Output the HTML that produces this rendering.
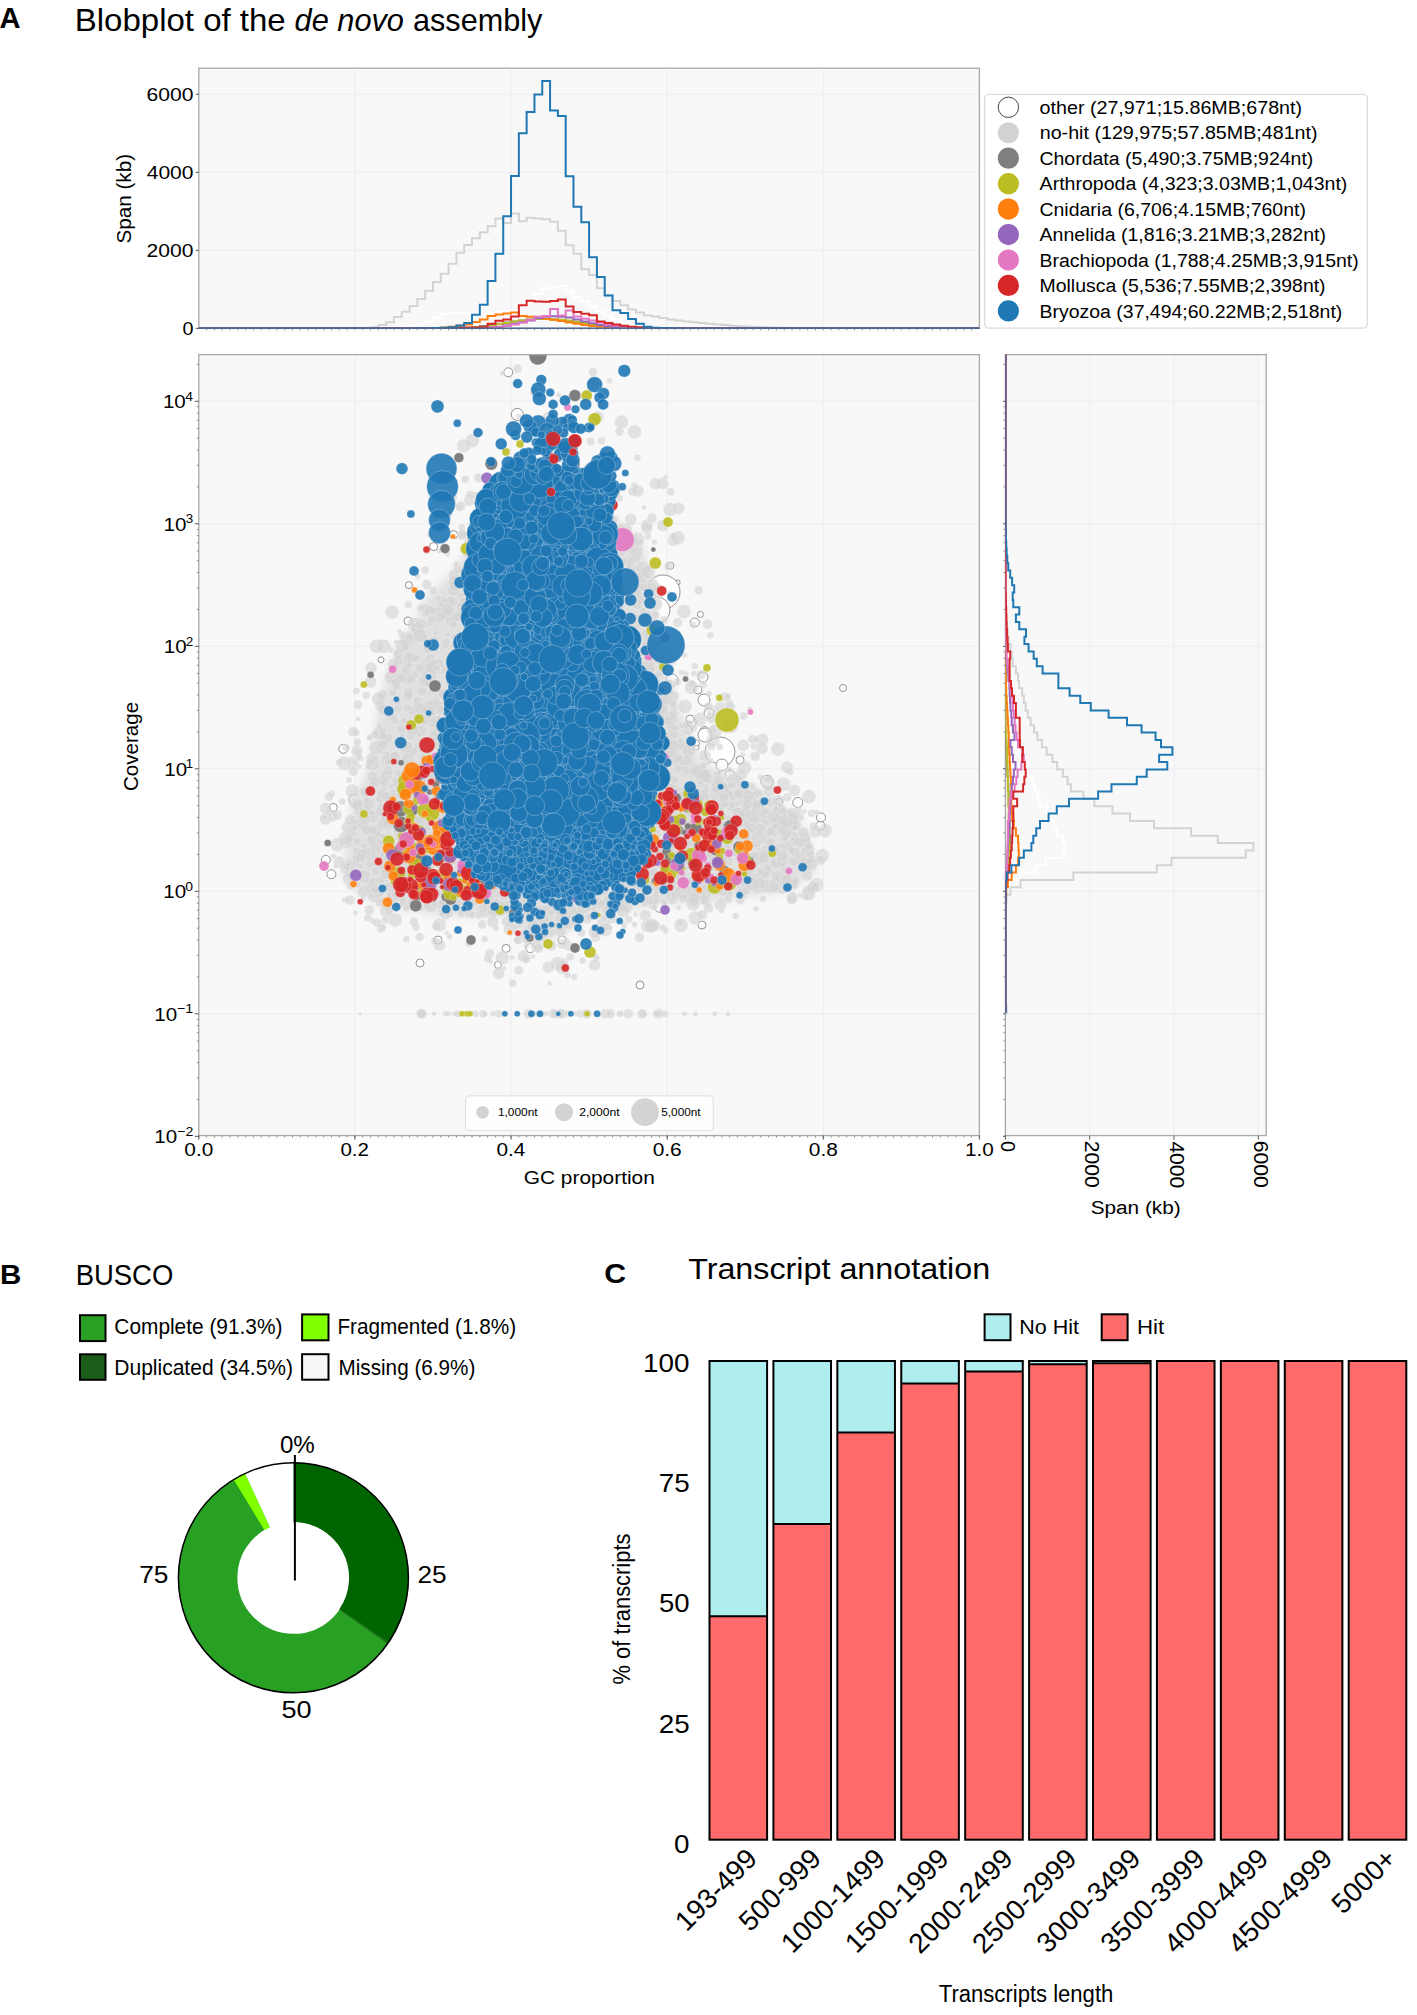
<!DOCTYPE html><html><head><meta charset="utf-8"><style>html,body{margin:0;padding:0;background:#fff;}svg{display:block;}text{font-family:"Liberation Sans",sans-serif;}</style></head><body>
<svg width="1417" height="2015" viewBox="0 0 1417 2015">
<rect width="1417" height="2015" fill="#fff"/>
<text x="-0.43" y="28.30" font-size="29.00" font-weight="bold" textLength="21.02" lengthAdjust="spacingAndGlyphs" fill="#000">A</text>
<text x="74.78" y="31.20" font-size="30.50" textLength="210.97" lengthAdjust="spacingAndGlyphs" fill="#000">Blobplot of the</text>
<text x="294.60" y="31.20" font-size="30.50" font-style="italic" textLength="109.36" lengthAdjust="spacingAndGlyphs" fill="#000">de novo</text>
<text x="413.00" y="31.20" font-size="30.50" textLength="129.31" lengthAdjust="spacingAndGlyphs" fill="#000">assembly</text>
<rect x="198.8" y="68.2" width="780.60" height="260.20" fill="#f8f8f8"/>
<line x1="198.8" x2="979.4" y1="250.37" y2="250.37" stroke="#eeeef3" stroke-width="1.2"/>
<line x1="198.8" x2="979.4" y1="172.34" y2="172.34" stroke="#eeeef3" stroke-width="1.2"/>
<line x1="198.8" x2="979.4" y1="94.31" y2="94.31" stroke="#eeeef3" stroke-width="1.2"/>
<line x1="354.92" x2="354.92" y1="68.2" y2="328.4" stroke="#eeeef3" stroke-width="1.2"/>
<line x1="511.04" x2="511.04" y1="68.2" y2="328.4" stroke="#eeeef3" stroke-width="1.2"/>
<line x1="667.16" x2="667.16" y1="68.2" y2="328.4" stroke="#eeeef3" stroke-width="1.2"/>
<line x1="823.28" x2="823.28" y1="68.2" y2="328.4" stroke="#eeeef3" stroke-width="1.2"/>
<rect x="198.8" y="68.2" width="780.60" height="260.20" fill="none" stroke="#a8a8a8" stroke-width="1.3"/>
<clipPath id="clipT"><rect x="198.8" y="68.2" width="780.60" height="260.20"/></clipPath>
<g clip-path="url(#clipT)">
<path d="M198.80,328.40 L198.80,328.40 L206.61,328.40 L206.61,328.40 L214.41,328.40 L214.41,328.40 L222.22,328.40 L222.22,328.40 L230.02,328.40 L230.02,328.40 L237.83,328.40 L237.83,328.40 L245.64,328.40 L245.64,328.40 L253.44,328.40 L253.44,328.40 L261.25,328.40 L261.25,328.40 L269.05,328.40 L269.05,328.40 L276.86,328.40 L276.86,328.40 L284.67,328.40 L284.67,328.40 L292.47,328.40 L292.47,328.40 L300.28,328.40 L300.28,328.40 L308.08,328.40 L308.08,328.40 L315.89,328.40 L315.89,328.40 L323.70,328.40 L323.70,328.40 L331.50,328.40 L331.50,328.40 L339.31,328.40 L339.31,328.40 L347.11,328.40 L347.11,328.40 L354.92,328.40 L354.92,328.40 L362.73,328.40 L362.73,328.40 L370.53,328.40 L370.53,328.40 L378.34,328.40 L378.34,328.40 L386.14,328.40 L386.14,327.62 L393.95,327.62 L393.95,326.84 L401.76,326.84 L401.76,326.06 L409.56,326.06 L409.56,324.89 L417.37,324.89 L417.37,323.33 L425.17,323.33 L425.17,321.38 L432.98,321.38 L432.98,317.48 L440.79,317.48 L440.79,314.35 L448.59,314.35 L448.59,313.18 L456.40,313.18 L456.40,313.11 L464.20,313.11 L464.20,313.57 L472.01,313.57 L472.01,313.96 L479.82,313.96 L479.82,313.57 L487.62,313.57 L487.62,312.79 L495.43,312.79 L495.43,312.01 L503.23,312.01 L503.23,311.23 L511.04,311.23 L511.04,310.84 L518.85,310.84 L518.85,306.94 L526.65,306.94 L526.65,301.09 L534.46,301.09 L534.46,294.07 L542.26,294.07 L542.26,288.72 L550.07,288.72 L550.07,287.32 L557.88,287.32 L557.88,285.91 L565.68,285.91 L565.68,291.49 L573.49,291.49 L573.49,297.11 L581.29,297.11 L581.29,301.40 L589.10,301.40 L589.10,307.02 L596.91,307.02 L596.91,312.01 L604.71,312.01 L604.71,316.19 L612.52,316.19 L612.52,319.70 L620.32,319.70 L620.32,322.59 L628.13,322.59 L628.13,324.69 L635.94,324.69 L635.94,326.06 L643.74,326.06 L643.74,326.84 L651.55,326.84 L651.55,327.42 L659.35,327.42 L659.35,327.81 L667.16,327.81 L667.16,328.09 L674.97,328.09 L674.97,328.40 L682.77,328.40 L682.77,328.40 L690.58,328.40 L690.58,328.40 L698.38,328.40 L698.38,328.40 L706.19,328.40 L706.19,328.40 L714.00,328.40 L714.00,328.40 L721.80,328.40 L721.80,328.40 L729.61,328.40 L729.61,328.40 L737.41,328.40 L737.41,328.40 L745.22,328.40 L745.22,328.40 L753.03,328.40 L753.03,328.40 L760.83,328.40 L760.83,328.40 L768.64,328.40 L768.64,328.40 L776.44,328.40 L776.44,328.40 L784.25,328.40 L784.25,328.40 L792.06,328.40 L792.06,328.40 L799.86,328.40 L799.86,328.40 L807.67,328.40 L807.67,328.40 L815.47,328.40 L815.47,328.40 L823.28,328.40 L823.28,328.40 L831.09,328.40 L831.09,328.40 L838.89,328.40 L838.89,328.40 L846.70,328.40 L846.70,328.40 L854.50,328.40 L854.50,328.40 L862.31,328.40 L862.31,328.40 L870.12,328.40 L870.12,328.40 L877.92,328.40 L877.92,328.40 L885.73,328.40 L885.73,328.40 L893.53,328.40 L893.53,328.40 L901.34,328.40 L901.34,328.40 L909.15,328.40 L909.15,328.40 L916.95,328.40 L916.95,328.40 L924.76,328.40 L924.76,328.40 L932.56,328.40 L932.56,328.40 L940.37,328.40 L940.37,328.40 L948.18,328.40 L948.18,328.40 L955.98,328.40 L955.98,328.40 L963.79,328.40 L963.79,328.40 L971.59,328.40 L971.59,328.40 L979.40,328.40 L979.40,328.40" fill="none" stroke="#ffffff" stroke-width="2" stroke-linejoin="miter"/>
<path d="M198.80,328.40 L198.80,328.40 L206.61,328.40 L206.61,328.40 L214.41,328.40 L214.41,328.40 L222.22,328.40 L222.22,328.40 L230.02,328.40 L230.02,328.40 L237.83,328.40 L237.83,328.40 L245.64,328.40 L245.64,328.40 L253.44,328.40 L253.44,328.40 L261.25,328.40 L261.25,328.40 L269.05,328.40 L269.05,328.40 L276.86,328.40 L276.86,328.40 L284.67,328.40 L284.67,328.40 L292.47,328.40 L292.47,328.40 L300.28,328.40 L300.28,328.40 L308.08,328.40 L308.08,328.40 L315.89,328.40 L315.89,328.28 L323.70,328.28 L323.70,328.24 L331.50,328.24 L331.50,328.20 L339.31,328.20 L339.31,328.17 L347.11,328.17 L347.11,328.09 L354.92,328.09 L354.92,328.01 L362.73,328.01 L362.73,327.89 L370.53,327.89 L370.53,327.23 L378.34,327.23 L378.34,325.08 L386.14,325.08 L386.14,322.20 L393.95,322.20 L393.95,317.01 L401.76,317.01 L401.76,311.70 L409.56,311.70 L409.56,306.01 L417.37,306.01 L417.37,298.98 L425.17,298.98 L425.17,290.79 L432.98,290.79 L432.98,281.97 L440.79,281.97 L440.79,273.78 L448.59,273.78 L448.59,263.67 L456.40,263.67 L456.40,252.79 L464.20,252.79 L464.20,244.99 L472.01,244.99 L472.01,238.28 L479.82,238.28 L479.82,232.27 L487.62,232.27 L487.62,226.26 L495.43,226.26 L495.43,218.46 L503.23,218.46 L503.23,222.94 L511.04,222.94 L511.04,213.58 L518.85,213.58 L518.85,221.26 L526.65,221.26 L526.65,217.75 L534.46,217.75 L534.46,218.46 L542.26,218.46 L542.26,219.16 L550.07,219.16 L550.07,221.77 L557.88,221.77 L557.88,230.78 L565.68,230.78 L565.68,245.30 L573.49,245.30 L573.49,253.76 L581.29,253.76 L581.29,269.29 L589.10,269.29 L589.10,274.99 L596.91,274.99 L596.91,288.37 L604.71,288.37 L604.71,295.24 L612.52,295.24 L612.52,301.09 L620.32,301.09 L620.32,305.30 L628.13,305.30 L628.13,309.48 L635.94,309.48 L635.94,312.40 L643.74,312.40 L643.74,315.21 L651.55,315.21 L651.55,316.38 L659.35,316.38 L659.35,317.98 L667.16,317.98 L667.16,319.39 L674.97,319.39 L674.97,320.60 L682.77,320.60 L682.77,321.38 L690.58,321.38 L690.58,322.16 L698.38,322.16 L698.38,322.94 L706.19,322.94 L706.19,323.72 L714.00,323.72 L714.00,324.50 L721.80,324.50 L721.80,325.08 L729.61,325.08 L729.61,325.67 L737.41,325.67 L737.41,326.25 L745.22,326.25 L745.22,326.64 L753.03,326.64 L753.03,327.03 L760.83,327.03 L760.83,327.31 L768.64,327.31 L768.64,327.62 L776.44,327.62 L776.44,327.81 L784.25,327.81 L784.25,328.01 L792.06,328.01 L792.06,328.09 L799.86,328.09 L799.86,328.20 L807.67,328.20 L807.67,328.24 L815.47,328.24 L815.47,328.28 L823.28,328.28 L823.28,328.40 L831.09,328.40 L831.09,328.40 L838.89,328.40 L838.89,328.40 L846.70,328.40 L846.70,328.40 L854.50,328.40 L854.50,328.40 L862.31,328.40 L862.31,328.40 L870.12,328.40 L870.12,328.40 L877.92,328.40 L877.92,328.40 L885.73,328.40 L885.73,328.40 L893.53,328.40 L893.53,328.40 L901.34,328.40 L901.34,328.40 L909.15,328.40 L909.15,328.40 L916.95,328.40 L916.95,328.40 L924.76,328.40 L924.76,328.40 L932.56,328.40 L932.56,328.40 L940.37,328.40 L940.37,328.40 L948.18,328.40 L948.18,328.40 L955.98,328.40 L955.98,328.40 L963.79,328.40 L963.79,328.40 L971.59,328.40 L971.59,328.40 L979.40,328.40 L979.40,328.40" fill="none" stroke="#d3d3d3" stroke-width="2" stroke-linejoin="miter"/>
<path d="M198.80,328.40 L198.80,328.40 L206.61,328.40 L206.61,328.40 L214.41,328.40 L214.41,328.40 L222.22,328.40 L222.22,328.40 L230.02,328.40 L230.02,328.40 L237.83,328.40 L237.83,328.40 L245.64,328.40 L245.64,328.40 L253.44,328.40 L253.44,328.40 L261.25,328.40 L261.25,328.40 L269.05,328.40 L269.05,328.40 L276.86,328.40 L276.86,328.40 L284.67,328.40 L284.67,328.40 L292.47,328.40 L292.47,328.40 L300.28,328.40 L300.28,328.40 L308.08,328.40 L308.08,328.40 L315.89,328.40 L315.89,328.40 L323.70,328.40 L323.70,328.40 L331.50,328.40 L331.50,328.40 L339.31,328.40 L339.31,328.40 L347.11,328.40 L347.11,328.40 L354.92,328.40 L354.92,328.40 L362.73,328.40 L362.73,328.40 L370.53,328.40 L370.53,328.40 L378.34,328.40 L378.34,328.40 L386.14,328.40 L386.14,328.40 L393.95,328.40 L393.95,328.40 L401.76,328.40 L401.76,328.40 L409.56,328.40 L409.56,328.40 L417.37,328.40 L417.37,328.40 L425.17,328.40 L425.17,328.40 L432.98,328.40 L432.98,328.40 L440.79,328.40 L440.79,328.40 L448.59,328.40 L448.59,328.40 L456.40,328.40 L456.40,328.40 L464.20,328.40 L464.20,328.01 L472.01,328.01 L472.01,327.23 L479.82,327.23 L479.82,326.06 L487.62,326.06 L487.62,324.89 L495.43,324.89 L495.43,323.72 L503.23,323.72 L503.23,322.55 L511.04,322.55 L511.04,321.38 L518.85,321.38 L518.85,320.60 L526.65,320.60 L526.65,319.43 L534.46,319.43 L534.46,318.65 L542.26,318.65 L542.26,319.04 L550.07,319.04 L550.07,319.43 L557.88,319.43 L557.88,320.21 L565.68,320.21 L565.68,321.38 L573.49,321.38 L573.49,322.55 L581.29,322.55 L581.29,323.72 L589.10,323.72 L589.10,324.89 L596.91,324.89 L596.91,326.06 L604.71,326.06 L604.71,326.84 L612.52,326.84 L612.52,327.62 L620.32,327.62 L620.32,328.01 L628.13,328.01 L628.13,328.40 L635.94,328.40 L635.94,328.40 L643.74,328.40 L643.74,328.40 L651.55,328.40 L651.55,328.40 L659.35,328.40 L659.35,328.40 L667.16,328.40 L667.16,328.40 L674.97,328.40 L674.97,328.40 L682.77,328.40 L682.77,328.40 L690.58,328.40 L690.58,328.40 L698.38,328.40 L698.38,328.40 L706.19,328.40 L706.19,328.40 L714.00,328.40 L714.00,328.40 L721.80,328.40 L721.80,328.40 L729.61,328.40 L729.61,328.40 L737.41,328.40 L737.41,328.40 L745.22,328.40 L745.22,328.40 L753.03,328.40 L753.03,328.40 L760.83,328.40 L760.83,328.40 L768.64,328.40 L768.64,328.40 L776.44,328.40 L776.44,328.40 L784.25,328.40 L784.25,328.40 L792.06,328.40 L792.06,328.40 L799.86,328.40 L799.86,328.40 L807.67,328.40 L807.67,328.40 L815.47,328.40 L815.47,328.40 L823.28,328.40 L823.28,328.40 L831.09,328.40 L831.09,328.40 L838.89,328.40 L838.89,328.40 L846.70,328.40 L846.70,328.40 L854.50,328.40 L854.50,328.40 L862.31,328.40 L862.31,328.40 L870.12,328.40 L870.12,328.40 L877.92,328.40 L877.92,328.40 L885.73,328.40 L885.73,328.40 L893.53,328.40 L893.53,328.40 L901.34,328.40 L901.34,328.40 L909.15,328.40 L909.15,328.40 L916.95,328.40 L916.95,328.40 L924.76,328.40 L924.76,328.40 L932.56,328.40 L932.56,328.40 L940.37,328.40 L940.37,328.40 L948.18,328.40 L948.18,328.40 L955.98,328.40 L955.98,328.40 L963.79,328.40 L963.79,328.40 L971.59,328.40 L971.59,328.40 L979.40,328.40 L979.40,328.40" fill="none" stroke="#7f7f7f" stroke-width="2" stroke-linejoin="miter"/>
<path d="M198.80,328.40 L198.80,328.40 L206.61,328.40 L206.61,328.40 L214.41,328.40 L214.41,328.40 L222.22,328.40 L222.22,328.40 L230.02,328.40 L230.02,328.40 L237.83,328.40 L237.83,328.40 L245.64,328.40 L245.64,328.40 L253.44,328.40 L253.44,328.40 L261.25,328.40 L261.25,328.40 L269.05,328.40 L269.05,328.40 L276.86,328.40 L276.86,328.40 L284.67,328.40 L284.67,328.40 L292.47,328.40 L292.47,328.40 L300.28,328.40 L300.28,328.40 L308.08,328.40 L308.08,328.40 L315.89,328.40 L315.89,328.40 L323.70,328.40 L323.70,328.40 L331.50,328.40 L331.50,328.40 L339.31,328.40 L339.31,328.40 L347.11,328.40 L347.11,328.40 L354.92,328.40 L354.92,328.40 L362.73,328.40 L362.73,328.40 L370.53,328.40 L370.53,328.40 L378.34,328.40 L378.34,328.40 L386.14,328.40 L386.14,328.40 L393.95,328.40 L393.95,328.40 L401.76,328.40 L401.76,328.40 L409.56,328.40 L409.56,328.40 L417.37,328.40 L417.37,328.40 L425.17,328.40 L425.17,328.40 L432.98,328.40 L432.98,328.40 L440.79,328.40 L440.79,328.40 L448.59,328.40 L448.59,328.40 L456.40,328.40 L456.40,328.40 L464.20,328.40 L464.20,328.01 L472.01,328.01 L472.01,327.62 L479.82,327.62 L479.82,327.23 L487.62,327.23 L487.62,325.67 L495.43,325.67 L495.43,324.11 L503.23,324.11 L503.23,322.94 L511.04,322.94 L511.04,321.38 L518.85,321.38 L518.85,320.60 L526.65,320.60 L526.65,319.82 L534.46,319.82 L534.46,319.04 L542.26,319.04 L542.26,319.04 L550.07,319.04 L550.07,319.43 L557.88,319.43 L557.88,319.82 L565.68,319.82 L565.68,320.60 L573.49,320.60 L573.49,321.77 L581.29,321.77 L581.29,322.94 L589.10,322.94 L589.10,324.50 L596.91,324.50 L596.91,325.67 L604.71,325.67 L604.71,326.64 L612.52,326.64 L612.52,327.42 L620.32,327.42 L620.32,328.01 L628.13,328.01 L628.13,328.40 L635.94,328.40 L635.94,328.40 L643.74,328.40 L643.74,328.40 L651.55,328.40 L651.55,328.40 L659.35,328.40 L659.35,328.40 L667.16,328.40 L667.16,328.40 L674.97,328.40 L674.97,328.40 L682.77,328.40 L682.77,328.40 L690.58,328.40 L690.58,328.40 L698.38,328.40 L698.38,328.40 L706.19,328.40 L706.19,328.40 L714.00,328.40 L714.00,328.40 L721.80,328.40 L721.80,328.40 L729.61,328.40 L729.61,328.40 L737.41,328.40 L737.41,328.40 L745.22,328.40 L745.22,328.40 L753.03,328.40 L753.03,328.40 L760.83,328.40 L760.83,328.40 L768.64,328.40 L768.64,328.40 L776.44,328.40 L776.44,328.40 L784.25,328.40 L784.25,328.40 L792.06,328.40 L792.06,328.40 L799.86,328.40 L799.86,328.40 L807.67,328.40 L807.67,328.40 L815.47,328.40 L815.47,328.40 L823.28,328.40 L823.28,328.40 L831.09,328.40 L831.09,328.40 L838.89,328.40 L838.89,328.40 L846.70,328.40 L846.70,328.40 L854.50,328.40 L854.50,328.40 L862.31,328.40 L862.31,328.40 L870.12,328.40 L870.12,328.40 L877.92,328.40 L877.92,328.40 L885.73,328.40 L885.73,328.40 L893.53,328.40 L893.53,328.40 L901.34,328.40 L901.34,328.40 L909.15,328.40 L909.15,328.40 L916.95,328.40 L916.95,328.40 L924.76,328.40 L924.76,328.40 L932.56,328.40 L932.56,328.40 L940.37,328.40 L940.37,328.40 L948.18,328.40 L948.18,328.40 L955.98,328.40 L955.98,328.40 L963.79,328.40 L963.79,328.40 L971.59,328.40 L971.59,328.40 L979.40,328.40 L979.40,328.40" fill="none" stroke="#bcbd22" stroke-width="2" stroke-linejoin="miter"/>
<path d="M198.80,328.40 L198.80,328.40 L206.61,328.40 L206.61,328.40 L214.41,328.40 L214.41,328.40 L222.22,328.40 L222.22,328.40 L230.02,328.40 L230.02,328.40 L237.83,328.40 L237.83,328.40 L245.64,328.40 L245.64,328.40 L253.44,328.40 L253.44,328.40 L261.25,328.40 L261.25,328.40 L269.05,328.40 L269.05,328.40 L276.86,328.40 L276.86,328.40 L284.67,328.40 L284.67,328.40 L292.47,328.40 L292.47,328.40 L300.28,328.40 L300.28,328.40 L308.08,328.40 L308.08,328.40 L315.89,328.40 L315.89,328.40 L323.70,328.40 L323.70,328.40 L331.50,328.40 L331.50,328.40 L339.31,328.40 L339.31,328.40 L347.11,328.40 L347.11,328.40 L354.92,328.40 L354.92,328.40 L362.73,328.40 L362.73,328.40 L370.53,328.40 L370.53,328.40 L378.34,328.40 L378.34,328.40 L386.14,328.40 L386.14,328.40 L393.95,328.40 L393.95,328.40 L401.76,328.40 L401.76,328.40 L409.56,328.40 L409.56,328.40 L417.37,328.40 L417.37,328.20 L425.17,328.20 L425.17,328.09 L432.98,328.09 L432.98,328.01 L440.79,328.01 L440.79,327.62 L448.59,327.62 L448.59,326.84 L456.40,326.84 L456.40,325.67 L464.20,325.67 L464.20,324.38 L472.01,324.38 L472.01,322.00 L479.82,322.00 L479.82,319.39 L487.62,319.39 L487.62,315.88 L495.43,315.88 L495.43,314.39 L503.23,314.39 L503.23,313.38 L511.04,313.38 L511.04,312.40 L518.85,312.40 L518.85,315.88 L526.65,315.88 L526.65,316.70 L534.46,316.70 L534.46,317.48 L542.26,317.48 L542.26,318.65 L550.07,318.65 L550.07,319.82 L557.88,319.82 L557.88,320.99 L565.68,320.99 L565.68,322.55 L573.49,322.55 L573.49,323.72 L581.29,323.72 L581.29,324.89 L589.10,324.89 L589.10,326.06 L596.91,326.06 L596.91,326.84 L604.71,326.84 L604.71,327.42 L612.52,327.42 L612.52,327.81 L620.32,327.81 L620.32,328.09 L628.13,328.09 L628.13,328.40 L635.94,328.40 L635.94,328.40 L643.74,328.40 L643.74,328.40 L651.55,328.40 L651.55,328.40 L659.35,328.40 L659.35,328.40 L667.16,328.40 L667.16,328.40 L674.97,328.40 L674.97,328.40 L682.77,328.40 L682.77,328.40 L690.58,328.40 L690.58,328.40 L698.38,328.40 L698.38,328.40 L706.19,328.40 L706.19,328.40 L714.00,328.40 L714.00,328.40 L721.80,328.40 L721.80,328.40 L729.61,328.40 L729.61,328.40 L737.41,328.40 L737.41,328.40 L745.22,328.40 L745.22,328.40 L753.03,328.40 L753.03,328.40 L760.83,328.40 L760.83,328.40 L768.64,328.40 L768.64,328.40 L776.44,328.40 L776.44,328.40 L784.25,328.40 L784.25,328.40 L792.06,328.40 L792.06,328.40 L799.86,328.40 L799.86,328.40 L807.67,328.40 L807.67,328.40 L815.47,328.40 L815.47,328.40 L823.28,328.40 L823.28,328.40 L831.09,328.40 L831.09,328.40 L838.89,328.40 L838.89,328.40 L846.70,328.40 L846.70,328.40 L854.50,328.40 L854.50,328.40 L862.31,328.40 L862.31,328.40 L870.12,328.40 L870.12,328.40 L877.92,328.40 L877.92,328.40 L885.73,328.40 L885.73,328.40 L893.53,328.40 L893.53,328.40 L901.34,328.40 L901.34,328.40 L909.15,328.40 L909.15,328.40 L916.95,328.40 L916.95,328.40 L924.76,328.40 L924.76,328.40 L932.56,328.40 L932.56,328.40 L940.37,328.40 L940.37,328.40 L948.18,328.40 L948.18,328.40 L955.98,328.40 L955.98,328.40 L963.79,328.40 L963.79,328.40 L971.59,328.40 L971.59,328.40 L979.40,328.40 L979.40,328.40" fill="none" stroke="#ff7f0e" stroke-width="2" stroke-linejoin="miter"/>
<path d="M198.80,328.40 L198.80,328.40 L206.61,328.40 L206.61,328.40 L214.41,328.40 L214.41,328.40 L222.22,328.40 L222.22,328.40 L230.02,328.40 L230.02,328.40 L237.83,328.40 L237.83,328.40 L245.64,328.40 L245.64,328.40 L253.44,328.40 L253.44,328.40 L261.25,328.40 L261.25,328.40 L269.05,328.40 L269.05,328.40 L276.86,328.40 L276.86,328.40 L284.67,328.40 L284.67,328.40 L292.47,328.40 L292.47,328.40 L300.28,328.40 L300.28,328.40 L308.08,328.40 L308.08,328.40 L315.89,328.40 L315.89,328.40 L323.70,328.40 L323.70,328.40 L331.50,328.40 L331.50,328.40 L339.31,328.40 L339.31,328.40 L347.11,328.40 L347.11,328.40 L354.92,328.40 L354.92,328.40 L362.73,328.40 L362.73,328.40 L370.53,328.40 L370.53,328.40 L378.34,328.40 L378.34,328.40 L386.14,328.40 L386.14,328.40 L393.95,328.40 L393.95,328.40 L401.76,328.40 L401.76,328.40 L409.56,328.40 L409.56,328.40 L417.37,328.40 L417.37,328.40 L425.17,328.40 L425.17,328.40 L432.98,328.40 L432.98,328.40 L440.79,328.40 L440.79,328.40 L448.59,328.40 L448.59,328.40 L456.40,328.40 L456.40,328.40 L464.20,328.40 L464.20,328.40 L472.01,328.40 L472.01,328.40 L479.82,328.40 L479.82,328.01 L487.62,328.01 L487.62,327.62 L495.43,327.62 L495.43,326.84 L503.23,326.84 L503.23,325.28 L511.04,325.28 L511.04,323.72 L518.85,323.72 L518.85,322.16 L526.65,322.16 L526.65,320.60 L534.46,320.60 L534.46,318.26 L542.26,318.26 L542.26,316.70 L550.07,316.70 L550.07,316.31 L557.88,316.31 L557.88,316.70 L565.68,316.70 L565.68,317.48 L573.49,317.48 L573.49,319.43 L581.29,319.43 L581.29,321.38 L589.10,321.38 L589.10,323.33 L596.91,323.33 L596.91,324.89 L604.71,324.89 L604.71,326.06 L612.52,326.06 L612.52,327.03 L620.32,327.03 L620.32,327.62 L628.13,327.62 L628.13,328.01 L635.94,328.01 L635.94,328.40 L643.74,328.40 L643.74,328.40 L651.55,328.40 L651.55,328.40 L659.35,328.40 L659.35,328.40 L667.16,328.40 L667.16,328.40 L674.97,328.40 L674.97,328.40 L682.77,328.40 L682.77,328.40 L690.58,328.40 L690.58,328.40 L698.38,328.40 L698.38,328.40 L706.19,328.40 L706.19,328.40 L714.00,328.40 L714.00,328.40 L721.80,328.40 L721.80,328.40 L729.61,328.40 L729.61,328.40 L737.41,328.40 L737.41,328.40 L745.22,328.40 L745.22,328.40 L753.03,328.40 L753.03,328.40 L760.83,328.40 L760.83,328.40 L768.64,328.40 L768.64,328.40 L776.44,328.40 L776.44,328.40 L784.25,328.40 L784.25,328.40 L792.06,328.40 L792.06,328.40 L799.86,328.40 L799.86,328.40 L807.67,328.40 L807.67,328.40 L815.47,328.40 L815.47,328.40 L823.28,328.40 L823.28,328.40 L831.09,328.40 L831.09,328.40 L838.89,328.40 L838.89,328.40 L846.70,328.40 L846.70,328.40 L854.50,328.40 L854.50,328.40 L862.31,328.40 L862.31,328.40 L870.12,328.40 L870.12,328.40 L877.92,328.40 L877.92,328.40 L885.73,328.40 L885.73,328.40 L893.53,328.40 L893.53,328.40 L901.34,328.40 L901.34,328.40 L909.15,328.40 L909.15,328.40 L916.95,328.40 L916.95,328.40 L924.76,328.40 L924.76,328.40 L932.56,328.40 L932.56,328.40 L940.37,328.40 L940.37,328.40 L948.18,328.40 L948.18,328.40 L955.98,328.40 L955.98,328.40 L963.79,328.40 L963.79,328.40 L971.59,328.40 L971.59,328.40 L979.40,328.40 L979.40,328.40" fill="none" stroke="#9467bd" stroke-width="2" stroke-linejoin="miter"/>
<path d="M198.80,328.40 L198.80,328.40 L206.61,328.40 L206.61,328.40 L214.41,328.40 L214.41,328.40 L222.22,328.40 L222.22,328.40 L230.02,328.40 L230.02,328.40 L237.83,328.40 L237.83,328.40 L245.64,328.40 L245.64,328.40 L253.44,328.40 L253.44,328.40 L261.25,328.40 L261.25,328.40 L269.05,328.40 L269.05,328.40 L276.86,328.40 L276.86,328.40 L284.67,328.40 L284.67,328.40 L292.47,328.40 L292.47,328.40 L300.28,328.40 L300.28,328.40 L308.08,328.40 L308.08,328.40 L315.89,328.40 L315.89,328.40 L323.70,328.40 L323.70,328.40 L331.50,328.40 L331.50,328.40 L339.31,328.40 L339.31,328.40 L347.11,328.40 L347.11,328.40 L354.92,328.40 L354.92,328.40 L362.73,328.40 L362.73,328.40 L370.53,328.40 L370.53,328.40 L378.34,328.40 L378.34,328.40 L386.14,328.40 L386.14,328.40 L393.95,328.40 L393.95,328.40 L401.76,328.40 L401.76,328.40 L409.56,328.40 L409.56,328.40 L417.37,328.40 L417.37,328.40 L425.17,328.40 L425.17,328.40 L432.98,328.40 L432.98,328.40 L440.79,328.40 L440.79,328.40 L448.59,328.40 L448.59,328.40 L456.40,328.40 L456.40,328.40 L464.20,328.40 L464.20,328.40 L472.01,328.40 L472.01,328.40 L479.82,328.40 L479.82,328.01 L487.62,328.01 L487.62,327.62 L495.43,327.62 L495.43,327.23 L503.23,327.23 L503.23,326.06 L511.04,326.06 L511.04,324.50 L518.85,324.50 L518.85,322.55 L526.65,322.55 L526.65,319.82 L534.46,319.82 L534.46,316.70 L542.26,316.70 L542.26,315.92 L550.07,315.92 L550.07,309.09 L557.88,309.09 L557.88,315.53 L565.68,315.53 L565.68,310.41 L573.49,310.41 L573.49,316.62 L581.29,316.62 L581.29,318.65 L589.10,318.65 L589.10,320.60 L596.91,320.60 L596.91,322.55 L604.71,322.55 L604.71,324.50 L612.52,324.50 L612.52,325.67 L620.32,325.67 L620.32,326.64 L628.13,326.64 L628.13,327.42 L635.94,327.42 L635.94,328.01 L643.74,328.01 L643.74,328.40 L651.55,328.40 L651.55,328.40 L659.35,328.40 L659.35,328.40 L667.16,328.40 L667.16,328.40 L674.97,328.40 L674.97,328.40 L682.77,328.40 L682.77,328.40 L690.58,328.40 L690.58,328.40 L698.38,328.40 L698.38,328.40 L706.19,328.40 L706.19,328.40 L714.00,328.40 L714.00,328.40 L721.80,328.40 L721.80,328.40 L729.61,328.40 L729.61,328.40 L737.41,328.40 L737.41,328.40 L745.22,328.40 L745.22,328.40 L753.03,328.40 L753.03,328.40 L760.83,328.40 L760.83,328.40 L768.64,328.40 L768.64,328.40 L776.44,328.40 L776.44,328.40 L784.25,328.40 L784.25,328.40 L792.06,328.40 L792.06,328.40 L799.86,328.40 L799.86,328.40 L807.67,328.40 L807.67,328.40 L815.47,328.40 L815.47,328.40 L823.28,328.40 L823.28,328.40 L831.09,328.40 L831.09,328.40 L838.89,328.40 L838.89,328.40 L846.70,328.40 L846.70,328.40 L854.50,328.40 L854.50,328.40 L862.31,328.40 L862.31,328.40 L870.12,328.40 L870.12,328.40 L877.92,328.40 L877.92,328.40 L885.73,328.40 L885.73,328.40 L893.53,328.40 L893.53,328.40 L901.34,328.40 L901.34,328.40 L909.15,328.40 L909.15,328.40 L916.95,328.40 L916.95,328.40 L924.76,328.40 L924.76,328.40 L932.56,328.40 L932.56,328.40 L940.37,328.40 L940.37,328.40 L948.18,328.40 L948.18,328.40 L955.98,328.40 L955.98,328.40 L963.79,328.40 L963.79,328.40 L971.59,328.40 L971.59,328.40 L979.40,328.40 L979.40,328.40" fill="none" stroke="#e377c2" stroke-width="2" stroke-linejoin="miter"/>
<path d="M198.80,328.40 L198.80,328.40 L206.61,328.40 L206.61,328.40 L214.41,328.40 L214.41,328.40 L222.22,328.40 L222.22,328.40 L230.02,328.40 L230.02,328.40 L237.83,328.40 L237.83,328.40 L245.64,328.40 L245.64,328.40 L253.44,328.40 L253.44,328.40 L261.25,328.40 L261.25,328.40 L269.05,328.40 L269.05,328.40 L276.86,328.40 L276.86,328.40 L284.67,328.40 L284.67,328.40 L292.47,328.40 L292.47,328.40 L300.28,328.40 L300.28,328.40 L308.08,328.40 L308.08,328.40 L315.89,328.40 L315.89,328.40 L323.70,328.40 L323.70,328.40 L331.50,328.40 L331.50,328.40 L339.31,328.40 L339.31,328.40 L347.11,328.40 L347.11,328.40 L354.92,328.40 L354.92,328.40 L362.73,328.40 L362.73,328.40 L370.53,328.40 L370.53,328.40 L378.34,328.40 L378.34,328.40 L386.14,328.40 L386.14,328.40 L393.95,328.40 L393.95,328.40 L401.76,328.40 L401.76,328.40 L409.56,328.40 L409.56,328.40 L417.37,328.40 L417.37,328.40 L425.17,328.40 L425.17,328.40 L432.98,328.40 L432.98,328.20 L440.79,328.20 L440.79,328.09 L448.59,328.09 L448.59,327.93 L456.40,327.93 L456.40,327.81 L464.20,327.81 L464.20,327.62 L472.01,327.62 L472.01,327.42 L479.82,327.42 L479.82,327.23 L487.62,327.23 L487.62,323.68 L495.43,323.68 L495.43,320.79 L503.23,320.79 L503.23,319.39 L511.04,319.39 L511.04,316.62 L518.85,316.62 L518.85,305.30 L526.65,305.30 L526.65,300.82 L534.46,300.82 L534.46,301.48 L542.26,301.48 L542.26,301.79 L550.07,301.79 L550.07,301.09 L557.88,301.09 L557.88,299.41 L565.68,299.41 L565.68,306.40 L573.49,306.40 L573.49,311.90 L581.29,311.90 L581.29,313.81 L589.10,313.81 L589.10,315.21 L596.91,315.21 L596.91,321.42 L604.71,321.42 L604.71,322.94 L612.52,322.94 L612.52,324.50 L620.32,324.50 L620.32,325.67 L628.13,325.67 L628.13,326.64 L635.94,326.64 L635.94,327.23 L643.74,327.23 L643.74,327.62 L651.55,327.62 L651.55,327.93 L659.35,327.93 L659.35,328.09 L667.16,328.09 L667.16,328.20 L674.97,328.20 L674.97,328.40 L682.77,328.40 L682.77,328.40 L690.58,328.40 L690.58,328.40 L698.38,328.40 L698.38,328.40 L706.19,328.40 L706.19,328.40 L714.00,328.40 L714.00,328.40 L721.80,328.40 L721.80,328.40 L729.61,328.40 L729.61,328.40 L737.41,328.40 L737.41,328.40 L745.22,328.40 L745.22,328.40 L753.03,328.40 L753.03,328.40 L760.83,328.40 L760.83,328.40 L768.64,328.40 L768.64,328.40 L776.44,328.40 L776.44,328.40 L784.25,328.40 L784.25,328.40 L792.06,328.40 L792.06,328.40 L799.86,328.40 L799.86,328.40 L807.67,328.40 L807.67,328.40 L815.47,328.40 L815.47,328.40 L823.28,328.40 L823.28,328.40 L831.09,328.40 L831.09,328.40 L838.89,328.40 L838.89,328.40 L846.70,328.40 L846.70,328.40 L854.50,328.40 L854.50,328.40 L862.31,328.40 L862.31,328.40 L870.12,328.40 L870.12,328.40 L877.92,328.40 L877.92,328.40 L885.73,328.40 L885.73,328.40 L893.53,328.40 L893.53,328.40 L901.34,328.40 L901.34,328.40 L909.15,328.40 L909.15,328.40 L916.95,328.40 L916.95,328.40 L924.76,328.40 L924.76,328.40 L932.56,328.40 L932.56,328.40 L940.37,328.40 L940.37,328.40 L948.18,328.40 L948.18,328.40 L955.98,328.40 L955.98,328.40 L963.79,328.40 L963.79,328.40 L971.59,328.40 L971.59,328.40 L979.40,328.40 L979.40,328.40" fill="none" stroke="#d62728" stroke-width="2" stroke-linejoin="miter"/>
<path d="M198.80,328.40 L198.80,328.40 L206.61,328.40 L206.61,328.40 L214.41,328.40 L214.41,328.40 L222.22,328.40 L222.22,328.40 L230.02,328.40 L230.02,328.40 L237.83,328.40 L237.83,328.40 L245.64,328.40 L245.64,328.40 L253.44,328.40 L253.44,328.40 L261.25,328.40 L261.25,328.40 L269.05,328.40 L269.05,328.40 L276.86,328.40 L276.86,328.40 L284.67,328.40 L284.67,328.40 L292.47,328.40 L292.47,328.40 L300.28,328.40 L300.28,328.40 L308.08,328.40 L308.08,328.40 L315.89,328.40 L315.89,328.40 L323.70,328.40 L323.70,328.40 L331.50,328.40 L331.50,328.40 L339.31,328.40 L339.31,328.40 L347.11,328.40 L347.11,328.40 L354.92,328.40 L354.92,328.40 L362.73,328.40 L362.73,328.40 L370.53,328.40 L370.53,328.40 L378.34,328.40 L378.34,328.40 L386.14,328.40 L386.14,328.40 L393.95,328.40 L393.95,328.40 L401.76,328.40 L401.76,328.40 L409.56,328.40 L409.56,328.40 L417.37,328.40 L417.37,328.28 L425.17,328.28 L425.17,328.20 L432.98,328.20 L432.98,328.09 L440.79,328.09 L440.79,327.81 L448.59,327.81 L448.59,327.23 L456.40,327.23 L456.40,325.40 L464.20,325.40 L464.20,323.02 L472.01,323.02 L472.01,314.78 L479.82,314.78 L479.82,304.87 L487.62,304.87 L487.62,281.00 L495.43,281.00 L495.43,253.76 L503.23,253.76 L503.23,216.35 L511.04,216.35 L511.04,175.93 L518.85,175.93 L518.85,133.21 L526.65,133.21 L526.65,111.91 L534.46,111.91 L534.46,94.43 L542.26,94.43 L542.26,80.89 L550.07,80.89 L550.07,110.42 L557.88,110.42 L557.88,116.12 L565.68,116.12 L565.68,176.36 L573.49,176.36 L573.49,206.75 L581.29,206.75 L581.29,222.16 L589.10,222.16 L589.10,257.28 L596.91,257.28 L596.91,277.10 L604.71,277.10 L604.71,295.39 L612.52,295.39 L612.52,310.30 L620.32,310.30 L620.32,313.11 L628.13,313.11 L628.13,319.00 L635.94,319.00 L635.94,323.68 L643.74,323.68 L643.74,326.80 L651.55,326.80 L651.55,327.81 L659.35,327.81 L659.35,328.09 L667.16,328.09 L667.16,328.24 L674.97,328.24 L674.97,328.40 L682.77,328.40 L682.77,328.40 L690.58,328.40 L690.58,328.40 L698.38,328.40 L698.38,328.40 L706.19,328.40 L706.19,328.40 L714.00,328.40 L714.00,328.40 L721.80,328.40 L721.80,328.40 L729.61,328.40 L729.61,328.40 L737.41,328.40 L737.41,328.40 L745.22,328.40 L745.22,328.40 L753.03,328.40 L753.03,328.40 L760.83,328.40 L760.83,328.40 L768.64,328.40 L768.64,328.40 L776.44,328.40 L776.44,328.40 L784.25,328.40 L784.25,328.40 L792.06,328.40 L792.06,328.40 L799.86,328.40 L799.86,328.40 L807.67,328.40 L807.67,328.40 L815.47,328.40 L815.47,328.40 L823.28,328.40 L823.28,328.40 L831.09,328.40 L831.09,328.40 L838.89,328.40 L838.89,328.40 L846.70,328.40 L846.70,328.40 L854.50,328.40 L854.50,328.40 L862.31,328.40 L862.31,328.40 L870.12,328.40 L870.12,328.40 L877.92,328.40 L877.92,328.40 L885.73,328.40 L885.73,328.40 L893.53,328.40 L893.53,328.40 L901.34,328.40 L901.34,328.40 L909.15,328.40 L909.15,328.40 L916.95,328.40 L916.95,328.40 L924.76,328.40 L924.76,328.40 L932.56,328.40 L932.56,328.40 L940.37,328.40 L940.37,328.40 L948.18,328.40 L948.18,328.40 L955.98,328.40 L955.98,328.40 L963.79,328.40 L963.79,328.40 L971.59,328.40 L971.59,328.40 L979.40,328.40 L979.40,328.40" fill="none" stroke="#1f77b4" stroke-width="2" stroke-linejoin="miter"/>
</g>
<line x1="198.8" x2="979.4" y1="328.2" y2="328.2" stroke="#46698e" stroke-width="1.6"/>
<line x1="195.80" x2="198.8" y1="328.40" y2="328.40" stroke="#555" stroke-width="1"/>
<text x="182.43" y="335.20" font-size="19.20" textLength="11.00" lengthAdjust="spacingAndGlyphs" fill="#000">0</text>
<line x1="195.80" x2="198.8" y1="250.37" y2="250.37" stroke="#555" stroke-width="1"/>
<text x="146.62" y="257.17" font-size="19.20" textLength="46.91" lengthAdjust="spacingAndGlyphs" fill="#000">2000</text>
<line x1="195.80" x2="198.8" y1="172.34" y2="172.34" stroke="#555" stroke-width="1"/>
<text x="146.73" y="179.14" font-size="19.20" textLength="46.80" lengthAdjust="spacingAndGlyphs" fill="#000">4000</text>
<line x1="195.80" x2="198.8" y1="94.31" y2="94.31" stroke="#555" stroke-width="1"/>
<text x="146.56" y="101.11" font-size="19.20" textLength="46.96" lengthAdjust="spacingAndGlyphs" fill="#000">6000</text>
<line x1="206.61" x2="206.61" y1="328.4" y2="330.4" stroke="#777" stroke-width="0.8"/>
<line x1="214.41" x2="214.41" y1="328.4" y2="330.4" stroke="#777" stroke-width="0.8"/>
<line x1="222.22" x2="222.22" y1="328.4" y2="330.4" stroke="#777" stroke-width="0.8"/>
<line x1="230.02" x2="230.02" y1="328.4" y2="330.4" stroke="#777" stroke-width="0.8"/>
<line x1="237.83" x2="237.83" y1="328.4" y2="330.4" stroke="#777" stroke-width="0.8"/>
<line x1="245.64" x2="245.64" y1="328.4" y2="330.4" stroke="#777" stroke-width="0.8"/>
<line x1="253.44" x2="253.44" y1="328.4" y2="330.4" stroke="#777" stroke-width="0.8"/>
<line x1="261.25" x2="261.25" y1="328.4" y2="330.4" stroke="#777" stroke-width="0.8"/>
<line x1="269.05" x2="269.05" y1="328.4" y2="330.4" stroke="#777" stroke-width="0.8"/>
<line x1="276.86" x2="276.86" y1="328.4" y2="330.4" stroke="#777" stroke-width="0.8"/>
<line x1="284.67" x2="284.67" y1="328.4" y2="330.4" stroke="#777" stroke-width="0.8"/>
<line x1="292.47" x2="292.47" y1="328.4" y2="330.4" stroke="#777" stroke-width="0.8"/>
<line x1="300.28" x2="300.28" y1="328.4" y2="330.4" stroke="#777" stroke-width="0.8"/>
<line x1="308.08" x2="308.08" y1="328.4" y2="330.4" stroke="#777" stroke-width="0.8"/>
<line x1="315.89" x2="315.89" y1="328.4" y2="330.4" stroke="#777" stroke-width="0.8"/>
<line x1="323.70" x2="323.70" y1="328.4" y2="330.4" stroke="#777" stroke-width="0.8"/>
<line x1="331.50" x2="331.50" y1="328.4" y2="330.4" stroke="#777" stroke-width="0.8"/>
<line x1="339.31" x2="339.31" y1="328.4" y2="330.4" stroke="#777" stroke-width="0.8"/>
<line x1="347.11" x2="347.11" y1="328.4" y2="330.4" stroke="#777" stroke-width="0.8"/>
<line x1="354.92" x2="354.92" y1="328.4" y2="330.4" stroke="#777" stroke-width="0.8"/>
<line x1="362.73" x2="362.73" y1="328.4" y2="330.4" stroke="#777" stroke-width="0.8"/>
<line x1="370.53" x2="370.53" y1="328.4" y2="330.4" stroke="#777" stroke-width="0.8"/>
<line x1="378.34" x2="378.34" y1="328.4" y2="330.4" stroke="#777" stroke-width="0.8"/>
<line x1="386.14" x2="386.14" y1="328.4" y2="330.4" stroke="#777" stroke-width="0.8"/>
<line x1="393.95" x2="393.95" y1="328.4" y2="330.4" stroke="#777" stroke-width="0.8"/>
<line x1="401.76" x2="401.76" y1="328.4" y2="330.4" stroke="#777" stroke-width="0.8"/>
<line x1="409.56" x2="409.56" y1="328.4" y2="330.4" stroke="#777" stroke-width="0.8"/>
<line x1="417.37" x2="417.37" y1="328.4" y2="330.4" stroke="#777" stroke-width="0.8"/>
<line x1="425.17" x2="425.17" y1="328.4" y2="330.4" stroke="#777" stroke-width="0.8"/>
<line x1="432.98" x2="432.98" y1="328.4" y2="330.4" stroke="#777" stroke-width="0.8"/>
<line x1="440.79" x2="440.79" y1="328.4" y2="330.4" stroke="#777" stroke-width="0.8"/>
<line x1="448.59" x2="448.59" y1="328.4" y2="330.4" stroke="#777" stroke-width="0.8"/>
<line x1="456.40" x2="456.40" y1="328.4" y2="330.4" stroke="#777" stroke-width="0.8"/>
<line x1="464.20" x2="464.20" y1="328.4" y2="330.4" stroke="#777" stroke-width="0.8"/>
<line x1="472.01" x2="472.01" y1="328.4" y2="330.4" stroke="#777" stroke-width="0.8"/>
<line x1="479.82" x2="479.82" y1="328.4" y2="330.4" stroke="#777" stroke-width="0.8"/>
<line x1="487.62" x2="487.62" y1="328.4" y2="330.4" stroke="#777" stroke-width="0.8"/>
<line x1="495.43" x2="495.43" y1="328.4" y2="330.4" stroke="#777" stroke-width="0.8"/>
<line x1="503.23" x2="503.23" y1="328.4" y2="330.4" stroke="#777" stroke-width="0.8"/>
<line x1="511.04" x2="511.04" y1="328.4" y2="330.4" stroke="#777" stroke-width="0.8"/>
<line x1="518.85" x2="518.85" y1="328.4" y2="330.4" stroke="#777" stroke-width="0.8"/>
<line x1="526.65" x2="526.65" y1="328.4" y2="330.4" stroke="#777" stroke-width="0.8"/>
<line x1="534.46" x2="534.46" y1="328.4" y2="330.4" stroke="#777" stroke-width="0.8"/>
<line x1="542.26" x2="542.26" y1="328.4" y2="330.4" stroke="#777" stroke-width="0.8"/>
<line x1="550.07" x2="550.07" y1="328.4" y2="330.4" stroke="#777" stroke-width="0.8"/>
<line x1="557.88" x2="557.88" y1="328.4" y2="330.4" stroke="#777" stroke-width="0.8"/>
<line x1="565.68" x2="565.68" y1="328.4" y2="330.4" stroke="#777" stroke-width="0.8"/>
<line x1="573.49" x2="573.49" y1="328.4" y2="330.4" stroke="#777" stroke-width="0.8"/>
<line x1="581.29" x2="581.29" y1="328.4" y2="330.4" stroke="#777" stroke-width="0.8"/>
<line x1="589.10" x2="589.10" y1="328.4" y2="330.4" stroke="#777" stroke-width="0.8"/>
<line x1="596.91" x2="596.91" y1="328.4" y2="330.4" stroke="#777" stroke-width="0.8"/>
<line x1="604.71" x2="604.71" y1="328.4" y2="330.4" stroke="#777" stroke-width="0.8"/>
<line x1="612.52" x2="612.52" y1="328.4" y2="330.4" stroke="#777" stroke-width="0.8"/>
<line x1="620.32" x2="620.32" y1="328.4" y2="330.4" stroke="#777" stroke-width="0.8"/>
<line x1="628.13" x2="628.13" y1="328.4" y2="330.4" stroke="#777" stroke-width="0.8"/>
<line x1="635.94" x2="635.94" y1="328.4" y2="330.4" stroke="#777" stroke-width="0.8"/>
<line x1="643.74" x2="643.74" y1="328.4" y2="330.4" stroke="#777" stroke-width="0.8"/>
<line x1="651.55" x2="651.55" y1="328.4" y2="330.4" stroke="#777" stroke-width="0.8"/>
<line x1="659.35" x2="659.35" y1="328.4" y2="330.4" stroke="#777" stroke-width="0.8"/>
<line x1="667.16" x2="667.16" y1="328.4" y2="330.4" stroke="#777" stroke-width="0.8"/>
<line x1="674.97" x2="674.97" y1="328.4" y2="330.4" stroke="#777" stroke-width="0.8"/>
<line x1="682.77" x2="682.77" y1="328.4" y2="330.4" stroke="#777" stroke-width="0.8"/>
<line x1="690.58" x2="690.58" y1="328.4" y2="330.4" stroke="#777" stroke-width="0.8"/>
<line x1="698.38" x2="698.38" y1="328.4" y2="330.4" stroke="#777" stroke-width="0.8"/>
<line x1="706.19" x2="706.19" y1="328.4" y2="330.4" stroke="#777" stroke-width="0.8"/>
<line x1="714.00" x2="714.00" y1="328.4" y2="330.4" stroke="#777" stroke-width="0.8"/>
<line x1="721.80" x2="721.80" y1="328.4" y2="330.4" stroke="#777" stroke-width="0.8"/>
<line x1="729.61" x2="729.61" y1="328.4" y2="330.4" stroke="#777" stroke-width="0.8"/>
<line x1="737.41" x2="737.41" y1="328.4" y2="330.4" stroke="#777" stroke-width="0.8"/>
<line x1="745.22" x2="745.22" y1="328.4" y2="330.4" stroke="#777" stroke-width="0.8"/>
<line x1="753.03" x2="753.03" y1="328.4" y2="330.4" stroke="#777" stroke-width="0.8"/>
<line x1="760.83" x2="760.83" y1="328.4" y2="330.4" stroke="#777" stroke-width="0.8"/>
<line x1="768.64" x2="768.64" y1="328.4" y2="330.4" stroke="#777" stroke-width="0.8"/>
<line x1="776.44" x2="776.44" y1="328.4" y2="330.4" stroke="#777" stroke-width="0.8"/>
<line x1="784.25" x2="784.25" y1="328.4" y2="330.4" stroke="#777" stroke-width="0.8"/>
<line x1="792.06" x2="792.06" y1="328.4" y2="330.4" stroke="#777" stroke-width="0.8"/>
<line x1="799.86" x2="799.86" y1="328.4" y2="330.4" stroke="#777" stroke-width="0.8"/>
<line x1="807.67" x2="807.67" y1="328.4" y2="330.4" stroke="#777" stroke-width="0.8"/>
<line x1="815.47" x2="815.47" y1="328.4" y2="330.4" stroke="#777" stroke-width="0.8"/>
<line x1="823.28" x2="823.28" y1="328.4" y2="330.4" stroke="#777" stroke-width="0.8"/>
<line x1="831.09" x2="831.09" y1="328.4" y2="330.4" stroke="#777" stroke-width="0.8"/>
<line x1="838.89" x2="838.89" y1="328.4" y2="330.4" stroke="#777" stroke-width="0.8"/>
<line x1="846.70" x2="846.70" y1="328.4" y2="330.4" stroke="#777" stroke-width="0.8"/>
<line x1="854.50" x2="854.50" y1="328.4" y2="330.4" stroke="#777" stroke-width="0.8"/>
<line x1="862.31" x2="862.31" y1="328.4" y2="330.4" stroke="#777" stroke-width="0.8"/>
<line x1="870.12" x2="870.12" y1="328.4" y2="330.4" stroke="#777" stroke-width="0.8"/>
<line x1="877.92" x2="877.92" y1="328.4" y2="330.4" stroke="#777" stroke-width="0.8"/>
<line x1="885.73" x2="885.73" y1="328.4" y2="330.4" stroke="#777" stroke-width="0.8"/>
<line x1="893.53" x2="893.53" y1="328.4" y2="330.4" stroke="#777" stroke-width="0.8"/>
<line x1="901.34" x2="901.34" y1="328.4" y2="330.4" stroke="#777" stroke-width="0.8"/>
<line x1="909.15" x2="909.15" y1="328.4" y2="330.4" stroke="#777" stroke-width="0.8"/>
<line x1="916.95" x2="916.95" y1="328.4" y2="330.4" stroke="#777" stroke-width="0.8"/>
<line x1="924.76" x2="924.76" y1="328.4" y2="330.4" stroke="#777" stroke-width="0.8"/>
<line x1="932.56" x2="932.56" y1="328.4" y2="330.4" stroke="#777" stroke-width="0.8"/>
<line x1="940.37" x2="940.37" y1="328.4" y2="330.4" stroke="#777" stroke-width="0.8"/>
<line x1="948.18" x2="948.18" y1="328.4" y2="330.4" stroke="#777" stroke-width="0.8"/>
<line x1="955.98" x2="955.98" y1="328.4" y2="330.4" stroke="#777" stroke-width="0.8"/>
<line x1="963.79" x2="963.79" y1="328.4" y2="330.4" stroke="#777" stroke-width="0.8"/>
<line x1="971.59" x2="971.59" y1="328.4" y2="330.4" stroke="#777" stroke-width="0.8"/>
<g transform="translate(131.00,0) rotate(-90)"><text x="-243.53" y="0.00" font-size="19.50" textLength="89.58" lengthAdjust="spacingAndGlyphs" fill="#000">Span (kb)</text></g>
<rect x="984.6" y="94.3" width="382.8" height="233.8" rx="4" fill="#fff" stroke="#dcdcdc" stroke-width="1.3"/>
<circle cx="1008.4" cy="107.30" r="10.2" fill="#fff" stroke="#444" stroke-width="1"/>
<text x="1039.61" y="113.90" font-size="17.60" textLength="262.47" lengthAdjust="spacingAndGlyphs" fill="#000">other (27,971;15.86MB;678nt)</text>
<circle cx="1008.4" cy="132.75" r="10.6" fill="#d3d3d3"/>
<text x="1039.72" y="139.35" font-size="17.60" textLength="277.86" lengthAdjust="spacingAndGlyphs" fill="#000">no-hit (129,975;57.85MB;481nt)</text>
<circle cx="1008.4" cy="158.20" r="10.6" fill="#7f7f7f"/>
<text x="1039.48" y="164.80" font-size="17.60" textLength="273.81" lengthAdjust="spacingAndGlyphs" fill="#000">Chordata (5,490;3.75MB;924nt)</text>
<circle cx="1008.4" cy="183.65" r="10.6" fill="#bcbd22"/>
<text x="1039.58" y="190.25" font-size="17.60" textLength="307.78" lengthAdjust="spacingAndGlyphs" fill="#000">Arthropoda (4,323;3.03MB;1,043nt)</text>
<circle cx="1008.4" cy="209.10" r="10.6" fill="#ff7f0e"/>
<text x="1039.48" y="215.70" font-size="17.60" textLength="266.42" lengthAdjust="spacingAndGlyphs" fill="#000">Cnidaria (6,706;4.15MB;760nt)</text>
<circle cx="1008.4" cy="234.55" r="10.6" fill="#9467bd"/>
<text x="1039.58" y="241.15" font-size="17.60" textLength="286.34" lengthAdjust="spacingAndGlyphs" fill="#000">Annelida (1,816;3.21MB;3,282nt)</text>
<circle cx="1008.4" cy="260.00" r="10.6" fill="#e377c2"/>
<text x="1039.57" y="266.60" font-size="17.60" textLength="319.17" lengthAdjust="spacingAndGlyphs" fill="#000">Brachiopoda (1,788;4.25MB;3,915nt)</text>
<circle cx="1008.4" cy="285.45" r="10.6" fill="#d62728"/>
<text x="1039.58" y="292.05" font-size="17.60" textLength="285.98" lengthAdjust="spacingAndGlyphs" fill="#000">Mollusca (5,536;7.55MB;2,398nt)</text>
<circle cx="1008.4" cy="310.90" r="10.6" fill="#1f77b4"/>
<text x="1039.58" y="317.50" font-size="17.60" textLength="302.75" lengthAdjust="spacingAndGlyphs" fill="#000">Bryozoa (37,494;60.22MB;2,518nt)</text>
<rect x="198.8" y="354.6" width="780.60" height="781.00" fill="#f8f8f8"/>
<line x1="198.8" x2="979.4" y1="1013.80" y2="1013.80" stroke="#eeeef3" stroke-width="1.2"/>
<line x1="198.8" x2="979.4" y1="891.30" y2="891.30" stroke="#eeeef3" stroke-width="1.2"/>
<line x1="198.8" x2="979.4" y1="768.80" y2="768.80" stroke="#eeeef3" stroke-width="1.2"/>
<line x1="198.8" x2="979.4" y1="646.30" y2="646.30" stroke="#eeeef3" stroke-width="1.2"/>
<line x1="198.8" x2="979.4" y1="523.80" y2="523.80" stroke="#eeeef3" stroke-width="1.2"/>
<line x1="198.8" x2="979.4" y1="401.30" y2="401.30" stroke="#eeeef3" stroke-width="1.2"/>
<line x1="354.92" x2="354.92" y1="354.6" y2="1135.6" stroke="#eeeef3" stroke-width="1.2"/>
<line x1="511.04" x2="511.04" y1="354.6" y2="1135.6" stroke="#eeeef3" stroke-width="1.2"/>
<line x1="667.16" x2="667.16" y1="354.6" y2="1135.6" stroke="#eeeef3" stroke-width="1.2"/>
<line x1="823.28" x2="823.28" y1="354.6" y2="1135.6" stroke="#eeeef3" stroke-width="1.2"/>
<g id="scatter" clip-path="url(#clipM)">
<style>
.o{fill:#fff;stroke:#666;stroke-width:.7}
.g{fill:#d3d3d3;fill-opacity:.62;stroke:#fff;stroke-width:.5;stroke-opacity:.5}
.k{fill:#7f7f7f;stroke:#fff;stroke-width:.5;stroke-opacity:.5}
.y{fill:#bcbd22;fill-opacity:.9;stroke:#fff;stroke-width:.5;stroke-opacity:.5}
.n{fill:#ff7f0e;fill-opacity:.9;stroke:#fff;stroke-width:.5;stroke-opacity:.5}
.p{fill:#9467bd;fill-opacity:.9;stroke:#fff;stroke-width:.5;stroke-opacity:.5}
.c{fill:#e377c2;fill-opacity:.9;stroke:#fff;stroke-width:.5;stroke-opacity:.5}
.m{fill:#d62728;fill-opacity:.9;stroke:#fff;stroke-width:.5;stroke-opacity:.5}
.b{fill:#1f77b4;fill-opacity:.9;stroke:#fff;stroke-width:.6;stroke-opacity:.45}
.B{fill:#1f77b4;stroke:#fff;stroke-width:.6;stroke-opacity:.45}
</style>
<circle class="o" cx="470.9" cy="799.7" r="3.5"/>
<circle class="o" cx="530.8" cy="784.8" r="3.0"/>
<circle class="o" cx="333.3" cy="807.4" r="4.0"/>
<circle class="o" cx="677.6" cy="582.5" r="2.5"/>
<circle class="o" cx="465.8" cy="883.6" r="6.0"/>
<circle class="o" cx="615.8" cy="870.7" r="5.0"/>
<circle class="o" cx="671.2" cy="796.4" r="5.0"/>
<circle class="o" cx="664.0" cy="709.1" r="5.0"/>
<circle class="o" cx="548.4" cy="783.3" r="3.0"/>
<circle class="o" cx="353.8" cy="799.5" r="5.0"/>
<circle class="o" cx="619.7" cy="665.4" r="3.0"/>
<circle class="o" cx="522.4" cy="714.6" r="4.5"/>
<circle class="o" cx="420.5" cy="853.7" r="5.0"/>
<circle class="o" cx="654.3" cy="793.3" r="6.0"/>
<circle class="o" cx="697.8" cy="794.6" r="4.0"/>
<circle class="o" cx="595.7" cy="812.8" r="2.5"/>
<circle class="o" cx="742.3" cy="887.2" r="2.5"/>
<circle class="o" cx="704.5" cy="731.0" r="4.5"/>
<circle class="o" cx="607.0" cy="824.4" r="5.0"/>
<circle class="o" cx="579.9" cy="553.7" r="4.0"/>
<circle class="o" cx="410.4" cy="871.7" r="4.5"/>
<circle class="o" cx="451.4" cy="784.6" r="3.5"/>
<circle class="o" cx="449.0" cy="907.7" r="4.0"/>
<circle class="o" cx="779.2" cy="801.8" r="3.5"/>
<circle class="o" cx="639.2" cy="796.2" r="3.5"/>
<circle class="o" cx="746.4" cy="856.9" r="4.5"/>
<circle class="o" cx="599.9" cy="456.6" r="2.5"/>
<circle class="o" cx="470.3" cy="728.3" r="6.0"/>
<circle class="o" cx="519.5" cy="814.4" r="6.0"/>
<circle class="o" cx="604.4" cy="850.5" r="4.0"/>
<circle class="o" cx="820.4" cy="825.6" r="4.5"/>
<circle class="o" cx="696.0" cy="743.3" r="3.5"/>
<circle class="o" cx="761.3" cy="847.3" r="4.0"/>
<circle class="o" cx="350.0" cy="870.3" r="2.5"/>
<circle class="o" cx="691.5" cy="772.8" r="3.0"/>
<circle class="o" cx="604.3" cy="878.1" r="4.0"/>
<circle class="o" cx="540.6" cy="811.5" r="3.5"/>
<circle class="o" cx="578.1" cy="516.7" r="4.5"/>
<circle class="o" cx="498.0" cy="964.8" r="3.5"/>
<circle class="o" cx="480.2" cy="689.8" r="4.5"/>
<circle class="o" cx="453.6" cy="902.3" r="5.0"/>
<circle class="o" cx="614.7" cy="793.8" r="3.0"/>
<circle class="o" cx="530.3" cy="948.1" r="4.5"/>
<circle class="o" cx="570.0" cy="566.2" r="3.5"/>
<circle class="o" cx="325.8" cy="859.9" r="4.5"/>
<circle class="o" cx="548.2" cy="943.9" r="4.0"/>
<circle class="o" cx="646.9" cy="643.7" r="4.5"/>
<circle class="o" cx="694.8" cy="622.5" r="4.5"/>
<circle class="o" cx="682.0" cy="830.2" r="2.5"/>
<circle class="o" cx="343.3" cy="748.8" r="4.5"/>
<circle class="o" cx="363.0" cy="807.9" r="3.5"/>
<circle class="o" cx="648.7" cy="878.1" r="3.5"/>
<circle class="o" cx="645.9" cy="836.4" r="5.0"/>
<circle class="o" cx="518.0" cy="854.0" r="3.5"/>
<circle class="o" cx="450.4" cy="849.6" r="4.0"/>
<circle class="o" cx="718.4" cy="797.4" r="3.5"/>
<circle class="o" cx="590.0" cy="824.5" r="3.0"/>
<circle class="o" cx="381.0" cy="659.8" r="3.0"/>
<circle class="o" cx="590.3" cy="811.8" r="3.0"/>
<circle class="o" cx="567.6" cy="583.1" r="2.5"/>
<circle class="o" cx="821.0" cy="817.4" r="4.5"/>
<circle class="o" cx="805.5" cy="852.7" r="4.5"/>
<circle class="o" cx="599.4" cy="537.5" r="6.0"/>
<circle class="o" cx="464.7" cy="902.7" r="3.5"/>
<circle class="o" cx="419.8" cy="812.8" r="6.0"/>
<circle class="o" cx="736.8" cy="816.6" r="5.0"/>
<circle class="o" cx="453.6" cy="534.6" r="4.0"/>
<circle class="o" cx="766.9" cy="781.4" r="6.0"/>
<circle class="o" cx="439.8" cy="731.3" r="4.0"/>
<circle class="o" cx="415.6" cy="795.8" r="5.0"/>
<circle class="o" cx="472.2" cy="600.1" r="4.0"/>
<circle class="o" cx="530.7" cy="783.1" r="2.5"/>
<circle class="o" cx="660.1" cy="906.3" r="6.0"/>
<circle class="o" cx="449.6" cy="769.4" r="4.0"/>
<circle class="o" cx="395.4" cy="851.6" r="4.5"/>
<circle class="o" cx="551.8" cy="886.2" r="3.5"/>
<circle class="o" cx="544.1" cy="715.4" r="3.0"/>
<circle class="o" cx="548.9" cy="846.9" r="4.0"/>
<circle class="o" cx="670.4" cy="565.7" r="3.5"/>
<circle class="o" cx="603.4" cy="858.6" r="4.0"/>
<circle class="o" cx="672.0" cy="680.0" r="6.0"/>
<circle class="o" cx="506.1" cy="948.4" r="4.0"/>
<circle class="o" cx="700.4" cy="614.4" r="3.0"/>
<circle class="o" cx="350.4" cy="872.4" r="3.5"/>
<circle class="o" cx="499.2" cy="598.3" r="4.0"/>
<circle class="o" cx="497.6" cy="813.5" r="5.0"/>
<circle class="o" cx="516.9" cy="904.8" r="4.0"/>
<circle class="o" cx="449.6" cy="903.4" r="4.0"/>
<circle class="o" cx="744.4" cy="813.8" r="3.0"/>
<circle class="o" cx="480.1" cy="830.1" r="3.0"/>
<circle class="o" cx="397.0" cy="813.7" r="5.0"/>
<circle class="o" cx="721.5" cy="826.4" r="3.5"/>
<circle class="o" cx="548.0" cy="805.0" r="6.0"/>
<circle class="o" cx="767.7" cy="865.4" r="6.0"/>
<circle class="o" cx="616.1" cy="651.0" r="4.5"/>
<circle class="o" cx="544.0" cy="562.6" r="3.5"/>
<circle class="o" cx="537.5" cy="843.3" r="4.0"/>
<circle class="o" cx="517.3" cy="414.4" r="6.0"/>
<circle class="o" cx="534.3" cy="729.3" r="4.5"/>
<circle class="o" cx="508.3" cy="372.3" r="4.5"/>
<circle class="o" cx="385.9" cy="894.6" r="4.5"/>
<circle class="o" cx="660.9" cy="807.0" r="6.0"/>
<circle class="o" cx="331.4" cy="874.2" r="4.5"/>
<circle class="o" cx="481.6" cy="855.5" r="5.0"/>
<circle class="o" cx="460.8" cy="823.1" r="3.5"/>
<circle class="o" cx="457.9" cy="618.0" r="6.0"/>
<circle class="o" cx="797.8" cy="802.5" r="5.0"/>
<circle class="o" cx="606.9" cy="615.5" r="2.5"/>
<circle class="o" cx="549.6" cy="920.6" r="6.0"/>
<circle class="o" cx="454.6" cy="751.6" r="4.0"/>
<circle class="o" cx="691.7" cy="722.3" r="4.5"/>
<circle class="o" cx="696.5" cy="747.7" r="2.5"/>
<circle class="o" cx="673.1" cy="790.4" r="3.5"/>
<circle class="o" cx="638.1" cy="759.6" r="5.0"/>
<circle class="o" cx="532.5" cy="795.7" r="5.0"/>
<circle class="o" cx="582.3" cy="786.6" r="3.5"/>
<circle class="o" cx="670.2" cy="830.4" r="5.0"/>
<circle class="o" cx="389.3" cy="832.3" r="5.0"/>
<circle class="o" cx="580.0" cy="909.4" r="6.0"/>
<circle class="o" cx="408.9" cy="585.1" r="3.5"/>
<circle class="o" cx="663.0" cy="592.0" r="17.0"/>
<circle class="o" cx="720.0" cy="752.0" r="15.0"/>
<circle class="o" cx="657.0" cy="610.0" r="13.0"/>
<circle class="o" cx="651.0" cy="640.0" r="9.0"/>
<circle class="o" cx="704.0" cy="700.0" r="6.0"/>
<circle class="o" cx="703.0" cy="677.0" r="5.0"/>
<circle class="o" cx="790.0" cy="818.0" r="6.0"/>
<circle class="o" cx="702.0" cy="925.0" r="4.0"/>
<circle class="o" cx="438.0" cy="940.0" r="4.0"/>
<circle class="o" cx="410.0" cy="836.0" r="4.0"/>
<circle class="o" cx="355.0" cy="820.0" r="3.5"/>
<circle class="o" cx="640.0" cy="985.0" r="4.0"/>
<circle class="o" cx="408.0" cy="621.0" r="4.0"/>
<circle class="o" cx="843.0" cy="688.0" r="3.5"/>
<circle class="o" cx="420.0" cy="963.0" r="4.0"/>
<circle class="o" cx="562.0" cy="940.0" r="4.0"/>
<circle class="o" cx="433.6" cy="546.6" r="4.0"/>
<circle class="o" cx="705.0" cy="735.0" r="7.0"/>
<circle class="o" cx="712.0" cy="770.0" r="8.0"/>
<circle class="o" cx="722.0" cy="765.0" r="6.0"/>
<circle class="o" cx="730.0" cy="775.0" r="5.0"/>
<circle class="o" cx="705.0" cy="780.0" r="6.0"/>
<circle class="o" cx="688.0" cy="730.0" r="4.0"/>
<circle class="o" cx="690.0" cy="719.0" r="4.0"/>
<circle class="o" cx="698.0" cy="690.0" r="4.0"/>
<circle class="o" cx="709.0" cy="713.0" r="5.0"/>
<circle class="o" cx="740.0" cy="760.0" r="4.0"/>
<circle class="o" cx="686.0" cy="752.0" r="4.0"/>
<filter id="blr" x="-10%" y="-10%" width="120%" height="120%"><feGaussianBlur stdDeviation="5"/></filter>
<path d="M462,560 L480,520 L560,500 L615,520 L640,540 L652,580 L658,620 L662,650 L672,690 L700,760 L760,790 L800,822 L818,870 L790,890 L730,900 L656,905 L596,915 L560,935 L540,945 L525,935 L505,915 L438,915 L379,905 L363,895 L343,875 L347,835 L355,796 L368,770 L373,749 L376,723 L381,698 L388,672 L400,647 L415,622 L425,598 L445,580 Z" fill="#e0e0e0" filter="url(#blr)"/>
<circle class="g" cx="705.8" cy="786.9" r="3.0"/>
<circle class="g" cx="437.1" cy="801.1" r="5.5"/>
<circle class="g" cx="438.7" cy="719.9" r="4.0"/>
<circle class="g" cx="461.1" cy="613.2" r="6.0"/>
<circle class="g" cx="755.9" cy="843.0" r="5.0"/>
<circle class="g" cx="447.8" cy="852.0" r="7.0"/>
<circle class="g" cx="651.8" cy="585.4" r="7.0"/>
<circle class="g" cx="458.1" cy="655.5" r="4.0"/>
<circle class="g" cx="435.4" cy="670.9" r="3.0"/>
<circle class="g" cx="418.1" cy="747.3" r="5.0"/>
<circle class="g" cx="528.2" cy="935.9" r="5.5"/>
<circle class="g" cx="753.4" cy="801.4" r="4.0"/>
<circle class="g" cx="430.9" cy="747.9" r="4.0"/>
<circle class="g" cx="435.5" cy="803.2" r="5.0"/>
<circle class="g" cx="440.9" cy="708.0" r="7.0"/>
<circle class="g" cx="637.5" cy="604.2" r="5.5"/>
<circle class="g" cx="672.5" cy="726.5" r="3.0"/>
<circle class="g" cx="644.8" cy="633.8" r="4.0"/>
<circle class="g" cx="675.4" cy="890.4" r="4.0"/>
<circle class="g" cx="667.6" cy="782.1" r="3.0"/>
<circle class="g" cx="671.6" cy="861.4" r="5.5"/>
<circle class="g" cx="507.6" cy="909.6" r="5.0"/>
<circle class="g" cx="478.7" cy="878.4" r="4.0"/>
<circle class="g" cx="753.4" cy="816.0" r="3.0"/>
<circle class="g" cx="438.2" cy="777.2" r="7.0"/>
<circle class="g" cx="722.6" cy="860.4" r="5.0"/>
<circle class="g" cx="439.8" cy="616.9" r="6.0"/>
<circle class="g" cx="516.4" cy="901.2" r="4.0"/>
<circle class="g" cx="436.2" cy="785.0" r="4.0"/>
<circle class="g" cx="399.1" cy="774.4" r="5.0"/>
<circle class="g" cx="761.9" cy="873.0" r="7.0"/>
<circle class="g" cx="407.1" cy="647.6" r="4.0"/>
<circle class="g" cx="640.3" cy="889.9" r="4.0"/>
<circle class="g" cx="761.4" cy="838.1" r="6.0"/>
<circle class="g" cx="394.4" cy="883.0" r="4.0"/>
<circle class="g" cx="441.6" cy="762.1" r="5.0"/>
<circle class="g" cx="412.7" cy="727.0" r="3.5"/>
<circle class="g" cx="643.3" cy="611.0" r="4.0"/>
<circle class="g" cx="466.0" cy="554.0" r="3.5"/>
<circle class="g" cx="654.4" cy="816.9" r="6.0"/>
<circle class="g" cx="628.6" cy="584.6" r="4.0"/>
<circle class="g" cx="387.0" cy="877.7" r="4.0"/>
<circle class="g" cx="790.6" cy="828.5" r="5.5"/>
<circle class="g" cx="366.3" cy="801.0" r="3.5"/>
<circle class="g" cx="412.6" cy="710.9" r="5.0"/>
<circle class="g" cx="398.0" cy="708.7" r="4.5"/>
<circle class="g" cx="792.3" cy="883.2" r="5.0"/>
<circle class="g" cx="737.8" cy="873.5" r="4.0"/>
<circle class="g" cx="612.5" cy="541.4" r="5.0"/>
<circle class="g" cx="746.2" cy="834.7" r="5.5"/>
<circle class="g" cx="419.5" cy="634.8" r="3.0"/>
<circle class="g" cx="724.6" cy="796.4" r="3.5"/>
<circle class="g" cx="485.1" cy="913.6" r="4.0"/>
<circle class="g" cx="388.0" cy="874.0" r="5.5"/>
<circle class="g" cx="697.1" cy="770.5" r="7.0"/>
<circle class="g" cx="653.6" cy="816.4" r="5.0"/>
<circle class="g" cx="433.4" cy="590.7" r="4.0"/>
<circle class="g" cx="431.8" cy="844.2" r="4.0"/>
<circle class="g" cx="658.8" cy="858.8" r="3.0"/>
<circle class="g" cx="373.9" cy="883.5" r="6.0"/>
<circle class="g" cx="635.4" cy="569.7" r="4.0"/>
<circle class="g" cx="688.9" cy="842.0" r="4.0"/>
<circle class="g" cx="661.1" cy="855.6" r="4.5"/>
<circle class="g" cx="445.6" cy="643.4" r="5.0"/>
<circle class="g" cx="379.7" cy="798.5" r="5.0"/>
<circle class="g" cx="623.5" cy="620.2" r="4.0"/>
<circle class="g" cx="390.0" cy="844.2" r="3.5"/>
<circle class="g" cx="748.2" cy="849.7" r="3.0"/>
<circle class="g" cx="434.2" cy="876.6" r="4.0"/>
<circle class="g" cx="763.1" cy="884.8" r="3.5"/>
<circle class="g" cx="732.0" cy="804.6" r="7.0"/>
<circle class="g" cx="654.6" cy="613.4" r="3.5"/>
<circle class="g" cx="389.8" cy="763.4" r="4.5"/>
<circle class="g" cx="749.4" cy="869.4" r="4.0"/>
<circle class="g" cx="402.3" cy="881.4" r="4.0"/>
<circle class="g" cx="428.0" cy="824.5" r="4.0"/>
<circle class="g" cx="399.1" cy="653.0" r="5.5"/>
<circle class="g" cx="556.0" cy="904.6" r="3.0"/>
<circle class="g" cx="366.9" cy="804.5" r="7.0"/>
<circle class="g" cx="437.2" cy="779.4" r="4.0"/>
<circle class="g" cx="431.3" cy="842.4" r="7.0"/>
<circle class="g" cx="631.1" cy="628.0" r="4.0"/>
<circle class="g" cx="693.6" cy="822.5" r="3.5"/>
<circle class="g" cx="436.8" cy="816.3" r="4.5"/>
<circle class="g" cx="733.0" cy="777.7" r="5.0"/>
<circle class="g" cx="390.3" cy="862.8" r="3.0"/>
<circle class="g" cx="353.9" cy="802.7" r="5.5"/>
<circle class="g" cx="515.6" cy="892.6" r="5.0"/>
<circle class="g" cx="737.8" cy="839.1" r="4.0"/>
<circle class="g" cx="427.3" cy="662.4" r="5.0"/>
<circle class="g" cx="677.1" cy="879.4" r="4.0"/>
<circle class="g" cx="741.3" cy="880.1" r="6.0"/>
<circle class="g" cx="736.1" cy="853.1" r="3.5"/>
<circle class="g" cx="673.5" cy="887.0" r="3.5"/>
<circle class="g" cx="418.5" cy="852.4" r="4.0"/>
<circle class="g" cx="655.4" cy="603.9" r="7.0"/>
<circle class="g" cx="485.3" cy="884.2" r="6.0"/>
<circle class="g" cx="483.8" cy="888.9" r="5.0"/>
<circle class="g" cx="621.1" cy="618.3" r="4.0"/>
<circle class="g" cx="466.4" cy="877.0" r="3.0"/>
<circle class="g" cx="402.6" cy="741.0" r="4.0"/>
<circle class="g" cx="379.3" cy="732.9" r="7.0"/>
<circle class="g" cx="421.1" cy="638.6" r="3.0"/>
<circle class="g" cx="647.3" cy="588.2" r="3.0"/>
<circle class="g" cx="715.5" cy="786.1" r="5.0"/>
<circle class="g" cx="371.8" cy="882.3" r="4.0"/>
<circle class="g" cx="353.2" cy="833.5" r="4.0"/>
<circle class="g" cx="442.9" cy="799.6" r="7.0"/>
<circle class="g" cx="772.9" cy="852.4" r="6.0"/>
<circle class="g" cx="778.3" cy="863.9" r="3.0"/>
<circle class="g" cx="453.4" cy="590.3" r="6.0"/>
<circle class="g" cx="380.6" cy="902.5" r="5.0"/>
<circle class="g" cx="393.8" cy="795.6" r="7.0"/>
<circle class="g" cx="620.1" cy="606.7" r="5.0"/>
<circle class="g" cx="680.2" cy="764.1" r="7.0"/>
<circle class="g" cx="673.0" cy="734.0" r="5.5"/>
<circle class="g" cx="433.2" cy="703.4" r="4.0"/>
<circle class="g" cx="571.7" cy="910.7" r="5.0"/>
<circle class="g" cx="363.1" cy="892.1" r="6.0"/>
<circle class="g" cx="401.5" cy="892.6" r="4.0"/>
<circle class="g" cx="442.6" cy="612.6" r="7.0"/>
<circle class="g" cx="383.9" cy="814.5" r="5.0"/>
<circle class="g" cx="383.6" cy="797.1" r="7.0"/>
<circle class="g" cx="724.4" cy="880.2" r="5.0"/>
<circle class="g" cx="376.3" cy="870.5" r="4.5"/>
<circle class="g" cx="726.4" cy="800.8" r="7.0"/>
<circle class="g" cx="376.9" cy="830.1" r="4.0"/>
<circle class="g" cx="745.0" cy="889.8" r="4.0"/>
<circle class="g" cx="417.4" cy="631.5" r="3.5"/>
<circle class="g" cx="741.9" cy="834.4" r="4.5"/>
<circle class="g" cx="488.2" cy="909.4" r="5.0"/>
<circle class="g" cx="435.1" cy="884.7" r="5.0"/>
<circle class="g" cx="403.6" cy="828.7" r="4.0"/>
<circle class="g" cx="451.7" cy="874.6" r="3.5"/>
<circle class="g" cx="664.0" cy="691.4" r="5.5"/>
<circle class="g" cx="420.0" cy="890.0" r="3.5"/>
<circle class="g" cx="518.0" cy="925.2" r="4.0"/>
<circle class="g" cx="741.2" cy="872.8" r="4.5"/>
<circle class="g" cx="492.8" cy="913.7" r="5.0"/>
<circle class="g" cx="658.3" cy="789.5" r="7.0"/>
<circle class="g" cx="720.7" cy="883.4" r="6.0"/>
<circle class="g" cx="733.6" cy="874.7" r="3.0"/>
<circle class="g" cx="387.3" cy="859.0" r="4.5"/>
<circle class="g" cx="372.4" cy="763.8" r="7.0"/>
<circle class="g" cx="721.3" cy="873.9" r="5.0"/>
<circle class="g" cx="734.9" cy="797.0" r="4.0"/>
<circle class="g" cx="788.0" cy="885.6" r="4.5"/>
<circle class="g" cx="672.2" cy="794.1" r="6.0"/>
<circle class="g" cx="400.5" cy="739.9" r="4.0"/>
<circle class="g" cx="401.7" cy="781.8" r="5.0"/>
<circle class="g" cx="393.7" cy="861.2" r="5.5"/>
<circle class="g" cx="517.8" cy="916.9" r="4.0"/>
<circle class="g" cx="648.5" cy="600.5" r="5.0"/>
<circle class="g" cx="453.5" cy="646.8" r="4.0"/>
<circle class="g" cx="684.7" cy="806.0" r="5.0"/>
<circle class="g" cx="682.0" cy="746.2" r="5.5"/>
<circle class="g" cx="741.1" cy="802.3" r="4.0"/>
<circle class="g" cx="736.8" cy="851.6" r="6.0"/>
<circle class="g" cx="656.0" cy="864.7" r="3.0"/>
<circle class="g" cx="615.8" cy="571.0" r="4.0"/>
<circle class="g" cx="754.5" cy="880.8" r="4.0"/>
<circle class="g" cx="740.2" cy="782.7" r="4.5"/>
<circle class="g" cx="703.4" cy="890.8" r="5.0"/>
<circle class="g" cx="629.6" cy="593.1" r="3.0"/>
<circle class="g" cx="428.6" cy="876.4" r="3.0"/>
<circle class="g" cx="470.0" cy="551.6" r="5.0"/>
<circle class="g" cx="493.9" cy="910.3" r="7.0"/>
<circle class="g" cx="765.2" cy="872.6" r="5.5"/>
<circle class="g" cx="440.2" cy="841.7" r="6.0"/>
<circle class="g" cx="513.0" cy="895.1" r="6.0"/>
<circle class="g" cx="467.4" cy="898.9" r="5.0"/>
<circle class="g" cx="574.0" cy="896.9" r="4.5"/>
<circle class="g" cx="427.4" cy="795.1" r="5.0"/>
<circle class="g" cx="570.1" cy="897.6" r="6.0"/>
<circle class="g" cx="550.4" cy="931.5" r="6.0"/>
<circle class="g" cx="428.3" cy="711.2" r="4.5"/>
<circle class="g" cx="728.5" cy="779.5" r="3.0"/>
<circle class="g" cx="369.1" cy="830.9" r="5.0"/>
<circle class="g" cx="618.2" cy="585.6" r="4.5"/>
<circle class="g" cx="446.8" cy="702.1" r="5.0"/>
<circle class="g" cx="681.8" cy="893.6" r="5.5"/>
<circle class="g" cx="413.3" cy="904.5" r="6.0"/>
<circle class="g" cx="700.5" cy="872.2" r="3.0"/>
<circle class="g" cx="744.1" cy="791.4" r="5.5"/>
<circle class="g" cx="670.8" cy="901.8" r="3.0"/>
<circle class="g" cx="560.7" cy="904.5" r="5.0"/>
<circle class="g" cx="742.7" cy="864.0" r="3.5"/>
<circle class="g" cx="756.4" cy="793.3" r="5.0"/>
<circle class="g" cx="427.3" cy="806.0" r="4.0"/>
<circle class="g" cx="433.0" cy="796.1" r="4.0"/>
<circle class="g" cx="415.8" cy="702.7" r="4.0"/>
<circle class="g" cx="805.9" cy="857.1" r="4.5"/>
<circle class="g" cx="442.8" cy="881.1" r="4.0"/>
<circle class="g" cx="404.3" cy="878.3" r="7.0"/>
<circle class="g" cx="670.6" cy="811.7" r="4.5"/>
<circle class="g" cx="785.2" cy="870.7" r="4.5"/>
<circle class="g" cx="631.6" cy="546.3" r="4.0"/>
<circle class="g" cx="372.2" cy="816.6" r="7.0"/>
<circle class="g" cx="719.8" cy="882.9" r="3.5"/>
<circle class="g" cx="697.5" cy="897.8" r="4.0"/>
<circle class="g" cx="466.7" cy="606.9" r="6.0"/>
<circle class="g" cx="660.2" cy="864.5" r="4.5"/>
<circle class="g" cx="655.7" cy="614.9" r="4.0"/>
<circle class="g" cx="716.1" cy="827.2" r="4.0"/>
<circle class="g" cx="758.0" cy="830.4" r="4.5"/>
<circle class="g" cx="622.6" cy="618.4" r="3.5"/>
<circle class="g" cx="427.1" cy="841.5" r="6.0"/>
<circle class="g" cx="467.1" cy="896.7" r="5.0"/>
<circle class="g" cx="761.0" cy="805.6" r="4.5"/>
<circle class="g" cx="548.1" cy="916.3" r="5.5"/>
<circle class="g" cx="782.0" cy="809.3" r="3.0"/>
<circle class="g" cx="682.0" cy="798.6" r="5.0"/>
<circle class="g" cx="441.4" cy="821.3" r="5.0"/>
<circle class="g" cx="442.8" cy="796.4" r="5.0"/>
<circle class="g" cx="595.2" cy="900.9" r="4.0"/>
<circle class="g" cx="682.6" cy="872.5" r="5.0"/>
<circle class="g" cx="762.1" cy="853.0" r="4.5"/>
<circle class="g" cx="380.9" cy="805.9" r="4.5"/>
<circle class="g" cx="454.8" cy="636.5" r="4.0"/>
<circle class="g" cx="448.5" cy="864.6" r="5.0"/>
<circle class="g" cx="697.9" cy="856.2" r="6.0"/>
<circle class="g" cx="570.5" cy="915.3" r="5.0"/>
<circle class="g" cx="631.6" cy="630.1" r="7.0"/>
<circle class="g" cx="651.1" cy="806.3" r="4.5"/>
<circle class="g" cx="404.9" cy="848.9" r="5.5"/>
<circle class="g" cx="660.3" cy="840.7" r="3.0"/>
<circle class="g" cx="446.8" cy="909.7" r="4.0"/>
<circle class="g" cx="440.5" cy="709.2" r="3.5"/>
<circle class="g" cx="420.2" cy="796.9" r="6.0"/>
<circle class="g" cx="743.0" cy="845.0" r="6.0"/>
<circle class="g" cx="701.5" cy="820.0" r="4.0"/>
<circle class="g" cx="366.1" cy="858.9" r="5.0"/>
<circle class="g" cx="638.8" cy="621.1" r="7.0"/>
<circle class="g" cx="612.4" cy="544.7" r="4.0"/>
<circle class="g" cx="644.7" cy="601.7" r="3.5"/>
<circle class="g" cx="632.6" cy="892.1" r="4.0"/>
<circle class="g" cx="463.5" cy="862.8" r="5.5"/>
<circle class="g" cx="662.9" cy="787.4" r="4.0"/>
<circle class="g" cx="708.6" cy="818.9" r="3.5"/>
<circle class="g" cx="766.1" cy="861.2" r="3.0"/>
<circle class="g" cx="441.3" cy="832.0" r="5.0"/>
<circle class="g" cx="670.1" cy="684.9" r="5.5"/>
<circle class="g" cx="465.7" cy="878.1" r="3.5"/>
<circle class="g" cx="451.4" cy="858.1" r="4.0"/>
<circle class="g" cx="667.8" cy="700.3" r="3.0"/>
<circle class="g" cx="411.0" cy="735.5" r="5.0"/>
<circle class="g" cx="402.1" cy="733.3" r="3.0"/>
<circle class="g" cx="525.0" cy="913.7" r="4.0"/>
<circle class="g" cx="704.8" cy="792.4" r="5.0"/>
<circle class="g" cx="698.3" cy="826.7" r="4.0"/>
<circle class="g" cx="529.4" cy="897.1" r="4.5"/>
<circle class="g" cx="378.5" cy="854.6" r="5.5"/>
<circle class="g" cx="661.0" cy="710.5" r="3.5"/>
<circle class="g" cx="624.1" cy="591.2" r="5.0"/>
<circle class="g" cx="435.5" cy="793.8" r="4.5"/>
<circle class="g" cx="382.4" cy="866.5" r="5.0"/>
<circle class="g" cx="741.4" cy="886.5" r="5.0"/>
<circle class="g" cx="675.9" cy="804.0" r="5.0"/>
<circle class="g" cx="398.7" cy="883.5" r="4.0"/>
<circle class="g" cx="673.8" cy="705.5" r="4.0"/>
<circle class="g" cx="699.2" cy="888.7" r="4.5"/>
<circle class="g" cx="718.5" cy="861.8" r="4.0"/>
<circle class="g" cx="486.0" cy="881.7" r="3.0"/>
<circle class="g" cx="742.6" cy="881.8" r="5.0"/>
<circle class="g" cx="377.4" cy="827.2" r="4.0"/>
<circle class="g" cx="674.7" cy="808.8" r="3.0"/>
<circle class="g" cx="468.4" cy="900.8" r="3.5"/>
<circle class="g" cx="356.2" cy="828.4" r="3.5"/>
<circle class="g" cx="349.7" cy="865.0" r="6.0"/>
<circle class="g" cx="650.5" cy="834.8" r="5.5"/>
<circle class="g" cx="409.2" cy="781.1" r="6.0"/>
<circle class="g" cx="708.9" cy="879.3" r="3.0"/>
<circle class="g" cx="673.3" cy="827.4" r="7.0"/>
<circle class="g" cx="446.3" cy="837.2" r="5.0"/>
<circle class="g" cx="436.0" cy="791.9" r="7.0"/>
<circle class="g" cx="697.4" cy="772.3" r="5.5"/>
<circle class="g" cx="381.7" cy="779.7" r="5.0"/>
<circle class="g" cx="701.1" cy="783.6" r="4.0"/>
<circle class="g" cx="409.3" cy="866.3" r="5.5"/>
<circle class="g" cx="732.3" cy="881.2" r="3.0"/>
<circle class="g" cx="568.4" cy="925.1" r="5.0"/>
<circle class="g" cx="744.7" cy="839.5" r="6.0"/>
<circle class="g" cx="420.2" cy="752.0" r="3.0"/>
<circle class="g" cx="345.2" cy="869.1" r="5.0"/>
<circle class="g" cx="386.7" cy="775.9" r="6.0"/>
<circle class="g" cx="662.7" cy="703.2" r="6.0"/>
<circle class="g" cx="418.1" cy="883.9" r="5.5"/>
<circle class="g" cx="395.5" cy="803.6" r="4.5"/>
<circle class="g" cx="401.7" cy="802.8" r="5.0"/>
<circle class="g" cx="753.1" cy="821.3" r="5.0"/>
<circle class="g" cx="576.6" cy="909.8" r="5.0"/>
<circle class="g" cx="429.5" cy="765.5" r="4.0"/>
<circle class="g" cx="727.7" cy="786.8" r="4.5"/>
<circle class="g" cx="700.5" cy="779.8" r="5.0"/>
<circle class="g" cx="395.4" cy="813.5" r="4.0"/>
<circle class="g" cx="455.2" cy="645.7" r="4.5"/>
<circle class="g" cx="380.6" cy="887.9" r="4.0"/>
<circle class="g" cx="560.7" cy="906.4" r="5.0"/>
<circle class="g" cx="656.3" cy="682.7" r="4.5"/>
<circle class="g" cx="779.5" cy="820.9" r="6.0"/>
<circle class="g" cx="646.1" cy="879.1" r="3.5"/>
<circle class="g" cx="773.5" cy="851.2" r="3.0"/>
<circle class="g" cx="774.6" cy="880.9" r="4.0"/>
<circle class="g" cx="519.5" cy="902.8" r="5.0"/>
<circle class="g" cx="426.4" cy="902.9" r="4.0"/>
<circle class="g" cx="742.6" cy="794.2" r="4.0"/>
<circle class="g" cx="356.1" cy="862.5" r="4.0"/>
<circle class="g" cx="627.1" cy="896.8" r="5.0"/>
<circle class="g" cx="685.5" cy="796.9" r="5.0"/>
<circle class="g" cx="533.1" cy="918.6" r="4.5"/>
<circle class="g" cx="374.0" cy="895.4" r="7.0"/>
<circle class="g" cx="654.0" cy="807.2" r="3.0"/>
<circle class="g" cx="665.8" cy="840.0" r="5.0"/>
<circle class="g" cx="405.6" cy="770.8" r="5.0"/>
<circle class="g" cx="667.6" cy="878.6" r="5.0"/>
<circle class="g" cx="391.4" cy="786.1" r="3.0"/>
<circle class="g" cx="666.2" cy="847.7" r="5.0"/>
<circle class="g" cx="425.4" cy="879.5" r="4.0"/>
<circle class="g" cx="687.6" cy="863.5" r="4.0"/>
<circle class="g" cx="389.5" cy="760.6" r="5.5"/>
<circle class="g" cx="722.8" cy="826.5" r="5.0"/>
<circle class="g" cx="626.0" cy="529.1" r="6.0"/>
<circle class="g" cx="435.0" cy="802.2" r="7.0"/>
<circle class="g" cx="671.1" cy="848.9" r="5.0"/>
<circle class="g" cx="643.1" cy="868.4" r="5.5"/>
<circle class="g" cx="660.5" cy="729.4" r="5.0"/>
<circle class="g" cx="402.5" cy="782.4" r="5.0"/>
<circle class="g" cx="439.5" cy="664.3" r="5.0"/>
<circle class="g" cx="397.6" cy="832.6" r="5.0"/>
<circle class="g" cx="809.3" cy="849.6" r="4.5"/>
<circle class="g" cx="634.4" cy="647.8" r="3.5"/>
<circle class="g" cx="676.8" cy="882.8" r="3.5"/>
<circle class="g" cx="356.8" cy="856.1" r="3.0"/>
<circle class="g" cx="751.2" cy="880.0" r="3.0"/>
<circle class="g" cx="773.9" cy="832.1" r="5.0"/>
<circle class="g" cx="457.2" cy="890.2" r="4.5"/>
<circle class="g" cx="737.9" cy="796.2" r="5.0"/>
<circle class="g" cx="422.1" cy="691.2" r="5.0"/>
<circle class="g" cx="742.2" cy="874.7" r="6.0"/>
<circle class="g" cx="607.1" cy="899.8" r="4.0"/>
<circle class="g" cx="759.7" cy="829.4" r="6.0"/>
<circle class="g" cx="643.4" cy="568.6" r="7.0"/>
<circle class="g" cx="375.5" cy="847.6" r="5.0"/>
<circle class="g" cx="518.6" cy="896.5" r="4.0"/>
<circle class="g" cx="670.5" cy="848.1" r="4.5"/>
<circle class="g" cx="761.2" cy="803.9" r="5.0"/>
<circle class="g" cx="743.2" cy="895.0" r="4.5"/>
<circle class="g" cx="634.9" cy="621.8" r="3.0"/>
<circle class="g" cx="358.3" cy="804.8" r="6.0"/>
<circle class="g" cx="672.6" cy="746.4" r="7.0"/>
<circle class="g" cx="486.9" cy="900.1" r="4.0"/>
<circle class="g" cx="787.7" cy="813.5" r="4.5"/>
<circle class="g" cx="430.4" cy="905.4" r="7.0"/>
<circle class="g" cx="654.2" cy="700.4" r="5.5"/>
<circle class="g" cx="403.0" cy="811.2" r="6.0"/>
<circle class="g" cx="673.2" cy="787.8" r="5.0"/>
<circle class="g" cx="413.7" cy="814.1" r="4.0"/>
<circle class="g" cx="704.0" cy="880.0" r="4.0"/>
<circle class="g" cx="445.3" cy="886.9" r="5.0"/>
<circle class="g" cx="711.1" cy="855.4" r="5.0"/>
<circle class="g" cx="440.6" cy="671.3" r="3.0"/>
<circle class="g" cx="757.7" cy="831.8" r="4.0"/>
<circle class="g" cx="389.0" cy="859.3" r="3.0"/>
<circle class="g" cx="444.9" cy="904.5" r="6.0"/>
<circle class="g" cx="667.3" cy="762.2" r="5.0"/>
<circle class="g" cx="408.3" cy="692.4" r="5.5"/>
<circle class="g" cx="399.0" cy="884.7" r="6.0"/>
<circle class="g" cx="739.8" cy="849.8" r="4.0"/>
<circle class="g" cx="651.1" cy="837.3" r="3.0"/>
<circle class="g" cx="467.8" cy="591.7" r="6.0"/>
<circle class="g" cx="430.4" cy="706.4" r="7.0"/>
<circle class="g" cx="439.4" cy="844.8" r="4.5"/>
<circle class="g" cx="384.2" cy="743.2" r="4.0"/>
<circle class="g" cx="687.1" cy="874.2" r="3.5"/>
<circle class="g" cx="523.8" cy="913.4" r="3.0"/>
<circle class="g" cx="450.0" cy="601.3" r="4.0"/>
<circle class="g" cx="445.1" cy="909.1" r="4.5"/>
<circle class="g" cx="728.3" cy="817.9" r="3.0"/>
<circle class="g" cx="407.6" cy="680.7" r="4.0"/>
<circle class="g" cx="674.0" cy="744.1" r="5.0"/>
<circle class="g" cx="703.6" cy="809.5" r="5.0"/>
<circle class="g" cx="408.8" cy="675.6" r="3.5"/>
<circle class="g" cx="446.3" cy="828.0" r="6.0"/>
<circle class="g" cx="744.3" cy="823.3" r="4.5"/>
<circle class="g" cx="408.2" cy="695.5" r="5.0"/>
<circle class="g" cx="765.0" cy="853.1" r="3.0"/>
<circle class="g" cx="648.9" cy="663.8" r="4.0"/>
<circle class="g" cx="691.3" cy="878.4" r="7.0"/>
<circle class="g" cx="701.0" cy="858.1" r="4.0"/>
<circle class="g" cx="409.7" cy="752.3" r="5.0"/>
<circle class="g" cx="437.0" cy="845.4" r="7.0"/>
<circle class="g" cx="740.9" cy="894.0" r="5.0"/>
<circle class="g" cx="413.3" cy="794.0" r="4.0"/>
<circle class="g" cx="466.0" cy="895.7" r="4.5"/>
<circle class="g" cx="701.0" cy="896.0" r="5.0"/>
<circle class="g" cx="605.6" cy="904.8" r="5.0"/>
<circle class="g" cx="658.4" cy="857.0" r="4.0"/>
<circle class="g" cx="675.3" cy="727.9" r="4.0"/>
<circle class="g" cx="630.8" cy="546.4" r="3.5"/>
<circle class="g" cx="741.0" cy="892.8" r="5.0"/>
<circle class="g" cx="423.4" cy="837.5" r="5.0"/>
<circle class="g" cx="812.3" cy="859.6" r="4.0"/>
<circle class="g" cx="421.4" cy="899.2" r="3.5"/>
<circle class="g" cx="699.7" cy="771.8" r="7.0"/>
<circle class="g" cx="397.5" cy="831.2" r="5.0"/>
<circle class="g" cx="407.2" cy="663.8" r="5.0"/>
<circle class="g" cx="690.5" cy="817.9" r="4.0"/>
<circle class="g" cx="390.4" cy="804.3" r="7.0"/>
<circle class="g" cx="422.2" cy="769.8" r="4.0"/>
<circle class="g" cx="650.9" cy="692.5" r="4.5"/>
<circle class="g" cx="517.2" cy="904.7" r="5.0"/>
<circle class="g" cx="687.2" cy="845.7" r="3.0"/>
<circle class="g" cx="435.6" cy="725.6" r="4.0"/>
<circle class="g" cx="544.4" cy="928.9" r="6.0"/>
<circle class="g" cx="663.7" cy="783.4" r="4.0"/>
<circle class="g" cx="657.1" cy="827.5" r="5.0"/>
<circle class="g" cx="794.5" cy="885.2" r="4.5"/>
<circle class="g" cx="666.9" cy="807.7" r="5.0"/>
<circle class="g" cx="758.2" cy="819.2" r="4.0"/>
<circle class="g" cx="498.9" cy="886.2" r="4.5"/>
<circle class="g" cx="653.2" cy="905.3" r="5.0"/>
<circle class="g" cx="452.3" cy="620.2" r="7.0"/>
<circle class="g" cx="435.0" cy="610.8" r="4.0"/>
<circle class="g" cx="807.2" cy="848.2" r="4.5"/>
<circle class="g" cx="434.8" cy="788.8" r="5.0"/>
<circle class="g" cx="407.6" cy="806.8" r="4.0"/>
<circle class="g" cx="414.4" cy="845.2" r="5.5"/>
<circle class="g" cx="670.0" cy="725.0" r="6.0"/>
<circle class="g" cx="794.9" cy="852.0" r="5.0"/>
<circle class="g" cx="381.7" cy="808.7" r="5.0"/>
<circle class="g" cx="427.8" cy="649.3" r="5.0"/>
<circle class="g" cx="726.3" cy="861.0" r="7.0"/>
<circle class="g" cx="445.1" cy="906.2" r="7.0"/>
<circle class="g" cx="630.5" cy="567.2" r="5.0"/>
<circle class="g" cx="437.8" cy="664.3" r="6.0"/>
<circle class="g" cx="668.9" cy="683.8" r="4.5"/>
<circle class="g" cx="532.1" cy="929.0" r="4.0"/>
<circle class="g" cx="664.6" cy="790.1" r="5.0"/>
<circle class="g" cx="711.4" cy="878.8" r="5.0"/>
<circle class="g" cx="485.6" cy="884.5" r="3.5"/>
<circle class="g" cx="440.0" cy="904.5" r="4.5"/>
<circle class="g" cx="424.2" cy="607.4" r="4.0"/>
<circle class="g" cx="412.9" cy="778.9" r="3.5"/>
<circle class="g" cx="782.4" cy="831.1" r="6.0"/>
<circle class="g" cx="437.6" cy="683.6" r="4.5"/>
<circle class="g" cx="346.9" cy="866.5" r="4.0"/>
<circle class="g" cx="751.9" cy="786.3" r="4.0"/>
<circle class="g" cx="414.7" cy="659.1" r="4.0"/>
<circle class="g" cx="802.6" cy="842.6" r="4.5"/>
<circle class="g" cx="673.8" cy="713.1" r="4.5"/>
<circle class="g" cx="681.4" cy="745.1" r="4.5"/>
<circle class="g" cx="371.6" cy="837.1" r="5.0"/>
<circle class="g" cx="529.5" cy="905.2" r="4.0"/>
<circle class="g" cx="363.4" cy="855.3" r="6.0"/>
<circle class="g" cx="788.0" cy="847.0" r="5.0"/>
<circle class="g" cx="558.1" cy="910.2" r="4.0"/>
<circle class="g" cx="807.8" cy="868.6" r="3.0"/>
<circle class="g" cx="766.7" cy="850.6" r="5.5"/>
<circle class="g" cx="428.9" cy="684.8" r="3.5"/>
<circle class="g" cx="427.0" cy="765.9" r="3.0"/>
<circle class="g" cx="759.0" cy="860.9" r="5.0"/>
<circle class="g" cx="567.6" cy="900.8" r="6.0"/>
<circle class="g" cx="690.4" cy="821.7" r="3.5"/>
<circle class="g" cx="631.0" cy="891.7" r="5.0"/>
<circle class="g" cx="703.2" cy="888.2" r="4.0"/>
<circle class="g" cx="741.9" cy="846.6" r="3.0"/>
<circle class="g" cx="757.4" cy="888.0" r="6.0"/>
<circle class="g" cx="431.7" cy="714.4" r="5.0"/>
<circle class="g" cx="632.5" cy="880.2" r="3.0"/>
<circle class="g" cx="693.6" cy="897.6" r="6.0"/>
<circle class="g" cx="448.5" cy="829.8" r="6.0"/>
<circle class="g" cx="381.4" cy="825.5" r="5.0"/>
<circle class="g" cx="793.9" cy="836.0" r="4.5"/>
<circle class="g" cx="786.2" cy="834.2" r="6.0"/>
<circle class="g" cx="632.2" cy="559.4" r="4.5"/>
<circle class="g" cx="389.4" cy="857.8" r="5.5"/>
<circle class="g" cx="641.5" cy="651.3" r="4.0"/>
<circle class="g" cx="391.8" cy="815.1" r="3.0"/>
<circle class="g" cx="412.8" cy="657.7" r="5.5"/>
<circle class="g" cx="398.0" cy="654.4" r="5.0"/>
<circle class="g" cx="771.2" cy="801.9" r="5.0"/>
<circle class="g" cx="648.2" cy="847.4" r="4.0"/>
<circle class="g" cx="627.0" cy="582.4" r="7.0"/>
<circle class="g" cx="420.8" cy="842.0" r="5.0"/>
<circle class="g" cx="775.8" cy="826.2" r="3.5"/>
<circle class="g" cx="716.7" cy="799.3" r="5.5"/>
<circle class="g" cx="388.9" cy="712.0" r="6.0"/>
<circle class="g" cx="394.9" cy="780.0" r="4.0"/>
<circle class="g" cx="409.5" cy="636.1" r="5.0"/>
<circle class="g" cx="623.4" cy="585.8" r="6.0"/>
<circle class="g" cx="385.1" cy="810.7" r="4.0"/>
<circle class="g" cx="695.0" cy="901.7" r="4.0"/>
<circle class="g" cx="397.8" cy="782.6" r="4.0"/>
<circle class="g" cx="651.2" cy="664.1" r="5.0"/>
<circle class="g" cx="426.8" cy="783.3" r="5.5"/>
<circle class="g" cx="707.5" cy="806.5" r="4.0"/>
<circle class="g" cx="739.0" cy="835.7" r="7.0"/>
<circle class="g" cx="466.8" cy="886.3" r="7.0"/>
<circle class="g" cx="643.1" cy="652.4" r="4.5"/>
<circle class="g" cx="430.3" cy="658.7" r="5.0"/>
<circle class="g" cx="784.0" cy="866.3" r="5.0"/>
<circle class="g" cx="704.5" cy="805.9" r="4.0"/>
<circle class="g" cx="529.6" cy="905.7" r="5.0"/>
<circle class="g" cx="410.7" cy="792.4" r="7.0"/>
<circle class="g" cx="475.1" cy="896.8" r="4.0"/>
<circle class="g" cx="390.4" cy="714.6" r="3.0"/>
<circle class="g" cx="445.6" cy="914.9" r="5.0"/>
<circle class="g" cx="634.4" cy="649.7" r="4.5"/>
<circle class="g" cx="414.5" cy="847.4" r="3.5"/>
<circle class="g" cx="695.4" cy="841.7" r="4.0"/>
<circle class="g" cx="750.3" cy="869.2" r="5.0"/>
<circle class="g" cx="366.0" cy="810.3" r="6.0"/>
<circle class="g" cx="673.6" cy="696.1" r="5.5"/>
<circle class="g" cx="376.1" cy="848.1" r="6.0"/>
<circle class="g" cx="663.9" cy="696.0" r="4.0"/>
<circle class="g" cx="755.1" cy="865.1" r="4.0"/>
<circle class="g" cx="728.5" cy="891.9" r="4.0"/>
<circle class="g" cx="542.4" cy="935.3" r="5.0"/>
<circle class="g" cx="715.0" cy="779.4" r="3.5"/>
<circle class="g" cx="791.9" cy="850.6" r="4.0"/>
<circle class="g" cx="611.1" cy="519.1" r="4.5"/>
<circle class="g" cx="461.5" cy="597.3" r="5.0"/>
<circle class="g" cx="401.0" cy="794.5" r="5.0"/>
<circle class="g" cx="646.3" cy="891.8" r="5.0"/>
<circle class="g" cx="427.2" cy="810.6" r="3.0"/>
<circle class="g" cx="416.6" cy="634.5" r="5.0"/>
<circle class="g" cx="688.9" cy="750.6" r="7.0"/>
<circle class="g" cx="684.3" cy="825.5" r="5.5"/>
<circle class="g" cx="421.5" cy="833.4" r="5.5"/>
<circle class="g" cx="388.8" cy="887.7" r="4.0"/>
<circle class="g" cx="401.6" cy="762.5" r="3.0"/>
<circle class="g" cx="714.9" cy="792.5" r="5.0"/>
<circle class="g" cx="657.2" cy="874.4" r="3.5"/>
<circle class="g" cx="458.7" cy="877.6" r="5.5"/>
<circle class="g" cx="409.4" cy="891.7" r="4.0"/>
<circle class="g" cx="407.4" cy="708.0" r="4.0"/>
<circle class="g" cx="620.8" cy="901.3" r="4.0"/>
<circle class="g" cx="794.2" cy="841.9" r="4.5"/>
<circle class="g" cx="678.9" cy="854.1" r="5.5"/>
<circle class="g" cx="657.3" cy="791.0" r="4.0"/>
<circle class="g" cx="423.5" cy="866.8" r="3.5"/>
<circle class="g" cx="467.3" cy="894.1" r="7.0"/>
<circle class="g" cx="449.4" cy="611.4" r="5.5"/>
<circle class="g" cx="471.1" cy="884.9" r="4.0"/>
<circle class="g" cx="694.9" cy="885.8" r="5.5"/>
<circle class="g" cx="560.5" cy="931.3" r="6.0"/>
<circle class="g" cx="436.0" cy="731.5" r="5.5"/>
<circle class="g" cx="649.6" cy="667.8" r="6.0"/>
<circle class="g" cx="380.7" cy="836.1" r="4.0"/>
<circle class="g" cx="665.7" cy="873.9" r="5.5"/>
<circle class="g" cx="425.9" cy="779.6" r="3.0"/>
<circle class="g" cx="361.7" cy="811.8" r="5.0"/>
<circle class="g" cx="416.4" cy="866.0" r="5.0"/>
<circle class="g" cx="621.7" cy="552.7" r="4.0"/>
<circle class="g" cx="747.4" cy="878.2" r="7.0"/>
<circle class="g" cx="396.9" cy="685.6" r="3.0"/>
<circle class="g" cx="433.2" cy="766.0" r="5.0"/>
<circle class="g" cx="426.1" cy="857.8" r="6.0"/>
<circle class="g" cx="393.9" cy="717.3" r="4.0"/>
<circle class="g" cx="427.9" cy="758.9" r="6.0"/>
<circle class="g" cx="723.3" cy="786.2" r="5.0"/>
<circle class="g" cx="715.8" cy="783.2" r="5.0"/>
<circle class="g" cx="745.4" cy="824.5" r="5.0"/>
<circle class="g" cx="440.3" cy="822.3" r="6.0"/>
<circle class="g" cx="427.9" cy="807.2" r="5.5"/>
<circle class="g" cx="746.0" cy="859.7" r="3.0"/>
<circle class="g" cx="680.7" cy="889.2" r="4.5"/>
<circle class="g" cx="691.4" cy="805.8" r="4.5"/>
<circle class="g" cx="622.1" cy="895.5" r="5.5"/>
<circle class="g" cx="785.5" cy="874.1" r="3.5"/>
<circle class="g" cx="597.4" cy="893.8" r="3.0"/>
<circle class="g" cx="698.2" cy="851.1" r="5.0"/>
<circle class="g" cx="687.7" cy="731.2" r="3.5"/>
<circle class="g" cx="390.8" cy="894.7" r="5.0"/>
<circle class="g" cx="469.1" cy="569.6" r="5.0"/>
<circle class="g" cx="582.0" cy="899.2" r="4.5"/>
<circle class="g" cx="469.8" cy="881.8" r="3.0"/>
<circle class="g" cx="613.7" cy="522.4" r="4.0"/>
<circle class="g" cx="415.7" cy="791.2" r="5.0"/>
<circle class="g" cx="372.8" cy="784.1" r="4.5"/>
<circle class="g" cx="462.9" cy="600.4" r="3.5"/>
<circle class="g" cx="395.1" cy="681.6" r="4.5"/>
<circle class="g" cx="422.6" cy="777.6" r="6.0"/>
<circle class="g" cx="470.6" cy="893.1" r="5.0"/>
<circle class="g" cx="674.5" cy="720.0" r="3.5"/>
<circle class="g" cx="664.3" cy="753.7" r="5.5"/>
<circle class="g" cx="715.8" cy="801.9" r="5.5"/>
<circle class="g" cx="684.7" cy="808.4" r="7.0"/>
<circle class="g" cx="769.0" cy="833.3" r="4.5"/>
<circle class="g" cx="679.1" cy="871.2" r="4.0"/>
<circle class="g" cx="384.2" cy="844.9" r="5.5"/>
<circle class="g" cx="402.4" cy="722.7" r="4.0"/>
<circle class="g" cx="686.9" cy="860.5" r="5.5"/>
<circle class="g" cx="637.8" cy="874.1" r="4.0"/>
<circle class="g" cx="786.5" cy="834.6" r="5.0"/>
<circle class="g" cx="742.0" cy="821.5" r="5.5"/>
<circle class="g" cx="385.4" cy="854.4" r="5.5"/>
<circle class="g" cx="648.6" cy="684.2" r="5.0"/>
<circle class="g" cx="628.8" cy="617.8" r="3.0"/>
<circle class="g" cx="414.3" cy="624.2" r="7.0"/>
<circle class="g" cx="416.5" cy="657.8" r="4.0"/>
<circle class="g" cx="648.6" cy="855.9" r="4.5"/>
<circle class="g" cx="686.3" cy="770.7" r="4.5"/>
<circle class="g" cx="705.0" cy="831.3" r="6.0"/>
<circle class="g" cx="617.0" cy="538.7" r="6.0"/>
<circle class="g" cx="550.5" cy="904.1" r="5.0"/>
<circle class="g" cx="427.8" cy="712.0" r="7.0"/>
<circle class="g" cx="693.0" cy="879.9" r="4.5"/>
<circle class="g" cx="356.6" cy="851.1" r="4.0"/>
<circle class="g" cx="442.7" cy="841.3" r="4.5"/>
<circle class="g" cx="741.9" cy="840.4" r="4.5"/>
<circle class="g" cx="441.3" cy="912.3" r="3.5"/>
<circle class="g" cx="699.5" cy="821.6" r="4.0"/>
<circle class="g" cx="690.8" cy="898.8" r="4.5"/>
<circle class="g" cx="459.2" cy="855.8" r="3.0"/>
<circle class="g" cx="745.2" cy="883.2" r="4.5"/>
<circle class="g" cx="739.5" cy="812.3" r="5.0"/>
<circle class="g" cx="657.1" cy="791.9" r="3.5"/>
<circle class="g" cx="662.7" cy="777.8" r="6.0"/>
<circle class="g" cx="728.2" cy="841.6" r="5.0"/>
<circle class="g" cx="730.3" cy="796.5" r="5.5"/>
<circle class="g" cx="479.7" cy="895.6" r="5.5"/>
<circle class="g" cx="643.5" cy="863.3" r="5.0"/>
<circle class="g" cx="479.5" cy="914.7" r="4.5"/>
<circle class="g" cx="356.9" cy="840.7" r="4.0"/>
<circle class="g" cx="424.2" cy="751.5" r="5.0"/>
<circle class="g" cx="409.1" cy="676.7" r="5.0"/>
<circle class="g" cx="630.1" cy="630.4" r="5.0"/>
<circle class="g" cx="454.9" cy="862.0" r="3.0"/>
<circle class="g" cx="643.7" cy="894.9" r="4.5"/>
<circle class="g" cx="436.5" cy="741.4" r="4.5"/>
<circle class="g" cx="390.5" cy="759.3" r="6.0"/>
<circle class="g" cx="438.3" cy="732.9" r="4.5"/>
<circle class="g" cx="680.1" cy="765.8" r="5.5"/>
<circle class="g" cx="384.4" cy="788.0" r="3.0"/>
<circle class="g" cx="496.7" cy="893.2" r="6.0"/>
<circle class="g" cx="487.8" cy="895.4" r="5.0"/>
<circle class="g" cx="645.1" cy="903.2" r="4.0"/>
<circle class="g" cx="428.9" cy="854.6" r="3.0"/>
<circle class="g" cx="433.9" cy="803.6" r="4.0"/>
<circle class="g" cx="399.4" cy="763.0" r="3.5"/>
<circle class="g" cx="460.2" cy="873.5" r="4.0"/>
<circle class="g" cx="657.4" cy="839.9" r="4.0"/>
<circle class="g" cx="374.5" cy="835.7" r="4.0"/>
<circle class="g" cx="697.2" cy="888.3" r="3.0"/>
<circle class="g" cx="649.0" cy="882.2" r="6.0"/>
<circle class="g" cx="431.6" cy="896.8" r="7.0"/>
<circle class="g" cx="457.3" cy="905.3" r="5.0"/>
<circle class="g" cx="728.8" cy="844.9" r="4.5"/>
<circle class="g" cx="670.0" cy="896.2" r="5.0"/>
<circle class="g" cx="590.6" cy="895.6" r="4.0"/>
<circle class="g" cx="783.6" cy="863.8" r="4.5"/>
<circle class="g" cx="469.5" cy="913.0" r="5.0"/>
<circle class="g" cx="378.1" cy="747.4" r="3.0"/>
<circle class="g" cx="715.1" cy="863.0" r="3.0"/>
<circle class="g" cx="571.7" cy="909.1" r="4.0"/>
<circle class="g" cx="512.1" cy="919.0" r="3.5"/>
<circle class="g" cx="694.5" cy="874.2" r="5.0"/>
<circle class="g" cx="373.7" cy="840.2" r="7.0"/>
<circle class="g" cx="773.2" cy="873.7" r="3.0"/>
<circle class="g" cx="674.3" cy="779.7" r="4.5"/>
<circle class="g" cx="450.2" cy="833.7" r="5.5"/>
<circle class="g" cx="641.2" cy="886.8" r="5.0"/>
<circle class="g" cx="675.0" cy="728.2" r="3.0"/>
<circle class="g" cx="446.0" cy="905.9" r="5.0"/>
<circle class="g" cx="804.3" cy="862.9" r="7.0"/>
<circle class="g" cx="737.7" cy="793.7" r="3.5"/>
<circle class="g" cx="416.4" cy="701.1" r="3.0"/>
<circle class="g" cx="717.6" cy="819.1" r="3.0"/>
<circle class="g" cx="719.8" cy="810.4" r="5.0"/>
<circle class="g" cx="438.9" cy="881.3" r="4.0"/>
<circle class="g" cx="694.9" cy="788.8" r="4.0"/>
<circle class="g" cx="522.6" cy="901.2" r="5.0"/>
<circle class="g" cx="497.0" cy="902.9" r="5.0"/>
<circle class="g" cx="669.1" cy="830.4" r="5.0"/>
<circle class="g" cx="507.0" cy="906.9" r="7.0"/>
<circle class="g" cx="380.4" cy="811.6" r="5.0"/>
<circle class="g" cx="684.5" cy="849.3" r="4.0"/>
<circle class="g" cx="448.0" cy="671.7" r="3.0"/>
<circle class="g" cx="679.3" cy="880.2" r="6.0"/>
<circle class="g" cx="712.7" cy="850.0" r="3.5"/>
<circle class="g" cx="529.6" cy="915.8" r="5.0"/>
<circle class="g" cx="697.9" cy="873.2" r="4.0"/>
<circle class="g" cx="673.2" cy="901.1" r="3.5"/>
<circle class="g" cx="454.2" cy="586.2" r="5.0"/>
<circle class="g" cx="655.4" cy="849.1" r="5.5"/>
<circle class="g" cx="386.1" cy="820.5" r="5.0"/>
<circle class="g" cx="724.7" cy="787.8" r="5.0"/>
<circle class="g" cx="411.4" cy="806.8" r="4.5"/>
<circle class="g" cx="642.3" cy="586.1" r="5.5"/>
<circle class="g" cx="452.8" cy="657.4" r="7.0"/>
<circle class="g" cx="636.8" cy="559.3" r="4.0"/>
<circle class="g" cx="472.5" cy="547.5" r="5.5"/>
<circle class="g" cx="352.1" cy="833.1" r="4.0"/>
<circle class="g" cx="360.1" cy="803.8" r="4.0"/>
<circle class="g" cx="709.7" cy="800.4" r="7.0"/>
<circle class="g" cx="707.9" cy="778.7" r="5.0"/>
<circle class="g" cx="663.2" cy="865.0" r="5.0"/>
<circle class="g" cx="432.3" cy="664.4" r="6.0"/>
<circle class="g" cx="414.5" cy="779.4" r="6.0"/>
<circle class="g" cx="351.6" cy="875.3" r="4.5"/>
<circle class="g" cx="728.9" cy="844.0" r="5.0"/>
<circle class="g" cx="387.9" cy="738.3" r="5.0"/>
<circle class="g" cx="717.3" cy="862.9" r="6.0"/>
<circle class="g" cx="746.5" cy="867.4" r="3.0"/>
<circle class="g" cx="402.3" cy="863.0" r="7.0"/>
<circle class="g" cx="400.1" cy="741.9" r="4.0"/>
<circle class="g" cx="647.0" cy="866.3" r="5.0"/>
<circle class="g" cx="784.8" cy="836.5" r="5.0"/>
<circle class="g" cx="672.5" cy="815.4" r="7.0"/>
<circle class="g" cx="726.9" cy="875.6" r="3.5"/>
<circle class="g" cx="633.3" cy="897.9" r="5.0"/>
<circle class="g" cx="656.8" cy="823.2" r="5.0"/>
<circle class="g" cx="449.1" cy="913.1" r="4.5"/>
<circle class="g" cx="703.4" cy="795.7" r="5.5"/>
<circle class="g" cx="468.2" cy="881.5" r="4.0"/>
<circle class="g" cx="372.1" cy="776.6" r="5.5"/>
<circle class="g" cx="676.4" cy="854.8" r="4.5"/>
<circle class="g" cx="391.4" cy="682.6" r="3.0"/>
<circle class="g" cx="383.0" cy="735.8" r="4.0"/>
<circle class="g" cx="737.4" cy="794.7" r="4.5"/>
<circle class="g" cx="730.5" cy="836.9" r="5.0"/>
<circle class="g" cx="441.5" cy="856.6" r="3.5"/>
<circle class="g" cx="732.4" cy="795.7" r="4.5"/>
<circle class="g" cx="558.2" cy="919.6" r="4.5"/>
<circle class="g" cx="653.6" cy="620.5" r="4.0"/>
<circle class="g" cx="782.2" cy="887.1" r="7.0"/>
<circle class="g" cx="655.6" cy="794.4" r="3.5"/>
<circle class="g" cx="669.3" cy="764.1" r="3.5"/>
<circle class="g" cx="741.6" cy="851.0" r="7.0"/>
<circle class="g" cx="454.6" cy="637.8" r="3.5"/>
<circle class="g" cx="587.7" cy="918.7" r="5.0"/>
<circle class="g" cx="663.1" cy="741.8" r="3.5"/>
<circle class="g" cx="805.2" cy="841.4" r="5.5"/>
<circle class="g" cx="425.8" cy="875.7" r="5.5"/>
<circle class="g" cx="547.7" cy="911.5" r="7.0"/>
<circle class="g" cx="726.5" cy="846.3" r="5.0"/>
<circle class="g" cx="653.7" cy="872.8" r="5.5"/>
<circle class="g" cx="663.8" cy="902.7" r="4.0"/>
<circle class="g" cx="400.2" cy="678.2" r="4.0"/>
<circle class="g" cx="420.9" cy="624.8" r="6.0"/>
<circle class="g" cx="456.9" cy="876.0" r="3.5"/>
<circle class="g" cx="401.2" cy="872.3" r="4.5"/>
<circle class="g" cx="410.5" cy="886.9" r="6.0"/>
<circle class="g" cx="636.4" cy="551.8" r="7.0"/>
<circle class="g" cx="442.0" cy="852.3" r="5.0"/>
<circle class="g" cx="745.4" cy="807.1" r="3.5"/>
<circle class="g" cx="775.9" cy="877.2" r="4.5"/>
<circle class="g" cx="426.7" cy="895.7" r="7.0"/>
<circle class="g" cx="757.8" cy="807.3" r="7.0"/>
<circle class="g" cx="408.6" cy="818.0" r="5.5"/>
<circle class="g" cx="399.4" cy="870.6" r="5.5"/>
<circle class="g" cx="717.6" cy="774.4" r="4.0"/>
<circle class="g" cx="412.1" cy="822.8" r="6.0"/>
<circle class="g" cx="703.1" cy="765.4" r="4.0"/>
<circle class="g" cx="546.0" cy="918.1" r="4.0"/>
<circle class="g" cx="370.0" cy="853.3" r="7.0"/>
<circle class="g" cx="663.0" cy="686.8" r="5.0"/>
<circle class="g" cx="759.4" cy="852.3" r="5.0"/>
<circle class="g" cx="366.1" cy="849.8" r="3.5"/>
<circle class="g" cx="693.5" cy="879.2" r="5.0"/>
<circle class="g" cx="676.7" cy="826.1" r="4.5"/>
<circle class="g" cx="682.7" cy="763.0" r="4.0"/>
<circle class="g" cx="426.5" cy="720.5" r="5.0"/>
<circle class="g" cx="447.9" cy="872.7" r="3.0"/>
<circle class="g" cx="784.4" cy="880.1" r="7.0"/>
<circle class="g" cx="753.5" cy="795.6" r="5.0"/>
<circle class="g" cx="530.4" cy="928.4" r="5.5"/>
<circle class="g" cx="792.8" cy="819.5" r="6.0"/>
<circle class="g" cx="412.1" cy="810.7" r="4.0"/>
<circle class="g" cx="739.8" cy="855.3" r="3.0"/>
<circle class="g" cx="697.9" cy="856.5" r="6.0"/>
<circle class="g" cx="622.9" cy="540.2" r="3.5"/>
<circle class="g" cx="706.6" cy="875.5" r="5.0"/>
<circle class="g" cx="442.7" cy="830.8" r="7.0"/>
<circle class="g" cx="720.0" cy="825.0" r="6.0"/>
<circle class="g" cx="657.7" cy="889.0" r="6.0"/>
<circle class="g" cx="385.2" cy="821.6" r="7.0"/>
<circle class="g" cx="755.7" cy="864.0" r="4.0"/>
<circle class="g" cx="708.9" cy="816.3" r="4.0"/>
<circle class="g" cx="775.2" cy="862.4" r="5.5"/>
<circle class="g" cx="770.7" cy="831.2" r="4.5"/>
<circle class="g" cx="524.6" cy="933.7" r="5.0"/>
<circle class="g" cx="755.7" cy="878.0" r="4.5"/>
<circle class="g" cx="373.2" cy="894.2" r="5.0"/>
<circle class="g" cx="450.2" cy="681.7" r="5.0"/>
<circle class="g" cx="661.5" cy="711.9" r="3.5"/>
<circle class="g" cx="414.9" cy="828.9" r="5.5"/>
<circle class="g" cx="691.0" cy="896.7" r="7.0"/>
<circle class="g" cx="666.4" cy="742.0" r="7.0"/>
<circle class="g" cx="680.8" cy="740.3" r="3.0"/>
<circle class="g" cx="453.7" cy="837.6" r="5.5"/>
<circle class="g" cx="628.4" cy="907.4" r="4.0"/>
<circle class="g" cx="666.6" cy="856.6" r="7.0"/>
<circle class="g" cx="767.3" cy="851.5" r="7.0"/>
<circle class="g" cx="665.0" cy="762.9" r="4.5"/>
<circle class="g" cx="627.8" cy="909.6" r="3.0"/>
<circle class="g" cx="397.8" cy="862.0" r="4.0"/>
<circle class="g" cx="413.5" cy="786.7" r="4.0"/>
<circle class="g" cx="657.8" cy="696.8" r="5.0"/>
<circle class="g" cx="784.8" cy="838.7" r="3.5"/>
<circle class="g" cx="744.4" cy="834.7" r="3.0"/>
<circle class="g" cx="501.3" cy="912.7" r="4.5"/>
<circle class="g" cx="531.0" cy="898.4" r="5.0"/>
<circle class="g" cx="706.0" cy="901.2" r="5.0"/>
<circle class="g" cx="727.7" cy="871.2" r="5.0"/>
<circle class="g" cx="427.9" cy="774.4" r="5.0"/>
<circle class="g" cx="383.6" cy="836.4" r="3.5"/>
<circle class="g" cx="428.0" cy="886.3" r="5.0"/>
<circle class="g" cx="782.0" cy="846.8" r="4.5"/>
<circle class="g" cx="408.7" cy="900.9" r="5.0"/>
<circle class="g" cx="417.9" cy="701.2" r="5.0"/>
<circle class="g" cx="386.3" cy="755.4" r="4.5"/>
<circle class="g" cx="500.9" cy="908.9" r="5.0"/>
<circle class="g" cx="414.4" cy="763.7" r="3.5"/>
<circle class="g" cx="640.4" cy="868.7" r="6.0"/>
<circle class="g" cx="561.1" cy="902.4" r="5.5"/>
<circle class="g" cx="360.6" cy="817.0" r="3.5"/>
<circle class="g" cx="372.9" cy="852.5" r="3.0"/>
<circle class="g" cx="469.0" cy="872.3" r="3.0"/>
<circle class="g" cx="443.2" cy="787.3" r="5.0"/>
<circle class="g" cx="404.3" cy="812.1" r="4.0"/>
<circle class="g" cx="434.7" cy="785.3" r="4.0"/>
<circle class="g" cx="410.7" cy="904.9" r="5.0"/>
<circle class="g" cx="746.0" cy="791.4" r="3.0"/>
<circle class="g" cx="723.9" cy="802.8" r="5.5"/>
<circle class="g" cx="409.7" cy="815.0" r="7.0"/>
<circle class="g" cx="649.5" cy="644.3" r="5.5"/>
<circle class="g" cx="425.0" cy="612.9" r="4.0"/>
<circle class="g" cx="712.5" cy="850.3" r="3.0"/>
<circle class="g" cx="664.2" cy="794.3" r="6.0"/>
<circle class="g" cx="747.3" cy="785.8" r="3.5"/>
<circle class="g" cx="440.9" cy="803.3" r="3.5"/>
<circle class="g" cx="503.9" cy="904.7" r="5.0"/>
<circle class="g" cx="746.6" cy="890.4" r="4.5"/>
<circle class="g" cx="453.2" cy="581.2" r="5.0"/>
<circle class="g" cx="750.0" cy="797.6" r="4.0"/>
<circle class="g" cx="463.2" cy="866.0" r="5.0"/>
<circle class="g" cx="378.6" cy="890.8" r="6.0"/>
<circle class="g" cx="464.0" cy="602.4" r="5.5"/>
<circle class="g" cx="389.0" cy="863.8" r="4.5"/>
<circle class="g" cx="458.2" cy="616.3" r="5.5"/>
<circle class="g" cx="699.4" cy="887.3" r="7.0"/>
<circle class="g" cx="443.3" cy="805.1" r="5.0"/>
<circle class="g" cx="745.7" cy="853.0" r="5.0"/>
<circle class="g" cx="355.1" cy="824.6" r="6.0"/>
<circle class="g" cx="610.3" cy="899.3" r="4.0"/>
<circle class="g" cx="760.9" cy="820.2" r="3.0"/>
<circle class="g" cx="668.5" cy="874.6" r="5.0"/>
<circle class="g" cx="683.8" cy="856.9" r="6.0"/>
<circle class="g" cx="453.5" cy="624.7" r="4.0"/>
<circle class="g" cx="713.6" cy="885.0" r="4.0"/>
<circle class="g" cx="435.0" cy="848.3" r="4.0"/>
<circle class="g" cx="423.9" cy="721.3" r="4.0"/>
<circle class="g" cx="428.2" cy="741.2" r="5.0"/>
<circle class="g" cx="736.4" cy="842.1" r="7.0"/>
<circle class="g" cx="356.8" cy="812.6" r="3.0"/>
<circle class="g" cx="438.1" cy="893.1" r="4.0"/>
<circle class="g" cx="411.4" cy="814.3" r="3.0"/>
<circle class="g" cx="737.8" cy="844.7" r="5.0"/>
<circle class="g" cx="424.9" cy="758.3" r="7.0"/>
<circle class="g" cx="637.9" cy="577.4" r="5.0"/>
<circle class="g" cx="656.3" cy="837.5" r="4.0"/>
<circle class="g" cx="356.3" cy="858.6" r="4.0"/>
<circle class="g" cx="805.1" cy="837.6" r="6.0"/>
<circle class="g" cx="712.3" cy="854.2" r="5.0"/>
<circle class="g" cx="489.6" cy="898.9" r="5.0"/>
<circle class="g" cx="397.8" cy="783.9" r="5.5"/>
<circle class="g" cx="625.8" cy="884.7" r="5.0"/>
<circle class="g" cx="580.2" cy="918.7" r="4.5"/>
<circle class="g" cx="417.6" cy="705.6" r="4.0"/>
<circle class="g" cx="599.3" cy="901.1" r="4.5"/>
<circle class="g" cx="628.6" cy="569.7" r="4.5"/>
<circle class="g" cx="780.5" cy="811.2" r="7.0"/>
<circle class="g" cx="702.6" cy="855.6" r="4.0"/>
<circle class="g" cx="432.8" cy="810.8" r="6.0"/>
<circle class="g" cx="684.2" cy="866.2" r="6.0"/>
<circle class="g" cx="458.9" cy="642.6" r="5.5"/>
<circle class="g" cx="346.9" cy="842.8" r="6.0"/>
<circle class="g" cx="415.8" cy="633.7" r="3.0"/>
<circle class="g" cx="756.1" cy="888.8" r="3.0"/>
<circle class="g" cx="403.5" cy="838.0" r="3.5"/>
<circle class="g" cx="620.5" cy="527.5" r="4.0"/>
<circle class="g" cx="421.0" cy="730.7" r="5.5"/>
<circle class="g" cx="541.3" cy="915.4" r="5.5"/>
<circle class="g" cx="376.4" cy="832.5" r="5.0"/>
<circle class="g" cx="432.3" cy="857.3" r="5.0"/>
<circle class="g" cx="660.3" cy="848.6" r="5.5"/>
<circle class="g" cx="662.3" cy="736.4" r="7.0"/>
<circle class="g" cx="668.4" cy="753.5" r="4.0"/>
<circle class="g" cx="680.1" cy="863.7" r="4.0"/>
<circle class="g" cx="661.4" cy="784.3" r="3.0"/>
<circle class="g" cx="715.5" cy="801.3" r="4.0"/>
<circle class="g" cx="650.1" cy="821.2" r="3.5"/>
<circle class="g" cx="380.9" cy="796.0" r="4.5"/>
<circle class="g" cx="460.1" cy="610.3" r="3.0"/>
<circle class="g" cx="558.1" cy="901.5" r="5.5"/>
<circle class="g" cx="453.3" cy="575.1" r="5.0"/>
<circle class="g" cx="663.2" cy="801.6" r="3.0"/>
<circle class="g" cx="391.4" cy="677.4" r="7.0"/>
<circle class="g" cx="462.8" cy="873.5" r="5.0"/>
<circle class="g" cx="461.5" cy="891.2" r="5.0"/>
<circle class="g" cx="411.3" cy="679.8" r="5.0"/>
<circle class="g" cx="428.6" cy="764.1" r="7.0"/>
<circle class="g" cx="369.9" cy="864.5" r="4.0"/>
<circle class="g" cx="420.1" cy="820.3" r="4.0"/>
<circle class="g" cx="689.1" cy="890.0" r="5.0"/>
<circle class="g" cx="487.4" cy="888.8" r="3.0"/>
<circle class="g" cx="655.6" cy="893.8" r="3.0"/>
<circle class="g" cx="379.4" cy="799.2" r="4.0"/>
<circle class="g" cx="412.2" cy="866.2" r="5.0"/>
<circle class="g" cx="706.0" cy="893.5" r="5.5"/>
<circle class="g" cx="588.8" cy="917.4" r="4.0"/>
<circle class="g" cx="441.3" cy="782.6" r="5.5"/>
<circle class="g" cx="363.9" cy="876.5" r="7.0"/>
<circle class="g" cx="642.5" cy="881.1" r="3.5"/>
<circle class="g" cx="397.4" cy="702.6" r="4.0"/>
<circle class="g" cx="689.7" cy="860.1" r="6.0"/>
<circle class="g" cx="639.2" cy="599.2" r="5.5"/>
<circle class="g" cx="388.4" cy="851.4" r="5.5"/>
<circle class="g" cx="416.5" cy="767.3" r="3.0"/>
<circle class="g" cx="452.2" cy="889.5" r="4.0"/>
<circle class="g" cx="747.5" cy="804.8" r="5.0"/>
<circle class="g" cx="755.6" cy="807.2" r="5.0"/>
<circle class="g" cx="709.4" cy="848.1" r="5.0"/>
<circle class="g" cx="428.0" cy="859.0" r="4.0"/>
<circle class="g" cx="567.9" cy="924.9" r="4.0"/>
<circle class="g" cx="410.5" cy="791.3" r="5.0"/>
<circle class="g" cx="547.0" cy="920.5" r="4.0"/>
<circle class="g" cx="678.0" cy="869.2" r="4.5"/>
<circle class="g" cx="510.3" cy="897.2" r="3.5"/>
<circle class="g" cx="784.8" cy="882.8" r="3.5"/>
<circle class="g" cx="803.5" cy="832.4" r="5.5"/>
<circle class="g" cx="393.4" cy="895.7" r="7.0"/>
<circle class="g" cx="667.1" cy="822.4" r="5.5"/>
<circle class="g" cx="675.9" cy="895.2" r="5.0"/>
<circle class="g" cx="666.4" cy="820.3" r="5.5"/>
<circle class="g" cx="723.2" cy="851.7" r="5.0"/>
<circle class="g" cx="447.9" cy="634.6" r="3.0"/>
<circle class="g" cx="609.4" cy="903.8" r="4.5"/>
<circle class="g" cx="628.5" cy="566.3" r="3.5"/>
<circle class="g" cx="652.3" cy="882.5" r="4.0"/>
<circle class="g" cx="491.6" cy="885.8" r="5.0"/>
<circle class="g" cx="435.9" cy="701.4" r="4.0"/>
<circle class="g" cx="668.2" cy="822.3" r="6.0"/>
<circle class="g" cx="651.3" cy="839.4" r="4.0"/>
<circle class="g" cx="604.6" cy="903.3" r="5.0"/>
<circle class="g" cx="719.1" cy="842.8" r="4.0"/>
<circle class="g" cx="425.7" cy="888.8" r="7.0"/>
<circle class="g" cx="366.5" cy="799.1" r="3.0"/>
<circle class="g" cx="748.0" cy="876.9" r="4.5"/>
<circle class="g" cx="577.5" cy="910.7" r="4.0"/>
<circle class="g" cx="740.5" cy="824.3" r="4.0"/>
<circle class="g" cx="470.0" cy="902.5" r="4.5"/>
<circle class="g" cx="429.6" cy="610.5" r="5.5"/>
<circle class="g" cx="703.6" cy="774.7" r="5.0"/>
<circle class="g" cx="393.0" cy="795.1" r="3.0"/>
<circle class="g" cx="392.0" cy="717.3" r="5.0"/>
<circle class="g" cx="754.5" cy="858.7" r="6.0"/>
<circle class="g" cx="422.1" cy="748.4" r="5.0"/>
<circle class="g" cx="641.1" cy="877.7" r="5.0"/>
<circle class="g" cx="760.4" cy="793.2" r="3.5"/>
<circle class="g" cx="398.8" cy="660.5" r="5.0"/>
<circle class="g" cx="364.7" cy="855.1" r="4.5"/>
<circle class="g" cx="773.3" cy="850.8" r="7.0"/>
<circle class="g" cx="539.2" cy="924.2" r="7.0"/>
<circle class="g" cx="755.0" cy="810.3" r="3.5"/>
<circle class="g" cx="672.6" cy="823.9" r="3.5"/>
<circle class="g" cx="748.0" cy="811.5" r="3.5"/>
<circle class="g" cx="756.6" cy="855.1" r="4.0"/>
<circle class="g" cx="799.4" cy="842.5" r="5.5"/>
<circle class="g" cx="754.2" cy="801.6" r="4.0"/>
<circle class="g" cx="760.2" cy="872.1" r="3.5"/>
<circle class="g" cx="741.2" cy="833.0" r="3.5"/>
<circle class="g" cx="410.8" cy="750.4" r="6.0"/>
<circle class="g" cx="548.3" cy="899.1" r="5.5"/>
<circle class="g" cx="408.1" cy="843.6" r="5.0"/>
<circle class="g" cx="663.2" cy="810.2" r="6.0"/>
<circle class="g" cx="466.3" cy="573.3" r="7.0"/>
<circle class="g" cx="722.9" cy="891.3" r="5.0"/>
<circle class="g" cx="698.5" cy="790.2" r="3.0"/>
<circle class="g" cx="441.9" cy="913.7" r="3.0"/>
<circle class="g" cx="570.8" cy="897.6" r="4.0"/>
<circle class="g" cx="420.1" cy="908.3" r="3.5"/>
<circle class="g" cx="660.0" cy="673.0" r="4.0"/>
<circle class="g" cx="405.6" cy="671.0" r="4.5"/>
<circle class="g" cx="515.7" cy="907.0" r="4.0"/>
<circle class="g" cx="680.9" cy="794.1" r="7.0"/>
<circle class="g" cx="394.7" cy="720.6" r="4.5"/>
<circle class="g" cx="400.5" cy="678.1" r="5.5"/>
<circle class="g" cx="775.3" cy="809.8" r="4.0"/>
<circle class="g" cx="428.9" cy="765.1" r="7.0"/>
<circle class="g" cx="417.4" cy="628.6" r="7.0"/>
<circle class="g" cx="443.7" cy="799.2" r="7.0"/>
<circle class="g" cx="413.5" cy="827.9" r="5.0"/>
<circle class="g" cx="460.9" cy="902.3" r="4.5"/>
<circle class="g" cx="809.8" cy="850.1" r="5.0"/>
<circle class="g" cx="809.9" cy="860.5" r="4.0"/>
<circle class="g" cx="778.2" cy="876.8" r="6.0"/>
<circle class="g" cx="728.1" cy="794.3" r="5.5"/>
<circle class="g" cx="793.2" cy="883.9" r="5.0"/>
<circle class="g" cx="394.3" cy="693.2" r="3.0"/>
<circle class="g" cx="421.0" cy="894.0" r="6.0"/>
<circle class="g" cx="696.1" cy="804.3" r="5.0"/>
<circle class="g" cx="423.9" cy="879.7" r="5.5"/>
<circle class="g" cx="679.7" cy="832.8" r="5.5"/>
<circle class="g" cx="369.6" cy="888.5" r="5.0"/>
<circle class="g" cx="435.3" cy="670.1" r="5.5"/>
<circle class="g" cx="613.3" cy="886.6" r="4.0"/>
<circle class="g" cx="457.5" cy="569.3" r="4.5"/>
<circle class="g" cx="665.7" cy="721.4" r="5.0"/>
<circle class="g" cx="661.6" cy="709.7" r="7.0"/>
<circle class="g" cx="630.0" cy="599.7" r="7.0"/>
<circle class="g" cx="365.5" cy="794.2" r="4.0"/>
<circle class="g" cx="381.1" cy="879.8" r="4.5"/>
<circle class="g" cx="440.6" cy="607.1" r="4.0"/>
<circle class="g" cx="432.3" cy="675.8" r="5.0"/>
<circle class="g" cx="693.8" cy="771.6" r="4.5"/>
<circle class="g" cx="430.4" cy="865.1" r="3.5"/>
<circle class="g" cx="757.2" cy="880.5" r="3.5"/>
<circle class="g" cx="397.1" cy="896.0" r="5.0"/>
<circle class="g" cx="728.7" cy="842.8" r="3.0"/>
<circle class="g" cx="491.6" cy="890.0" r="5.5"/>
<circle class="g" cx="369.0" cy="767.0" r="3.5"/>
<circle class="g" cx="712.6" cy="804.7" r="4.5"/>
<circle class="g" cx="746.2" cy="812.0" r="5.0"/>
<circle class="g" cx="745.4" cy="877.4" r="6.0"/>
<circle class="g" cx="683.0" cy="840.5" r="7.0"/>
<circle class="g" cx="702.7" cy="842.9" r="4.5"/>
<circle class="g" cx="425.4" cy="636.8" r="3.0"/>
<circle class="g" cx="726.4" cy="854.2" r="3.5"/>
<circle class="g" cx="409.5" cy="639.9" r="7.0"/>
<circle class="g" cx="691.2" cy="845.1" r="6.0"/>
<circle class="g" cx="718.5" cy="799.4" r="3.0"/>
<circle class="g" cx="448.0" cy="899.9" r="5.0"/>
<circle class="g" cx="702.9" cy="827.0" r="4.5"/>
<circle class="g" cx="591.2" cy="894.4" r="4.0"/>
<circle class="g" cx="575.8" cy="912.9" r="5.0"/>
<circle class="g" cx="695.4" cy="829.9" r="6.0"/>
<circle class="g" cx="413.6" cy="830.4" r="4.0"/>
<circle class="g" cx="392.7" cy="850.7" r="7.0"/>
<circle class="g" cx="764.2" cy="853.3" r="4.5"/>
<circle class="g" cx="666.6" cy="854.7" r="5.0"/>
<circle class="g" cx="668.1" cy="755.6" r="5.0"/>
<circle class="g" cx="420.9" cy="631.3" r="4.0"/>
<circle class="g" cx="748.1" cy="885.1" r="3.0"/>
<circle class="g" cx="414.3" cy="751.4" r="4.0"/>
<circle class="g" cx="451.5" cy="602.0" r="6.0"/>
<circle class="g" cx="579.4" cy="914.6" r="5.0"/>
<circle class="g" cx="483.1" cy="908.2" r="5.0"/>
<circle class="g" cx="386.2" cy="759.9" r="5.0"/>
<circle class="g" cx="619.2" cy="563.1" r="5.0"/>
<circle class="g" cx="799.1" cy="856.1" r="4.0"/>
<circle class="g" cx="685.2" cy="856.6" r="4.0"/>
<circle class="g" cx="426.0" cy="680.2" r="7.0"/>
<circle class="g" cx="782.7" cy="876.8" r="4.0"/>
<circle class="g" cx="386.2" cy="860.6" r="4.0"/>
<circle class="g" cx="787.9" cy="843.0" r="3.0"/>
<circle class="g" cx="433.6" cy="790.8" r="3.5"/>
<circle class="g" cx="389.0" cy="823.6" r="7.0"/>
<circle class="g" cx="653.9" cy="842.0" r="5.0"/>
<circle class="g" cx="793.5" cy="819.8" r="5.5"/>
<circle class="g" cx="542.6" cy="924.0" r="4.5"/>
<circle class="g" cx="737.5" cy="812.5" r="5.5"/>
<circle class="g" cx="673.8" cy="716.9" r="4.0"/>
<circle class="g" cx="432.2" cy="847.0" r="5.0"/>
<circle class="g" cx="680.6" cy="838.8" r="5.0"/>
<circle class="g" cx="583.7" cy="898.8" r="7.0"/>
<circle class="g" cx="452.3" cy="896.3" r="5.0"/>
<circle class="g" cx="401.5" cy="788.3" r="6.0"/>
<circle class="g" cx="637.0" cy="593.7" r="5.0"/>
<circle class="g" cx="445.5" cy="694.5" r="6.0"/>
<circle class="g" cx="746.3" cy="831.4" r="4.5"/>
<circle class="g" cx="501.2" cy="906.5" r="5.5"/>
<circle class="g" cx="746.2" cy="806.1" r="5.5"/>
<circle class="g" cx="360.4" cy="815.8" r="3.5"/>
<circle class="g" cx="658.3" cy="690.2" r="3.5"/>
<circle class="g" cx="803.5" cy="869.1" r="3.0"/>
<circle class="g" cx="636.7" cy="640.6" r="6.0"/>
<circle class="g" cx="550.6" cy="902.7" r="4.0"/>
<circle class="g" cx="438.8" cy="793.5" r="3.5"/>
<circle class="g" cx="691.2" cy="804.1" r="3.5"/>
<circle class="g" cx="428.6" cy="837.5" r="7.0"/>
<circle class="g" cx="433.6" cy="735.6" r="5.0"/>
<circle class="g" cx="522.6" cy="899.0" r="4.0"/>
<circle class="g" cx="397.0" cy="707.5" r="3.0"/>
<circle class="g" cx="558.9" cy="919.1" r="3.0"/>
<circle class="g" cx="706.7" cy="857.8" r="7.0"/>
<circle class="g" cx="438.0" cy="860.1" r="4.0"/>
<circle class="g" cx="651.4" cy="874.0" r="5.0"/>
<circle class="g" cx="628.6" cy="562.4" r="6.0"/>
<circle class="g" cx="769.2" cy="869.5" r="3.5"/>
<circle class="g" cx="441.4" cy="904.1" r="4.0"/>
<circle class="g" cx="741.2" cy="842.5" r="5.0"/>
<circle class="g" cx="742.7" cy="817.5" r="6.0"/>
<circle class="g" cx="467.2" cy="555.1" r="3.0"/>
<circle class="g" cx="750.1" cy="829.7" r="3.0"/>
<circle class="g" cx="680.0" cy="758.5" r="4.0"/>
<circle class="g" cx="416.2" cy="772.2" r="3.0"/>
<circle class="g" cx="807.1" cy="875.7" r="5.5"/>
<circle class="g" cx="748.2" cy="795.6" r="6.0"/>
<circle class="g" cx="681.9" cy="875.1" r="5.5"/>
<circle class="g" cx="419.6" cy="808.6" r="3.5"/>
<circle class="g" cx="364.2" cy="791.9" r="5.0"/>
<circle class="g" cx="640.3" cy="542.7" r="3.5"/>
<circle class="g" cx="661.9" cy="779.9" r="4.5"/>
<circle class="g" cx="605.3" cy="892.3" r="3.0"/>
<circle class="g" cx="551.0" cy="912.3" r="3.0"/>
<circle class="g" cx="415.5" cy="819.6" r="5.0"/>
<circle class="g" cx="391.2" cy="825.0" r="3.0"/>
<circle class="g" cx="802.8" cy="862.3" r="4.5"/>
<circle class="g" cx="736.5" cy="834.4" r="5.5"/>
<circle class="g" cx="395.9" cy="683.2" r="5.0"/>
<circle class="g" cx="691.6" cy="880.4" r="4.5"/>
<circle class="g" cx="648.6" cy="615.8" r="4.5"/>
<circle class="g" cx="450.1" cy="896.2" r="3.5"/>
<circle class="g" cx="447.9" cy="892.1" r="4.0"/>
<circle class="g" cx="540.8" cy="938.0" r="4.0"/>
<circle class="g" cx="567.3" cy="917.1" r="5.0"/>
<circle class="g" cx="382.2" cy="695.3" r="5.5"/>
<circle class="g" cx="592.0" cy="905.4" r="6.0"/>
<circle class="g" cx="395.1" cy="753.6" r="3.0"/>
<circle class="g" cx="785.5" cy="887.7" r="4.0"/>
<circle class="g" cx="542.8" cy="933.5" r="5.5"/>
<circle class="g" cx="406.3" cy="856.1" r="5.5"/>
<circle class="g" cx="382.4" cy="793.7" r="5.0"/>
<circle class="g" cx="774.1" cy="887.8" r="4.0"/>
<circle class="g" cx="647.6" cy="878.5" r="3.5"/>
<circle class="g" cx="406.8" cy="660.0" r="3.0"/>
<circle class="g" cx="720.1" cy="794.8" r="5.0"/>
<circle class="g" cx="528.9" cy="901.9" r="3.0"/>
<circle class="g" cx="430.8" cy="764.8" r="5.5"/>
<circle class="g" cx="699.6" cy="775.0" r="5.0"/>
<circle class="g" cx="420.7" cy="668.6" r="5.5"/>
<circle class="g" cx="737.5" cy="839.0" r="3.0"/>
<circle class="g" cx="680.7" cy="858.1" r="6.0"/>
<circle class="g" cx="353.9" cy="827.5" r="3.5"/>
<circle class="g" cx="722.1" cy="839.0" r="4.0"/>
<circle class="g" cx="391.4" cy="886.8" r="5.0"/>
<circle class="g" cx="681.4" cy="798.7" r="7.0"/>
<circle class="g" cx="357.8" cy="884.7" r="3.5"/>
<circle class="g" cx="737.3" cy="828.3" r="3.0"/>
<circle class="g" cx="632.4" cy="542.4" r="5.5"/>
<circle class="g" cx="442.8" cy="601.7" r="6.0"/>
<circle class="g" cx="447.2" cy="609.0" r="6.0"/>
<circle class="g" cx="372.1" cy="758.5" r="6.0"/>
<circle class="g" cx="654.5" cy="899.5" r="5.5"/>
<circle class="g" cx="442.4" cy="872.3" r="4.0"/>
<circle class="g" cx="584.4" cy="907.5" r="7.0"/>
<circle class="g" cx="730.6" cy="877.0" r="3.0"/>
<circle class="g" cx="442.3" cy="885.4" r="4.5"/>
<circle class="g" cx="724.8" cy="803.9" r="3.5"/>
<circle class="g" cx="630.9" cy="619.8" r="3.5"/>
<circle class="g" cx="754.9" cy="836.1" r="5.0"/>
<circle class="g" cx="683.8" cy="838.1" r="5.0"/>
<circle class="g" cx="460.3" cy="884.6" r="5.0"/>
<circle class="g" cx="785.2" cy="860.0" r="5.0"/>
<circle class="g" cx="767.7" cy="886.3" r="7.0"/>
<circle class="g" cx="456.8" cy="644.5" r="5.0"/>
<circle class="g" cx="396.5" cy="830.5" r="3.0"/>
<circle class="g" cx="408.2" cy="656.8" r="5.5"/>
<circle class="g" cx="669.3" cy="788.1" r="5.0"/>
<circle class="g" cx="777.5" cy="825.9" r="4.0"/>
<circle class="g" cx="425.7" cy="854.8" r="3.0"/>
<circle class="g" cx="773.1" cy="882.9" r="4.0"/>
<circle class="g" cx="404.8" cy="872.9" r="7.0"/>
<circle class="g" cx="410.2" cy="891.6" r="6.0"/>
<circle class="g" cx="429.9" cy="623.6" r="3.0"/>
<circle class="g" cx="560.7" cy="913.8" r="6.0"/>
<circle class="g" cx="395.0" cy="756.8" r="5.5"/>
<circle class="g" cx="432.9" cy="776.0" r="7.0"/>
<circle class="g" cx="695.2" cy="862.5" r="6.0"/>
<circle class="g" cx="747.0" cy="875.1" r="7.0"/>
<circle class="g" cx="458.2" cy="894.1" r="5.0"/>
<circle class="g" cx="715.3" cy="789.2" r="4.0"/>
<circle class="g" cx="452.2" cy="851.9" r="3.5"/>
<circle class="g" cx="573.8" cy="918.4" r="3.0"/>
<circle class="g" cx="747.6" cy="855.3" r="4.0"/>
<circle class="g" cx="393.5" cy="664.3" r="6.0"/>
<circle class="g" cx="759.9" cy="883.5" r="6.0"/>
<circle class="g" cx="650.0" cy="638.9" r="7.0"/>
<circle class="g" cx="426.1" cy="864.9" r="3.0"/>
<circle class="g" cx="731.9" cy="784.6" r="4.5"/>
<circle class="g" cx="795.1" cy="825.2" r="6.0"/>
<circle class="g" cx="742.3" cy="813.8" r="4.5"/>
<circle class="g" cx="390.9" cy="801.3" r="3.0"/>
<circle class="g" cx="618.0" cy="585.2" r="5.0"/>
<circle class="g" cx="732.0" cy="804.9" r="3.5"/>
<circle class="g" cx="682.2" cy="725.5" r="3.0"/>
<circle class="g" cx="776.6" cy="851.7" r="4.0"/>
<circle class="g" cx="435.3" cy="632.5" r="3.0"/>
<circle class="g" cx="350.1" cy="837.4" r="4.5"/>
<circle class="g" cx="435.3" cy="720.4" r="5.0"/>
<circle class="g" cx="433.6" cy="666.9" r="7.0"/>
<circle class="g" cx="363.5" cy="825.1" r="5.5"/>
<circle class="g" cx="427.6" cy="828.7" r="3.5"/>
<circle class="g" cx="643.2" cy="576.9" r="6.0"/>
<circle class="g" cx="650.3" cy="687.2" r="5.5"/>
<circle class="g" cx="704.0" cy="828.3" r="7.0"/>
<circle class="g" cx="729.8" cy="893.9" r="3.0"/>
<circle class="g" cx="446.9" cy="858.9" r="5.5"/>
<circle class="g" cx="710.8" cy="864.9" r="7.0"/>
<circle class="g" cx="374.3" cy="863.1" r="3.0"/>
<circle class="g" cx="449.5" cy="891.3" r="5.5"/>
<circle class="g" cx="623.6" cy="534.0" r="4.0"/>
<circle class="g" cx="412.8" cy="902.5" r="6.0"/>
<circle class="g" cx="794.9" cy="827.3" r="3.5"/>
<circle class="g" cx="615.2" cy="898.4" r="7.0"/>
<circle class="g" cx="810.8" cy="863.9" r="7.0"/>
<circle class="g" cx="664.6" cy="875.4" r="3.5"/>
<circle class="g" cx="539.3" cy="909.8" r="5.0"/>
<circle class="g" cx="387.7" cy="884.8" r="3.0"/>
<circle class="g" cx="747.2" cy="799.2" r="5.0"/>
<circle class="g" cx="428.4" cy="821.8" r="4.5"/>
<circle class="g" cx="433.0" cy="723.0" r="5.0"/>
<circle class="g" cx="371.7" cy="812.6" r="3.0"/>
<circle class="g" cx="406.9" cy="770.3" r="5.0"/>
<circle class="g" cx="406.7" cy="644.0" r="5.0"/>
<circle class="g" cx="656.9" cy="821.5" r="4.5"/>
<circle class="g" cx="722.0" cy="838.9" r="4.5"/>
<circle class="g" cx="539.9" cy="926.9" r="4.5"/>
<circle class="g" cx="414.7" cy="842.8" r="3.0"/>
<circle class="g" cx="423.3" cy="757.5" r="4.0"/>
<circle class="g" cx="774.0" cy="887.5" r="5.5"/>
<circle class="g" cx="804.8" cy="851.0" r="4.5"/>
<circle class="g" cx="621.7" cy="907.4" r="5.5"/>
<circle class="g" cx="758.1" cy="858.0" r="7.0"/>
<circle class="g" cx="688.1" cy="811.3" r="5.0"/>
<circle class="g" cx="661.7" cy="890.7" r="3.0"/>
<circle class="g" cx="747.7" cy="880.9" r="5.0"/>
<circle class="g" cx="433.7" cy="641.9" r="6.0"/>
<circle class="g" cx="406.3" cy="746.9" r="7.0"/>
<circle class="g" cx="680.3" cy="859.4" r="3.0"/>
<circle class="g" cx="745.5" cy="879.2" r="3.0"/>
<circle class="g" cx="663.9" cy="719.7" r="5.0"/>
<circle class="g" cx="638.9" cy="885.5" r="7.0"/>
<circle class="g" cx="713.8" cy="797.5" r="3.0"/>
<circle class="g" cx="401.6" cy="882.8" r="4.0"/>
<circle class="g" cx="366.1" cy="829.2" r="5.0"/>
<circle class="g" cx="646.0" cy="665.7" r="5.0"/>
<circle class="g" cx="637.6" cy="539.0" r="7.0"/>
<circle class="g" cx="435.3" cy="640.5" r="4.0"/>
<circle class="g" cx="600.6" cy="904.4" r="5.0"/>
<circle class="g" cx="445.1" cy="600.9" r="3.0"/>
<circle class="g" cx="721.3" cy="857.8" r="6.0"/>
<circle class="g" cx="752.0" cy="816.2" r="7.0"/>
<circle class="g" cx="613.9" cy="892.9" r="4.0"/>
<circle class="g" cx="519.9" cy="896.3" r="3.5"/>
<circle class="g" cx="460.3" cy="605.8" r="4.0"/>
<circle class="g" cx="401.0" cy="729.4" r="5.0"/>
<circle class="g" cx="704.9" cy="775.5" r="7.0"/>
<circle class="g" cx="411.7" cy="901.7" r="4.0"/>
<circle class="g" cx="672.7" cy="702.5" r="4.0"/>
<circle class="g" cx="387.7" cy="872.3" r="7.0"/>
<circle class="g" cx="415.8" cy="896.4" r="4.0"/>
<circle class="g" cx="775.5" cy="864.1" r="5.0"/>
<circle class="g" cx="452.0" cy="883.2" r="3.0"/>
<circle class="g" cx="756.4" cy="804.6" r="5.0"/>
<circle class="g" cx="626.0" cy="905.4" r="3.5"/>
<circle class="g" cx="729.5" cy="886.5" r="4.5"/>
<circle class="g" cx="517.9" cy="918.4" r="6.0"/>
<circle class="g" cx="375.6" cy="747.6" r="7.0"/>
<circle class="g" cx="680.4" cy="869.3" r="3.0"/>
<circle class="g" cx="365.5" cy="852.3" r="5.5"/>
<circle class="g" cx="357.1" cy="805.6" r="5.5"/>
<circle class="g" cx="664.4" cy="858.7" r="6.0"/>
<circle class="g" cx="689.8" cy="824.8" r="5.0"/>
<circle class="g" cx="404.7" cy="639.7" r="5.0"/>
<circle class="g" cx="783.6" cy="876.9" r="3.5"/>
<circle class="g" cx="777.3" cy="823.0" r="7.0"/>
<circle class="g" cx="427.1" cy="673.3" r="5.0"/>
<circle class="g" cx="385.2" cy="795.1" r="4.5"/>
<circle class="g" cx="647.6" cy="569.3" r="3.5"/>
<circle class="g" cx="434.8" cy="904.3" r="3.5"/>
<circle class="g" cx="782.4" cy="824.4" r="5.5"/>
<circle class="g" cx="424.8" cy="771.2" r="6.0"/>
<circle class="g" cx="626.2" cy="548.7" r="4.5"/>
<circle class="g" cx="554.1" cy="926.0" r="3.0"/>
<circle class="g" cx="706.4" cy="867.5" r="7.0"/>
<circle class="g" cx="782.3" cy="829.8" r="5.0"/>
<circle class="g" cx="708.5" cy="814.0" r="5.5"/>
<circle class="g" cx="392.7" cy="693.1" r="4.0"/>
<circle class="g" cx="388.2" cy="761.9" r="4.0"/>
<circle class="g" cx="673.8" cy="869.6" r="4.0"/>
<circle class="g" cx="432.8" cy="671.8" r="4.0"/>
<circle class="g" cx="663.8" cy="805.2" r="6.0"/>
<circle class="g" cx="689.7" cy="824.1" r="4.0"/>
<circle class="g" cx="419.2" cy="766.3" r="4.0"/>
<circle class="g" cx="376.0" cy="896.7" r="3.0"/>
<circle class="g" cx="463.0" cy="578.8" r="3.0"/>
<circle class="g" cx="677.7" cy="863.6" r="6.0"/>
<circle class="g" cx="722.1" cy="838.7" r="5.0"/>
<circle class="g" cx="737.6" cy="779.7" r="4.0"/>
<circle class="g" cx="396.4" cy="686.8" r="4.0"/>
<circle class="g" cx="380.2" cy="751.1" r="3.0"/>
<circle class="g" cx="795.4" cy="880.9" r="4.5"/>
<circle class="g" cx="769.8" cy="851.6" r="3.0"/>
<circle class="g" cx="407.4" cy="759.6" r="7.0"/>
<circle class="g" cx="402.1" cy="646.0" r="7.0"/>
<circle class="g" cx="722.9" cy="816.5" r="4.5"/>
<circle class="g" cx="704.1" cy="899.8" r="5.0"/>
<circle class="g" cx="366.0" cy="880.2" r="3.5"/>
<circle class="g" cx="431.4" cy="619.7" r="4.0"/>
<circle class="g" cx="746.2" cy="835.7" r="5.5"/>
<circle class="g" cx="666.6" cy="776.9" r="7.0"/>
<circle class="g" cx="530.3" cy="935.1" r="5.0"/>
<circle class="g" cx="615.4" cy="550.3" r="3.5"/>
<circle class="g" cx="693.5" cy="809.0" r="4.5"/>
<circle class="g" cx="671.4" cy="760.4" r="6.0"/>
<circle class="g" cx="666.4" cy="699.1" r="6.0"/>
<circle class="g" cx="793.7" cy="861.2" r="5.0"/>
<circle class="g" cx="402.8" cy="899.2" r="4.0"/>
<circle class="g" cx="658.1" cy="657.8" r="6.0"/>
<circle class="g" cx="404.4" cy="863.9" r="3.0"/>
<circle class="g" cx="370.4" cy="762.6" r="4.0"/>
<circle class="g" cx="348.3" cy="864.5" r="3.0"/>
<circle class="g" cx="420.6" cy="608.8" r="4.0"/>
<circle class="g" cx="449.9" cy="901.1" r="6.0"/>
<circle class="g" cx="380.4" cy="705.8" r="5.5"/>
<circle class="g" cx="443.9" cy="882.2" r="5.5"/>
<circle class="g" cx="666.2" cy="826.1" r="4.0"/>
<circle class="g" cx="701.1" cy="797.9" r="4.0"/>
<circle class="g" cx="396.8" cy="893.4" r="5.5"/>
<circle class="g" cx="362.5" cy="853.2" r="5.0"/>
<circle class="g" cx="397.7" cy="837.9" r="3.0"/>
<circle class="g" cx="642.8" cy="581.1" r="3.0"/>
<circle class="g" cx="681.7" cy="877.2" r="6.0"/>
<circle class="g" cx="661.9" cy="797.5" r="3.0"/>
<circle class="g" cx="681.3" cy="833.7" r="4.0"/>
<circle class="g" cx="375.2" cy="888.4" r="5.5"/>
<circle class="g" cx="609.5" cy="900.0" r="6.0"/>
<circle class="g" cx="364.3" cy="846.2" r="3.5"/>
<circle class="g" cx="361.8" cy="810.7" r="3.0"/>
<circle class="g" cx="402.6" cy="902.4" r="4.0"/>
<circle class="g" cx="378.6" cy="891.5" r="6.0"/>
<circle class="g" cx="439.0" cy="717.8" r="3.0"/>
<circle class="g" cx="713.3" cy="804.9" r="3.0"/>
<circle class="g" cx="413.5" cy="625.4" r="3.0"/>
<circle class="g" cx="415.3" cy="866.7" r="5.0"/>
<circle class="g" cx="659.2" cy="659.2" r="5.5"/>
<circle class="g" cx="674.3" cy="755.1" r="4.0"/>
<circle class="g" cx="620.9" cy="567.5" r="4.5"/>
<circle class="g" cx="417.0" cy="731.6" r="3.5"/>
<circle class="g" cx="430.1" cy="879.4" r="7.0"/>
<circle class="g" cx="683.5" cy="898.2" r="4.5"/>
<circle class="g" cx="767.4" cy="867.3" r="4.0"/>
<circle class="g" cx="349.5" cy="878.5" r="7.0"/>
<circle class="g" cx="781.7" cy="862.2" r="5.5"/>
<circle class="g" cx="685.2" cy="836.2" r="3.5"/>
<circle class="g" cx="810.5" cy="854.4" r="4.5"/>
<circle class="g" cx="663.3" cy="880.3" r="5.5"/>
<circle class="g" cx="721.9" cy="900.0" r="3.0"/>
<circle class="g" cx="446.3" cy="876.1" r="5.5"/>
<circle class="g" cx="442.4" cy="901.7" r="4.0"/>
<circle class="g" cx="412.9" cy="816.2" r="6.0"/>
<circle class="g" cx="620.5" cy="881.8" r="5.5"/>
<circle class="g" cx="648.9" cy="900.4" r="5.0"/>
<circle class="g" cx="420.3" cy="635.8" r="7.0"/>
<circle class="g" cx="402.2" cy="735.5" r="3.0"/>
<circle class="g" cx="787.1" cy="879.9" r="5.5"/>
<circle class="g" cx="417.0" cy="905.4" r="4.0"/>
<circle class="g" cx="375.0" cy="734.4" r="4.0"/>
<circle class="g" cx="766.0" cy="820.3" r="5.0"/>
<circle class="g" cx="377.6" cy="833.9" r="3.5"/>
<circle class="g" cx="408.8" cy="665.2" r="3.5"/>
<circle class="g" cx="782.4" cy="855.9" r="6.0"/>
<circle class="g" cx="724.9" cy="830.2" r="4.0"/>
<circle class="g" cx="672.3" cy="883.1" r="4.0"/>
<circle class="g" cx="681.2" cy="762.8" r="3.0"/>
<circle class="g" cx="649.8" cy="669.3" r="5.5"/>
<circle class="g" cx="697.6" cy="890.1" r="5.5"/>
<circle class="g" cx="770.8" cy="842.4" r="5.0"/>
<circle class="g" cx="644.8" cy="644.8" r="3.5"/>
<circle class="g" cx="572.7" cy="922.5" r="4.5"/>
<circle class="g" cx="701.4" cy="810.8" r="4.5"/>
<circle class="g" cx="669.9" cy="716.7" r="5.5"/>
<circle class="g" cx="472.3" cy="562.2" r="5.5"/>
<circle class="g" cx="728.0" cy="899.1" r="4.5"/>
<circle class="g" cx="503.7" cy="895.6" r="5.0"/>
<circle class="g" cx="415.2" cy="674.2" r="4.0"/>
<circle class="g" cx="379.5" cy="842.4" r="3.0"/>
<circle class="g" cx="644.9" cy="889.7" r="3.0"/>
<circle class="g" cx="420.8" cy="709.1" r="6.0"/>
<circle class="g" cx="766.6" cy="813.5" r="5.0"/>
<circle class="g" cx="437.8" cy="597.7" r="3.0"/>
<circle class="g" cx="753.7" cy="856.5" r="5.5"/>
<circle class="g" cx="463.7" cy="903.2" r="3.5"/>
<circle class="g" cx="384.9" cy="868.8" r="5.0"/>
<circle class="g" cx="443.0" cy="853.5" r="5.0"/>
<circle class="g" cx="605.9" cy="909.8" r="4.5"/>
<circle class="g" cx="388.2" cy="770.7" r="5.0"/>
<circle class="g" cx="764.6" cy="811.5" r="4.0"/>
<circle class="g" cx="473.7" cy="902.5" r="4.5"/>
<circle class="g" cx="557.5" cy="908.5" r="6.0"/>
<circle class="g" cx="440.9" cy="747.1" r="3.0"/>
<circle class="g" cx="473.5" cy="544.2" r="3.5"/>
<circle class="g" cx="480.4" cy="882.8" r="5.5"/>
<circle class="g" cx="386.7" cy="905.3" r="4.5"/>
<circle class="g" cx="773.7" cy="817.3" r="6.0"/>
<circle class="g" cx="621.2" cy="905.4" r="6.0"/>
<circle class="g" cx="746.7" cy="823.8" r="4.0"/>
<circle class="g" cx="672.1" cy="861.0" r="5.0"/>
<circle class="g" cx="781.6" cy="820.2" r="5.0"/>
<circle class="g" cx="759.2" cy="833.8" r="4.0"/>
<circle class="g" cx="372.3" cy="830.0" r="5.0"/>
<circle class="g" cx="437.8" cy="873.9" r="6.0"/>
<circle class="g" cx="383.0" cy="709.7" r="5.5"/>
<circle class="g" cx="543.6" cy="909.4" r="5.0"/>
<circle class="g" cx="419.0" cy="734.5" r="3.0"/>
<circle class="g" cx="763.7" cy="857.2" r="6.0"/>
<circle class="g" cx="364.3" cy="819.6" r="6.0"/>
<circle class="g" cx="412.2" cy="729.7" r="6.0"/>
<circle class="g" cx="384.8" cy="782.0" r="4.5"/>
<circle class="g" cx="747.0" cy="837.0" r="4.0"/>
<circle class="g" cx="538.2" cy="912.1" r="3.0"/>
<circle class="g" cx="648.0" cy="571.9" r="7.0"/>
<circle class="g" cx="472.3" cy="873.3" r="4.0"/>
<circle class="g" cx="406.1" cy="907.8" r="4.0"/>
<circle class="g" cx="655.6" cy="818.5" r="3.0"/>
<circle class="g" cx="404.2" cy="720.7" r="3.5"/>
<circle class="g" cx="472.9" cy="888.5" r="7.0"/>
<circle class="g" cx="761.6" cy="814.7" r="4.0"/>
<circle class="g" cx="456.7" cy="849.0" r="5.5"/>
<circle class="g" cx="637.1" cy="618.5" r="4.5"/>
<circle class="g" cx="658.1" cy="645.2" r="3.0"/>
<circle class="g" cx="683.3" cy="876.6" r="4.0"/>
<circle class="g" cx="382.4" cy="744.6" r="5.5"/>
<circle class="g" cx="751.6" cy="883.2" r="7.0"/>
<circle class="g" cx="677.8" cy="769.1" r="4.0"/>
<circle class="g" cx="438.5" cy="746.2" r="5.0"/>
<circle class="g" cx="415.0" cy="887.0" r="3.0"/>
<circle class="g" cx="360.8" cy="866.6" r="3.0"/>
<circle class="g" cx="460.8" cy="909.2" r="4.0"/>
<circle class="g" cx="424.0" cy="774.7" r="4.0"/>
<circle class="g" cx="624.0" cy="561.1" r="4.0"/>
<circle class="g" cx="633.9" cy="902.7" r="3.5"/>
<circle class="g" cx="687.2" cy="760.5" r="5.5"/>
<circle class="g" cx="437.5" cy="839.3" r="6.0"/>
<circle class="g" cx="655.8" cy="834.4" r="5.0"/>
<circle class="g" cx="445.4" cy="670.4" r="4.0"/>
<circle class="g" cx="652.0" cy="587.0" r="5.0"/>
<circle class="g" cx="697.0" cy="805.7" r="3.0"/>
<circle class="g" cx="707.1" cy="867.4" r="7.0"/>
<circle class="g" cx="642.3" cy="895.4" r="3.0"/>
<circle class="g" cx="431.1" cy="667.4" r="6.0"/>
<circle class="g" cx="519.5" cy="908.5" r="5.0"/>
<circle class="g" cx="573.6" cy="921.5" r="3.5"/>
<circle class="g" cx="748.0" cy="803.6" r="5.0"/>
<circle class="g" cx="738.8" cy="793.9" r="5.0"/>
<circle class="g" cx="657.5" cy="691.9" r="4.0"/>
<circle class="g" cx="738.7" cy="846.6" r="6.0"/>
<circle class="g" cx="443.1" cy="852.0" r="3.0"/>
<circle class="g" cx="442.7" cy="693.6" r="5.0"/>
<circle class="g" cx="678.6" cy="758.9" r="5.0"/>
<circle class="g" cx="601.8" cy="903.2" r="4.0"/>
<circle class="g" cx="445.0" cy="805.7" r="6.0"/>
<circle class="g" cx="409.3" cy="882.5" r="5.0"/>
<circle class="g" cx="375.3" cy="781.7" r="5.0"/>
<circle class="g" cx="375.3" cy="889.5" r="4.0"/>
<circle class="g" cx="786.4" cy="821.2" r="7.0"/>
<circle class="g" cx="723.7" cy="797.5" r="5.0"/>
<circle class="g" cx="440.7" cy="786.7" r="3.5"/>
<circle class="g" cx="419.3" cy="822.8" r="7.0"/>
<circle class="g" cx="464.8" cy="899.3" r="4.0"/>
<circle class="g" cx="629.0" cy="562.6" r="3.0"/>
<circle class="g" cx="701.1" cy="842.8" r="5.0"/>
<circle class="g" cx="694.0" cy="897.4" r="5.5"/>
<circle class="g" cx="533.1" cy="926.2" r="6.0"/>
<circle class="g" cx="424.3" cy="886.6" r="3.0"/>
<circle class="g" cx="431.4" cy="897.2" r="5.5"/>
<circle class="g" cx="707.2" cy="887.3" r="5.5"/>
<circle class="g" cx="562.8" cy="910.7" r="7.0"/>
<circle class="g" cx="744.6" cy="861.8" r="4.5"/>
<circle class="g" cx="668.8" cy="720.9" r="5.0"/>
<circle class="g" cx="360.5" cy="857.8" r="5.0"/>
<circle class="g" cx="379.4" cy="725.2" r="3.0"/>
<circle class="g" cx="658.0" cy="798.7" r="4.5"/>
<circle class="g" cx="673.3" cy="818.3" r="5.0"/>
<circle class="g" cx="439.4" cy="785.6" r="7.0"/>
<circle class="g" cx="751.2" cy="827.9" r="5.0"/>
<circle class="g" cx="385.3" cy="873.9" r="5.0"/>
<circle class="g" cx="582.1" cy="918.4" r="3.5"/>
<circle class="g" cx="408.1" cy="745.5" r="4.5"/>
<circle class="g" cx="684.7" cy="889.1" r="3.0"/>
<circle class="g" cx="461.2" cy="914.0" r="4.0"/>
<circle class="g" cx="677.7" cy="889.6" r="3.5"/>
<circle class="g" cx="465.6" cy="562.1" r="3.0"/>
<circle class="g" cx="589.4" cy="916.9" r="3.5"/>
<circle class="g" cx="394.1" cy="855.4" r="5.0"/>
<circle class="g" cx="669.3" cy="841.8" r="6.0"/>
<circle class="g" cx="438.2" cy="763.3" r="4.0"/>
<circle class="g" cx="668.2" cy="751.5" r="7.0"/>
<circle class="g" cx="386.9" cy="796.8" r="5.0"/>
<circle class="g" cx="789.2" cy="814.2" r="3.0"/>
<circle class="g" cx="442.2" cy="811.7" r="5.5"/>
<circle class="g" cx="399.4" cy="811.8" r="6.0"/>
<circle class="g" cx="719.6" cy="876.8" r="5.0"/>
<circle class="g" cx="436.5" cy="668.3" r="3.5"/>
<circle class="g" cx="718.7" cy="781.1" r="5.5"/>
<circle class="g" cx="657.6" cy="675.2" r="4.0"/>
<circle class="g" cx="612.2" cy="918.6" r="5.0"/>
<circle class="g" cx="816.8" cy="884.5" r="7.0"/>
<circle class="g" cx="447.1" cy="553.4" r="3.0"/>
<circle class="g" cx="592.8" cy="384.1" r="5.0"/>
<circle class="g" cx="634.5" cy="431.8" r="7.0"/>
<circle class="g" cx="449.0" cy="513.6" r="4.0"/>
<circle class="g" cx="414.0" cy="921.7" r="4.5"/>
<circle class="g" cx="496.1" cy="928.4" r="3.0"/>
<circle class="g" cx="439.4" cy="945.0" r="6.0"/>
<circle class="g" cx="680.8" cy="922.9" r="3.0"/>
<circle class="g" cx="711.2" cy="730.7" r="4.5"/>
<circle class="g" cx="396.2" cy="642.3" r="2.5"/>
<circle class="g" cx="362.9" cy="899.2" r="2.5"/>
<circle class="g" cx="646.8" cy="926.3" r="6.0"/>
<circle class="g" cx="710.4" cy="635.2" r="3.5"/>
<circle class="g" cx="504.2" cy="967.9" r="2.5"/>
<circle class="g" cx="646.9" cy="525.0" r="6.0"/>
<circle class="g" cx="549.6" cy="983.6" r="2.5"/>
<circle class="g" cx="353.2" cy="762.1" r="6.0"/>
<circle class="g" cx="609.4" cy="380.8" r="3.0"/>
<circle class="g" cx="678.9" cy="908.1" r="2.5"/>
<circle class="g" cx="656.3" cy="925.2" r="4.0"/>
<circle class="g" cx="762.9" cy="898.9" r="3.5"/>
<circle class="g" cx="356.3" cy="690.7" r="3.5"/>
<circle class="g" cx="635.6" cy="914.5" r="2.5"/>
<circle class="g" cx="822.5" cy="855.6" r="7.0"/>
<circle class="g" cx="712.0" cy="717.8" r="6.0"/>
<circle class="g" cx="673.4" cy="540.3" r="6.0"/>
<circle class="g" cx="710.9" cy="760.5" r="2.5"/>
<circle class="g" cx="527.3" cy="486.8" r="3.0"/>
<circle class="g" cx="517.1" cy="940.4" r="3.5"/>
<circle class="g" cx="493.0" cy="921.9" r="6.0"/>
<circle class="g" cx="619.5" cy="498.2" r="3.5"/>
<circle class="g" cx="744.6" cy="767.8" r="7.0"/>
<circle class="g" cx="472.5" cy="915.0" r="3.5"/>
<circle class="g" cx="370.6" cy="682.0" r="6.0"/>
<circle class="g" cx="525.7" cy="960.8" r="3.0"/>
<circle class="g" cx="346.1" cy="747.4" r="4.0"/>
<circle class="g" cx="338.9" cy="762.4" r="3.5"/>
<circle class="g" cx="634.4" cy="485.4" r="3.5"/>
<circle class="g" cx="654.4" cy="542.2" r="3.0"/>
<circle class="g" cx="518.4" cy="939.5" r="5.0"/>
<circle class="g" cx="502.3" cy="958.1" r="7.0"/>
<circle class="g" cx="520.4" cy="472.6" r="4.0"/>
<circle class="g" cx="708.6" cy="908.1" r="5.0"/>
<circle class="g" cx="624.3" cy="925.3" r="3.0"/>
<circle class="g" cx="564.2" cy="472.8" r="4.5"/>
<circle class="g" cx="791.9" cy="812.0" r="4.5"/>
<circle class="g" cx="669.2" cy="593.2" r="2.5"/>
<circle class="g" cx="749.8" cy="708.9" r="2.5"/>
<circle class="g" cx="555.6" cy="435.3" r="6.0"/>
<circle class="g" cx="595.5" cy="956.4" r="3.0"/>
<circle class="g" cx="463.6" cy="445.9" r="7.0"/>
<circle class="g" cx="695.3" cy="918.0" r="7.0"/>
<circle class="g" cx="406.4" cy="938.9" r="3.5"/>
<circle class="g" cx="811.6" cy="813.2" r="4.0"/>
<circle class="g" cx="707.6" cy="624.2" r="5.0"/>
<circle class="g" cx="673.8" cy="662.2" r="2.5"/>
<circle class="g" cx="622.8" cy="910.7" r="7.0"/>
<circle class="g" cx="800.2" cy="817.1" r="4.0"/>
<circle class="g" cx="557.4" cy="963.5" r="7.0"/>
<circle class="g" cx="752.4" cy="739.2" r="4.5"/>
<circle class="g" cx="591.7" cy="488.7" r="6.0"/>
<circle class="g" cx="662.9" cy="525.6" r="6.0"/>
<circle class="g" cx="518.9" cy="416.6" r="3.0"/>
<circle class="g" cx="725.9" cy="729.8" r="3.5"/>
<circle class="g" cx="581.6" cy="933.1" r="4.0"/>
<circle class="g" cx="721.6" cy="911.3" r="2.5"/>
<circle class="g" cx="574.8" cy="470.4" r="3.0"/>
<circle class="g" cx="753.9" cy="746.6" r="3.5"/>
<circle class="g" cx="677.2" cy="681.9" r="4.0"/>
<circle class="g" cx="662.9" cy="927.7" r="3.5"/>
<circle class="g" cx="345.7" cy="838.2" r="7.0"/>
<circle class="g" cx="804.1" cy="811.5" r="2.5"/>
<circle class="g" cx="349.0" cy="780.1" r="3.0"/>
<circle class="g" cx="694.9" cy="666.1" r="3.5"/>
<circle class="g" cx="652.6" cy="925.6" r="7.0"/>
<circle class="g" cx="456.2" cy="564.0" r="3.0"/>
<circle class="g" cx="574.2" cy="976.9" r="3.5"/>
<circle class="g" cx="715.2" cy="731.0" r="7.0"/>
<circle class="g" cx="534.1" cy="392.0" r="4.5"/>
<circle class="g" cx="369.8" cy="737.5" r="3.5"/>
<circle class="g" cx="344.8" cy="899.7" r="3.0"/>
<circle class="g" cx="546.4" cy="501.4" r="3.5"/>
<circle class="g" cx="350.6" cy="886.1" r="4.0"/>
<circle class="g" cx="595.0" cy="933.8" r="4.0"/>
<circle class="g" cx="719.8" cy="747.0" r="3.5"/>
<circle class="g" cx="741.3" cy="774.6" r="6.0"/>
<circle class="g" cx="325.4" cy="818.9" r="6.0"/>
<circle class="g" cx="720.5" cy="708.6" r="7.0"/>
<circle class="g" cx="352.3" cy="791.0" r="7.0"/>
<circle class="g" cx="439.6" cy="550.8" r="3.0"/>
<circle class="g" cx="558.6" cy="395.1" r="2.5"/>
<circle class="g" cx="825.1" cy="830.5" r="7.0"/>
<circle class="g" cx="699.7" cy="719.6" r="7.0"/>
<circle class="g" cx="446.5" cy="933.0" r="2.5"/>
<circle class="g" cx="678.6" cy="508.4" r="6.0"/>
<circle class="g" cx="768.3" cy="783.8" r="7.0"/>
<circle class="g" cx="691.4" cy="687.4" r="7.0"/>
<circle class="g" cx="637.4" cy="457.7" r="3.5"/>
<circle class="g" cx="416.0" cy="927.1" r="4.0"/>
<circle class="g" cx="339.5" cy="862.0" r="6.0"/>
<circle class="g" cx="678.0" cy="537.7" r="7.0"/>
<circle class="g" cx="693.2" cy="903.8" r="7.0"/>
<circle class="g" cx="742.5" cy="754.5" r="2.5"/>
<circle class="g" cx="383.1" cy="927.1" r="3.0"/>
<circle class="g" cx="778.2" cy="800.5" r="6.0"/>
<circle class="g" cx="556.8" cy="446.3" r="7.0"/>
<circle class="g" cx="381.2" cy="928.5" r="4.5"/>
<circle class="g" cx="740.0" cy="900.8" r="4.0"/>
<circle class="g" cx="564.4" cy="962.2" r="4.0"/>
<circle class="g" cx="610.6" cy="517.0" r="4.5"/>
<circle class="g" cx="596.7" cy="958.1" r="3.0"/>
<circle class="g" cx="600.7" cy="499.9" r="6.0"/>
<circle class="g" cx="552.2" cy="455.4" r="3.0"/>
<circle class="g" cx="670.8" cy="658.8" r="5.0"/>
<circle class="g" cx="506.2" cy="921.6" r="5.0"/>
<circle class="g" cx="347.4" cy="827.3" r="6.0"/>
<circle class="g" cx="731.1" cy="726.4" r="7.0"/>
<circle class="g" cx="684.7" cy="655.0" r="3.0"/>
<circle class="g" cx="489.7" cy="953.2" r="4.5"/>
<circle class="g" cx="476.5" cy="494.9" r="3.5"/>
<circle class="g" cx="465.2" cy="479.3" r="4.0"/>
<circle class="g" cx="701.1" cy="674.7" r="5.0"/>
<circle class="g" cx="684.0" cy="611.5" r="7.0"/>
<circle class="g" cx="817.2" cy="884.6" r="3.5"/>
<circle class="g" cx="328.7" cy="812.9" r="2.5"/>
<circle class="g" cx="488.2" cy="512.6" r="4.5"/>
<circle class="g" cx="526.9" cy="939.5" r="4.5"/>
<circle class="g" cx="726.9" cy="727.6" r="4.0"/>
<circle class="g" cx="673.1" cy="536.0" r="3.5"/>
<circle class="g" cx="331.7" cy="793.8" r="3.5"/>
<circle class="g" cx="598.0" cy="416.9" r="6.0"/>
<circle class="g" cx="358.0" cy="704.7" r="4.5"/>
<circle class="g" cx="459.2" cy="507.6" r="3.5"/>
<circle class="g" cx="662.6" cy="483.6" r="6.0"/>
<circle class="g" cx="337.2" cy="844.7" r="7.0"/>
<circle class="g" cx="490.7" cy="961.6" r="2.5"/>
<circle class="g" cx="518.9" cy="970.3" r="4.5"/>
<circle class="g" cx="593.7" cy="464.5" r="5.0"/>
<circle class="g" cx="639.3" cy="937.4" r="5.0"/>
<circle class="g" cx="617.9" cy="488.2" r="3.0"/>
<circle class="g" cx="621.5" cy="422.0" r="7.0"/>
<circle class="g" cx="809.0" cy="845.9" r="4.5"/>
<circle class="g" cx="439.4" cy="925.0" r="7.0"/>
<circle class="g" cx="820.7" cy="860.3" r="5.0"/>
<circle class="g" cx="603.4" cy="924.1" r="7.0"/>
<circle class="g" cx="790.2" cy="771.8" r="3.5"/>
<circle class="g" cx="437.7" cy="513.0" r="3.0"/>
<circle class="g" cx="632.5" cy="491.6" r="4.5"/>
<circle class="g" cx="524.0" cy="494.0" r="6.0"/>
<circle class="g" cx="566.7" cy="940.7" r="3.0"/>
<circle class="g" cx="468.6" cy="943.4" r="3.5"/>
<circle class="g" cx="366.2" cy="695.5" r="4.0"/>
<circle class="g" cx="665.5" cy="477.2" r="2.5"/>
<circle class="g" cx="487.9" cy="507.3" r="2.5"/>
<circle class="g" cx="356.3" cy="732.7" r="3.5"/>
<circle class="g" cx="329.0" cy="796.7" r="4.5"/>
<circle class="g" cx="730.4" cy="707.2" r="5.0"/>
<circle class="g" cx="816.6" cy="885.3" r="3.5"/>
<circle class="g" cx="780.2" cy="806.0" r="2.5"/>
<circle class="g" cx="815.6" cy="831.8" r="6.0"/>
<circle class="g" cx="449.5" cy="936.6" r="3.0"/>
<circle class="g" cx="712.9" cy="739.9" r="7.0"/>
<circle class="g" cx="658.5" cy="591.1" r="7.0"/>
<circle class="g" cx="743.6" cy="716.1" r="4.0"/>
<circle class="g" cx="630.8" cy="519.4" r="6.0"/>
<circle class="g" cx="794.3" cy="790.3" r="6.0"/>
<circle class="g" cx="470.2" cy="541.4" r="6.0"/>
<circle class="g" cx="605.1" cy="929.8" r="7.0"/>
<circle class="g" cx="582.6" cy="960.6" r="3.5"/>
<circle class="g" cx="469.8" cy="500.3" r="6.0"/>
<circle class="g" cx="562.4" cy="967.5" r="7.0"/>
<circle class="g" cx="709.1" cy="714.1" r="2.5"/>
<circle class="g" cx="569.0" cy="946.1" r="5.0"/>
<circle class="g" cx="668.5" cy="566.1" r="4.5"/>
<circle class="g" cx="665.8" cy="930.9" r="3.0"/>
<circle class="g" cx="686.2" cy="673.3" r="2.5"/>
<circle class="g" cx="693.2" cy="624.8" r="3.5"/>
<circle class="g" cx="377.4" cy="923.0" r="4.5"/>
<circle class="g" cx="664.1" cy="620.1" r="4.0"/>
<circle class="g" cx="355.3" cy="913.0" r="2.5"/>
<circle class="g" cx="498.6" cy="973.2" r="6.0"/>
<circle class="g" cx="389.0" cy="911.1" r="3.5"/>
<circle class="g" cx="540.6" cy="494.7" r="6.0"/>
<circle class="g" cx="648.0" cy="536.3" r="3.5"/>
<circle class="g" cx="333.0" cy="816.8" r="5.0"/>
<circle class="g" cx="601.6" cy="440.8" r="4.0"/>
<circle class="g" cx="386.6" cy="910.8" r="7.0"/>
<circle class="g" cx="353.4" cy="771.3" r="5.0"/>
<circle class="g" cx="402.2" cy="635.1" r="4.0"/>
<circle class="g" cx="693.9" cy="673.4" r="3.0"/>
<circle class="g" cx="378.5" cy="699.0" r="7.0"/>
<circle class="g" cx="592.7" cy="474.6" r="6.0"/>
<circle class="g" cx="429.1" cy="534.8" r="2.5"/>
<circle class="g" cx="762.4" cy="739.2" r="6.0"/>
<circle class="g" cx="594.7" cy="965.1" r="6.0"/>
<circle class="g" cx="353.1" cy="731.6" r="5.0"/>
<circle class="g" cx="729.5" cy="704.0" r="4.5"/>
<circle class="g" cx="590.8" cy="441.5" r="4.0"/>
<circle class="g" cx="392.2" cy="612.2" r="7.0"/>
<circle class="g" cx="385.3" cy="919.9" r="4.0"/>
<circle class="g" cx="510.2" cy="929.1" r="7.0"/>
<circle class="g" cx="705.0" cy="755.4" r="6.0"/>
<circle class="g" cx="390.8" cy="650.0" r="3.0"/>
<circle class="g" cx="472.4" cy="440.8" r="7.0"/>
<circle class="g" cx="693.2" cy="728.1" r="4.0"/>
<circle class="g" cx="461.8" cy="527.2" r="3.5"/>
<circle class="g" cx="367.8" cy="917.7" r="4.0"/>
<circle class="g" cx="809.0" cy="890.4" r="6.0"/>
<circle class="g" cx="399.3" cy="630.9" r="2.5"/>
<circle class="g" cx="436.5" cy="926.1" r="4.5"/>
<circle class="g" cx="761.9" cy="748.3" r="6.0"/>
<circle class="g" cx="816.3" cy="827.9" r="3.0"/>
<circle class="g" cx="523.4" cy="956.2" r="6.0"/>
<circle class="g" cx="532.8" cy="956.6" r="2.5"/>
<circle class="g" cx="670.1" cy="509.4" r="7.0"/>
<circle class="g" cx="333.4" cy="856.2" r="3.0"/>
<circle class="g" cx="595.7" cy="937.4" r="5.0"/>
<circle class="g" cx="478.8" cy="478.0" r="5.0"/>
<circle class="g" cx="552.8" cy="943.4" r="3.0"/>
<circle class="g" cx="517.5" cy="368.8" r="4.5"/>
<circle class="g" cx="768.1" cy="778.5" r="4.5"/>
<circle class="g" cx="698.7" cy="590.3" r="4.5"/>
<circle class="g" cx="325.5" cy="808.5" r="6.0"/>
<circle class="g" cx="756.0" cy="739.5" r="3.5"/>
<circle class="g" cx="359.2" cy="766.6" r="2.5"/>
<circle class="g" cx="426.9" cy="551.5" r="3.0"/>
<circle class="g" cx="567.4" cy="974.8" r="3.5"/>
<circle class="g" cx="482.2" cy="924.6" r="4.5"/>
<circle class="g" cx="687.8" cy="724.2" r="5.0"/>
<circle class="g" cx="610.2" cy="928.1" r="2.5"/>
<circle class="g" cx="512.8" cy="983.3" r="4.0"/>
<circle class="g" cx="373.0" cy="921.1" r="3.0"/>
<circle class="g" cx="324.8" cy="817.8" r="3.0"/>
<circle class="g" cx="724.9" cy="696.9" r="5.0"/>
<circle class="g" cx="504.1" cy="475.3" r="2.5"/>
<circle class="g" cx="800.4" cy="895.5" r="3.0"/>
<circle class="g" cx="677.5" cy="622.6" r="5.0"/>
<circle class="g" cx="369.7" cy="737.8" r="3.0"/>
<circle class="g" cx="720.3" cy="904.9" r="6.0"/>
<circle class="g" cx="703.1" cy="684.7" r="4.0"/>
<circle class="g" cx="356.5" cy="752.1" r="3.0"/>
<circle class="g" cx="685.0" cy="706.4" r="7.0"/>
<circle class="g" cx="645.1" cy="915.4" r="6.0"/>
<circle class="g" cx="371.0" cy="668.1" r="6.0"/>
<circle class="g" cx="604.4" cy="917.1" r="4.0"/>
<circle class="g" cx="702.7" cy="914.6" r="5.0"/>
<circle class="g" cx="376.7" cy="646.3" r="7.0"/>
<circle class="g" cx="619.5" cy="935.3" r="2.5"/>
<circle class="g" cx="769.5" cy="791.2" r="6.0"/>
<circle class="g" cx="425.1" cy="570.0" r="4.0"/>
<circle class="g" cx="493.8" cy="495.0" r="2.5"/>
<circle class="g" cx="760.7" cy="777.3" r="3.0"/>
<circle class="g" cx="798.2" cy="810.4" r="4.0"/>
<circle class="g" cx="645.6" cy="912.7" r="2.5"/>
<circle class="g" cx="813.4" cy="826.2" r="4.0"/>
<circle class="g" cx="711.1" cy="746.1" r="4.5"/>
<circle class="g" cx="756.1" cy="908.8" r="3.0"/>
<circle class="g" cx="628.7" cy="919.5" r="4.0"/>
<circle class="g" cx="357.1" cy="750.9" r="6.0"/>
<circle class="g" cx="554.0" cy="499.6" r="6.0"/>
<circle class="g" cx="787.0" cy="767.3" r="6.0"/>
<circle class="g" cx="816.4" cy="812.2" r="3.0"/>
<circle class="g" cx="570.3" cy="957.1" r="4.0"/>
<circle class="g" cx="358.0" cy="718.7" r="2.5"/>
<circle class="g" cx="809.0" cy="796.6" r="7.0"/>
<circle class="g" cx="357.3" cy="741.9" r="4.0"/>
<circle class="g" cx="383.7" cy="646.2" r="7.0"/>
<circle class="g" cx="727.6" cy="696.7" r="3.5"/>
<circle class="g" cx="335.7" cy="866.3" r="2.5"/>
<circle class="g" cx="681.1" cy="925.2" r="7.0"/>
<circle class="g" cx="691.8" cy="683.9" r="4.0"/>
<circle class="g" cx="808.3" cy="893.9" r="7.0"/>
<circle class="g" cx="342.2" cy="801.4" r="3.5"/>
<circle class="g" cx="358.6" cy="752.7" r="2.5"/>
<circle class="g" cx="462.1" cy="535.5" r="5.0"/>
<circle class="g" cx="490.2" cy="514.7" r="7.0"/>
<circle class="g" cx="452.7" cy="498.1" r="4.5"/>
<circle class="g" cx="783.6" cy="784.3" r="7.0"/>
<circle class="g" cx="417.5" cy="576.6" r="3.0"/>
<circle class="g" cx="735.7" cy="916.0" r="3.5"/>
<circle class="g" cx="586.3" cy="467.1" r="2.5"/>
<circle class="g" cx="729.7" cy="770.0" r="3.0"/>
<circle class="g" cx="460.5" cy="506.3" r="5.0"/>
<circle class="g" cx="349.9" cy="900.0" r="5.0"/>
<circle class="g" cx="614.7" cy="519.4" r="4.0"/>
<circle class="g" cx="526.8" cy="470.6" r="2.5"/>
<circle class="g" cx="562.3" cy="944.2" r="5.0"/>
<circle class="g" cx="791.9" cy="899.6" r="5.0"/>
<circle class="g" cx="806.1" cy="896.7" r="3.5"/>
<circle class="g" cx="442.8" cy="501.0" r="2.5"/>
<circle class="g" cx="646.8" cy="528.0" r="6.0"/>
<circle class="g" cx="337.3" cy="815.0" r="5.0"/>
<circle class="g" cx="755.1" cy="756.3" r="5.0"/>
<circle class="g" cx="512.1" cy="957.4" r="2.5"/>
<circle class="g" cx="549.1" cy="418.5" r="7.0"/>
<circle class="g" cx="551.5" cy="946.3" r="5.0"/>
<circle class="g" cx="709.0" cy="693.6" r="3.0"/>
<circle class="g" cx="813.1" cy="887.2" r="6.0"/>
<circle class="g" cx="419.7" cy="936.9" r="4.5"/>
<circle class="g" cx="619.4" cy="431.6" r="4.5"/>
<circle class="g" cx="708.4" cy="707.1" r="5.0"/>
<circle class="g" cx="349.8" cy="819.7" r="5.0"/>
<circle class="g" cx="600.3" cy="459.2" r="6.0"/>
<circle class="g" cx="462.4" cy="534.4" r="5.0"/>
<circle class="g" cx="434.9" cy="941.0" r="4.0"/>
<circle class="g" cx="594.4" cy="502.5" r="3.0"/>
<circle class="g" cx="484.5" cy="939.1" r="3.5"/>
<circle class="g" cx="670.7" cy="491.7" r="4.0"/>
<circle class="g" cx="360.8" cy="758.4" r="3.0"/>
<circle class="g" cx="794.1" cy="816.0" r="5.0"/>
<circle class="g" cx="358.6" cy="756.8" r="3.5"/>
<circle class="g" cx="426.8" cy="584.4" r="5.0"/>
<circle class="g" cx="548.4" cy="967.1" r="6.0"/>
<circle class="g" cx="536.6" cy="945.8" r="6.0"/>
<circle class="g" cx="743.3" cy="745.3" r="6.0"/>
<circle class="g" cx="502.0" cy="373.4" r="2.5"/>
<circle class="g" cx="487.7" cy="958.3" r="4.0"/>
<circle class="g" cx="777.8" cy="749.0" r="7.0"/>
<circle class="g" cx="655.5" cy="483.7" r="6.0"/>
<circle class="g" cx="638.0" cy="490.9" r="6.0"/>
<circle class="g" cx="787.1" cy="797.4" r="4.5"/>
<circle class="g" cx="344.5" cy="763.2" r="7.0"/>
<circle class="g" cx="594.1" cy="932.2" r="6.0"/>
<circle class="g" cx="369.4" cy="909.9" r="5.0"/>
<circle class="g" cx="526.4" cy="958.7" r="4.5"/>
<circle class="g" cx="526.4" cy="945.8" r="3.0"/>
<circle class="g" cx="652.0" cy="518.3" r="5.0"/>
<circle class="g" cx="681.3" cy="672.5" r="3.0"/>
<circle class="g" cx="395.1" cy="919.9" r="7.0"/>
<circle class="g" cx="470.7" cy="494.8" r="4.5"/>
<circle class="g" cx="650.8" cy="926.1" r="7.0"/>
<circle class="g" cx="792.2" cy="897.7" r="6.0"/>
<circle class="g" cx="593.0" cy="372.2" r="4.5"/>
<circle class="g" cx="538.7" cy="948.3" r="5.0"/>
<circle class="g" cx="634.6" cy="924.4" r="3.0"/>
<circle class="g" cx="510.6" cy="483.8" r="4.0"/>
<circle class="g" cx="644.2" cy="507.6" r="2.5"/>
<circle class="g" cx="408.2" cy="604.5" r="4.0"/>
<circle class="g" cx="588.7" cy="1013.8" r="3.0"/>
<circle class="g" cx="568.2" cy="1013.8" r="3.5"/>
<circle class="g" cx="586.7" cy="1013.8" r="2.0"/>
<circle class="g" cx="434.0" cy="1013.8" r="2.5"/>
<circle class="g" cx="658.7" cy="1013.8" r="5.0"/>
<circle class="g" cx="464.2" cy="1013.8" r="2.5"/>
<circle class="g" cx="562.6" cy="1013.8" r="5.0"/>
<circle class="g" cx="485.3" cy="1013.8" r="2.5"/>
<circle class="g" cx="605.1" cy="1013.8" r="5.0"/>
<circle class="g" cx="543.4" cy="1013.8" r="3.0"/>
<circle class="g" cx="562.8" cy="1013.8" r="2.5"/>
<circle class="g" cx="528.5" cy="1013.8" r="5.0"/>
<circle class="g" cx="659.9" cy="1013.8" r="3.0"/>
<circle class="g" cx="714.6" cy="1013.8" r="2.5"/>
<circle class="g" cx="575.2" cy="1013.8" r="2.5"/>
<circle class="g" cx="542.5" cy="1013.8" r="2.0"/>
<circle class="g" cx="589.7" cy="1013.8" r="2.0"/>
<circle class="g" cx="546.3" cy="1013.8" r="2.5"/>
<circle class="g" cx="610.0" cy="1013.8" r="5.0"/>
<circle class="g" cx="419.7" cy="1013.8" r="2.5"/>
<circle class="g" cx="526.2" cy="1013.8" r="2.0"/>
<circle class="g" cx="584.0" cy="1013.8" r="2.0"/>
<circle class="g" cx="483.1" cy="1013.8" r="4.0"/>
<circle class="g" cx="554.7" cy="1013.8" r="4.0"/>
<circle class="g" cx="684.4" cy="1013.8" r="2.5"/>
<circle class="g" cx="628.4" cy="1013.8" r="5.0"/>
<circle class="g" cx="665.1" cy="1013.8" r="3.5"/>
<circle class="g" cx="455.0" cy="1013.8" r="3.0"/>
<circle class="g" cx="540.0" cy="1013.8" r="3.0"/>
<circle class="g" cx="448.6" cy="1013.8" r="2.5"/>
<circle class="g" cx="580.2" cy="1013.8" r="4.0"/>
<circle class="g" cx="360.1" cy="1013.8" r="2.0"/>
<circle class="g" cx="445.8" cy="1013.8" r="3.0"/>
<circle class="g" cx="586.7" cy="1013.8" r="5.0"/>
<circle class="g" cx="541.2" cy="1013.8" r="3.0"/>
<circle class="g" cx="618.1" cy="1013.8" r="2.0"/>
<circle class="g" cx="475.2" cy="1013.8" r="3.5"/>
<circle class="g" cx="643.2" cy="1013.8" r="3.5"/>
<circle class="g" cx="421.1" cy="1013.8" r="5.0"/>
<circle class="g" cx="642.1" cy="1013.8" r="5.0"/>
<circle class="g" cx="539.1" cy="1013.8" r="2.0"/>
<circle class="g" cx="540.0" cy="1013.8" r="3.5"/>
<circle class="g" cx="493.1" cy="1013.8" r="3.0"/>
<circle class="g" cx="421.9" cy="1013.8" r="5.0"/>
<circle class="g" cx="529.9" cy="1013.8" r="3.5"/>
<circle class="g" cx="518.7" cy="1013.8" r="2.0"/>
<circle class="g" cx="536.2" cy="1013.8" r="2.5"/>
<circle class="g" cx="608.9" cy="1013.8" r="2.5"/>
<circle class="g" cx="538.0" cy="1013.8" r="3.0"/>
<circle class="g" cx="728.0" cy="1013.8" r="2.5"/>
<circle class="g" cx="656.2" cy="1013.8" r="3.5"/>
<circle class="g" cx="505.2" cy="1013.8" r="3.0"/>
<circle class="g" cx="560.4" cy="1013.8" r="5.0"/>
<circle class="g" cx="498.5" cy="1013.8" r="4.0"/>
<circle class="g" cx="620.4" cy="1013.8" r="3.5"/>
<circle class="g" cx="565.9" cy="1013.8" r="2.0"/>
<circle class="g" cx="553.4" cy="1013.8" r="5.0"/>
<circle class="g" cx="458.0" cy="1013.8" r="3.5"/>
<circle class="g" cx="533.7" cy="1013.8" r="3.0"/>
<circle class="g" cx="695.6" cy="1013.8" r="2.5"/>
<circle class="k" cx="394.6" cy="808.7" r="7.0"/>
<circle class="k" cx="431.9" cy="760.7" r="3.5"/>
<circle class="k" cx="442.1" cy="828.5" r="8.0"/>
<circle class="k" cx="405.7" cy="836.9" r="3.5"/>
<circle class="k" cx="401.1" cy="824.5" r="8.0"/>
<circle class="k" cx="400.0" cy="809.1" r="8.0"/>
<circle class="k" cx="425.1" cy="873.2" r="8.0"/>
<circle class="k" cx="419.8" cy="859.7" r="7.0"/>
<circle class="k" cx="422.8" cy="849.1" r="4.5"/>
<circle class="k" cx="414.5" cy="775.9" r="8.0"/>
<circle class="k" cx="413.0" cy="785.6" r="7.0"/>
<circle class="k" cx="446.2" cy="896.7" r="5.0"/>
<circle class="k" cx="479.9" cy="884.5" r="6.0"/>
<circle class="k" cx="450.7" cy="834.3" r="3.5"/>
<circle class="k" cx="418.2" cy="892.4" r="8.0"/>
<circle class="k" cx="440.7" cy="856.7" r="6.0"/>
<circle class="k" cx="450.7" cy="899.0" r="6.0"/>
<circle class="k" cx="435.9" cy="784.8" r="3.5"/>
<circle class="k" cx="433.4" cy="899.0" r="3.0"/>
<circle class="k" cx="411.4" cy="809.4" r="7.0"/>
<circle class="k" cx="441.0" cy="777.9" r="6.0"/>
<circle class="k" cx="400.4" cy="809.1" r="3.0"/>
<circle class="k" cx="655.1" cy="880.8" r="3.5"/>
<circle class="k" cx="672.8" cy="860.1" r="6.0"/>
<circle class="k" cx="739.0" cy="847.1" r="6.0"/>
<circle class="k" cx="666.5" cy="851.7" r="4.5"/>
<circle class="k" cx="676.2" cy="798.1" r="5.0"/>
<circle class="k" cx="693.8" cy="862.2" r="6.0"/>
<circle class="k" cx="666.0" cy="868.9" r="4.5"/>
<circle class="k" cx="663.7" cy="881.1" r="3.5"/>
<circle class="k" cx="730.5" cy="826.8" r="7.0"/>
<circle class="k" cx="735.2" cy="881.4" r="4.5"/>
<circle class="k" cx="667.9" cy="857.2" r="3.5"/>
<circle class="k" cx="699.0" cy="846.0" r="5.0"/>
<circle class="k" cx="678.0" cy="830.0" r="5.0"/>
<circle class="k" cx="749.7" cy="860.8" r="4.0"/>
<circle class="k" cx="695.9" cy="828.1" r="6.0"/>
<circle class="k" cx="684.7" cy="832.3" r="3.0"/>
<circle class="k" cx="715.0" cy="850.9" r="4.5"/>
<circle class="k" cx="724.1" cy="870.4" r="5.0"/>
<circle class="k" cx="471.0" cy="940.1" r="5.0"/>
<circle class="k" cx="401.1" cy="762.8" r="3.0"/>
<circle class="k" cx="687.9" cy="826.6" r="3.5"/>
<circle class="k" cx="512.8" cy="912.9" r="4.0"/>
<circle class="k" cx="429.7" cy="792.1" r="3.0"/>
<circle class="k" cx="653.3" cy="549.4" r="2.5"/>
<circle class="k" cx="327.7" cy="842.9" r="3.5"/>
<circle class="k" cx="399.3" cy="850.3" r="6.0"/>
<circle class="k" cx="529.9" cy="938.0" r="4.0"/>
<circle class="k" cx="415.7" cy="905.7" r="6.0"/>
<circle class="k" cx="370.6" cy="674.7" r="3.5"/>
<circle class="k" cx="685.5" cy="679.0" r="3.0"/>
<circle class="k" cx="508.3" cy="893.0" r="3.0"/>
<circle class="k" cx="687.2" cy="808.5" r="4.0"/>
<circle class="y" cx="447.3" cy="890.2" r="5.0"/>
<circle class="y" cx="409.1" cy="821.7" r="5.0"/>
<circle class="y" cx="442.9" cy="856.8" r="3.5"/>
<circle class="y" cx="421.0" cy="844.0" r="3.0"/>
<circle class="y" cx="440.8" cy="830.4" r="4.5"/>
<circle class="y" cx="447.6" cy="854.9" r="3.0"/>
<circle class="y" cx="471.8" cy="883.2" r="7.0"/>
<circle class="y" cx="442.7" cy="855.2" r="3.5"/>
<circle class="y" cx="398.5" cy="873.6" r="7.0"/>
<circle class="y" cx="404.3" cy="787.2" r="6.0"/>
<circle class="y" cx="438.4" cy="863.2" r="3.0"/>
<circle class="y" cx="427.1" cy="885.5" r="4.5"/>
<circle class="y" cx="410.8" cy="852.7" r="3.0"/>
<circle class="y" cx="416.6" cy="800.8" r="4.0"/>
<circle class="y" cx="405.0" cy="780.6" r="7.0"/>
<circle class="y" cx="474.2" cy="891.9" r="3.0"/>
<circle class="y" cx="404.6" cy="786.1" r="4.5"/>
<circle class="y" cx="410.4" cy="849.1" r="8.0"/>
<circle class="y" cx="412.0" cy="874.8" r="4.5"/>
<circle class="y" cx="430.0" cy="807.0" r="4.5"/>
<circle class="y" cx="410.6" cy="816.8" r="4.5"/>
<circle class="y" cx="425.3" cy="759.3" r="3.5"/>
<circle class="y" cx="407.9" cy="809.1" r="5.0"/>
<circle class="y" cx="448.6" cy="894.8" r="5.0"/>
<circle class="y" cx="418.3" cy="832.9" r="8.0"/>
<circle class="y" cx="420.9" cy="893.1" r="4.5"/>
<circle class="y" cx="408.7" cy="851.9" r="4.5"/>
<circle class="y" cx="429.6" cy="849.4" r="4.5"/>
<circle class="y" cx="422.8" cy="891.1" r="4.0"/>
<circle class="y" cx="484.8" cy="897.0" r="4.0"/>
<circle class="y" cx="403.8" cy="844.9" r="7.0"/>
<circle class="y" cx="453.2" cy="897.3" r="3.5"/>
<circle class="y" cx="487.7" cy="886.7" r="4.0"/>
<circle class="y" cx="425.1" cy="810.4" r="8.0"/>
<circle class="y" cx="442.7" cy="874.8" r="6.0"/>
<circle class="y" cx="415.8" cy="865.3" r="7.0"/>
<circle class="y" cx="431.6" cy="813.0" r="8.0"/>
<circle class="y" cx="405.0" cy="789.1" r="8.0"/>
<circle class="y" cx="476.6" cy="891.9" r="5.0"/>
<circle class="y" cx="388.7" cy="841.3" r="6.0"/>
<circle class="y" cx="460.5" cy="890.9" r="7.0"/>
<circle class="y" cx="394.0" cy="881.6" r="3.5"/>
<circle class="y" cx="470.5" cy="887.9" r="5.0"/>
<circle class="y" cx="452.3" cy="885.8" r="4.0"/>
<circle class="y" cx="459.6" cy="881.3" r="3.5"/>
<circle class="y" cx="652.5" cy="829.3" r="3.5"/>
<circle class="y" cx="697.9" cy="822.4" r="3.0"/>
<circle class="y" cx="680.8" cy="819.5" r="6.0"/>
<circle class="y" cx="654.4" cy="797.1" r="3.0"/>
<circle class="y" cx="670.7" cy="873.9" r="6.0"/>
<circle class="y" cx="679.1" cy="868.3" r="6.0"/>
<circle class="y" cx="665.0" cy="798.7" r="4.0"/>
<circle class="y" cx="664.7" cy="802.9" r="6.0"/>
<circle class="y" cx="743.4" cy="857.5" r="6.0"/>
<circle class="y" cx="644.5" cy="879.8" r="5.0"/>
<circle class="y" cx="714.5" cy="887.0" r="7.0"/>
<circle class="y" cx="650.3" cy="809.3" r="4.5"/>
<circle class="y" cx="668.1" cy="867.5" r="3.0"/>
<circle class="y" cx="669.3" cy="827.9" r="4.0"/>
<circle class="y" cx="676.2" cy="860.8" r="5.0"/>
<circle class="y" cx="738.7" cy="850.3" r="4.0"/>
<circle class="y" cx="709.7" cy="805.9" r="6.0"/>
<circle class="y" cx="674.9" cy="822.4" r="7.0"/>
<circle class="y" cx="721.4" cy="817.3" r="3.0"/>
<circle class="y" cx="727.2" cy="838.2" r="6.0"/>
<circle class="y" cx="704.7" cy="822.0" r="3.5"/>
<circle class="y" cx="729.5" cy="883.6" r="7.0"/>
<circle class="y" cx="745.2" cy="859.2" r="6.0"/>
<circle class="y" cx="689.2" cy="808.5" r="4.0"/>
<circle class="y" cx="664.6" cy="869.2" r="4.5"/>
<circle class="y" cx="671.6" cy="855.2" r="3.5"/>
<circle class="y" cx="699.0" cy="803.7" r="4.0"/>
<circle class="y" cx="719.3" cy="857.6" r="4.0"/>
<circle class="y" cx="744.3" cy="873.9" r="3.0"/>
<circle class="y" cx="675.2" cy="830.1" r="6.0"/>
<circle class="y" cx="721.9" cy="851.0" r="3.5"/>
<circle class="y" cx="705.3" cy="811.8" r="4.5"/>
<circle class="y" cx="707.3" cy="838.0" r="5.0"/>
<circle class="y" cx="717.9" cy="833.9" r="5.0"/>
<circle class="y" cx="691.4" cy="854.8" r="7.0"/>
<circle class="y" cx="659.4" cy="812.2" r="3.0"/>
<circle class="y" cx="772.3" cy="853.3" r="4.0"/>
<circle class="y" cx="707.0" cy="667.8" r="4.0"/>
<circle class="y" cx="363.8" cy="684.6" r="3.5"/>
<circle class="y" cx="687.9" cy="793.6" r="5.0"/>
<circle class="y" cx="652.4" cy="630.2" r="6.0"/>
<circle class="y" cx="668.0" cy="522.1" r="5.0"/>
<circle class="y" cx="662.9" cy="666.8" r="4.0"/>
<circle class="y" cx="598.4" cy="915.1" r="2.5"/>
<circle class="y" cx="401.1" cy="836.0" r="3.5"/>
<circle class="y" cx="655.3" cy="563.1" r="6.0"/>
<circle class="y" cx="428.7" cy="818.9" r="2.5"/>
<circle class="y" cx="621.5" cy="594.2" r="3.5"/>
<circle class="y" cx="411.3" cy="724.9" r="5.0"/>
<circle class="y" cx="363.9" cy="814.0" r="4.0"/>
<circle class="y" cx="719.3" cy="697.7" r="3.5"/>
<circle class="n" cx="459.8" cy="873.3" r="3.5"/>
<circle class="n" cx="436.5" cy="791.3" r="5.0"/>
<circle class="n" cx="433.2" cy="850.1" r="5.0"/>
<circle class="n" cx="440.8" cy="765.1" r="3.0"/>
<circle class="n" cx="422.2" cy="852.0" r="4.0"/>
<circle class="n" cx="411.1" cy="789.3" r="4.5"/>
<circle class="n" cx="466.9" cy="871.9" r="6.0"/>
<circle class="n" cx="469.9" cy="885.2" r="3.5"/>
<circle class="n" cx="408.9" cy="856.6" r="7.0"/>
<circle class="n" cx="416.6" cy="830.5" r="4.5"/>
<circle class="n" cx="443.7" cy="768.3" r="4.5"/>
<circle class="n" cx="411.7" cy="872.0" r="3.5"/>
<circle class="n" cx="421.6" cy="843.6" r="5.0"/>
<circle class="n" cx="424.9" cy="813.8" r="3.5"/>
<circle class="n" cx="437.6" cy="846.6" r="3.5"/>
<circle class="n" cx="427.3" cy="761.6" r="6.0"/>
<circle class="n" cx="439.9" cy="841.4" r="7.0"/>
<circle class="n" cx="405.4" cy="794.5" r="6.0"/>
<circle class="n" cx="411.5" cy="887.0" r="3.0"/>
<circle class="n" cx="436.0" cy="846.0" r="3.0"/>
<circle class="n" cx="451.0" cy="859.1" r="4.5"/>
<circle class="n" cx="447.8" cy="823.4" r="8.0"/>
<circle class="n" cx="440.2" cy="840.4" r="4.5"/>
<circle class="n" cx="389.8" cy="866.2" r="6.0"/>
<circle class="n" cx="452.4" cy="853.5" r="4.5"/>
<circle class="n" cx="392.7" cy="800.1" r="3.5"/>
<circle class="n" cx="479.8" cy="899.1" r="5.0"/>
<circle class="n" cx="408.7" cy="839.3" r="4.0"/>
<circle class="n" cx="409.6" cy="804.1" r="4.5"/>
<circle class="n" cx="439.1" cy="827.2" r="7.0"/>
<circle class="n" cx="410.8" cy="848.4" r="4.5"/>
<circle class="n" cx="414.5" cy="826.8" r="4.0"/>
<circle class="n" cx="423.0" cy="771.7" r="5.0"/>
<circle class="n" cx="409.5" cy="775.9" r="8.0"/>
<circle class="n" cx="421.3" cy="884.7" r="4.5"/>
<circle class="n" cx="418.7" cy="787.9" r="8.0"/>
<circle class="n" cx="393.2" cy="875.9" r="5.0"/>
<circle class="n" cx="492.6" cy="886.6" r="3.0"/>
<circle class="n" cx="425.7" cy="887.4" r="3.5"/>
<circle class="n" cx="430.5" cy="842.7" r="8.0"/>
<circle class="n" cx="443.1" cy="807.2" r="6.0"/>
<circle class="n" cx="475.4" cy="885.5" r="6.0"/>
<circle class="n" cx="447.9" cy="878.1" r="4.5"/>
<circle class="n" cx="445.5" cy="826.6" r="7.0"/>
<circle class="n" cx="419.4" cy="831.2" r="4.0"/>
<circle class="n" cx="436.7" cy="833.2" r="4.0"/>
<circle class="n" cx="433.4" cy="875.7" r="7.0"/>
<circle class="n" cx="464.8" cy="880.8" r="3.0"/>
<circle class="n" cx="428.2" cy="842.7" r="5.0"/>
<circle class="n" cx="455.4" cy="886.1" r="3.5"/>
<circle class="n" cx="424.3" cy="798.4" r="3.0"/>
<circle class="n" cx="388.6" cy="848.4" r="6.0"/>
<circle class="n" cx="392.6" cy="818.5" r="6.0"/>
<circle class="n" cx="430.3" cy="759.8" r="5.0"/>
<circle class="n" cx="461.9" cy="892.6" r="5.0"/>
<circle class="n" cx="667.8" cy="798.3" r="4.5"/>
<circle class="n" cx="714.3" cy="844.4" r="3.5"/>
<circle class="n" cx="653.4" cy="839.9" r="6.0"/>
<circle class="n" cx="656.3" cy="883.5" r="3.0"/>
<circle class="n" cx="699.2" cy="889.9" r="3.0"/>
<circle class="n" cx="677.2" cy="857.8" r="3.0"/>
<circle class="n" cx="669.4" cy="875.0" r="3.0"/>
<circle class="n" cx="697.6" cy="858.4" r="4.5"/>
<circle class="n" cx="743.7" cy="834.0" r="5.0"/>
<circle class="n" cx="747.1" cy="846.0" r="6.0"/>
<circle class="n" cx="696.2" cy="838.1" r="4.5"/>
<circle class="n" cx="719.8" cy="885.9" r="4.0"/>
<circle class="n" cx="658.8" cy="804.0" r="4.5"/>
<circle class="n" cx="641.7" cy="878.9" r="4.5"/>
<circle class="n" cx="681.5" cy="807.2" r="3.0"/>
<circle class="n" cx="728.4" cy="874.8" r="7.0"/>
<circle class="n" cx="687.8" cy="804.2" r="4.5"/>
<circle class="n" cx="681.3" cy="807.4" r="4.5"/>
<circle class="n" cx="740.1" cy="846.5" r="4.5"/>
<circle class="n" cx="742.8" cy="861.0" r="4.0"/>
<circle class="n" cx="743.2" cy="855.7" r="3.0"/>
<circle class="n" cx="698.8" cy="877.6" r="6.0"/>
<circle class="n" cx="745.6" cy="853.3" r="3.0"/>
<circle class="n" cx="719.3" cy="864.9" r="6.0"/>
<circle class="n" cx="744.2" cy="865.5" r="6.0"/>
<circle class="n" cx="714.3" cy="822.9" r="4.0"/>
<circle class="n" cx="717.6" cy="850.7" r="3.5"/>
<circle class="n" cx="709.5" cy="842.1" r="7.0"/>
<circle class="n" cx="735.8" cy="874.9" r="3.0"/>
<circle class="n" cx="679.8" cy="847.7" r="3.0"/>
<circle class="n" cx="353.5" cy="884.0" r="3.5"/>
<circle class="n" cx="406.8" cy="803.5" r="3.5"/>
<circle class="n" cx="414.5" cy="590.0" r="3.0"/>
<circle class="n" cx="387.4" cy="902.2" r="5.0"/>
<circle class="n" cx="453.1" cy="536.4" r="2.5"/>
<circle class="n" cx="647.4" cy="677.3" r="2.5"/>
<circle class="n" cx="509.7" cy="932.4" r="2.5"/>
<circle class="p" cx="426.1" cy="765.9" r="3.5"/>
<circle class="p" cx="450.0" cy="856.0" r="7.0"/>
<circle class="p" cx="462.4" cy="869.4" r="5.0"/>
<circle class="p" cx="424.9" cy="867.5" r="4.5"/>
<circle class="p" cx="428.5" cy="768.0" r="4.0"/>
<circle class="p" cx="429.4" cy="884.7" r="7.0"/>
<circle class="p" cx="417.1" cy="794.9" r="3.5"/>
<circle class="p" cx="421.2" cy="832.3" r="5.0"/>
<circle class="p" cx="423.5" cy="773.9" r="5.0"/>
<circle class="p" cx="441.3" cy="855.9" r="3.5"/>
<circle class="p" cx="391.9" cy="854.9" r="6.0"/>
<circle class="p" cx="419.8" cy="847.5" r="4.5"/>
<circle class="p" cx="425.4" cy="799.9" r="4.0"/>
<circle class="p" cx="449.3" cy="884.6" r="7.0"/>
<circle class="p" cx="669.8" cy="838.2" r="7.0"/>
<circle class="p" cx="674.2" cy="792.6" r="3.0"/>
<circle class="p" cx="714.1" cy="883.4" r="3.0"/>
<circle class="p" cx="682.3" cy="821.5" r="3.5"/>
<circle class="p" cx="715.1" cy="820.0" r="5.0"/>
<circle class="p" cx="716.9" cy="843.9" r="5.0"/>
<circle class="p" cx="717.4" cy="861.7" r="3.5"/>
<circle class="p" cx="677.4" cy="864.5" r="7.0"/>
<circle class="p" cx="697.9" cy="881.3" r="3.5"/>
<circle class="p" cx="689.5" cy="803.7" r="7.0"/>
<circle class="p" cx="717.6" cy="862.6" r="6.0"/>
<circle class="p" cx="657.1" cy="862.5" r="3.5"/>
<circle class="p" cx="722.6" cy="836.5" r="3.5"/>
<circle class="p" cx="708.5" cy="879.8" r="4.0"/>
<circle class="p" cx="670.4" cy="819.6" r="4.0"/>
<circle class="p" cx="693.8" cy="801.4" r="6.0"/>
<circle class="p" cx="402.2" cy="891.8" r="3.5"/>
<circle class="p" cx="355.8" cy="875.3" r="6.0"/>
<circle class="p" cx="577.5" cy="897.8" r="6.0"/>
<circle class="p" cx="413.7" cy="808.3" r="2.5"/>
<circle class="p" cx="441.5" cy="823.0" r="4.0"/>
<circle class="p" cx="665.0" cy="637.8" r="5.0"/>
<circle class="c" cx="409.5" cy="784.4" r="4.5"/>
<circle class="c" cx="425.4" cy="771.6" r="5.0"/>
<circle class="c" cx="435.6" cy="756.4" r="4.0"/>
<circle class="c" cx="433.0" cy="844.3" r="3.5"/>
<circle class="c" cx="467.3" cy="894.8" r="6.0"/>
<circle class="c" cx="413.2" cy="852.5" r="4.0"/>
<circle class="c" cx="400.8" cy="846.2" r="5.0"/>
<circle class="c" cx="485.5" cy="893.1" r="6.0"/>
<circle class="c" cx="428.9" cy="768.6" r="3.5"/>
<circle class="c" cx="463.0" cy="865.0" r="6.0"/>
<circle class="c" cx="422.7" cy="799.0" r="6.0"/>
<circle class="c" cx="406.9" cy="839.7" r="8.0"/>
<circle class="c" cx="702.7" cy="858.1" r="4.5"/>
<circle class="c" cx="728.9" cy="853.3" r="4.0"/>
<circle class="c" cx="693.9" cy="820.9" r="3.0"/>
<circle class="c" cx="736.3" cy="879.2" r="6.0"/>
<circle class="c" cx="698.7" cy="855.4" r="7.0"/>
<circle class="c" cx="667.4" cy="801.8" r="4.5"/>
<circle class="c" cx="681.5" cy="872.7" r="3.0"/>
<circle class="c" cx="727.2" cy="831.9" r="6.0"/>
<circle class="c" cx="683.3" cy="882.8" r="6.0"/>
<circle class="c" cx="731.0" cy="830.0" r="4.0"/>
<circle class="c" cx="711.1" cy="876.5" r="3.0"/>
<circle class="c" cx="742.6" cy="858.1" r="6.0"/>
<circle class="c" cx="690.3" cy="833.4" r="4.5"/>
<circle class="c" cx="694.5" cy="816.6" r="4.0"/>
<circle class="c" cx="674.2" cy="866.4" r="4.0"/>
<circle class="c" cx="708.0" cy="865.1" r="3.0"/>
<circle class="c" cx="788.9" cy="871.1" r="3.5"/>
<circle class="c" cx="392.6" cy="669.3" r="4.0"/>
<circle class="c" cx="648.5" cy="656.5" r="4.0"/>
<circle class="c" cx="663.1" cy="758.0" r="6.0"/>
<circle class="c" cx="750.4" cy="712.1" r="3.0"/>
<circle class="c" cx="324.0" cy="866.1" r="5.0"/>
<circle class="m" cx="410.4" cy="885.9" r="8.0"/>
<circle class="m" cx="390.9" cy="808.1" r="8.0"/>
<circle class="m" cx="429.3" cy="841.1" r="4.0"/>
<circle class="m" cx="411.8" cy="830.6" r="4.0"/>
<circle class="m" cx="400.3" cy="892.4" r="5.0"/>
<circle class="m" cx="441.0" cy="881.1" r="3.0"/>
<circle class="m" cx="414.9" cy="895.1" r="5.0"/>
<circle class="m" cx="450.1" cy="852.0" r="5.0"/>
<circle class="m" cx="418.5" cy="835.1" r="6.0"/>
<circle class="m" cx="452.9" cy="883.9" r="7.0"/>
<circle class="m" cx="468.5" cy="872.8" r="8.0"/>
<circle class="m" cx="398.7" cy="823.2" r="4.5"/>
<circle class="m" cx="480.7" cy="896.6" r="3.5"/>
<circle class="m" cx="437.5" cy="860.3" r="6.0"/>
<circle class="m" cx="406.5" cy="857.2" r="4.0"/>
<circle class="m" cx="483.3" cy="888.3" r="4.5"/>
<circle class="m" cx="432.9" cy="769.1" r="3.5"/>
<circle class="m" cx="432.9" cy="874.7" r="6.0"/>
<circle class="m" cx="446.1" cy="844.7" r="6.0"/>
<circle class="m" cx="403.2" cy="844.1" r="4.0"/>
<circle class="m" cx="397.0" cy="859.0" r="7.0"/>
<circle class="m" cx="387.9" cy="867.6" r="3.0"/>
<circle class="m" cx="403.8" cy="884.8" r="8.0"/>
<circle class="m" cx="412.1" cy="869.9" r="5.0"/>
<circle class="m" cx="408.1" cy="826.1" r="3.5"/>
<circle class="m" cx="423.8" cy="884.7" r="3.0"/>
<circle class="m" cx="408.0" cy="821.1" r="3.0"/>
<circle class="m" cx="416.9" cy="774.9" r="5.0"/>
<circle class="m" cx="467.5" cy="890.3" r="4.5"/>
<circle class="m" cx="440.3" cy="775.7" r="5.0"/>
<circle class="m" cx="427.4" cy="895.3" r="8.0"/>
<circle class="m" cx="436.4" cy="800.4" r="3.5"/>
<circle class="m" cx="434.1" cy="878.0" r="7.0"/>
<circle class="m" cx="440.2" cy="854.1" r="3.0"/>
<circle class="m" cx="473.9" cy="893.1" r="4.5"/>
<circle class="m" cx="410.1" cy="879.5" r="3.0"/>
<circle class="m" cx="431.6" cy="894.3" r="7.0"/>
<circle class="m" cx="390.6" cy="816.6" r="4.0"/>
<circle class="m" cx="440.5" cy="880.8" r="3.0"/>
<circle class="m" cx="431.5" cy="822.9" r="3.0"/>
<circle class="m" cx="431.2" cy="781.9" r="3.5"/>
<circle class="m" cx="466.2" cy="895.1" r="6.0"/>
<circle class="m" cx="426.8" cy="896.7" r="7.0"/>
<circle class="m" cx="479.5" cy="891.4" r="8.0"/>
<circle class="m" cx="421.1" cy="771.4" r="6.0"/>
<circle class="m" cx="413.2" cy="894.2" r="5.0"/>
<circle class="m" cx="424.5" cy="772.9" r="5.0"/>
<circle class="m" cx="434.4" cy="804.0" r="6.0"/>
<circle class="m" cx="420.8" cy="876.7" r="6.0"/>
<circle class="m" cx="426.4" cy="770.7" r="4.5"/>
<circle class="m" cx="456.3" cy="886.7" r="7.0"/>
<circle class="m" cx="420.8" cy="870.4" r="8.0"/>
<circle class="m" cx="446.1" cy="869.4" r="7.0"/>
<circle class="m" cx="396.6" cy="806.8" r="4.5"/>
<circle class="m" cx="400.7" cy="884.7" r="8.0"/>
<circle class="m" cx="440.9" cy="853.7" r="4.5"/>
<circle class="m" cx="447.9" cy="839.1" r="8.0"/>
<circle class="m" cx="444.4" cy="806.0" r="5.0"/>
<circle class="m" cx="401.4" cy="870.5" r="4.0"/>
<circle class="m" cx="472.8" cy="880.7" r="4.0"/>
<circle class="m" cx="415.3" cy="828.0" r="4.0"/>
<circle class="m" cx="421.5" cy="851.1" r="4.0"/>
<circle class="m" cx="672.7" cy="803.7" r="7.0"/>
<circle class="m" cx="665.0" cy="826.3" r="5.0"/>
<circle class="m" cx="712.0" cy="806.9" r="7.0"/>
<circle class="m" cx="661.7" cy="796.0" r="4.0"/>
<circle class="m" cx="736.2" cy="821.2" r="6.0"/>
<circle class="m" cx="666.3" cy="811.8" r="6.0"/>
<circle class="m" cx="680.3" cy="843.5" r="7.0"/>
<circle class="m" cx="731.1" cy="830.8" r="7.0"/>
<circle class="m" cx="716.3" cy="821.4" r="5.0"/>
<circle class="m" cx="697.8" cy="819.0" r="4.0"/>
<circle class="m" cx="654.8" cy="849.2" r="3.5"/>
<circle class="m" cx="704.2" cy="833.8" r="4.5"/>
<circle class="m" cx="665.0" cy="863.5" r="4.5"/>
<circle class="m" cx="698.4" cy="875.4" r="7.0"/>
<circle class="m" cx="670.4" cy="879.4" r="4.0"/>
<circle class="m" cx="750.8" cy="865.1" r="5.0"/>
<circle class="m" cx="651.3" cy="811.0" r="3.0"/>
<circle class="m" cx="729.8" cy="835.5" r="5.0"/>
<circle class="m" cx="669.7" cy="809.6" r="4.5"/>
<circle class="m" cx="702.9" cy="849.4" r="3.0"/>
<circle class="m" cx="707.6" cy="868.0" r="4.0"/>
<circle class="m" cx="708.0" cy="822.3" r="5.0"/>
<circle class="m" cx="669.4" cy="791.5" r="4.5"/>
<circle class="m" cx="671.1" cy="840.8" r="3.0"/>
<circle class="m" cx="705.1" cy="875.7" r="3.5"/>
<circle class="m" cx="673.9" cy="799.8" r="4.5"/>
<circle class="m" cx="714.1" cy="880.1" r="4.0"/>
<circle class="m" cx="711.3" cy="809.5" r="6.0"/>
<circle class="m" cx="712.6" cy="820.6" r="3.5"/>
<circle class="m" cx="650.2" cy="860.5" r="7.0"/>
<circle class="m" cx="696.3" cy="797.4" r="3.0"/>
<circle class="m" cx="673.6" cy="830.9" r="7.0"/>
<circle class="m" cx="664.8" cy="824.3" r="6.0"/>
<circle class="m" cx="675.9" cy="805.7" r="4.5"/>
<circle class="m" cx="720.3" cy="838.2" r="3.5"/>
<circle class="m" cx="661.2" cy="843.9" r="4.5"/>
<circle class="m" cx="651.0" cy="845.0" r="5.0"/>
<circle class="m" cx="707.6" cy="838.4" r="5.0"/>
<circle class="m" cx="708.6" cy="832.4" r="6.0"/>
<circle class="m" cx="687.0" cy="803.7" r="6.0"/>
<circle class="m" cx="711.5" cy="821.4" r="6.0"/>
<circle class="m" cx="642.2" cy="874.0" r="7.0"/>
<circle class="m" cx="660.0" cy="856.6" r="4.0"/>
<circle class="m" cx="707.6" cy="826.5" r="3.5"/>
<circle class="m" cx="670.1" cy="800.4" r="4.0"/>
<circle class="m" cx="738.5" cy="873.4" r="3.0"/>
<circle class="m" cx="662.7" cy="815.5" r="7.0"/>
<circle class="m" cx="660.3" cy="817.7" r="7.0"/>
<circle class="m" cx="668.0" cy="795.9" r="6.0"/>
<circle class="m" cx="720.9" cy="874.9" r="3.0"/>
<circle class="m" cx="709.0" cy="821.9" r="3.5"/>
<circle class="m" cx="695.7" cy="808.1" r="7.0"/>
<circle class="m" cx="702.4" cy="832.1" r="4.0"/>
<circle class="m" cx="660.7" cy="878.1" r="7.0"/>
<circle class="m" cx="695.5" cy="865.2" r="7.0"/>
<circle class="m" cx="720.8" cy="813.4" r="3.0"/>
<circle class="m" cx="710.4" cy="833.2" r="7.0"/>
<circle class="m" cx="712.1" cy="835.5" r="5.0"/>
<circle class="m" cx="714.2" cy="830.7" r="4.0"/>
<circle class="m" cx="647.3" cy="862.8" r="6.0"/>
<circle class="m" cx="653.9" cy="804.5" r="5.0"/>
<circle class="m" cx="692.1" cy="832.5" r="4.0"/>
<circle class="m" cx="698.4" cy="847.5" r="3.5"/>
<circle class="m" cx="728.2" cy="886.3" r="4.5"/>
<circle class="m" cx="650.7" cy="807.5" r="4.0"/>
<circle class="m" cx="687.0" cy="836.6" r="3.0"/>
<circle class="m" cx="704.3" cy="845.5" r="6.0"/>
<circle class="m" cx="705.6" cy="872.5" r="5.0"/>
<circle class="m" cx="682.3" cy="856.1" r="6.0"/>
<circle class="m" cx="711.3" cy="849.3" r="4.0"/>
<circle class="m" cx="657.7" cy="803.3" r="4.0"/>
<circle class="m" cx="669.9" cy="887.4" r="3.5"/>
<circle class="m" cx="518.0" cy="933.2" r="3.0"/>
<circle class="m" cx="408.8" cy="727.0" r="3.0"/>
<circle class="m" cx="360.2" cy="901.7" r="3.0"/>
<circle class="m" cx="426.5" cy="549.5" r="3.5"/>
<circle class="m" cx="370.4" cy="791.1" r="5.0"/>
<circle class="m" cx="504.7" cy="891.9" r="5.0"/>
<circle class="m" cx="384.8" cy="814.1" r="2.5"/>
<circle class="m" cx="393.8" cy="761.6" r="3.0"/>
<circle class="m" cx="565.3" cy="968.0" r="4.0"/>
<circle class="m" cx="777.4" cy="790.1" r="4.0"/>
<circle class="m" cx="378.4" cy="861.4" r="4.0"/>
<circle class="m" cx="442.2" cy="887.0" r="2.5"/>
<circle class="m" cx="661.7" cy="590.9" r="5.0"/>
<circle class="m" cx="477.4" cy="881.3" r="2.5"/>
<circle class="k" cx="537.9" cy="356.0" r="8.9"/>
<circle class="k" cx="574.9" cy="395.5" r="5.9"/>
<circle class="y" cx="586.7" cy="395.5" r="5.5"/>
<circle class="c" cx="567.6" cy="407.3" r="3.6"/>
<circle class="y" cx="594.6" cy="419.2" r="6.5"/>
<circle class="m" cx="553.1" cy="439.0" r="7.5"/>
<circle class="m" cx="574.9" cy="440.9" r="6.9"/>
<circle class="k" cx="458.9" cy="457.7" r="4.9"/>
<circle class="k" cx="491.3" cy="463.7" r="6.3"/>
<circle class="p" cx="486.9" cy="478.1" r="5.9"/>
<circle class="c" cx="622.3" cy="539.7" r="11.9"/>
<circle class="k" cx="597.6" cy="497.3" r="5.5"/>
<circle class="k" cx="616.4" cy="491.7" r="3.4"/>
<circle class="y" cx="466.2" cy="548.6" r="5.9"/>
<circle class="k" cx="445.0" cy="548.6" r="4.9"/>
<circle class="y" cx="727.0" cy="720.0" r="12.0"/>
<circle class="m" cx="551.0" cy="459.0" r="6.0"/>
<circle class="m" cx="548.0" cy="476.0" r="5.0"/>
<circle class="m" cx="579.0" cy="478.0" r="6.0"/>
<circle class="m" cx="571.0" cy="506.0" r="6.0"/>
<circle class="m" cx="612.0" cy="505.0" r="6.0"/>
<circle class="m" cx="588.0" cy="516.0" r="5.0"/>
<circle class="k" cx="575.0" cy="464.0" r="5.0"/>
<circle class="y" cx="506.0" cy="452.0" r="4.0"/>
<circle class="y" cx="520.0" cy="444.0" r="4.0"/>
<circle class="k" cx="435.0" cy="686.0" r="6.0"/>
<circle class="y" cx="419.0" cy="719.0" r="5.0"/>
<circle class="m" cx="427.0" cy="745.0" r="8.0"/>
<circle class="n" cx="412.0" cy="770.0" r="8.0"/>
<circle class="y" cx="590.0" cy="952.0" r="6.0"/>
<circle class="k" cx="575.0" cy="948.0" r="5.0"/>
<circle class="y" cx="548.0" cy="944.0" r="5.0"/>
<circle class="p" cx="665.0" cy="910.0" r="5.0"/>
<circle class="y" cx="500.0" cy="910.0" r="5.0"/>
<path d="M474,532 L480,512 L488,492 L500,478 L522,470 L560,472 L592,470 L606,480 L609,500 L611,520 L609,539 L615,578 L619,618 L636,657 L650,690 L658,717 L662,737 L663,757 L658,776 L651,800 L650,816 L647,855 L634,873 L614,885 L577,896 L537,897 L507,889 L475,873 L460,855 L447,816 L443,776 L443,737 L450,697 L461,657 L467,618 L471,578 L474,555 Z" fill="#1f77b4"/>
<circle class="b" cx="720.6" cy="786.8" r="3.0"/>
<circle class="b" cx="460.1" cy="582.4" r="6.0"/>
<circle class="b" cx="396.4" cy="699.2" r="3.0"/>
<circle class="b" cx="400.7" cy="742.8" r="6.0"/>
<circle class="b" cx="396.2" cy="906.9" r="4.5"/>
<circle class="b" cx="552.1" cy="901.9" r="4.5"/>
<circle class="b" cx="428.6" cy="676.9" r="3.0"/>
<circle class="b" cx="534.6" cy="911.8" r="4.5"/>
<circle class="b" cx="613.9" cy="907.5" r="5.0"/>
<circle class="b" cx="455.0" cy="889.5" r="3.5"/>
<circle class="b" cx="771.9" cy="848.5" r="3.5"/>
<circle class="b" cx="474.7" cy="886.9" r="4.5"/>
<circle class="b" cx="574.9" cy="918.9" r="3.0"/>
<circle class="b" cx="635.0" cy="900.9" r="4.5"/>
<circle class="b" cx="615.6" cy="902.8" r="5.0"/>
<circle class="b" cx="691.1" cy="741.3" r="5.0"/>
<circle class="b" cx="436.1" cy="880.6" r="4.0"/>
<circle class="b" cx="648.6" cy="593.9" r="5.0"/>
<circle class="b" cx="787.5" cy="887.4" r="4.5"/>
<circle class="b" cx="440.2" cy="795.8" r="4.0"/>
<circle class="b" cx="630.6" cy="599.9" r="6.0"/>
<circle class="b" cx="663.8" cy="889.8" r="4.5"/>
<circle class="b" cx="426.9" cy="861.1" r="6.0"/>
<circle class="b" cx="526.3" cy="933.0" r="3.0"/>
<circle class="b" cx="455.9" cy="907.8" r="3.5"/>
<circle class="b" cx="559.5" cy="925.7" r="3.0"/>
<circle class="b" cx="433.2" cy="644.9" r="6.0"/>
<circle class="b" cx="454.1" cy="875.0" r="3.5"/>
<circle class="b" cx="694.8" cy="884.7" r="3.5"/>
<circle class="b" cx="551.5" cy="924.4" r="3.0"/>
<circle class="b" cx="739.6" cy="895.2" r="3.5"/>
<circle class="b" cx="679.9" cy="858.4" r="6.0"/>
<circle class="b" cx="427.8" cy="643.7" r="4.0"/>
<circle class="b" cx="382.4" cy="888.5" r="4.0"/>
<circle class="b" cx="559.0" cy="904.9" r="6.0"/>
<circle class="b" cx="388.8" cy="711.0" r="5.0"/>
<circle class="b" cx="630.1" cy="618.5" r="6.0"/>
<circle class="b" cx="467.9" cy="905.8" r="5.0"/>
<circle class="b" cx="424.8" cy="788.5" r="3.5"/>
<circle class="b" cx="579.6" cy="900.9" r="5.0"/>
<circle class="b" cx="693.3" cy="793.7" r="6.0"/>
<circle class="b" cx="464.2" cy="908.6" r="3.0"/>
<circle class="b" cx="494.7" cy="906.5" r="4.5"/>
<circle class="b" cx="744.9" cy="784.7" r="4.0"/>
<circle class="b" cx="666.7" cy="845.1" r="5.0"/>
<circle class="b" cx="565.7" cy="898.9" r="4.0"/>
<circle class="b" cx="667.3" cy="762.7" r="4.5"/>
<circle class="b" cx="612.6" cy="896.1" r="4.5"/>
<circle class="b" cx="660.6" cy="691.2" r="4.0"/>
<circle class="b" cx="438.5" cy="857.0" r="4.5"/>
<circle class="b" cx="645.5" cy="650.5" r="5.0"/>
<circle class="b" cx="446.1" cy="909.1" r="4.5"/>
<circle class="b" cx="564.8" cy="920.9" r="4.5"/>
<circle class="b" cx="538.8" cy="936.6" r="4.0"/>
<circle class="b" cx="747.5" cy="880.1" r="4.0"/>
<circle class="b" cx="544.6" cy="926.4" r="3.5"/>
<circle class="b" cx="585.5" cy="902.1" r="6.0"/>
<circle class="b" cx="428.6" cy="713.1" r="3.0"/>
<circle class="b" cx="764.4" cy="801.2" r="4.0"/>
<circle class="b" cx="802.6" cy="867.3" r="4.5"/>
<circle class="B" cx="476.8" cy="528.8" r="3.0"/>
<circle class="B" cx="480.2" cy="526.0" r="5.0"/>
<circle class="B" cx="478.6" cy="519.9" r="4.0"/>
<circle class="B" cx="483.5" cy="517.5" r="5.0"/>
<circle class="B" cx="484.9" cy="509.6" r="6.0"/>
<circle class="B" cx="484.9" cy="503.9" r="3.0"/>
<circle class="B" cx="487.1" cy="497.7" r="3.0"/>
<circle class="B" cx="488.0" cy="494.9" r="3.0"/>
<circle class="B" cx="490.9" cy="493.3" r="6.0"/>
<circle class="B" cx="495.4" cy="485.1" r="8.0"/>
<circle class="B" cx="498.1" cy="483.4" r="6.0"/>
<circle class="B" cx="501.6" cy="481.1" r="7.0"/>
<circle class="B" cx="507.7" cy="480.1" r="5.0"/>
<circle class="B" cx="513.1" cy="473.5" r="3.0"/>
<circle class="B" cx="518.2" cy="471.0" r="5.0"/>
<circle class="B" cx="523.7" cy="471.8" r="4.0"/>
<circle class="B" cx="529.1" cy="470.8" r="8.0"/>
<circle class="B" cx="535.1" cy="474.1" r="7.0"/>
<circle class="B" cx="538.4" cy="470.9" r="3.0"/>
<circle class="B" cx="545.8" cy="479.2" r="8.0"/>
<circle class="B" cx="549.3" cy="474.5" r="5.0"/>
<circle class="B" cx="554.9" cy="471.6" r="6.0"/>
<circle class="B" cx="564.2" cy="474.3" r="3.0"/>
<circle class="B" cx="569.5" cy="473.4" r="4.0"/>
<circle class="B" cx="574.6" cy="475.1" r="4.0"/>
<circle class="B" cx="581.6" cy="475.7" r="8.0"/>
<circle class="B" cx="583.6" cy="473.9" r="6.0"/>
<circle class="B" cx="589.0" cy="471.4" r="3.0"/>
<circle class="B" cx="591.5" cy="472.5" r="6.0"/>
<circle class="B" cx="599.1" cy="476.9" r="5.0"/>
<circle class="B" cx="600.5" cy="480.0" r="8.0"/>
<circle class="B" cx="604.9" cy="481.0" r="5.0"/>
<circle class="B" cx="599.5" cy="489.5" r="8.0"/>
<circle class="B" cx="603.7" cy="490.7" r="4.0"/>
<circle class="B" cx="602.5" cy="500.2" r="7.0"/>
<circle class="B" cx="609.9" cy="500.9" r="6.0"/>
<circle class="B" cx="608.1" cy="507.5" r="4.0"/>
<circle class="B" cx="607.1" cy="510.8" r="7.0"/>
<circle class="B" cx="610.2" cy="517.2" r="3.0"/>
<circle class="B" cx="610.3" cy="524.0" r="3.0"/>
<circle class="B" cx="609.7" cy="528.1" r="8.0"/>
<circle class="B" cx="608.6" cy="534.6" r="6.0"/>
<circle class="B" cx="608.1" cy="543.6" r="6.0"/>
<circle class="B" cx="610.2" cy="547.7" r="6.0"/>
<circle class="B" cx="610.0" cy="554.5" r="8.0"/>
<circle class="B" cx="609.5" cy="559.3" r="4.0"/>
<circle class="B" cx="608.4" cy="562.2" r="6.0"/>
<circle class="B" cx="613.4" cy="570.1" r="3.0"/>
<circle class="B" cx="613.5" cy="577.9" r="7.0"/>
<circle class="B" cx="614.8" cy="579.5" r="6.0"/>
<circle class="B" cx="612.3" cy="585.2" r="5.0"/>
<circle class="B" cx="615.1" cy="590.1" r="4.0"/>
<circle class="B" cx="616.2" cy="596.7" r="8.0"/>
<circle class="B" cx="618.1" cy="601.4" r="6.0"/>
<circle class="B" cx="615.7" cy="606.6" r="3.0"/>
<circle class="B" cx="614.2" cy="608.7" r="6.0"/>
<circle class="B" cx="619.2" cy="615.6" r="7.0"/>
<circle class="B" cx="617.2" cy="619.6" r="3.0"/>
<circle class="B" cx="623.4" cy="626.1" r="6.0"/>
<circle class="B" cx="622.8" cy="633.2" r="4.0"/>
<circle class="B" cx="621.7" cy="635.4" r="5.0"/>
<circle class="B" cx="629.7" cy="641.5" r="6.0"/>
<circle class="B" cx="627.1" cy="645.9" r="7.0"/>
<circle class="B" cx="631.2" cy="648.8" r="3.0"/>
<circle class="B" cx="635.6" cy="657.1" r="5.0"/>
<circle class="B" cx="633.6" cy="660.7" r="8.0"/>
<circle class="B" cx="635.8" cy="664.4" r="6.0"/>
<circle class="B" cx="639.5" cy="671.7" r="7.0"/>
<circle class="B" cx="641.8" cy="675.7" r="7.0"/>
<circle class="B" cx="643.3" cy="680.2" r="3.0"/>
<circle class="B" cx="644.5" cy="686.6" r="7.0"/>
<circle class="B" cx="645.7" cy="688.7" r="8.0"/>
<circle class="B" cx="648.8" cy="695.7" r="4.0"/>
<circle class="B" cx="649.9" cy="697.6" r="6.0"/>
<circle class="B" cx="649.5" cy="705.6" r="5.0"/>
<circle class="B" cx="650.8" cy="709.6" r="7.0"/>
<circle class="B" cx="656.1" cy="717.5" r="5.0"/>
<circle class="B" cx="656.2" cy="722.1" r="8.0"/>
<circle class="B" cx="655.3" cy="723.8" r="4.0"/>
<circle class="B" cx="659.0" cy="730.0" r="4.0"/>
<circle class="B" cx="658.1" cy="736.1" r="7.0"/>
<circle class="B" cx="660.4" cy="740.0" r="5.0"/>
<circle class="B" cx="661.9" cy="743.1" r="8.0"/>
<circle class="B" cx="658.8" cy="750.5" r="5.0"/>
<circle class="B" cx="660.5" cy="752.5" r="4.0"/>
<circle class="B" cx="658.9" cy="757.6" r="8.0"/>
<circle class="B" cx="655.4" cy="762.8" r="6.0"/>
<circle class="B" cx="658.3" cy="774.8" r="6.0"/>
<circle class="B" cx="652.2" cy="777.9" r="6.0"/>
<circle class="B" cx="651.8" cy="783.1" r="6.0"/>
<circle class="B" cx="653.0" cy="788.5" r="5.0"/>
<circle class="B" cx="653.3" cy="793.2" r="4.0"/>
<circle class="B" cx="650.3" cy="798.6" r="5.0"/>
<circle class="B" cx="645.8" cy="800.8" r="8.0"/>
<circle class="B" cx="644.0" cy="805.1" r="7.0"/>
<circle class="B" cx="642.6" cy="811.3" r="8.0"/>
<circle class="B" cx="649.2" cy="819.8" r="6.0"/>
<circle class="B" cx="649.9" cy="823.2" r="5.0"/>
<circle class="B" cx="647.1" cy="827.3" r="3.0"/>
<circle class="B" cx="647.1" cy="835.3" r="5.0"/>
<circle class="B" cx="647.2" cy="839.0" r="6.0"/>
<circle class="B" cx="643.8" cy="845.8" r="7.0"/>
<circle class="B" cx="646.3" cy="853.5" r="5.0"/>
<circle class="B" cx="644.6" cy="854.5" r="4.0"/>
<circle class="B" cx="643.2" cy="860.5" r="5.0"/>
<circle class="B" cx="637.4" cy="864.6" r="3.0"/>
<circle class="B" cx="635.3" cy="867.2" r="6.0"/>
<circle class="B" cx="632.3" cy="873.6" r="3.0"/>
<circle class="B" cx="623.1" cy="877.5" r="5.0"/>
<circle class="B" cx="624.0" cy="879.2" r="3.0"/>
<circle class="B" cx="616.5" cy="883.8" r="3.5"/>
<circle class="B" cx="610.8" cy="883.9" r="3.0"/>
<circle class="B" cx="606.3" cy="883.4" r="5.0"/>
<circle class="B" cx="602.5" cy="885.4" r="5.0"/>
<circle class="B" cx="593.7" cy="888.2" r="4.0"/>
<circle class="B" cx="590.6" cy="888.9" r="5.0"/>
<circle class="B" cx="582.4" cy="890.7" r="5.0"/>
<circle class="B" cx="578.0" cy="896.1" r="5.0"/>
<circle class="B" cx="575.7" cy="894.2" r="3.0"/>
<circle class="B" cx="569.1" cy="894.8" r="4.0"/>
<circle class="B" cx="564.5" cy="894.9" r="3.5"/>
<circle class="B" cx="558.1" cy="895.0" r="3.5"/>
<circle class="B" cx="556.0" cy="892.6" r="5.0"/>
<circle class="B" cx="548.8" cy="894.9" r="3.0"/>
<circle class="B" cx="545.3" cy="894.0" r="3.0"/>
<circle class="B" cx="539.3" cy="893.1" r="5.0"/>
<circle class="B" cx="532.5" cy="895.0" r="3.0"/>
<circle class="B" cx="530.6" cy="895.1" r="3.5"/>
<circle class="B" cx="526.6" cy="894.8" r="4.0"/>
<circle class="B" cx="520.0" cy="891.7" r="3.0"/>
<circle class="B" cx="515.3" cy="887.5" r="5.0"/>
<circle class="B" cx="508.3" cy="887.3" r="5.0"/>
<circle class="B" cx="503.6" cy="885.6" r="5.0"/>
<circle class="B" cx="500.2" cy="884.7" r="3.5"/>
<circle class="B" cx="496.8" cy="883.1" r="4.0"/>
<circle class="B" cx="489.0" cy="880.5" r="5.0"/>
<circle class="B" cx="487.5" cy="874.3" r="5.0"/>
<circle class="B" cx="481.7" cy="873.7" r="5.0"/>
<circle class="B" cx="475.5" cy="873.6" r="5.0"/>
<circle class="B" cx="474.1" cy="868.7" r="3.0"/>
<circle class="B" cx="470.4" cy="864.2" r="3.5"/>
<circle class="B" cx="468.0" cy="860.6" r="3.0"/>
<circle class="B" cx="463.5" cy="858.0" r="3.5"/>
<circle class="B" cx="459.8" cy="851.8" r="7.0"/>
<circle class="B" cx="459.8" cy="846.6" r="4.0"/>
<circle class="B" cx="460.1" cy="840.1" r="5.0"/>
<circle class="B" cx="457.7" cy="837.7" r="4.0"/>
<circle class="B" cx="452.8" cy="831.3" r="3.0"/>
<circle class="B" cx="456.6" cy="829.0" r="6.0"/>
<circle class="B" cx="449.5" cy="822.7" r="8.0"/>
<circle class="B" cx="448.4" cy="820.7" r="6.0"/>
<circle class="B" cx="448.4" cy="815.1" r="3.0"/>
<circle class="B" cx="447.0" cy="807.2" r="3.0"/>
<circle class="B" cx="445.2" cy="801.0" r="3.0"/>
<circle class="B" cx="447.1" cy="798.1" r="4.0"/>
<circle class="B" cx="445.1" cy="794.1" r="7.0"/>
<circle class="B" cx="445.1" cy="786.8" r="4.0"/>
<circle class="B" cx="445.3" cy="781.3" r="4.0"/>
<circle class="B" cx="445.6" cy="776.9" r="8.0"/>
<circle class="B" cx="444.6" cy="775.9" r="3.0"/>
<circle class="B" cx="445.5" cy="769.4" r="3.0"/>
<circle class="B" cx="449.0" cy="760.5" r="7.0"/>
<circle class="B" cx="445.3" cy="756.5" r="3.0"/>
<circle class="B" cx="446.1" cy="753.6" r="4.0"/>
<circle class="B" cx="446.2" cy="746.4" r="7.0"/>
<circle class="B" cx="443.4" cy="738.1" r="6.0"/>
<circle class="B" cx="446.8" cy="733.3" r="5.0"/>
<circle class="B" cx="447.6" cy="729.2" r="7.0"/>
<circle class="B" cx="444.3" cy="725.3" r="8.0"/>
<circle class="B" cx="449.3" cy="719.2" r="4.0"/>
<circle class="B" cx="446.8" cy="713.0" r="3.0"/>
<circle class="B" cx="449.4" cy="711.6" r="3.0"/>
<circle class="B" cx="450.1" cy="705.7" r="3.0"/>
<circle class="B" cx="455.7" cy="699.2" r="7.0"/>
<circle class="B" cx="453.4" cy="697.4" r="7.0"/>
<circle class="B" cx="452.4" cy="687.7" r="4.0"/>
<circle class="B" cx="456.9" cy="687.8" r="8.0"/>
<circle class="B" cx="459.4" cy="683.3" r="6.0"/>
<circle class="B" cx="459.2" cy="672.9" r="6.0"/>
<circle class="B" cx="459.6" cy="670.8" r="6.0"/>
<circle class="B" cx="459.2" cy="663.4" r="3.0"/>
<circle class="B" cx="464.0" cy="658.2" r="7.0"/>
<circle class="B" cx="463.0" cy="653.6" r="4.0"/>
<circle class="B" cx="463.7" cy="647.6" r="5.0"/>
<circle class="B" cx="464.8" cy="642.3" r="7.0"/>
<circle class="B" cx="466.3" cy="637.4" r="4.0"/>
<circle class="B" cx="471.7" cy="632.5" r="7.0"/>
<circle class="B" cx="469.1" cy="629.0" r="4.0"/>
<circle class="B" cx="469.5" cy="618.6" r="5.0"/>
<circle class="B" cx="468.7" cy="618.1" r="8.0"/>
<circle class="B" cx="469.3" cy="609.2" r="8.0"/>
<circle class="B" cx="471.2" cy="606.6" r="4.0"/>
<circle class="B" cx="469.7" cy="601.3" r="4.0"/>
<circle class="B" cx="476.2" cy="597.0" r="8.0"/>
<circle class="B" cx="469.4" cy="591.6" r="3.0"/>
<circle class="B" cx="472.5" cy="584.7" r="4.0"/>
<circle class="B" cx="472.9" cy="580.5" r="3.0"/>
<circle class="B" cx="471.4" cy="576.0" r="7.0"/>
<circle class="B" cx="472.3" cy="566.7" r="4.0"/>
<circle class="B" cx="472.6" cy="564.8" r="4.0"/>
<circle class="B" cx="473.2" cy="559.1" r="6.0"/>
<circle class="B" cx="479.3" cy="554.0" r="8.0"/>
<circle class="B" cx="475.7" cy="549.1" r="3.0"/>
<circle class="B" cx="477.8" cy="540.0" r="8.0"/>
<circle class="B" cx="476.4" cy="532.1" r="3.0"/>
<circle class="B" cx="446.9" cy="740.2" r="8.0"/>
<circle class="B" cx="516.8" cy="789.5" r="6.0"/>
<circle class="B" cx="637.8" cy="695.2" r="8.0"/>
<circle class="B" cx="627.3" cy="862.8" r="6.0"/>
<circle class="B" cx="467.7" cy="669.6" r="12.0"/>
<circle class="B" cx="582.6" cy="589.4" r="7.0"/>
<circle class="B" cx="537.8" cy="839.5" r="5.0"/>
<circle class="B" cx="574.6" cy="587.6" r="9.0"/>
<circle class="B" cx="585.3" cy="587.1" r="7.0"/>
<circle class="B" cx="587.3" cy="659.7" r="9.0"/>
<circle class="B" cx="564.6" cy="641.0" r="5.0"/>
<circle class="B" cx="577.9" cy="681.3" r="11.0"/>
<circle class="B" cx="465.0" cy="734.6" r="6.0"/>
<circle class="B" cx="543.0" cy="667.2" r="8.0"/>
<circle class="B" cx="628.2" cy="731.1" r="11.0"/>
<circle class="B" cx="553.1" cy="473.9" r="10.0"/>
<circle class="B" cx="581.3" cy="613.6" r="11.0"/>
<circle class="B" cx="575.3" cy="472.6" r="7.0"/>
<circle class="B" cx="558.4" cy="668.4" r="8.0"/>
<circle class="B" cx="509.3" cy="537.7" r="6.0"/>
<circle class="B" cx="646.0" cy="698.9" r="6.0"/>
<circle class="B" cx="632.8" cy="698.7" r="14.0"/>
<circle class="B" cx="486.9" cy="863.0" r="6.0"/>
<circle class="B" cx="561.2" cy="657.9" r="9.0"/>
<circle class="B" cx="634.9" cy="794.0" r="8.0"/>
<circle class="B" cx="581.5" cy="878.3" r="4.0"/>
<circle class="B" cx="561.6" cy="756.5" r="8.0"/>
<circle class="B" cx="624.1" cy="786.6" r="14.0"/>
<circle class="B" cx="574.0" cy="594.7" r="12.0"/>
<circle class="B" cx="492.8" cy="626.5" r="8.0"/>
<circle class="B" cx="568.7" cy="622.9" r="9.0"/>
<circle class="B" cx="575.2" cy="681.0" r="4.0"/>
<circle class="B" cx="515.9" cy="836.3" r="6.0"/>
<circle class="B" cx="519.1" cy="505.1" r="4.0"/>
<circle class="B" cx="528.0" cy="760.6" r="8.0"/>
<circle class="B" cx="507.2" cy="749.6" r="8.0"/>
<circle class="B" cx="461.2" cy="783.3" r="14.0"/>
<circle class="B" cx="493.3" cy="866.6" r="6.0"/>
<circle class="B" cx="516.2" cy="654.5" r="11.0"/>
<circle class="B" cx="506.5" cy="684.8" r="10.0"/>
<circle class="B" cx="507.4" cy="796.3" r="8.0"/>
<circle class="B" cx="489.0" cy="700.4" r="12.0"/>
<circle class="B" cx="602.5" cy="820.4" r="12.0"/>
<circle class="B" cx="525.5" cy="637.6" r="10.0"/>
<circle class="B" cx="596.7" cy="527.6" r="4.0"/>
<circle class="B" cx="591.3" cy="481.7" r="8.0"/>
<circle class="B" cx="505.4" cy="818.1" r="9.0"/>
<circle class="B" cx="640.7" cy="858.9" r="6.0"/>
<circle class="B" cx="508.1" cy="668.0" r="12.0"/>
<circle class="B" cx="561.7" cy="650.4" r="6.0"/>
<circle class="B" cx="574.7" cy="575.6" r="11.0"/>
<circle class="B" cx="562.1" cy="666.1" r="4.0"/>
<circle class="B" cx="595.8" cy="776.8" r="9.0"/>
<circle class="B" cx="500.5" cy="814.3" r="6.0"/>
<circle class="B" cx="605.4" cy="646.7" r="11.0"/>
<circle class="B" cx="582.4" cy="861.8" r="5.0"/>
<circle class="B" cx="550.1" cy="507.5" r="8.0"/>
<circle class="B" cx="561.9" cy="661.7" r="14.0"/>
<circle class="B" cx="624.7" cy="789.6" r="6.0"/>
<circle class="B" cx="535.9" cy="516.0" r="5.0"/>
<circle class="B" cx="530.5" cy="838.4" r="3.0"/>
<circle class="B" cx="622.6" cy="812.7" r="12.0"/>
<circle class="B" cx="606.1" cy="790.5" r="14.0"/>
<circle class="B" cx="523.7" cy="611.7" r="10.0"/>
<circle class="B" cx="479.2" cy="667.7" r="7.0"/>
<circle class="B" cx="568.4" cy="878.7" r="3.0"/>
<circle class="B" cx="615.4" cy="813.2" r="9.0"/>
<circle class="B" cx="467.3" cy="667.0" r="8.0"/>
<circle class="B" cx="553.4" cy="767.7" r="8.0"/>
<circle class="B" cx="557.1" cy="763.1" r="7.0"/>
<circle class="B" cx="634.3" cy="655.0" r="6.0"/>
<circle class="B" cx="620.5" cy="637.3" r="8.0"/>
<circle class="B" cx="608.5" cy="656.9" r="7.0"/>
<circle class="B" cx="573.5" cy="846.7" r="5.0"/>
<circle class="B" cx="614.0" cy="840.2" r="4.0"/>
<circle class="B" cx="480.5" cy="600.0" r="12.0"/>
<circle class="B" cx="607.6" cy="491.0" r="11.0"/>
<circle class="B" cx="571.8" cy="692.8" r="9.0"/>
<circle class="B" cx="484.1" cy="696.9" r="8.0"/>
<circle class="B" cx="457.6" cy="783.2" r="7.0"/>
<circle class="B" cx="527.2" cy="867.3" r="3.0"/>
<circle class="B" cx="580.7" cy="748.9" r="5.0"/>
<circle class="B" cx="594.6" cy="528.7" r="10.0"/>
<circle class="B" cx="460.9" cy="727.4" r="6.0"/>
<circle class="B" cx="569.4" cy="861.2" r="3.0"/>
<circle class="B" cx="574.3" cy="661.4" r="6.0"/>
<circle class="B" cx="564.1" cy="751.3" r="6.0"/>
<circle class="B" cx="557.8" cy="713.1" r="8.0"/>
<circle class="B" cx="533.5" cy="483.9" r="12.0"/>
<circle class="B" cx="497.6" cy="591.7" r="12.0"/>
<circle class="B" cx="590.8" cy="611.4" r="8.0"/>
<circle class="B" cx="521.4" cy="758.6" r="10.0"/>
<circle class="B" cx="502.4" cy="485.3" r="14.0"/>
<circle class="B" cx="511.2" cy="735.0" r="9.0"/>
<circle class="B" cx="508.7" cy="651.6" r="10.0"/>
<circle class="B" cx="577.9" cy="742.9" r="14.0"/>
<circle class="B" cx="561.0" cy="846.6" r="5.0"/>
<circle class="B" cx="540.8" cy="525.8" r="6.0"/>
<circle class="B" cx="542.9" cy="688.4" r="12.0"/>
<circle class="B" cx="580.1" cy="546.0" r="10.0"/>
<circle class="B" cx="491.1" cy="697.1" r="12.0"/>
<circle class="B" cx="556.7" cy="648.5" r="10.0"/>
<circle class="B" cx="580.8" cy="691.4" r="10.0"/>
<circle class="B" cx="555.1" cy="845.3" r="5.0"/>
<circle class="B" cx="463.2" cy="700.7" r="11.0"/>
<circle class="B" cx="521.9" cy="569.5" r="6.0"/>
<circle class="B" cx="479.0" cy="577.7" r="6.0"/>
<circle class="B" cx="551.5" cy="492.6" r="8.0"/>
<circle class="B" cx="516.3" cy="756.6" r="11.0"/>
<circle class="B" cx="486.8" cy="626.9" r="7.0"/>
<circle class="B" cx="598.1" cy="859.2" r="4.0"/>
<circle class="B" cx="498.8" cy="713.5" r="8.0"/>
<circle class="B" cx="544.9" cy="642.3" r="14.0"/>
<circle class="B" cx="533.4" cy="689.2" r="4.0"/>
<circle class="B" cx="541.9" cy="610.6" r="14.0"/>
<circle class="B" cx="510.7" cy="545.7" r="8.0"/>
<circle class="B" cx="514.0" cy="760.1" r="11.0"/>
<circle class="B" cx="613.9" cy="573.1" r="7.0"/>
<circle class="B" cx="525.9" cy="544.2" r="6.0"/>
<circle class="B" cx="605.6" cy="597.3" r="10.0"/>
<circle class="B" cx="628.8" cy="827.7" r="8.0"/>
<circle class="B" cx="619.8" cy="703.1" r="7.0"/>
<circle class="B" cx="532.6" cy="695.3" r="7.0"/>
<circle class="B" cx="603.4" cy="733.4" r="6.0"/>
<circle class="B" cx="518.2" cy="481.8" r="6.0"/>
<circle class="B" cx="507.0" cy="747.6" r="9.0"/>
<circle class="B" cx="567.2" cy="664.5" r="9.0"/>
<circle class="B" cx="515.4" cy="648.8" r="12.0"/>
<circle class="B" cx="525.7" cy="645.5" r="12.0"/>
<circle class="B" cx="473.8" cy="619.3" r="11.0"/>
<circle class="B" cx="519.3" cy="485.7" r="6.0"/>
<circle class="B" cx="555.5" cy="658.5" r="10.0"/>
<circle class="B" cx="525.3" cy="748.3" r="5.0"/>
<circle class="B" cx="491.3" cy="571.8" r="10.0"/>
<circle class="B" cx="565.7" cy="733.4" r="9.0"/>
<circle class="B" cx="536.7" cy="504.8" r="8.0"/>
<circle class="B" cx="615.3" cy="847.1" r="4.0"/>
<circle class="B" cx="538.1" cy="659.3" r="10.0"/>
<circle class="B" cx="624.2" cy="859.6" r="6.0"/>
<circle class="B" cx="587.2" cy="633.1" r="5.0"/>
<circle class="B" cx="564.4" cy="562.5" r="11.0"/>
<circle class="B" cx="521.6" cy="765.6" r="14.0"/>
<circle class="B" cx="644.8" cy="796.9" r="11.0"/>
<circle class="B" cx="536.9" cy="754.8" r="14.0"/>
<circle class="B" cx="527.3" cy="610.2" r="4.0"/>
<circle class="B" cx="630.3" cy="861.9" r="4.0"/>
<circle class="B" cx="464.2" cy="716.0" r="11.0"/>
<circle class="B" cx="519.6" cy="773.1" r="14.0"/>
<circle class="B" cx="483.5" cy="503.6" r="9.0"/>
<circle class="B" cx="564.4" cy="624.3" r="10.0"/>
<circle class="B" cx="538.3" cy="605.3" r="4.0"/>
<circle class="B" cx="499.2" cy="600.2" r="10.0"/>
<circle class="B" cx="486.7" cy="852.9" r="4.0"/>
<circle class="B" cx="608.4" cy="763.9" r="14.0"/>
<circle class="B" cx="571.8" cy="614.3" r="10.0"/>
<circle class="B" cx="459.5" cy="716.0" r="9.0"/>
<circle class="B" cx="555.2" cy="477.4" r="10.0"/>
<circle class="B" cx="526.8" cy="854.6" r="3.0"/>
<circle class="B" cx="556.2" cy="656.8" r="4.0"/>
<circle class="B" cx="542.0" cy="573.8" r="10.0"/>
<circle class="B" cx="572.8" cy="781.7" r="7.0"/>
<circle class="B" cx="526.0" cy="572.7" r="8.0"/>
<circle class="B" cx="498.6" cy="692.3" r="4.0"/>
<circle class="B" cx="572.9" cy="620.1" r="10.0"/>
<circle class="B" cx="490.4" cy="785.5" r="12.0"/>
<circle class="B" cx="650.1" cy="781.6" r="5.0"/>
<circle class="B" cx="462.5" cy="805.9" r="8.0"/>
<circle class="B" cx="476.1" cy="761.4" r="7.0"/>
<circle class="B" cx="526.5" cy="567.0" r="4.0"/>
<circle class="B" cx="531.1" cy="659.6" r="6.0"/>
<circle class="B" cx="571.7" cy="496.0" r="9.0"/>
<circle class="B" cx="459.6" cy="677.4" r="12.0"/>
<circle class="B" cx="590.0" cy="839.3" r="4.0"/>
<circle class="B" cx="515.2" cy="477.1" r="8.0"/>
<circle class="B" cx="488.3" cy="497.0" r="10.0"/>
<circle class="B" cx="590.4" cy="734.0" r="7.0"/>
<circle class="B" cx="549.3" cy="521.4" r="6.0"/>
<circle class="B" cx="518.7" cy="552.6" r="7.0"/>
<circle class="B" cx="502.1" cy="858.3" r="6.0"/>
<circle class="B" cx="615.7" cy="652.1" r="6.0"/>
<circle class="B" cx="480.2" cy="546.1" r="6.0"/>
<circle class="B" cx="576.0" cy="841.1" r="5.0"/>
<circle class="B" cx="560.4" cy="731.1" r="5.0"/>
<circle class="B" cx="566.5" cy="762.2" r="10.0"/>
<circle class="B" cx="534.1" cy="511.7" r="8.0"/>
<circle class="B" cx="480.7" cy="572.6" r="6.0"/>
<circle class="B" cx="462.4" cy="840.3" r="3.0"/>
<circle class="B" cx="584.5" cy="510.4" r="12.0"/>
<circle class="B" cx="491.8" cy="705.5" r="9.0"/>
<circle class="B" cx="545.3" cy="843.2" r="4.0"/>
<circle class="B" cx="592.6" cy="550.4" r="7.0"/>
<circle class="B" cx="501.2" cy="721.9" r="12.0"/>
<circle class="B" cx="571.6" cy="507.4" r="10.0"/>
<circle class="B" cx="505.9" cy="743.8" r="7.0"/>
<circle class="B" cx="604.1" cy="671.1" r="5.0"/>
<circle class="B" cx="619.4" cy="695.9" r="10.0"/>
<circle class="B" cx="520.3" cy="872.2" r="4.0"/>
<circle class="B" cx="518.1" cy="845.1" r="5.0"/>
<circle class="B" cx="535.3" cy="537.0" r="10.0"/>
<circle class="B" cx="485.8" cy="823.0" r="6.0"/>
<circle class="B" cx="509.0" cy="492.4" r="8.0"/>
<circle class="B" cx="532.6" cy="535.7" r="12.0"/>
<circle class="B" cx="566.4" cy="670.8" r="5.0"/>
<circle class="B" cx="544.6" cy="593.0" r="6.0"/>
<circle class="B" cx="645.9" cy="814.4" r="11.0"/>
<circle class="B" cx="544.3" cy="870.7" r="6.0"/>
<circle class="B" cx="586.8" cy="567.6" r="12.0"/>
<circle class="B" cx="595.7" cy="478.3" r="14.0"/>
<circle class="B" cx="505.7" cy="845.5" r="4.0"/>
<circle class="B" cx="530.4" cy="609.9" r="10.0"/>
<circle class="B" cx="469.4" cy="840.0" r="5.0"/>
<circle class="B" cx="481.6" cy="775.0" r="6.0"/>
<circle class="B" cx="511.0" cy="551.4" r="10.0"/>
<circle class="B" cx="562.7" cy="870.2" r="4.0"/>
<circle class="B" cx="564.0" cy="709.1" r="8.0"/>
<circle class="B" cx="583.7" cy="617.4" r="12.0"/>
<circle class="B" cx="613.1" cy="797.4" r="10.0"/>
<circle class="B" cx="590.8" cy="766.4" r="6.0"/>
<circle class="B" cx="556.0" cy="549.9" r="6.0"/>
<circle class="B" cx="538.4" cy="723.8" r="12.0"/>
<circle class="B" cx="526.1" cy="882.4" r="6.0"/>
<circle class="B" cx="593.6" cy="815.6" r="7.0"/>
<circle class="B" cx="529.9" cy="816.4" r="14.0"/>
<circle class="B" cx="491.8" cy="590.1" r="8.0"/>
<circle class="B" cx="628.6" cy="686.9" r="9.0"/>
<circle class="B" cx="613.1" cy="579.5" r="6.0"/>
<circle class="B" cx="576.5" cy="681.4" r="9.0"/>
<circle class="B" cx="497.6" cy="778.7" r="9.0"/>
<circle class="B" cx="643.2" cy="822.9" r="8.0"/>
<circle class="B" cx="523.6" cy="684.1" r="6.0"/>
<circle class="B" cx="620.2" cy="840.9" r="4.0"/>
<circle class="B" cx="587.8" cy="684.2" r="6.0"/>
<circle class="B" cx="485.1" cy="756.7" r="10.0"/>
<circle class="B" cx="590.2" cy="671.5" r="7.0"/>
<circle class="B" cx="524.7" cy="517.1" r="8.0"/>
<circle class="B" cx="550.6" cy="718.9" r="6.0"/>
<circle class="B" cx="634.2" cy="771.8" r="10.0"/>
<circle class="B" cx="522.8" cy="823.1" r="14.0"/>
<circle class="B" cx="461.7" cy="831.1" r="4.0"/>
<circle class="B" cx="514.2" cy="537.9" r="14.0"/>
<circle class="B" cx="509.0" cy="598.4" r="10.0"/>
<circle class="B" cx="554.0" cy="666.6" r="6.0"/>
<circle class="B" cx="550.5" cy="654.5" r="7.0"/>
<circle class="B" cx="605.3" cy="640.5" r="6.0"/>
<circle class="B" cx="513.6" cy="492.1" r="14.0"/>
<circle class="B" cx="523.9" cy="816.3" r="10.0"/>
<circle class="B" cx="495.8" cy="588.8" r="6.0"/>
<circle class="B" cx="534.0" cy="708.1" r="6.0"/>
<circle class="B" cx="583.4" cy="660.1" r="11.0"/>
<circle class="B" cx="508.2" cy="560.4" r="6.0"/>
<circle class="B" cx="521.3" cy="612.3" r="8.0"/>
<circle class="B" cx="565.0" cy="693.9" r="11.0"/>
<circle class="B" cx="486.4" cy="711.7" r="11.0"/>
<circle class="B" cx="482.2" cy="802.3" r="4.0"/>
<circle class="B" cx="484.2" cy="573.5" r="9.0"/>
<circle class="B" cx="549.9" cy="762.7" r="12.0"/>
<circle class="B" cx="637.0" cy="692.8" r="4.0"/>
<circle class="B" cx="474.3" cy="694.7" r="14.0"/>
<circle class="B" cx="473.1" cy="574.8" r="12.0"/>
<circle class="B" cx="633.5" cy="832.6" r="4.0"/>
<circle class="B" cx="627.4" cy="639.6" r="14.0"/>
<circle class="B" cx="575.9" cy="776.2" r="14.0"/>
<circle class="B" cx="524.9" cy="765.2" r="8.0"/>
<circle class="B" cx="617.2" cy="721.1" r="9.0"/>
<circle class="B" cx="560.1" cy="577.2" r="7.0"/>
<circle class="B" cx="554.7" cy="643.4" r="9.0"/>
<circle class="B" cx="480.9" cy="533.0" r="14.0"/>
<circle class="B" cx="520.3" cy="585.1" r="11.0"/>
<circle class="B" cx="537.3" cy="566.4" r="7.0"/>
<circle class="B" cx="484.3" cy="854.2" r="5.0"/>
<circle class="B" cx="517.7" cy="860.8" r="4.0"/>
<circle class="B" cx="620.0" cy="846.3" r="4.0"/>
<circle class="B" cx="451.1" cy="751.1" r="7.0"/>
<circle class="B" cx="486.3" cy="661.8" r="10.0"/>
<circle class="B" cx="479.0" cy="850.3" r="4.0"/>
<circle class="B" cx="538.6" cy="661.0" r="14.0"/>
<circle class="B" cx="504.5" cy="478.3" r="8.0"/>
<circle class="B" cx="578.0" cy="542.1" r="12.0"/>
<circle class="B" cx="479.9" cy="548.7" r="14.0"/>
<circle class="B" cx="541.7" cy="709.5" r="5.0"/>
<circle class="B" cx="615.0" cy="744.1" r="12.0"/>
<circle class="B" cx="613.3" cy="683.0" r="7.0"/>
<circle class="B" cx="575.3" cy="592.6" r="9.0"/>
<circle class="B" cx="607.8" cy="854.6" r="5.0"/>
<circle class="B" cx="479.4" cy="859.8" r="5.0"/>
<circle class="B" cx="523.5" cy="871.8" r="3.0"/>
<circle class="B" cx="515.1" cy="772.9" r="7.0"/>
<circle class="B" cx="498.7" cy="721.3" r="8.0"/>
<circle class="B" cx="628.1" cy="844.6" r="6.0"/>
<circle class="B" cx="576.8" cy="655.1" r="8.0"/>
<circle class="B" cx="577.4" cy="559.7" r="8.0"/>
<circle class="B" cx="568.1" cy="700.1" r="14.0"/>
<circle class="B" cx="520.0" cy="709.6" r="11.0"/>
<circle class="B" cx="600.6" cy="825.4" r="11.0"/>
<circle class="B" cx="578.9" cy="810.1" r="4.0"/>
<circle class="B" cx="489.4" cy="816.9" r="9.0"/>
<circle class="B" cx="655.4" cy="722.7" r="8.0"/>
<circle class="B" cx="631.1" cy="873.7" r="5.0"/>
<circle class="B" cx="535.6" cy="872.7" r="3.0"/>
<circle class="B" cx="571.8" cy="686.1" r="10.0"/>
<circle class="B" cx="483.0" cy="848.0" r="5.0"/>
<circle class="B" cx="500.8" cy="749.7" r="8.0"/>
<circle class="B" cx="594.4" cy="548.3" r="5.0"/>
<circle class="B" cx="582.2" cy="475.7" r="4.0"/>
<circle class="B" cx="606.4" cy="728.7" r="8.0"/>
<circle class="B" cx="595.1" cy="565.8" r="12.0"/>
<circle class="B" cx="538.2" cy="816.0" r="9.0"/>
<circle class="B" cx="484.2" cy="666.4" r="4.0"/>
<circle class="B" cx="541.2" cy="483.4" r="6.0"/>
<circle class="B" cx="475.5" cy="645.3" r="7.0"/>
<circle class="B" cx="539.6" cy="714.4" r="10.0"/>
<circle class="B" cx="510.0" cy="713.2" r="8.0"/>
<circle class="B" cx="534.0" cy="852.7" r="5.0"/>
<circle class="B" cx="462.3" cy="819.6" r="7.0"/>
<circle class="B" cx="507.4" cy="545.0" r="8.0"/>
<circle class="B" cx="478.1" cy="571.1" r="8.0"/>
<circle class="B" cx="521.7" cy="786.4" r="8.0"/>
<circle class="B" cx="639.5" cy="682.8" r="8.0"/>
<circle class="B" cx="575.4" cy="680.2" r="14.0"/>
<circle class="B" cx="627.6" cy="836.9" r="4.0"/>
<circle class="B" cx="515.7" cy="513.9" r="5.0"/>
<circle class="B" cx="565.1" cy="659.9" r="10.0"/>
<circle class="B" cx="513.4" cy="479.3" r="11.0"/>
<circle class="B" cx="505.7" cy="786.0" r="9.0"/>
<circle class="B" cx="503.5" cy="711.9" r="6.0"/>
<circle class="B" cx="504.3" cy="520.6" r="5.0"/>
<circle class="B" cx="508.6" cy="851.2" r="5.0"/>
<circle class="B" cx="535.3" cy="476.6" r="11.0"/>
<circle class="B" cx="519.7" cy="794.6" r="14.0"/>
<circle class="B" cx="627.7" cy="782.3" r="7.0"/>
<circle class="B" cx="630.4" cy="783.0" r="10.0"/>
<circle class="B" cx="500.1" cy="835.0" r="5.0"/>
<circle class="B" cx="597.2" cy="651.5" r="4.0"/>
<circle class="B" cx="480.7" cy="525.0" r="11.0"/>
<circle class="B" cx="589.5" cy="769.9" r="14.0"/>
<circle class="B" cx="538.3" cy="777.5" r="9.0"/>
<circle class="B" cx="578.1" cy="745.6" r="14.0"/>
<circle class="B" cx="626.8" cy="869.0" r="4.0"/>
<circle class="B" cx="653.1" cy="765.6" r="8.0"/>
<circle class="B" cx="586.4" cy="789.9" r="8.0"/>
<circle class="B" cx="517.8" cy="850.4" r="5.0"/>
<circle class="B" cx="528.8" cy="508.5" r="7.0"/>
<circle class="B" cx="577.3" cy="572.7" r="4.0"/>
<circle class="B" cx="571.2" cy="823.7" r="6.0"/>
<circle class="B" cx="550.2" cy="481.2" r="14.0"/>
<circle class="B" cx="567.6" cy="874.6" r="5.0"/>
<circle class="B" cx="641.7" cy="849.3" r="5.0"/>
<circle class="B" cx="495.2" cy="525.2" r="12.0"/>
<circle class="B" cx="493.7" cy="678.3" r="12.0"/>
<circle class="B" cx="579.6" cy="751.3" r="7.0"/>
<circle class="B" cx="540.3" cy="538.0" r="6.0"/>
<circle class="B" cx="584.9" cy="620.1" r="5.0"/>
<circle class="B" cx="576.5" cy="658.2" r="8.0"/>
<circle class="B" cx="622.9" cy="751.9" r="6.0"/>
<circle class="B" cx="548.5" cy="728.2" r="9.0"/>
<circle class="B" cx="548.6" cy="893.0" r="6.0"/>
<circle class="B" cx="549.3" cy="603.4" r="8.0"/>
<circle class="B" cx="585.8" cy="627.3" r="5.0"/>
<circle class="B" cx="453.4" cy="800.6" r="9.0"/>
<circle class="B" cx="478.1" cy="569.2" r="9.0"/>
<circle class="B" cx="492.1" cy="810.5" r="12.0"/>
<circle class="B" cx="549.7" cy="498.1" r="5.0"/>
<circle class="B" cx="481.4" cy="614.5" r="7.0"/>
<circle class="B" cx="479.6" cy="842.5" r="5.0"/>
<circle class="B" cx="552.0" cy="862.6" r="6.0"/>
<circle class="B" cx="443.4" cy="752.2" r="6.0"/>
<circle class="B" cx="589.3" cy="623.4" r="11.0"/>
<circle class="B" cx="520.1" cy="670.2" r="6.0"/>
<circle class="B" cx="554.3" cy="569.4" r="4.0"/>
<circle class="B" cx="537.4" cy="548.2" r="7.0"/>
<circle class="B" cx="618.8" cy="641.3" r="10.0"/>
<circle class="B" cx="625.7" cy="637.9" r="8.0"/>
<circle class="B" cx="471.9" cy="819.0" r="8.0"/>
<circle class="B" cx="550.5" cy="825.6" r="12.0"/>
<circle class="B" cx="522.3" cy="590.3" r="9.0"/>
<circle class="B" cx="549.3" cy="640.4" r="14.0"/>
<circle class="B" cx="594.8" cy="598.0" r="14.0"/>
<circle class="B" cx="561.5" cy="649.2" r="5.0"/>
<circle class="B" cx="535.2" cy="541.0" r="8.0"/>
<circle class="B" cx="616.8" cy="855.9" r="3.0"/>
<circle class="B" cx="544.2" cy="871.6" r="4.0"/>
<circle class="B" cx="602.4" cy="797.1" r="9.0"/>
<circle class="B" cx="560.2" cy="750.6" r="9.0"/>
<circle class="B" cx="558.8" cy="814.7" r="8.0"/>
<circle class="B" cx="647.8" cy="744.6" r="10.0"/>
<circle class="B" cx="508.9" cy="523.9" r="14.0"/>
<circle class="B" cx="499.9" cy="603.6" r="12.0"/>
<circle class="B" cx="475.8" cy="866.9" r="4.0"/>
<circle class="B" cx="557.7" cy="844.3" r="5.0"/>
<circle class="B" cx="541.0" cy="644.5" r="11.0"/>
<circle class="B" cx="529.8" cy="687.9" r="10.0"/>
<circle class="B" cx="519.2" cy="570.5" r="9.0"/>
<circle class="B" cx="560.5" cy="771.2" r="6.0"/>
<circle class="B" cx="486.8" cy="673.5" r="7.0"/>
<circle class="B" cx="526.3" cy="694.3" r="8.0"/>
<circle class="B" cx="507.1" cy="661.1" r="5.0"/>
<circle class="B" cx="637.7" cy="680.6" r="9.0"/>
<circle class="B" cx="533.8" cy="510.3" r="7.0"/>
<circle class="B" cx="605.8" cy="536.2" r="10.0"/>
<circle class="B" cx="588.7" cy="680.0" r="7.0"/>
<circle class="B" cx="641.2" cy="795.2" r="4.0"/>
<circle class="B" cx="526.1" cy="475.4" r="8.0"/>
<circle class="B" cx="523.0" cy="669.9" r="11.0"/>
<circle class="B" cx="612.0" cy="795.7" r="6.0"/>
<circle class="B" cx="554.0" cy="776.3" r="4.0"/>
<circle class="B" cx="634.2" cy="838.2" r="5.0"/>
<circle class="B" cx="530.2" cy="586.1" r="10.0"/>
<circle class="B" cx="587.8" cy="666.5" r="10.0"/>
<circle class="B" cx="484.8" cy="780.0" r="11.0"/>
<circle class="B" cx="604.5" cy="537.0" r="11.0"/>
<circle class="B" cx="540.7" cy="578.8" r="12.0"/>
<circle class="B" cx="541.0" cy="732.6" r="10.0"/>
<circle class="B" cx="550.2" cy="572.2" r="8.0"/>
<circle class="B" cx="556.2" cy="716.8" r="12.0"/>
<circle class="B" cx="462.1" cy="846.3" r="3.0"/>
<circle class="B" cx="464.0" cy="726.4" r="12.0"/>
<circle class="B" cx="555.2" cy="885.7" r="6.0"/>
<circle class="B" cx="486.3" cy="875.1" r="3.0"/>
<circle class="B" cx="531.9" cy="568.9" r="8.0"/>
<circle class="B" cx="584.4" cy="624.3" r="8.0"/>
<circle class="B" cx="566.7" cy="677.6" r="6.0"/>
<circle class="B" cx="553.3" cy="664.0" r="12.0"/>
<circle class="B" cx="632.7" cy="823.1" r="6.0"/>
<circle class="B" cx="575.8" cy="574.9" r="6.0"/>
<circle class="B" cx="621.6" cy="856.7" r="4.0"/>
<circle class="B" cx="466.8" cy="702.7" r="12.0"/>
<circle class="B" cx="496.1" cy="627.3" r="8.0"/>
<circle class="B" cx="466.2" cy="786.6" r="10.0"/>
<circle class="B" cx="542.3" cy="517.7" r="10.0"/>
<circle class="B" cx="479.7" cy="694.0" r="8.0"/>
<circle class="B" cx="605.1" cy="869.5" r="5.0"/>
<circle class="B" cx="496.6" cy="564.1" r="10.0"/>
<circle class="B" cx="608.4" cy="632.9" r="7.0"/>
<circle class="B" cx="515.4" cy="695.4" r="10.0"/>
<circle class="B" cx="541.9" cy="633.0" r="8.0"/>
<circle class="B" cx="543.0" cy="575.6" r="12.0"/>
<circle class="B" cx="515.2" cy="480.2" r="14.0"/>
<circle class="B" cx="500.7" cy="502.1" r="8.0"/>
<circle class="B" cx="546.4" cy="561.6" r="4.0"/>
<circle class="B" cx="482.9" cy="758.4" r="4.0"/>
<circle class="B" cx="521.6" cy="796.2" r="11.0"/>
<circle class="B" cx="539.8" cy="879.2" r="5.0"/>
<circle class="B" cx="518.0" cy="812.1" r="8.0"/>
<circle class="B" cx="535.2" cy="890.4" r="3.0"/>
<circle class="B" cx="555.5" cy="616.7" r="12.0"/>
<circle class="B" cx="623.2" cy="821.3" r="10.0"/>
<circle class="B" cx="508.3" cy="494.3" r="8.0"/>
<circle class="B" cx="624.2" cy="793.8" r="7.0"/>
<circle class="B" cx="478.5" cy="735.2" r="5.0"/>
<circle class="B" cx="646.6" cy="720.3" r="6.0"/>
<circle class="B" cx="482.6" cy="639.5" r="11.0"/>
<circle class="B" cx="530.7" cy="519.9" r="12.0"/>
<circle class="B" cx="570.0" cy="749.5" r="8.0"/>
<circle class="B" cx="462.8" cy="678.9" r="10.0"/>
<circle class="B" cx="532.6" cy="510.3" r="4.0"/>
<circle class="B" cx="606.8" cy="604.0" r="5.0"/>
<circle class="B" cx="514.8" cy="883.0" r="4.0"/>
<circle class="B" cx="591.1" cy="855.3" r="5.0"/>
<circle class="B" cx="486.6" cy="637.2" r="6.0"/>
<circle class="B" cx="502.3" cy="541.2" r="5.0"/>
<circle class="B" cx="526.6" cy="498.6" r="4.0"/>
<circle class="B" cx="612.2" cy="791.4" r="14.0"/>
<circle class="B" cx="579.2" cy="592.6" r="8.0"/>
<circle class="B" cx="598.7" cy="804.0" r="4.0"/>
<circle class="B" cx="481.0" cy="874.3" r="4.0"/>
<circle class="B" cx="563.5" cy="584.3" r="8.0"/>
<circle class="B" cx="500.2" cy="680.8" r="12.0"/>
<circle class="B" cx="545.9" cy="549.3" r="6.0"/>
<circle class="B" cx="453.0" cy="697.6" r="10.0"/>
<circle class="B" cx="533.4" cy="848.5" r="5.0"/>
<circle class="B" cx="480.3" cy="864.2" r="5.0"/>
<circle class="B" cx="498.8" cy="650.7" r="11.0"/>
<circle class="B" cx="619.9" cy="624.8" r="5.0"/>
<circle class="B" cx="525.7" cy="699.3" r="11.0"/>
<circle class="B" cx="488.4" cy="857.2" r="5.0"/>
<circle class="B" cx="535.2" cy="804.6" r="4.0"/>
<circle class="B" cx="561.0" cy="821.6" r="4.0"/>
<circle class="B" cx="503.3" cy="639.0" r="9.0"/>
<circle class="B" cx="636.1" cy="669.4" r="5.0"/>
<circle class="B" cx="582.0" cy="631.9" r="8.0"/>
<circle class="B" cx="513.0" cy="839.9" r="6.0"/>
<circle class="B" cx="561.2" cy="854.6" r="5.0"/>
<circle class="B" cx="553.6" cy="833.3" r="3.0"/>
<circle class="B" cx="575.3" cy="632.5" r="8.0"/>
<circle class="B" cx="467.2" cy="660.8" r="14.0"/>
<circle class="B" cx="601.7" cy="835.0" r="5.0"/>
<circle class="B" cx="611.2" cy="875.7" r="3.0"/>
<circle class="B" cx="513.6" cy="779.7" r="9.0"/>
<circle class="B" cx="522.6" cy="548.6" r="12.0"/>
<circle class="B" cx="474.4" cy="821.1" r="11.0"/>
<circle class="B" cx="496.8" cy="770.4" r="6.0"/>
<circle class="B" cx="537.5" cy="775.2" r="9.0"/>
<circle class="B" cx="504.0" cy="679.2" r="10.0"/>
<circle class="B" cx="558.4" cy="541.6" r="10.0"/>
<circle class="B" cx="608.8" cy="838.8" r="4.0"/>
<circle class="B" cx="535.9" cy="833.4" r="4.0"/>
<circle class="B" cx="603.5" cy="839.7" r="5.0"/>
<circle class="B" cx="633.8" cy="713.7" r="12.0"/>
<circle class="B" cx="637.2" cy="695.3" r="8.0"/>
<circle class="B" cx="612.1" cy="854.6" r="5.0"/>
<circle class="B" cx="489.9" cy="601.6" r="8.0"/>
<circle class="B" cx="600.1" cy="696.3" r="8.0"/>
<circle class="B" cx="507.4" cy="619.5" r="8.0"/>
<circle class="B" cx="581.7" cy="483.4" r="5.0"/>
<circle class="B" cx="602.1" cy="767.3" r="9.0"/>
<circle class="B" cx="541.4" cy="518.3" r="9.0"/>
<circle class="B" cx="522.3" cy="887.2" r="5.0"/>
<circle class="B" cx="606.3" cy="700.1" r="6.0"/>
<circle class="B" cx="484.5" cy="665.9" r="5.0"/>
<circle class="B" cx="517.2" cy="633.2" r="5.0"/>
<circle class="B" cx="642.8" cy="774.4" r="12.0"/>
<circle class="B" cx="452.9" cy="747.9" r="4.0"/>
<circle class="B" cx="546.2" cy="804.6" r="9.0"/>
<circle class="B" cx="573.1" cy="846.8" r="5.0"/>
<circle class="B" cx="543.0" cy="883.1" r="5.0"/>
<circle class="B" cx="513.2" cy="585.2" r="10.0"/>
<circle class="B" cx="464.2" cy="642.8" r="11.0"/>
<circle class="B" cx="521.1" cy="824.2" r="12.0"/>
<circle class="B" cx="546.1" cy="686.8" r="5.0"/>
<circle class="B" cx="523.5" cy="842.6" r="5.0"/>
<circle class="B" cx="596.5" cy="793.7" r="9.0"/>
<circle class="B" cx="550.4" cy="528.3" r="14.0"/>
<circle class="B" cx="527.0" cy="533.9" r="8.0"/>
<circle class="B" cx="601.4" cy="601.2" r="10.0"/>
<circle class="B" cx="648.8" cy="764.8" r="8.0"/>
<circle class="B" cx="490.1" cy="490.2" r="8.0"/>
<circle class="B" cx="501.7" cy="731.3" r="12.0"/>
<circle class="B" cx="565.0" cy="801.6" r="4.0"/>
<circle class="B" cx="543.0" cy="869.7" r="5.0"/>
<circle class="B" cx="533.7" cy="819.5" r="10.0"/>
<circle class="B" cx="500.5" cy="691.0" r="14.0"/>
<circle class="B" cx="480.0" cy="771.4" r="5.0"/>
<circle class="B" cx="524.6" cy="756.6" r="6.0"/>
<circle class="B" cx="631.6" cy="723.6" r="6.0"/>
<circle class="B" cx="606.5" cy="740.3" r="6.0"/>
<circle class="B" cx="519.1" cy="629.7" r="12.0"/>
<circle class="B" cx="527.5" cy="753.6" r="4.0"/>
<circle class="B" cx="552.0" cy="519.7" r="7.0"/>
<circle class="B" cx="575.6" cy="538.8" r="12.0"/>
<circle class="B" cx="529.6" cy="674.8" r="11.0"/>
<circle class="B" cx="509.7" cy="774.1" r="9.0"/>
<circle class="B" cx="556.6" cy="645.1" r="10.0"/>
<circle class="B" cx="458.5" cy="701.5" r="9.0"/>
<circle class="B" cx="619.3" cy="856.5" r="5.0"/>
<circle class="B" cx="532.8" cy="865.8" r="4.0"/>
<circle class="B" cx="585.8" cy="534.9" r="8.0"/>
<circle class="B" cx="487.4" cy="561.0" r="10.0"/>
<circle class="B" cx="464.1" cy="845.1" r="5.0"/>
<circle class="B" cx="602.7" cy="752.1" r="7.0"/>
<circle class="B" cx="562.7" cy="782.8" r="5.0"/>
<circle class="B" cx="534.5" cy="698.7" r="7.0"/>
<circle class="B" cx="590.2" cy="686.3" r="9.0"/>
<circle class="B" cx="593.5" cy="737.9" r="4.0"/>
<circle class="B" cx="520.7" cy="518.2" r="4.0"/>
<circle class="B" cx="540.3" cy="572.4" r="8.0"/>
<circle class="B" cx="585.5" cy="866.3" r="4.0"/>
<circle class="B" cx="594.3" cy="834.7" r="6.0"/>
<circle class="B" cx="493.6" cy="776.6" r="7.0"/>
<circle class="B" cx="634.0" cy="851.0" r="4.0"/>
<circle class="B" cx="614.0" cy="747.2" r="12.0"/>
<circle class="B" cx="642.3" cy="809.0" r="7.0"/>
<circle class="B" cx="465.2" cy="640.2" r="9.0"/>
<circle class="B" cx="573.2" cy="720.5" r="8.0"/>
<circle class="B" cx="459.2" cy="687.0" r="11.0"/>
<circle class="B" cx="605.1" cy="606.7" r="12.0"/>
<circle class="B" cx="463.9" cy="736.6" r="6.0"/>
<circle class="B" cx="611.3" cy="642.6" r="9.0"/>
<circle class="B" cx="481.9" cy="601.6" r="5.0"/>
<circle class="B" cx="492.0" cy="716.1" r="11.0"/>
<circle class="B" cx="539.5" cy="712.2" r="6.0"/>
<circle class="B" cx="596.0" cy="784.0" r="4.0"/>
<circle class="B" cx="473.1" cy="831.2" r="4.0"/>
<circle class="B" cx="604.0" cy="764.5" r="12.0"/>
<circle class="B" cx="598.1" cy="521.8" r="7.0"/>
<circle class="B" cx="554.7" cy="824.3" r="7.0"/>
<circle class="B" cx="601.0" cy="496.5" r="8.0"/>
<circle class="B" cx="575.5" cy="588.3" r="11.0"/>
<circle class="B" cx="574.2" cy="866.8" r="4.0"/>
<circle class="B" cx="469.3" cy="613.4" r="6.0"/>
<circle class="B" cx="466.2" cy="758.3" r="6.0"/>
<circle class="B" cx="490.8" cy="626.1" r="6.0"/>
<circle class="B" cx="499.9" cy="803.4" r="12.0"/>
<circle class="B" cx="594.1" cy="573.9" r="7.0"/>
<circle class="B" cx="618.9" cy="700.3" r="6.0"/>
<circle class="B" cx="620.4" cy="845.9" r="3.0"/>
<circle class="B" cx="577.7" cy="876.8" r="4.0"/>
<circle class="B" cx="461.4" cy="833.2" r="5.0"/>
<circle class="B" cx="617.6" cy="834.5" r="4.0"/>
<circle class="B" cx="634.1" cy="752.0" r="10.0"/>
<circle class="B" cx="587.9" cy="665.5" r="12.0"/>
<circle class="B" cx="579.1" cy="675.6" r="14.0"/>
<circle class="B" cx="630.5" cy="799.9" r="14.0"/>
<circle class="B" cx="591.6" cy="838.3" r="6.0"/>
<circle class="B" cx="481.0" cy="581.9" r="10.0"/>
<circle class="B" cx="598.0" cy="889.2" r="6.0"/>
<circle class="B" cx="471.3" cy="736.3" r="10.0"/>
<circle class="B" cx="589.3" cy="853.3" r="6.0"/>
<circle class="B" cx="473.1" cy="722.1" r="4.0"/>
<circle class="B" cx="512.2" cy="758.7" r="8.0"/>
<circle class="B" cx="506.4" cy="715.7" r="4.0"/>
<circle class="B" cx="537.9" cy="716.0" r="7.0"/>
<circle class="B" cx="539.2" cy="587.8" r="10.0"/>
<circle class="B" cx="596.2" cy="620.8" r="12.0"/>
<circle class="B" cx="610.0" cy="676.2" r="9.0"/>
<circle class="B" cx="523.1" cy="645.5" r="9.0"/>
<circle class="B" cx="587.5" cy="514.3" r="9.0"/>
<circle class="B" cx="521.9" cy="509.1" r="14.0"/>
<circle class="B" cx="595.6" cy="473.0" r="10.0"/>
<circle class="B" cx="470.3" cy="654.8" r="7.0"/>
<circle class="B" cx="604.6" cy="540.8" r="12.0"/>
<circle class="B" cx="642.6" cy="764.7" r="6.0"/>
<circle class="B" cx="462.2" cy="699.1" r="6.0"/>
<circle class="B" cx="609.9" cy="648.1" r="9.0"/>
<circle class="B" cx="536.1" cy="687.2" r="8.0"/>
<circle class="B" cx="563.2" cy="848.8" r="5.0"/>
<circle class="B" cx="616.7" cy="742.4" r="8.0"/>
<circle class="B" cx="658.1" cy="741.7" r="6.0"/>
<circle class="B" cx="631.2" cy="737.8" r="14.0"/>
<circle class="B" cx="503.3" cy="745.1" r="7.0"/>
<circle class="B" cx="609.6" cy="691.5" r="12.0"/>
<circle class="B" cx="537.3" cy="582.8" r="12.0"/>
<circle class="B" cx="468.0" cy="849.8" r="6.0"/>
<circle class="B" cx="573.0" cy="639.3" r="11.0"/>
<circle class="B" cx="475.2" cy="629.6" r="10.0"/>
<circle class="B" cx="603.7" cy="763.7" r="5.0"/>
<circle class="B" cx="514.4" cy="733.5" r="12.0"/>
<circle class="B" cx="602.8" cy="708.7" r="8.0"/>
<circle class="B" cx="464.5" cy="644.2" r="7.0"/>
<circle class="B" cx="529.1" cy="889.1" r="5.0"/>
<circle class="B" cx="510.3" cy="640.7" r="12.0"/>
<circle class="B" cx="630.8" cy="868.6" r="3.0"/>
<circle class="B" cx="476.7" cy="846.9" r="4.0"/>
<circle class="B" cx="589.6" cy="697.9" r="6.0"/>
<circle class="B" cx="476.7" cy="726.8" r="6.0"/>
<circle class="B" cx="640.0" cy="731.4" r="7.0"/>
<circle class="B" cx="517.5" cy="544.3" r="9.0"/>
<circle class="B" cx="498.2" cy="842.2" r="5.0"/>
<circle class="B" cx="539.5" cy="837.9" r="5.0"/>
<circle class="B" cx="554.8" cy="490.6" r="4.0"/>
<circle class="B" cx="565.0" cy="703.6" r="10.0"/>
<circle class="B" cx="606.8" cy="859.3" r="5.0"/>
<circle class="B" cx="521.0" cy="775.9" r="4.0"/>
<circle class="B" cx="644.5" cy="684.5" r="14.0"/>
<circle class="B" cx="603.4" cy="721.1" r="14.0"/>
<circle class="B" cx="509.1" cy="478.6" r="11.0"/>
<circle class="B" cx="512.2" cy="813.6" r="10.0"/>
<circle class="B" cx="577.3" cy="839.8" r="3.0"/>
<circle class="B" cx="560.2" cy="596.7" r="12.0"/>
<circle class="B" cx="491.3" cy="797.4" r="6.0"/>
<circle class="B" cx="507.7" cy="639.6" r="8.0"/>
<circle class="B" cx="600.8" cy="772.7" r="14.0"/>
<circle class="B" cx="542.8" cy="529.8" r="6.0"/>
<circle class="B" cx="637.5" cy="717.3" r="6.0"/>
<circle class="B" cx="515.9" cy="636.7" r="12.0"/>
<circle class="B" cx="535.9" cy="725.7" r="11.0"/>
<circle class="B" cx="453.6" cy="771.7" r="5.0"/>
<circle class="B" cx="507.1" cy="754.6" r="12.0"/>
<circle class="B" cx="524.9" cy="666.6" r="11.0"/>
<circle class="B" cx="498.8" cy="661.9" r="11.0"/>
<circle class="B" cx="597.6" cy="875.2" r="6.0"/>
<circle class="B" cx="593.8" cy="629.3" r="4.0"/>
<circle class="B" cx="552.1" cy="767.5" r="6.0"/>
<circle class="B" cx="526.7" cy="539.6" r="8.0"/>
<circle class="B" cx="445.6" cy="773.9" r="5.0"/>
<circle class="B" cx="605.3" cy="685.6" r="14.0"/>
<circle class="B" cx="560.2" cy="561.0" r="6.0"/>
<circle class="B" cx="545.4" cy="580.6" r="8.0"/>
<circle class="B" cx="512.0" cy="696.8" r="6.0"/>
<circle class="B" cx="596.2" cy="684.7" r="9.0"/>
<circle class="B" cx="514.0" cy="811.8" r="8.0"/>
<circle class="B" cx="545.8" cy="688.1" r="14.0"/>
<circle class="B" cx="526.5" cy="679.9" r="8.0"/>
<circle class="B" cx="544.6" cy="891.6" r="5.0"/>
<circle class="B" cx="482.4" cy="616.2" r="6.0"/>
<circle class="B" cx="583.7" cy="696.2" r="12.0"/>
<circle class="B" cx="489.2" cy="614.4" r="8.0"/>
<circle class="B" cx="573.2" cy="594.3" r="4.0"/>
<circle class="B" cx="558.9" cy="616.4" r="8.0"/>
<circle class="B" cx="517.1" cy="733.4" r="8.0"/>
<circle class="B" cx="581.6" cy="762.9" r="9.0"/>
<circle class="B" cx="519.2" cy="483.1" r="12.0"/>
<circle class="B" cx="605.1" cy="639.8" r="7.0"/>
<circle class="B" cx="534.2" cy="501.8" r="8.0"/>
<circle class="B" cx="569.1" cy="494.2" r="10.0"/>
<circle class="B" cx="594.8" cy="665.5" r="8.0"/>
<circle class="B" cx="626.2" cy="648.3" r="11.0"/>
<circle class="B" cx="472.6" cy="686.9" r="10.0"/>
<circle class="B" cx="531.5" cy="875.3" r="6.0"/>
<circle class="B" cx="604.0" cy="711.2" r="5.0"/>
<circle class="B" cx="644.7" cy="741.7" r="6.0"/>
<circle class="B" cx="500.7" cy="879.5" r="6.0"/>
<circle class="B" cx="489.6" cy="806.7" r="8.0"/>
<circle class="B" cx="475.7" cy="598.9" r="10.0"/>
<circle class="B" cx="458.1" cy="719.7" r="8.0"/>
<circle class="B" cx="557.7" cy="667.8" r="11.0"/>
<circle class="B" cx="498.0" cy="557.7" r="12.0"/>
<circle class="B" cx="469.1" cy="769.8" r="8.0"/>
<circle class="B" cx="637.8" cy="754.1" r="14.0"/>
<circle class="B" cx="571.7" cy="839.6" r="4.0"/>
<circle class="B" cx="483.3" cy="848.4" r="4.0"/>
<circle class="B" cx="539.0" cy="703.3" r="11.0"/>
<circle class="B" cx="518.9" cy="891.4" r="3.0"/>
<circle class="B" cx="492.3" cy="856.6" r="6.0"/>
<circle class="B" cx="581.4" cy="778.6" r="7.0"/>
<circle class="B" cx="447.2" cy="762.1" r="14.0"/>
<circle class="B" cx="497.4" cy="879.9" r="5.0"/>
<circle class="B" cx="525.3" cy="769.4" r="10.0"/>
<circle class="B" cx="555.0" cy="573.5" r="8.0"/>
<circle class="B" cx="584.1" cy="828.3" r="12.0"/>
<circle class="B" cx="525.0" cy="566.8" r="4.0"/>
<circle class="B" cx="625.3" cy="732.3" r="6.0"/>
<circle class="B" cx="529.7" cy="656.0" r="6.0"/>
<circle class="B" cx="555.9" cy="522.2" r="8.0"/>
<circle class="B" cx="578.9" cy="767.3" r="11.0"/>
<circle class="B" cx="634.8" cy="833.8" r="5.0"/>
<circle class="B" cx="601.8" cy="720.3" r="8.0"/>
<circle class="B" cx="606.2" cy="534.0" r="12.0"/>
<circle class="B" cx="549.6" cy="818.0" r="5.0"/>
<circle class="B" cx="479.0" cy="542.3" r="10.0"/>
<circle class="B" cx="589.4" cy="658.7" r="4.0"/>
<circle class="B" cx="567.6" cy="621.9" r="11.0"/>
<circle class="B" cx="607.0" cy="586.1" r="8.0"/>
<circle class="B" cx="512.2" cy="714.4" r="9.0"/>
<circle class="B" cx="469.9" cy="623.3" r="7.0"/>
<circle class="B" cx="555.0" cy="845.1" r="3.0"/>
<circle class="B" cx="484.6" cy="581.6" r="9.0"/>
<circle class="B" cx="565.4" cy="874.1" r="6.0"/>
<circle class="B" cx="631.3" cy="807.8" r="6.0"/>
<circle class="B" cx="498.3" cy="693.9" r="11.0"/>
<circle class="B" cx="539.0" cy="628.6" r="6.0"/>
<circle class="B" cx="572.0" cy="605.5" r="8.0"/>
<circle class="B" cx="575.1" cy="510.9" r="4.0"/>
<circle class="B" cx="576.5" cy="836.3" r="5.0"/>
<circle class="B" cx="580.0" cy="697.5" r="4.0"/>
<circle class="B" cx="585.2" cy="566.2" r="14.0"/>
<circle class="B" cx="575.5" cy="832.8" r="5.0"/>
<circle class="B" cx="540.7" cy="719.9" r="8.0"/>
<circle class="B" cx="540.7" cy="804.3" r="7.0"/>
<circle class="B" cx="545.0" cy="497.6" r="7.0"/>
<circle class="B" cx="525.7" cy="723.0" r="12.0"/>
<circle class="B" cx="544.5" cy="843.9" r="4.0"/>
<circle class="B" cx="616.9" cy="656.1" r="4.0"/>
<circle class="B" cx="632.0" cy="669.2" r="10.0"/>
<circle class="B" cx="564.7" cy="533.2" r="6.0"/>
<circle class="B" cx="471.8" cy="644.3" r="6.0"/>
<circle class="B" cx="602.7" cy="729.3" r="6.0"/>
<circle class="B" cx="591.4" cy="774.3" r="8.0"/>
<circle class="B" cx="592.8" cy="612.8" r="6.0"/>
<circle class="B" cx="544.1" cy="669.1" r="10.0"/>
<circle class="B" cx="545.3" cy="697.7" r="11.0"/>
<circle class="B" cx="567.2" cy="893.4" r="4.0"/>
<circle class="B" cx="484.6" cy="607.1" r="10.0"/>
<circle class="B" cx="527.6" cy="802.1" r="4.0"/>
<circle class="B" cx="496.8" cy="674.9" r="8.0"/>
<circle class="B" cx="604.8" cy="874.1" r="5.0"/>
<circle class="B" cx="522.5" cy="504.9" r="4.0"/>
<circle class="B" cx="629.1" cy="655.0" r="6.0"/>
<circle class="B" cx="570.1" cy="724.9" r="6.0"/>
<circle class="B" cx="524.0" cy="502.7" r="8.0"/>
<circle class="B" cx="586.0" cy="678.0" r="6.0"/>
<circle class="B" cx="484.3" cy="516.2" r="9.0"/>
<circle class="B" cx="516.2" cy="576.5" r="8.0"/>
<circle class="B" cx="543.9" cy="720.6" r="8.0"/>
<circle class="B" cx="537.3" cy="756.1" r="9.0"/>
<circle class="B" cx="574.9" cy="724.8" r="14.0"/>
<circle class="B" cx="609.0" cy="581.7" r="14.0"/>
<circle class="B" cx="545.2" cy="562.1" r="7.0"/>
<circle class="B" cx="619.7" cy="707.9" r="12.0"/>
<circle class="B" cx="477.5" cy="567.9" r="14.0"/>
<circle class="B" cx="530.4" cy="860.1" r="4.0"/>
<circle class="B" cx="565.5" cy="874.2" r="6.0"/>
<circle class="B" cx="550.2" cy="721.5" r="8.0"/>
<circle class="B" cx="548.7" cy="681.4" r="7.0"/>
<circle class="B" cx="484.6" cy="875.7" r="6.0"/>
<circle class="B" cx="490.0" cy="734.0" r="12.0"/>
<circle class="B" cx="584.5" cy="522.9" r="7.0"/>
<circle class="B" cx="561.0" cy="687.8" r="5.0"/>
<circle class="B" cx="558.0" cy="546.4" r="11.0"/>
<circle class="B" cx="493.5" cy="675.4" r="12.0"/>
<circle class="B" cx="532.7" cy="661.9" r="12.0"/>
<circle class="B" cx="588.4" cy="821.0" r="10.0"/>
<circle class="B" cx="496.9" cy="552.0" r="10.0"/>
<circle class="B" cx="598.5" cy="488.9" r="11.0"/>
<circle class="B" cx="638.6" cy="827.3" r="9.0"/>
<circle class="B" cx="573.2" cy="639.3" r="9.0"/>
<circle class="B" cx="628.5" cy="804.8" r="12.0"/>
<circle class="B" cx="630.7" cy="838.3" r="5.0"/>
<circle class="B" cx="557.0" cy="791.8" r="9.0"/>
<circle class="B" cx="541.9" cy="585.4" r="8.0"/>
<circle class="B" cx="512.6" cy="671.2" r="6.0"/>
<circle class="B" cx="615.7" cy="778.7" r="12.0"/>
<circle class="B" cx="480.7" cy="737.5" r="9.0"/>
<circle class="B" cx="444.6" cy="744.4" r="4.0"/>
<circle class="B" cx="633.2" cy="736.9" r="7.0"/>
<circle class="B" cx="481.2" cy="875.5" r="5.0"/>
<circle class="B" cx="472.8" cy="750.7" r="9.0"/>
<circle class="B" cx="587.4" cy="682.4" r="12.0"/>
<circle class="B" cx="544.4" cy="896.4" r="6.0"/>
<circle class="B" cx="465.1" cy="767.1" r="7.0"/>
<circle class="B" cx="619.4" cy="664.0" r="11.0"/>
<circle class="B" cx="520.1" cy="861.0" r="4.0"/>
<circle class="B" cx="562.2" cy="817.7" r="8.0"/>
<circle class="B" cx="453.3" cy="830.0" r="4.0"/>
<circle class="B" cx="618.0" cy="766.6" r="6.0"/>
<circle class="B" cx="510.1" cy="526.9" r="10.0"/>
<circle class="B" cx="457.6" cy="677.6" r="8.0"/>
<circle class="B" cx="585.2" cy="758.7" r="12.0"/>
<circle class="B" cx="596.0" cy="600.1" r="14.0"/>
<circle class="B" cx="536.5" cy="675.6" r="6.0"/>
<circle class="B" cx="579.3" cy="815.1" r="12.0"/>
<circle class="B" cx="464.7" cy="704.9" r="10.0"/>
<circle class="B" cx="597.7" cy="731.7" r="9.0"/>
<circle class="B" cx="584.2" cy="609.5" r="8.0"/>
<circle class="B" cx="515.9" cy="759.4" r="7.0"/>
<circle class="B" cx="522.8" cy="753.7" r="10.0"/>
<circle class="B" cx="540.8" cy="500.1" r="12.0"/>
<circle class="B" cx="585.1" cy="795.7" r="8.0"/>
<circle class="B" cx="620.4" cy="798.0" r="6.0"/>
<circle class="B" cx="517.1" cy="505.3" r="8.0"/>
<circle class="B" cx="483.7" cy="508.3" r="8.0"/>
<circle class="B" cx="603.2" cy="854.0" r="6.0"/>
<circle class="B" cx="577.0" cy="888.7" r="4.0"/>
<circle class="B" cx="654.7" cy="708.0" r="6.0"/>
<circle class="B" cx="468.4" cy="681.5" r="14.0"/>
<circle class="B" cx="475.7" cy="799.8" r="5.0"/>
<circle class="B" cx="502.0" cy="723.2" r="9.0"/>
<circle class="B" cx="495.3" cy="620.1" r="8.0"/>
<circle class="B" cx="610.4" cy="646.8" r="6.0"/>
<circle class="B" cx="483.6" cy="510.6" r="8.0"/>
<circle class="B" cx="568.6" cy="804.5" r="7.0"/>
<circle class="B" cx="531.5" cy="738.5" r="8.0"/>
<circle class="B" cx="470.4" cy="733.8" r="11.0"/>
<circle class="B" cx="550.4" cy="583.6" r="8.0"/>
<circle class="B" cx="495.8" cy="532.2" r="9.0"/>
<circle class="B" cx="504.2" cy="652.9" r="6.0"/>
<circle class="B" cx="524.7" cy="490.7" r="10.0"/>
<circle class="B" cx="603.4" cy="536.0" r="11.0"/>
<circle class="B" cx="508.6" cy="617.0" r="9.0"/>
<circle class="B" cx="593.2" cy="501.1" r="6.0"/>
<circle class="B" cx="583.9" cy="803.8" r="4.0"/>
<circle class="B" cx="529.8" cy="655.3" r="9.0"/>
<circle class="B" cx="581.1" cy="808.3" r="7.0"/>
<circle class="B" cx="569.2" cy="473.0" r="4.0"/>
<circle class="B" cx="648.5" cy="704.8" r="11.0"/>
<circle class="B" cx="462.6" cy="722.6" r="8.0"/>
<circle class="B" cx="543.6" cy="558.7" r="14.0"/>
<circle class="B" cx="630.8" cy="766.2" r="7.0"/>
<circle class="B" cx="525.0" cy="877.0" r="5.0"/>
<circle class="B" cx="524.8" cy="496.5" r="7.0"/>
<circle class="B" cx="649.7" cy="703.2" r="5.0"/>
<circle class="B" cx="554.2" cy="639.2" r="8.0"/>
<circle class="B" cx="517.2" cy="699.6" r="5.0"/>
<circle class="B" cx="558.5" cy="554.9" r="10.0"/>
<circle class="B" cx="634.6" cy="843.8" r="3.0"/>
<circle class="B" cx="524.0" cy="828.4" r="12.0"/>
<circle class="B" cx="569.3" cy="685.8" r="7.0"/>
<circle class="B" cx="629.0" cy="729.1" r="4.0"/>
<circle class="B" cx="574.3" cy="840.8" r="5.0"/>
<circle class="B" cx="595.5" cy="510.6" r="10.0"/>
<circle class="B" cx="591.8" cy="582.7" r="5.0"/>
<circle class="B" cx="534.1" cy="737.7" r="7.0"/>
<circle class="B" cx="460.4" cy="793.5" r="4.0"/>
<circle class="B" cx="578.0" cy="693.9" r="11.0"/>
<circle class="B" cx="578.5" cy="852.7" r="3.0"/>
<circle class="B" cx="488.5" cy="791.8" r="5.0"/>
<circle class="B" cx="469.5" cy="776.3" r="6.0"/>
<circle class="B" cx="571.9" cy="702.2" r="5.0"/>
<circle class="B" cx="525.9" cy="706.5" r="4.0"/>
<circle class="B" cx="500.6" cy="494.2" r="12.0"/>
<circle class="B" cx="548.3" cy="481.4" r="6.0"/>
<circle class="B" cx="614.3" cy="634.1" r="10.0"/>
<circle class="B" cx="461.6" cy="704.2" r="4.0"/>
<circle class="B" cx="628.0" cy="736.2" r="12.0"/>
<circle class="B" cx="479.5" cy="763.5" r="9.0"/>
<circle class="B" cx="557.6" cy="707.1" r="11.0"/>
<circle class="B" cx="483.4" cy="570.3" r="6.0"/>
<circle class="B" cx="592.8" cy="850.4" r="3.0"/>
<circle class="B" cx="556.7" cy="616.3" r="9.0"/>
<circle class="B" cx="498.4" cy="613.7" r="8.0"/>
<circle class="B" cx="644.4" cy="831.8" r="5.0"/>
<circle class="B" cx="581.1" cy="800.6" r="8.0"/>
<circle class="B" cx="619.6" cy="798.2" r="9.0"/>
<circle class="B" cx="642.0" cy="700.1" r="12.0"/>
<circle class="B" cx="516.7" cy="684.7" r="8.0"/>
<circle class="B" cx="470.8" cy="605.9" r="7.0"/>
<circle class="B" cx="452.7" cy="727.2" r="8.0"/>
<circle class="B" cx="499.2" cy="705.3" r="7.0"/>
<circle class="B" cx="514.8" cy="545.3" r="6.0"/>
<circle class="B" cx="618.6" cy="745.3" r="14.0"/>
<circle class="B" cx="592.0" cy="554.7" r="6.0"/>
<circle class="B" cx="472.3" cy="842.5" r="4.0"/>
<circle class="B" cx="653.4" cy="719.6" r="5.0"/>
<circle class="B" cx="483.5" cy="859.3" r="6.0"/>
<circle class="B" cx="535.7" cy="677.5" r="6.0"/>
<circle class="B" cx="480.8" cy="641.3" r="4.0"/>
<circle class="B" cx="581.1" cy="600.7" r="8.0"/>
<circle class="B" cx="492.3" cy="814.9" r="7.0"/>
<circle class="B" cx="605.3" cy="864.2" r="4.0"/>
<circle class="B" cx="505.6" cy="792.4" r="12.0"/>
<circle class="B" cx="622.5" cy="667.5" r="8.0"/>
<circle class="B" cx="471.7" cy="820.1" r="6.0"/>
<circle class="B" cx="529.1" cy="804.6" r="6.0"/>
<circle class="B" cx="585.6" cy="500.7" r="9.0"/>
<circle class="B" cx="571.4" cy="478.5" r="7.0"/>
<circle class="B" cx="527.5" cy="540.0" r="10.0"/>
<circle class="B" cx="520.4" cy="567.7" r="14.0"/>
<circle class="B" cx="481.5" cy="764.5" r="6.0"/>
<circle class="B" cx="583.9" cy="728.8" r="4.0"/>
<circle class="B" cx="524.8" cy="710.1" r="10.0"/>
<circle class="B" cx="507.6" cy="828.7" r="10.0"/>
<circle class="B" cx="587.4" cy="694.3" r="9.0"/>
<circle class="B" cx="565.2" cy="882.6" r="3.0"/>
<circle class="B" cx="505.4" cy="524.6" r="7.0"/>
<circle class="B" cx="575.9" cy="882.6" r="6.0"/>
<circle class="B" cx="616.8" cy="827.9" r="11.0"/>
<circle class="B" cx="584.3" cy="677.2" r="4.0"/>
<circle class="B" cx="589.3" cy="743.4" r="8.0"/>
<circle class="B" cx="615.1" cy="676.3" r="9.0"/>
<circle class="B" cx="596.1" cy="762.4" r="8.0"/>
<circle class="B" cx="449.7" cy="709.0" r="6.0"/>
<circle class="B" cx="601.9" cy="558.9" r="7.0"/>
<circle class="B" cx="634.8" cy="688.9" r="12.0"/>
<circle class="B" cx="597.5" cy="639.1" r="9.0"/>
<circle class="B" cx="646.4" cy="714.7" r="5.0"/>
<circle class="B" cx="576.2" cy="841.0" r="5.0"/>
<circle class="B" cx="476.4" cy="671.2" r="11.0"/>
<circle class="B" cx="499.7" cy="607.6" r="9.0"/>
<circle class="B" cx="569.1" cy="827.5" r="4.0"/>
<circle class="B" cx="544.6" cy="679.6" r="10.0"/>
<circle class="B" cx="525.9" cy="629.9" r="5.0"/>
<circle class="B" cx="516.9" cy="753.5" r="8.0"/>
<circle class="B" cx="608.7" cy="659.7" r="9.0"/>
<circle class="B" cx="623.5" cy="765.6" r="10.0"/>
<circle class="B" cx="479.0" cy="869.8" r="4.0"/>
<circle class="B" cx="571.6" cy="561.0" r="6.0"/>
<circle class="B" cx="508.4" cy="681.4" r="8.0"/>
<circle class="B" cx="656.3" cy="777.5" r="14.0"/>
<circle class="B" cx="587.2" cy="767.1" r="6.0"/>
<circle class="B" cx="567.7" cy="525.1" r="11.0"/>
<circle class="B" cx="594.0" cy="838.3" r="3.0"/>
<circle class="B" cx="587.2" cy="479.0" r="12.0"/>
<circle class="B" cx="536.1" cy="893.3" r="4.0"/>
<circle class="B" cx="561.6" cy="479.8" r="10.0"/>
<circle class="B" cx="568.0" cy="617.3" r="14.0"/>
<circle class="B" cx="596.2" cy="811.6" r="8.0"/>
<circle class="B" cx="502.2" cy="519.7" r="6.0"/>
<circle class="B" cx="594.1" cy="720.7" r="11.0"/>
<circle class="B" cx="513.0" cy="835.8" r="3.0"/>
<circle class="B" cx="565.4" cy="489.0" r="11.0"/>
<circle class="B" cx="600.2" cy="772.5" r="11.0"/>
<circle class="B" cx="540.6" cy="515.5" r="6.0"/>
<circle class="B" cx="594.3" cy="832.6" r="5.0"/>
<circle class="B" cx="598.8" cy="560.6" r="14.0"/>
<circle class="B" cx="493.2" cy="656.7" r="7.0"/>
<circle class="B" cx="506.2" cy="651.3" r="6.0"/>
<circle class="B" cx="563.6" cy="884.5" r="5.0"/>
<circle class="B" cx="448.3" cy="749.1" r="8.0"/>
<circle class="B" cx="473.8" cy="680.3" r="14.0"/>
<circle class="B" cx="588.8" cy="562.3" r="5.0"/>
<circle class="B" cx="537.4" cy="662.2" r="5.0"/>
<circle class="B" cx="541.6" cy="809.9" r="14.0"/>
<circle class="B" cx="621.5" cy="655.3" r="8.0"/>
<circle class="B" cx="615.5" cy="728.0" r="8.0"/>
<circle class="B" cx="571.8" cy="767.6" r="8.0"/>
<circle class="B" cx="642.9" cy="757.2" r="8.0"/>
<circle class="B" cx="527.6" cy="683.4" r="10.0"/>
<circle class="B" cx="607.5" cy="850.5" r="3.0"/>
<circle class="B" cx="457.0" cy="738.8" r="12.0"/>
<circle class="B" cx="484.7" cy="602.6" r="8.0"/>
<circle class="B" cx="626.4" cy="709.7" r="14.0"/>
<circle class="B" cx="490.3" cy="806.3" r="8.0"/>
<circle class="B" cx="535.7" cy="784.9" r="5.0"/>
<circle class="B" cx="593.2" cy="594.4" r="11.0"/>
<circle class="B" cx="509.4" cy="519.0" r="9.0"/>
<circle class="B" cx="588.9" cy="769.1" r="7.0"/>
<circle class="B" cx="538.6" cy="750.1" r="6.0"/>
<circle class="B" cx="527.2" cy="873.5" r="6.0"/>
<circle class="B" cx="638.9" cy="832.7" r="5.0"/>
<circle class="B" cx="602.7" cy="582.5" r="14.0"/>
<circle class="B" cx="577.4" cy="486.7" r="7.0"/>
<circle class="B" cx="486.6" cy="499.7" r="11.0"/>
<circle class="B" cx="587.1" cy="694.7" r="5.0"/>
<circle class="B" cx="572.0" cy="698.6" r="8.0"/>
<circle class="B" cx="626.7" cy="818.3" r="5.0"/>
<circle class="B" cx="489.4" cy="529.9" r="10.0"/>
<circle class="B" cx="602.8" cy="545.5" r="4.0"/>
<circle class="B" cx="474.7" cy="744.8" r="8.0"/>
<circle class="B" cx="548.6" cy="503.1" r="7.0"/>
<circle class="B" cx="515.6" cy="817.9" r="10.0"/>
<circle class="B" cx="571.3" cy="573.1" r="6.0"/>
<circle class="B" cx="531.0" cy="818.6" r="12.0"/>
<circle class="B" cx="471.1" cy="628.6" r="6.0"/>
<circle class="B" cx="536.5" cy="701.5" r="8.0"/>
<circle class="B" cx="614.4" cy="784.5" r="8.0"/>
<circle class="B" cx="493.2" cy="527.0" r="9.0"/>
<circle class="B" cx="545.2" cy="620.7" r="6.0"/>
<circle class="B" cx="504.8" cy="631.2" r="6.0"/>
<circle class="B" cx="453.4" cy="710.1" r="4.0"/>
<circle class="B" cx="502.2" cy="551.7" r="9.0"/>
<circle class="B" cx="507.1" cy="535.4" r="8.0"/>
<circle class="B" cx="511.8" cy="855.4" r="5.0"/>
<circle class="B" cx="484.4" cy="641.3" r="11.0"/>
<circle class="B" cx="507.8" cy="854.4" r="5.0"/>
<circle class="B" cx="520.7" cy="657.4" r="6.0"/>
<circle class="B" cx="529.2" cy="707.5" r="5.0"/>
<circle class="B" cx="492.5" cy="681.0" r="5.0"/>
<circle class="B" cx="655.6" cy="744.0" r="6.0"/>
<circle class="B" cx="605.9" cy="661.2" r="10.0"/>
<circle class="B" cx="550.2" cy="615.2" r="8.0"/>
<circle class="B" cx="498.8" cy="846.5" r="5.0"/>
<circle class="B" cx="505.1" cy="670.1" r="8.0"/>
<circle class="B" cx="512.8" cy="691.4" r="4.0"/>
<circle class="B" cx="591.2" cy="614.4" r="8.0"/>
<circle class="B" cx="578.5" cy="579.2" r="10.0"/>
<circle class="B" cx="566.7" cy="581.6" r="7.0"/>
<circle class="B" cx="524.0" cy="590.8" r="11.0"/>
<circle class="B" cx="514.6" cy="795.3" r="4.0"/>
<circle class="B" cx="520.5" cy="502.4" r="8.0"/>
<circle class="B" cx="602.5" cy="770.3" r="8.0"/>
<circle class="B" cx="577.5" cy="536.2" r="10.0"/>
<circle class="B" cx="625.3" cy="722.3" r="4.0"/>
<circle class="B" cx="543.5" cy="563.3" r="6.0"/>
<circle class="B" cx="561.5" cy="737.6" r="6.0"/>
<circle class="B" cx="558.1" cy="881.4" r="4.0"/>
<circle class="B" cx="474.8" cy="617.4" r="14.0"/>
<circle class="B" cx="499.6" cy="669.1" r="6.0"/>
<circle class="B" cx="588.8" cy="662.9" r="4.0"/>
<circle class="B" cx="469.2" cy="852.6" r="5.0"/>
<circle class="B" cx="619.1" cy="658.2" r="10.0"/>
<circle class="B" cx="569.6" cy="838.6" r="5.0"/>
<circle class="B" cx="485.0" cy="660.2" r="6.0"/>
<circle class="B" cx="584.3" cy="622.1" r="8.0"/>
<circle class="B" cx="516.6" cy="700.1" r="14.0"/>
<circle class="B" cx="590.4" cy="702.6" r="8.0"/>
<circle class="B" cx="572.5" cy="760.0" r="8.0"/>
<circle class="B" cx="516.9" cy="490.6" r="4.0"/>
<circle class="B" cx="646.0" cy="752.5" r="11.0"/>
<circle class="B" cx="600.7" cy="869.7" r="4.0"/>
<circle class="B" cx="524.4" cy="829.5" r="11.0"/>
<circle class="B" cx="547.8" cy="693.1" r="4.0"/>
<circle class="B" cx="560.4" cy="603.9" r="6.0"/>
<circle class="B" cx="525.4" cy="739.7" r="11.0"/>
<circle class="B" cx="589.8" cy="725.7" r="6.0"/>
<circle class="B" cx="647.5" cy="812.5" r="14.0"/>
<circle class="B" cx="541.1" cy="792.7" r="11.0"/>
<circle class="B" cx="455.9" cy="721.0" r="11.0"/>
<circle class="B" cx="546.6" cy="632.6" r="6.0"/>
<circle class="B" cx="542.9" cy="854.9" r="5.0"/>
<circle class="B" cx="559.7" cy="498.0" r="7.0"/>
<circle class="B" cx="565.2" cy="760.4" r="4.0"/>
<circle class="B" cx="469.5" cy="807.9" r="7.0"/>
<circle class="B" cx="520.8" cy="531.9" r="10.0"/>
<circle class="B" cx="586.7" cy="828.8" r="5.0"/>
<circle class="B" cx="604.9" cy="804.8" r="8.0"/>
<circle class="B" cx="573.0" cy="484.8" r="7.0"/>
<circle class="B" cx="472.0" cy="797.3" r="8.0"/>
<circle class="B" cx="454.8" cy="781.5" r="5.0"/>
<circle class="B" cx="628.5" cy="662.7" r="7.0"/>
<circle class="B" cx="636.4" cy="678.7" r="4.0"/>
<circle class="B" cx="633.7" cy="751.1" r="6.0"/>
<circle class="B" cx="490.2" cy="835.2" r="3.0"/>
<circle class="B" cx="634.4" cy="744.1" r="11.0"/>
<circle class="B" cx="607.9" cy="810.3" r="4.0"/>
<circle class="B" cx="590.4" cy="643.6" r="6.0"/>
<circle class="B" cx="505.2" cy="753.8" r="11.0"/>
<circle class="B" cx="529.1" cy="572.5" r="7.0"/>
<circle class="B" cx="539.1" cy="572.9" r="7.0"/>
<circle class="B" cx="572.4" cy="766.8" r="6.0"/>
<circle class="B" cx="513.4" cy="757.0" r="4.0"/>
<circle class="B" cx="494.2" cy="852.6" r="5.0"/>
<circle class="B" cx="569.4" cy="690.0" r="11.0"/>
<circle class="B" cx="502.8" cy="491.4" r="10.0"/>
<circle class="B" cx="648.9" cy="748.9" r="11.0"/>
<circle class="B" cx="535.8" cy="695.9" r="6.0"/>
<circle class="B" cx="560.0" cy="518.1" r="6.0"/>
<circle class="B" cx="567.3" cy="624.7" r="8.0"/>
<circle class="B" cx="460.7" cy="794.3" r="8.0"/>
<circle class="B" cx="523.4" cy="541.9" r="8.0"/>
<circle class="B" cx="549.4" cy="761.5" r="6.0"/>
<circle class="B" cx="521.5" cy="494.6" r="14.0"/>
<circle class="B" cx="522.4" cy="485.8" r="6.0"/>
<circle class="B" cx="476.0" cy="845.8" r="5.0"/>
<circle class="B" cx="609.7" cy="566.6" r="14.0"/>
<circle class="B" cx="546.8" cy="495.9" r="8.0"/>
<circle class="B" cx="592.9" cy="679.5" r="4.0"/>
<circle class="B" cx="503.6" cy="582.4" r="8.0"/>
<circle class="B" cx="557.8" cy="861.9" r="6.0"/>
<circle class="B" cx="500.5" cy="765.7" r="6.0"/>
<circle class="B" cx="507.0" cy="830.7" r="4.0"/>
<circle class="B" cx="543.6" cy="762.4" r="4.0"/>
<circle class="B" cx="544.5" cy="585.9" r="7.0"/>
<circle class="B" cx="513.3" cy="809.7" r="9.0"/>
<circle class="B" cx="516.4" cy="565.5" r="8.0"/>
<circle class="B" cx="556.8" cy="771.8" r="4.0"/>
<circle class="B" cx="640.3" cy="813.0" r="9.0"/>
<circle class="B" cx="515.0" cy="861.6" r="5.0"/>
<circle class="B" cx="569.9" cy="833.8" r="4.0"/>
<circle class="B" cx="636.9" cy="788.0" r="12.0"/>
<circle class="B" cx="557.3" cy="511.1" r="11.0"/>
<circle class="B" cx="549.2" cy="648.6" r="12.0"/>
<circle class="B" cx="615.9" cy="790.5" r="7.0"/>
<circle class="B" cx="538.6" cy="830.3" r="4.0"/>
<circle class="B" cx="609.9" cy="563.6" r="8.0"/>
<circle class="B" cx="461.7" cy="719.2" r="6.0"/>
<circle class="B" cx="503.2" cy="610.0" r="8.0"/>
<circle class="B" cx="454.4" cy="686.7" r="4.0"/>
<circle class="B" cx="622.1" cy="715.0" r="7.0"/>
<circle class="B" cx="495.7" cy="533.0" r="14.0"/>
<circle class="B" cx="477.7" cy="759.1" r="4.0"/>
<circle class="B" cx="513.9" cy="742.6" r="7.0"/>
<circle class="B" cx="484.2" cy="664.9" r="12.0"/>
<circle class="B" cx="545.7" cy="868.7" r="3.0"/>
<circle class="B" cx="590.0" cy="697.5" r="12.0"/>
<circle class="B" cx="586.4" cy="794.5" r="11.0"/>
<circle class="B" cx="658.1" cy="733.4" r="8.0"/>
<circle class="B" cx="575.6" cy="720.9" r="12.0"/>
<circle class="B" cx="594.7" cy="525.1" r="7.0"/>
<circle class="B" cx="523.4" cy="597.9" r="11.0"/>
<circle class="B" cx="504.9" cy="771.8" r="8.0"/>
<circle class="B" cx="470.6" cy="659.2" r="5.0"/>
<circle class="B" cx="514.7" cy="506.3" r="14.0"/>
<circle class="B" cx="486.0" cy="676.8" r="12.0"/>
<circle class="B" cx="502.2" cy="801.3" r="6.0"/>
<circle class="B" cx="463.9" cy="778.0" r="10.0"/>
<circle class="B" cx="525.5" cy="703.2" r="8.0"/>
<circle class="B" cx="573.5" cy="831.8" r="4.0"/>
<circle class="B" cx="541.5" cy="670.6" r="8.0"/>
<circle class="B" cx="477.7" cy="747.2" r="9.0"/>
<circle class="B" cx="617.7" cy="702.7" r="9.0"/>
<circle class="B" cx="552.7" cy="684.7" r="12.0"/>
<circle class="B" cx="512.1" cy="849.7" r="5.0"/>
<circle class="B" cx="613.0" cy="783.6" r="6.0"/>
<circle class="B" cx="585.5" cy="493.9" r="9.0"/>
<circle class="B" cx="595.0" cy="810.9" r="12.0"/>
<circle class="B" cx="506.4" cy="860.1" r="5.0"/>
<circle class="B" cx="545.0" cy="610.5" r="12.0"/>
<circle class="B" cx="531.4" cy="808.9" r="7.0"/>
<circle class="B" cx="640.0" cy="837.1" r="4.0"/>
<circle class="B" cx="547.1" cy="505.7" r="7.0"/>
<circle class="B" cx="487.1" cy="700.7" r="5.0"/>
<circle class="B" cx="470.9" cy="807.4" r="8.0"/>
<circle class="B" cx="566.9" cy="528.2" r="8.0"/>
<circle class="B" cx="498.0" cy="753.1" r="6.0"/>
<circle class="B" cx="635.2" cy="738.4" r="8.0"/>
<circle class="B" cx="516.3" cy="674.1" r="14.0"/>
<circle class="B" cx="579.0" cy="633.2" r="8.0"/>
<circle class="B" cx="548.0" cy="892.0" r="6.0"/>
<circle class="B" cx="631.1" cy="706.8" r="7.0"/>
<circle class="B" cx="572.5" cy="664.8" r="7.0"/>
<circle class="B" cx="535.5" cy="843.3" r="5.0"/>
<circle class="B" cx="573.8" cy="846.3" r="4.0"/>
<circle class="B" cx="600.4" cy="698.9" r="6.0"/>
<circle class="B" cx="610.2" cy="609.4" r="6.0"/>
<circle class="B" cx="540.2" cy="565.0" r="9.0"/>
<circle class="B" cx="559.4" cy="641.2" r="14.0"/>
<circle class="B" cx="542.8" cy="881.4" r="4.0"/>
<circle class="B" cx="588.7" cy="521.4" r="4.0"/>
<circle class="B" cx="577.4" cy="835.4" r="4.0"/>
<circle class="B" cx="559.5" cy="822.9" r="4.0"/>
<circle class="B" cx="617.4" cy="849.3" r="5.0"/>
<circle class="B" cx="614.7" cy="630.4" r="9.0"/>
<circle class="B" cx="470.5" cy="705.4" r="11.0"/>
<circle class="B" cx="484.2" cy="616.3" r="12.0"/>
<circle class="B" cx="501.1" cy="567.7" r="6.0"/>
<circle class="B" cx="505.9" cy="516.8" r="7.0"/>
<circle class="B" cx="564.3" cy="547.2" r="4.0"/>
<circle class="B" cx="468.7" cy="809.4" r="5.0"/>
<circle class="B" cx="464.9" cy="783.4" r="9.0"/>
<circle class="B" cx="508.8" cy="686.6" r="7.0"/>
<circle class="B" cx="559.6" cy="690.6" r="8.0"/>
<circle class="B" cx="594.1" cy="744.7" r="6.0"/>
<circle class="B" cx="551.1" cy="499.2" r="5.0"/>
<circle class="B" cx="506.8" cy="682.7" r="5.0"/>
<circle class="B" cx="588.7" cy="589.8" r="8.0"/>
<circle class="B" cx="532.1" cy="813.9" r="5.0"/>
<circle class="B" cx="606.2" cy="518.1" r="6.0"/>
<circle class="B" cx="475.3" cy="588.7" r="12.0"/>
<circle class="B" cx="480.5" cy="518.8" r="11.0"/>
<circle class="B" cx="634.5" cy="826.4" r="6.0"/>
<circle class="B" cx="494.8" cy="777.5" r="12.0"/>
<circle class="B" cx="571.2" cy="804.8" r="11.0"/>
<circle class="B" cx="478.2" cy="831.2" r="3.0"/>
<circle class="B" cx="548.7" cy="648.2" r="4.0"/>
<circle class="B" cx="482.1" cy="811.2" r="4.0"/>
<circle class="B" cx="475.7" cy="613.1" r="7.0"/>
<circle class="B" cx="574.3" cy="494.2" r="6.0"/>
<circle class="B" cx="521.2" cy="500.4" r="12.0"/>
<circle class="B" cx="551.1" cy="857.3" r="4.0"/>
<circle class="B" cx="599.5" cy="777.4" r="5.0"/>
<circle class="B" cx="519.2" cy="805.0" r="9.0"/>
<circle class="B" cx="491.4" cy="692.8" r="9.0"/>
<circle class="B" cx="507.1" cy="841.7" r="5.0"/>
<circle class="B" cx="470.0" cy="720.3" r="5.0"/>
<circle class="B" cx="564.9" cy="684.6" r="10.0"/>
<circle class="B" cx="600.8" cy="570.0" r="8.0"/>
<circle class="B" cx="506.4" cy="541.7" r="14.0"/>
<circle class="B" cx="481.0" cy="871.3" r="4.0"/>
<circle class="B" cx="447.5" cy="770.1" r="14.0"/>
<circle class="B" cx="495.1" cy="626.9" r="6.0"/>
<circle class="B" cx="501.3" cy="587.9" r="8.0"/>
<circle class="B" cx="571.4" cy="499.6" r="9.0"/>
<circle class="B" cx="500.3" cy="717.3" r="14.0"/>
<circle class="B" cx="551.5" cy="514.6" r="12.0"/>
<circle class="B" cx="622.7" cy="641.1" r="4.0"/>
<circle class="B" cx="455.3" cy="682.0" r="4.0"/>
<circle class="B" cx="555.0" cy="555.6" r="8.0"/>
<circle class="B" cx="600.0" cy="839.4" r="5.0"/>
<circle class="B" cx="494.7" cy="852.4" r="4.0"/>
<circle class="B" cx="489.4" cy="676.5" r="7.0"/>
<circle class="B" cx="558.8" cy="826.2" r="12.0"/>
<circle class="B" cx="523.9" cy="675.5" r="11.0"/>
<circle class="B" cx="646.5" cy="775.0" r="12.0"/>
<circle class="B" cx="647.9" cy="768.8" r="12.0"/>
<circle class="B" cx="559.3" cy="881.5" r="3.0"/>
<circle class="B" cx="549.4" cy="584.3" r="14.0"/>
<circle class="B" cx="543.2" cy="725.4" r="10.0"/>
<circle class="B" cx="562.2" cy="657.3" r="12.0"/>
<circle class="B" cx="509.6" cy="789.5" r="10.0"/>
<circle class="B" cx="514.7" cy="573.2" r="8.0"/>
<circle class="B" cx="515.7" cy="588.9" r="6.0"/>
<circle class="B" cx="479.9" cy="559.9" r="8.0"/>
<circle class="B" cx="592.9" cy="663.8" r="4.0"/>
<circle class="B" cx="614.5" cy="667.3" r="6.0"/>
<circle class="B" cx="466.7" cy="673.0" r="5.0"/>
<circle class="B" cx="610.7" cy="691.0" r="4.0"/>
<circle class="B" cx="482.0" cy="594.5" r="4.0"/>
<circle class="B" cx="621.7" cy="641.2" r="9.0"/>
<circle class="B" cx="521.5" cy="878.7" r="4.0"/>
<circle class="B" cx="552.8" cy="576.6" r="12.0"/>
<circle class="B" cx="484.8" cy="677.8" r="14.0"/>
<circle class="B" cx="630.0" cy="790.2" r="9.0"/>
<circle class="B" cx="566.1" cy="783.4" r="14.0"/>
<circle class="B" cx="515.4" cy="883.9" r="3.0"/>
<circle class="B" cx="526.2" cy="831.5" r="6.0"/>
<circle class="B" cx="621.3" cy="648.8" r="8.0"/>
<circle class="B" cx="522.7" cy="575.9" r="14.0"/>
<circle class="B" cx="470.4" cy="623.4" r="6.0"/>
<circle class="B" cx="514.0" cy="887.5" r="5.0"/>
<circle class="B" cx="551.5" cy="652.9" r="4.0"/>
<circle class="B" cx="493.6" cy="827.4" r="6.0"/>
<circle class="B" cx="539.2" cy="484.4" r="14.0"/>
<circle class="B" cx="519.8" cy="816.7" r="8.0"/>
<circle class="B" cx="503.3" cy="811.9" r="6.0"/>
<circle class="B" cx="480.8" cy="538.3" r="4.0"/>
<circle class="B" cx="591.8" cy="501.7" r="5.0"/>
<circle class="B" cx="614.2" cy="854.0" r="4.0"/>
<circle class="B" cx="636.6" cy="853.1" r="3.0"/>
<circle class="B" cx="530.2" cy="742.0" r="8.0"/>
<circle class="B" cx="566.9" cy="523.6" r="8.0"/>
<circle class="B" cx="589.6" cy="787.4" r="4.0"/>
<circle class="B" cx="531.7" cy="527.9" r="7.0"/>
<circle class="B" cx="503.5" cy="491.6" r="8.0"/>
<circle class="B" cx="480.2" cy="526.7" r="5.0"/>
<circle class="B" cx="600.2" cy="792.1" r="5.0"/>
<circle class="B" cx="490.0" cy="554.7" r="12.0"/>
<circle class="B" cx="577.0" cy="718.6" r="6.0"/>
<circle class="B" cx="521.1" cy="607.6" r="8.0"/>
<circle class="B" cx="590.0" cy="885.4" r="4.0"/>
<circle class="B" cx="563.3" cy="625.5" r="7.0"/>
<circle class="B" cx="546.5" cy="791.6" r="12.0"/>
<circle class="B" cx="485.8" cy="866.9" r="6.0"/>
<circle class="B" cx="546.3" cy="797.1" r="14.0"/>
<circle class="B" cx="453.6" cy="698.7" r="6.0"/>
<circle class="B" cx="525.9" cy="735.7" r="14.0"/>
<circle class="B" cx="549.7" cy="669.6" r="4.0"/>
<circle class="B" cx="533.8" cy="850.6" r="4.0"/>
<circle class="B" cx="644.3" cy="796.2" r="9.0"/>
<circle class="B" cx="485.2" cy="720.5" r="11.0"/>
<circle class="B" cx="571.3" cy="721.9" r="14.0"/>
<circle class="B" cx="559.8" cy="639.5" r="11.0"/>
<circle class="B" cx="579.5" cy="851.7" r="3.0"/>
<circle class="B" cx="492.2" cy="815.4" r="12.0"/>
<circle class="B" cx="626.5" cy="688.6" r="7.0"/>
<circle class="B" cx="522.1" cy="816.0" r="6.0"/>
<circle class="B" cx="605.9" cy="749.9" r="8.0"/>
<circle class="B" cx="509.7" cy="714.4" r="12.0"/>
<circle class="B" cx="504.2" cy="739.9" r="9.0"/>
<circle class="B" cx="454.2" cy="752.1" r="4.0"/>
<circle class="B" cx="589.6" cy="723.6" r="9.0"/>
<circle class="B" cx="527.6" cy="799.6" r="6.0"/>
<circle class="B" cx="551.4" cy="524.8" r="7.0"/>
<circle class="B" cx="555.8" cy="662.5" r="8.0"/>
<circle class="B" cx="527.9" cy="653.7" r="14.0"/>
<circle class="B" cx="479.1" cy="751.2" r="14.0"/>
<circle class="B" cx="627.0" cy="643.2" r="5.0"/>
<circle class="B" cx="587.3" cy="765.1" r="9.0"/>
<circle class="B" cx="595.5" cy="787.7" r="11.0"/>
<circle class="B" cx="524.5" cy="566.2" r="11.0"/>
<circle class="B" cx="517.5" cy="688.2" r="14.0"/>
<circle class="B" cx="570.3" cy="823.0" r="6.0"/>
<circle class="B" cx="607.7" cy="844.1" r="6.0"/>
<circle class="B" cx="453.4" cy="779.9" r="4.0"/>
<circle class="B" cx="594.5" cy="686.4" r="5.0"/>
<circle class="B" cx="484.3" cy="852.6" r="5.0"/>
<circle class="B" cx="633.1" cy="847.0" r="3.0"/>
<circle class="B" cx="575.7" cy="790.3" r="6.0"/>
<circle class="B" cx="579.3" cy="619.7" r="8.0"/>
<circle class="B" cx="624.0" cy="785.5" r="6.0"/>
<circle class="B" cx="499.5" cy="744.8" r="7.0"/>
<circle class="B" cx="580.5" cy="799.4" r="6.0"/>
<circle class="B" cx="522.5" cy="633.4" r="8.0"/>
<circle class="B" cx="560.3" cy="715.7" r="6.0"/>
<circle class="B" cx="575.1" cy="791.0" r="11.0"/>
<circle class="B" cx="497.8" cy="780.9" r="6.0"/>
<circle class="B" cx="601.5" cy="710.3" r="4.0"/>
<circle class="B" cx="476.6" cy="743.4" r="6.0"/>
<circle class="B" cx="471.8" cy="716.4" r="8.0"/>
<circle class="B" cx="556.1" cy="828.0" r="7.0"/>
<circle class="B" cx="481.8" cy="642.2" r="8.0"/>
<circle class="B" cx="447.7" cy="765.2" r="10.0"/>
<circle class="B" cx="614.3" cy="834.4" r="5.0"/>
<circle class="B" cx="562.0" cy="878.1" r="5.0"/>
<circle class="B" cx="556.2" cy="668.2" r="6.0"/>
<circle class="B" cx="633.2" cy="804.3" r="6.0"/>
<circle class="B" cx="494.4" cy="591.2" r="10.0"/>
<circle class="B" cx="473.7" cy="703.3" r="11.0"/>
<circle class="B" cx="519.7" cy="523.2" r="6.0"/>
<circle class="B" cx="496.1" cy="779.0" r="6.0"/>
<circle class="B" cx="553.4" cy="864.4" r="3.0"/>
<circle class="B" cx="539.5" cy="674.3" r="11.0"/>
<circle class="B" cx="596.1" cy="594.2" r="6.0"/>
<circle class="B" cx="576.8" cy="761.1" r="9.0"/>
<circle class="B" cx="590.7" cy="620.3" r="9.0"/>
<circle class="B" cx="502.3" cy="689.0" r="4.0"/>
<circle class="B" cx="546.7" cy="806.8" r="8.0"/>
<circle class="B" cx="645.6" cy="762.0" r="4.0"/>
<circle class="B" cx="544.4" cy="723.2" r="6.0"/>
<circle class="B" cx="615.2" cy="677.6" r="10.0"/>
<circle class="B" cx="476.6" cy="696.2" r="6.0"/>
<circle class="B" cx="593.5" cy="861.8" r="3.0"/>
<circle class="B" cx="517.2" cy="740.3" r="4.0"/>
<circle class="B" cx="568.0" cy="499.0" r="9.0"/>
<circle class="B" cx="459.7" cy="697.2" r="8.0"/>
<circle class="B" cx="520.9" cy="480.8" r="14.0"/>
<circle class="B" cx="621.9" cy="652.9" r="10.0"/>
<circle class="B" cx="579.9" cy="520.5" r="5.0"/>
<circle class="B" cx="484.8" cy="811.8" r="7.0"/>
<circle class="B" cx="482.6" cy="655.1" r="12.0"/>
<circle class="B" cx="559.3" cy="771.4" r="6.0"/>
<circle class="B" cx="455.2" cy="835.6" r="4.0"/>
<circle class="B" cx="582.0" cy="608.7" r="12.0"/>
<circle class="B" cx="519.2" cy="883.7" r="6.0"/>
<circle class="B" cx="574.1" cy="802.9" r="7.0"/>
<circle class="B" cx="539.8" cy="777.9" r="6.0"/>
<circle class="B" cx="566.3" cy="874.5" r="3.0"/>
<circle class="B" cx="603.4" cy="703.2" r="5.0"/>
<circle class="B" cx="581.0" cy="539.0" r="12.0"/>
<circle class="B" cx="560.9" cy="557.0" r="8.0"/>
<circle class="B" cx="497.5" cy="566.5" r="8.0"/>
<circle class="B" cx="478.8" cy="818.5" r="6.0"/>
<circle class="B" cx="525.1" cy="788.7" r="12.0"/>
<circle class="B" cx="561.3" cy="827.5" r="12.0"/>
<circle class="B" cx="563.7" cy="888.6" r="4.0"/>
<circle class="B" cx="530.4" cy="516.2" r="5.0"/>
<circle class="B" cx="540.2" cy="592.8" r="5.0"/>
<circle class="B" cx="566.3" cy="575.0" r="12.0"/>
<circle class="B" cx="591.6" cy="665.7" r="4.0"/>
<circle class="B" cx="603.2" cy="717.4" r="5.0"/>
<circle class="B" cx="488.0" cy="507.0" r="9.0"/>
<circle class="B" cx="620.1" cy="637.8" r="14.0"/>
<circle class="B" cx="624.3" cy="678.1" r="14.0"/>
<circle class="B" cx="568.5" cy="855.6" r="5.0"/>
<circle class="B" cx="598.0" cy="787.1" r="14.0"/>
<circle class="B" cx="557.6" cy="812.9" r="8.0"/>
<circle class="B" cx="486.4" cy="585.3" r="7.0"/>
<circle class="B" cx="520.0" cy="713.5" r="6.0"/>
<circle class="B" cx="501.6" cy="765.9" r="6.0"/>
<circle class="B" cx="533.8" cy="539.0" r="5.0"/>
<circle class="B" cx="534.9" cy="477.2" r="5.0"/>
<circle class="B" cx="542.8" cy="617.4" r="10.0"/>
<circle class="B" cx="543.4" cy="789.1" r="8.0"/>
<circle class="B" cx="626.4" cy="708.5" r="14.0"/>
<circle class="B" cx="618.3" cy="654.8" r="11.0"/>
<circle class="B" cx="523.5" cy="618.7" r="6.0"/>
<circle class="B" cx="482.1" cy="817.8" r="7.0"/>
<circle class="B" cx="511.9" cy="862.3" r="5.0"/>
<circle class="B" cx="515.6" cy="878.3" r="5.0"/>
<circle class="B" cx="569.0" cy="516.3" r="11.0"/>
<circle class="B" cx="508.6" cy="579.5" r="5.0"/>
<circle class="B" cx="498.5" cy="614.9" r="5.0"/>
<circle class="B" cx="507.1" cy="797.8" r="5.0"/>
<circle class="B" cx="538.1" cy="768.4" r="8.0"/>
<circle class="B" cx="524.6" cy="556.8" r="7.0"/>
<circle class="B" cx="522.1" cy="582.0" r="9.0"/>
<circle class="B" cx="467.8" cy="646.3" r="7.0"/>
<circle class="B" cx="558.0" cy="641.3" r="6.0"/>
<circle class="B" cx="516.9" cy="788.0" r="8.0"/>
<circle class="B" cx="532.9" cy="698.5" r="4.0"/>
<circle class="B" cx="523.6" cy="705.7" r="10.0"/>
<circle class="B" cx="511.8" cy="736.7" r="9.0"/>
<circle class="B" cx="550.8" cy="873.0" r="4.0"/>
<circle class="B" cx="630.1" cy="742.2" r="14.0"/>
<circle class="B" cx="632.2" cy="854.9" r="4.0"/>
<circle class="B" cx="499.7" cy="666.8" r="14.0"/>
<circle class="B" cx="609.6" cy="568.9" r="4.0"/>
<circle class="B" cx="529.4" cy="498.6" r="6.0"/>
<circle class="B" cx="520.7" cy="840.2" r="3.0"/>
<circle class="B" cx="636.3" cy="797.6" r="8.0"/>
<circle class="B" cx="532.2" cy="674.5" r="8.0"/>
<circle class="B" cx="593.5" cy="662.3" r="11.0"/>
<circle class="B" cx="448.2" cy="763.7" r="11.0"/>
<circle class="B" cx="613.2" cy="677.8" r="12.0"/>
<circle class="B" cx="611.9" cy="832.5" r="6.0"/>
<circle class="B" cx="537.6" cy="587.2" r="7.0"/>
<circle class="B" cx="571.0" cy="654.5" r="7.0"/>
<circle class="B" cx="614.1" cy="822.2" r="12.0"/>
<circle class="B" cx="488.7" cy="603.1" r="7.0"/>
<circle class="B" cx="534.3" cy="474.9" r="10.0"/>
<circle class="B" cx="610.1" cy="706.4" r="9.0"/>
<circle class="B" cx="523.5" cy="640.1" r="7.0"/>
<circle class="B" cx="449.9" cy="703.6" r="6.0"/>
<circle class="B" cx="552.0" cy="581.8" r="8.0"/>
<circle class="B" cx="633.6" cy="721.6" r="9.0"/>
<circle class="B" cx="652.1" cy="703.9" r="10.0"/>
<circle class="B" cx="461.7" cy="660.3" r="10.0"/>
<circle class="B" cx="624.7" cy="713.0" r="4.0"/>
<circle class="B" cx="540.1" cy="859.0" r="3.0"/>
<circle class="B" cx="488.6" cy="784.9" r="6.0"/>
<circle class="B" cx="495.3" cy="718.1" r="8.0"/>
<circle class="B" cx="501.2" cy="808.9" r="5.0"/>
<circle class="B" cx="518.5" cy="801.8" r="11.0"/>
<circle class="B" cx="604.1" cy="641.6" r="10.0"/>
<circle class="B" cx="608.0" cy="586.2" r="4.0"/>
<circle class="B" cx="473.9" cy="720.4" r="6.0"/>
<circle class="B" cx="495.0" cy="530.7" r="6.0"/>
<circle class="B" cx="527.2" cy="813.1" r="10.0"/>
<circle class="B" cx="561.0" cy="561.4" r="6.0"/>
<circle class="B" cx="601.1" cy="496.9" r="8.0"/>
<circle class="B" cx="504.5" cy="740.8" r="6.0"/>
<circle class="B" cx="623.6" cy="752.5" r="12.0"/>
<circle class="B" cx="533.1" cy="832.4" r="5.0"/>
<circle class="B" cx="556.2" cy="741.1" r="6.0"/>
<circle class="B" cx="600.5" cy="586.0" r="11.0"/>
<circle class="B" cx="512.1" cy="835.5" r="5.0"/>
<circle class="B" cx="604.3" cy="662.5" r="12.0"/>
<circle class="B" cx="579.1" cy="750.8" r="8.0"/>
<circle class="B" cx="491.6" cy="837.6" r="6.0"/>
<circle class="B" cx="522.4" cy="636.3" r="8.0"/>
<circle class="B" cx="485.4" cy="690.0" r="14.0"/>
<circle class="B" cx="555.1" cy="695.3" r="9.0"/>
<circle class="B" cx="528.7" cy="746.0" r="11.0"/>
<circle class="B" cx="556.4" cy="758.2" r="7.0"/>
<circle class="B" cx="643.4" cy="723.8" r="8.0"/>
<circle class="B" cx="450.8" cy="768.0" r="5.0"/>
<circle class="B" cx="590.7" cy="593.5" r="12.0"/>
<circle class="B" cx="562.8" cy="505.0" r="9.0"/>
<circle class="B" cx="473.3" cy="775.7" r="10.0"/>
<circle class="B" cx="477.4" cy="868.6" r="5.0"/>
<circle class="B" cx="545.5" cy="644.3" r="4.0"/>
<circle class="B" cx="544.3" cy="846.6" r="4.0"/>
<circle class="B" cx="660.4" cy="758.8" r="5.0"/>
<circle class="B" cx="586.0" cy="701.3" r="12.0"/>
<circle class="B" cx="566.1" cy="812.2" r="14.0"/>
<circle class="B" cx="564.4" cy="778.6" r="5.0"/>
<circle class="B" cx="575.9" cy="889.1" r="4.0"/>
<circle class="B" cx="615.5" cy="675.6" r="14.0"/>
<circle class="B" cx="491.6" cy="537.3" r="11.0"/>
<circle class="B" cx="485.7" cy="742.6" r="11.0"/>
<circle class="B" cx="526.7" cy="785.6" r="8.0"/>
<circle class="B" cx="584.8" cy="799.5" r="14.0"/>
<circle class="B" cx="524.1" cy="676.8" r="4.0"/>
<circle class="B" cx="533.1" cy="683.8" r="8.0"/>
<circle class="B" cx="639.6" cy="767.0" r="9.0"/>
<circle class="B" cx="591.8" cy="809.5" r="5.0"/>
<circle class="B" cx="444.7" cy="772.9" r="6.0"/>
<circle class="B" cx="542.3" cy="665.9" r="8.0"/>
<circle class="B" cx="454.0" cy="754.2" r="14.0"/>
<circle class="B" cx="477.5" cy="746.8" r="8.0"/>
<circle class="B" cx="563.8" cy="695.4" r="8.0"/>
<circle class="B" cx="563.3" cy="597.8" r="5.0"/>
<circle class="B" cx="553.5" cy="824.9" r="12.0"/>
<circle class="B" cx="619.2" cy="655.1" r="8.0"/>
<circle class="B" cx="508.4" cy="663.0" r="12.0"/>
<circle class="B" cx="534.8" cy="510.7" r="6.0"/>
<circle class="B" cx="637.8" cy="703.0" r="9.0"/>
<circle class="B" cx="456.6" cy="676.2" r="11.0"/>
<circle class="B" cx="639.2" cy="749.5" r="9.0"/>
<circle class="B" cx="522.6" cy="817.3" r="7.0"/>
<circle class="B" cx="558.5" cy="561.4" r="5.0"/>
<circle class="B" cx="616.1" cy="795.1" r="8.0"/>
<circle class="B" cx="555.4" cy="790.0" r="14.0"/>
<circle class="B" cx="588.7" cy="846.3" r="6.0"/>
<circle class="B" cx="606.0" cy="722.4" r="8.0"/>
<circle class="B" cx="628.8" cy="783.1" r="10.0"/>
<circle class="B" cx="605.0" cy="712.1" r="8.0"/>
<circle class="B" cx="535.9" cy="653.1" r="10.0"/>
<circle class="B" cx="592.5" cy="622.0" r="7.0"/>
<circle class="B" cx="633.3" cy="861.0" r="6.0"/>
<circle class="B" cx="511.5" cy="830.2" r="3.0"/>
<circle class="B" cx="514.8" cy="585.5" r="14.0"/>
<circle class="B" cx="599.8" cy="708.8" r="4.0"/>
<circle class="B" cx="565.6" cy="839.6" r="6.0"/>
<circle class="B" cx="484.8" cy="566.2" r="8.0"/>
<circle class="B" cx="465.5" cy="853.0" r="4.0"/>
<circle class="B" cx="621.3" cy="794.1" r="10.0"/>
<circle class="B" cx="578.2" cy="721.7" r="9.0"/>
<circle class="B" cx="641.7" cy="834.3" r="4.0"/>
<circle class="B" cx="528.5" cy="765.4" r="5.0"/>
<circle class="B" cx="520.9" cy="667.3" r="6.0"/>
<circle class="B" cx="562.9" cy="585.9" r="11.0"/>
<circle class="B" cx="529.1" cy="626.7" r="4.0"/>
<circle class="B" cx="470.2" cy="771.3" r="10.0"/>
<circle class="B" cx="488.9" cy="640.8" r="5.0"/>
<circle class="B" cx="604.0" cy="565.8" r="9.0"/>
<circle class="B" cx="623.4" cy="796.8" r="8.0"/>
<circle class="B" cx="549.6" cy="661.2" r="9.0"/>
<circle class="B" cx="565.1" cy="478.5" r="5.0"/>
<circle class="B" cx="529.5" cy="789.6" r="10.0"/>
<circle class="B" cx="577.1" cy="521.7" r="6.0"/>
<circle class="B" cx="618.3" cy="756.5" r="8.0"/>
<circle class="B" cx="540.8" cy="868.9" r="5.0"/>
<circle class="B" cx="651.9" cy="719.3" r="7.0"/>
<circle class="B" cx="545.3" cy="850.0" r="3.0"/>
<circle class="B" cx="544.0" cy="762.7" r="14.0"/>
<circle class="B" cx="497.5" cy="822.5" r="8.0"/>
<circle class="B" cx="575.7" cy="588.5" r="9.0"/>
<circle class="B" cx="517.1" cy="746.0" r="14.0"/>
<circle class="B" cx="499.7" cy="734.4" r="6.0"/>
<circle class="B" cx="507.7" cy="680.8" r="11.0"/>
<circle class="B" cx="607.5" cy="737.2" r="8.0"/>
<circle class="B" cx="499.0" cy="821.7" r="12.0"/>
<circle class="B" cx="534.9" cy="786.2" r="11.0"/>
<circle class="B" cx="483.4" cy="726.1" r="8.0"/>
<circle class="B" cx="526.1" cy="832.6" r="6.0"/>
<circle class="B" cx="542.4" cy="524.1" r="5.0"/>
<circle class="B" cx="510.2" cy="602.3" r="6.0"/>
<circle class="B" cx="648.4" cy="702.1" r="12.0"/>
<circle class="B" cx="479.1" cy="703.9" r="5.0"/>
<circle class="B" cx="452.9" cy="738.8" r="11.0"/>
<circle class="B" cx="519.5" cy="767.5" r="6.0"/>
<circle class="B" cx="503.0" cy="686.7" r="10.0"/>
<circle class="B" cx="564.5" cy="688.3" r="9.0"/>
<circle class="B" cx="568.8" cy="585.4" r="8.0"/>
<circle class="B" cx="478.6" cy="521.3" r="6.0"/>
<circle class="B" cx="530.3" cy="758.2" r="9.0"/>
<circle class="B" cx="586.5" cy="803.4" r="9.0"/>
<circle class="B" cx="535.0" cy="597.2" r="11.0"/>
<circle class="B" cx="550.8" cy="631.4" r="6.0"/>
<circle class="B" cx="617.5" cy="842.8" r="5.0"/>
<circle class="B" cx="517.7" cy="789.0" r="9.0"/>
<circle class="B" cx="563.0" cy="532.4" r="4.0"/>
<circle class="B" cx="562.7" cy="551.4" r="5.0"/>
<circle class="B" cx="481.4" cy="688.4" r="10.0"/>
<circle class="B" cx="587.0" cy="734.3" r="5.0"/>
<circle class="B" cx="580.3" cy="786.1" r="10.0"/>
<circle class="B" cx="540.8" cy="471.5" r="11.0"/>
<circle class="B" cx="445.5" cy="767.1" r="11.0"/>
<circle class="B" cx="504.4" cy="777.5" r="7.0"/>
<circle class="B" cx="450.3" cy="759.6" r="7.0"/>
<circle class="B" cx="599.9" cy="514.8" r="7.0"/>
<circle class="B" cx="534.8" cy="668.7" r="7.0"/>
<circle class="B" cx="581.9" cy="680.0" r="7.0"/>
<circle class="B" cx="495.7" cy="840.1" r="5.0"/>
<circle class="B" cx="618.1" cy="692.8" r="12.0"/>
<circle class="B" cx="546.9" cy="516.3" r="10.0"/>
<circle class="B" cx="543.9" cy="510.9" r="6.0"/>
<circle class="B" cx="547.8" cy="693.9" r="5.0"/>
<circle class="B" cx="472.2" cy="692.8" r="9.0"/>
<circle class="B" cx="622.5" cy="778.6" r="11.0"/>
<circle class="B" cx="613.8" cy="724.5" r="6.0"/>
<circle class="B" cx="609.8" cy="664.2" r="8.0"/>
<circle class="B" cx="577.5" cy="654.6" r="10.0"/>
<circle class="B" cx="641.8" cy="762.9" r="4.0"/>
<circle class="B" cx="509.5" cy="852.8" r="4.0"/>
<circle class="B" cx="630.3" cy="768.6" r="11.0"/>
<circle class="B" cx="468.7" cy="864.5" r="4.0"/>
<circle class="B" cx="599.4" cy="616.3" r="10.0"/>
<circle class="B" cx="481.5" cy="859.3" r="6.0"/>
<circle class="B" cx="576.5" cy="596.0" r="14.0"/>
<circle class="B" cx="551.7" cy="533.6" r="11.0"/>
<circle class="B" cx="619.1" cy="846.7" r="4.0"/>
<circle class="B" cx="515.9" cy="481.4" r="6.0"/>
<circle class="B" cx="530.5" cy="570.9" r="4.0"/>
<circle class="B" cx="494.7" cy="532.1" r="10.0"/>
<circle class="B" cx="502.7" cy="756.5" r="12.0"/>
<circle class="B" cx="506.8" cy="762.3" r="12.0"/>
<circle class="B" cx="537.8" cy="583.7" r="8.0"/>
<circle class="B" cx="499.4" cy="831.8" r="4.0"/>
<circle class="B" cx="534.4" cy="819.1" r="9.0"/>
<circle class="B" cx="596.3" cy="696.3" r="7.0"/>
<circle class="B" cx="564.8" cy="691.7" r="6.0"/>
<circle class="B" cx="657.1" cy="744.3" r="6.0"/>
<circle class="B" cx="486.2" cy="775.1" r="7.0"/>
<circle class="B" cx="542.1" cy="581.3" r="8.0"/>
<circle class="B" cx="573.0" cy="718.1" r="10.0"/>
<circle class="B" cx="494.1" cy="600.4" r="6.0"/>
<circle class="B" cx="568.2" cy="505.4" r="6.0"/>
<circle class="B" cx="523.0" cy="876.7" r="5.0"/>
<circle class="B" cx="597.1" cy="845.5" r="5.0"/>
<circle class="B" cx="560.2" cy="637.1" r="11.0"/>
<circle class="B" cx="581.5" cy="561.4" r="7.0"/>
<circle class="B" cx="474.6" cy="757.0" r="7.0"/>
<circle class="B" cx="599.4" cy="841.0" r="4.0"/>
<circle class="B" cx="573.7" cy="474.1" r="8.0"/>
<circle class="B" cx="644.1" cy="742.3" r="8.0"/>
<circle class="B" cx="575.4" cy="736.1" r="14.0"/>
<circle class="B" cx="518.0" cy="836.7" r="4.0"/>
<circle class="B" cx="604.4" cy="711.9" r="8.0"/>
<circle class="B" cx="494.0" cy="645.9" r="6.0"/>
<circle class="B" cx="486.6" cy="522.1" r="9.0"/>
<circle class="B" cx="533.8" cy="566.8" r="12.0"/>
<circle class="B" cx="569.5" cy="893.7" r="4.0"/>
<circle class="B" cx="649.8" cy="733.0" r="11.0"/>
<circle class="B" cx="531.3" cy="773.0" r="9.0"/>
<circle class="B" cx="606.5" cy="761.4" r="5.0"/>
<circle class="B" cx="649.1" cy="780.5" r="11.0"/>
<circle class="B" cx="626.1" cy="865.3" r="4.0"/>
<circle class="B" cx="535.8" cy="580.7" r="10.0"/>
<circle class="B" cx="613.5" cy="703.7" r="7.0"/>
<circle class="B" cx="476.9" cy="680.4" r="9.0"/>
<circle class="B" cx="597.2" cy="487.2" r="9.0"/>
<circle class="B" cx="472.5" cy="583.4" r="9.0"/>
<circle class="B" cx="514.9" cy="670.3" r="5.0"/>
<circle class="B" cx="522.1" cy="743.6" r="9.0"/>
<circle class="B" cx="578.6" cy="583.1" r="14.0"/>
<circle class="B" cx="550.9" cy="801.3" r="12.0"/>
<circle class="B" cx="499.0" cy="722.0" r="8.0"/>
<circle class="B" cx="481.4" cy="762.3" r="10.0"/>
<circle class="B" cx="460.0" cy="695.0" r="6.0"/>
<circle class="B" cx="485.0" cy="757.2" r="12.0"/>
<circle class="B" cx="486.7" cy="838.8" r="4.0"/>
<circle class="B" cx="540.7" cy="566.6" r="9.0"/>
<circle class="B" cx="492.6" cy="775.8" r="14.0"/>
<circle class="B" cx="619.7" cy="788.7" r="8.0"/>
<circle class="B" cx="567.0" cy="840.6" r="4.0"/>
<circle class="B" cx="518.9" cy="813.0" r="9.0"/>
<circle class="B" cx="473.6" cy="742.4" r="8.0"/>
<circle class="B" cx="542.6" cy="563.4" r="7.0"/>
<circle class="B" cx="589.4" cy="705.2" r="12.0"/>
<circle class="B" cx="583.0" cy="782.3" r="5.0"/>
<circle class="B" cx="552.6" cy="659.0" r="14.0"/>
<circle class="B" cx="619.2" cy="848.5" r="5.0"/>
<circle class="B" cx="522.9" cy="585.0" r="6.0"/>
<circle class="B" cx="493.0" cy="588.3" r="7.0"/>
<circle class="B" cx="538.9" cy="604.5" r="9.0"/>
<circle class="B" cx="586.6" cy="653.9" r="5.0"/>
<circle class="B" cx="523.5" cy="725.5" r="4.0"/>
<circle class="B" cx="489.5" cy="704.6" r="6.0"/>
<circle class="B" cx="613.4" cy="634.8" r="9.0"/>
<circle class="B" cx="475.3" cy="637.1" r="14.0"/>
<circle class="B" cx="524.7" cy="652.7" r="5.0"/>
<circle class="B" cx="471.2" cy="735.9" r="7.0"/>
<circle class="B" cx="467.4" cy="666.3" r="6.0"/>
<circle class="B" cx="584.2" cy="718.0" r="10.0"/>
<circle class="B" cx="596.1" cy="720.5" r="9.0"/>
<circle class="B" cx="490.7" cy="543.4" r="6.0"/>
<circle class="B" cx="487.5" cy="576.4" r="6.0"/>
<circle class="B" cx="605.5" cy="537.6" r="7.0"/>
<circle class="B" cx="517.5" cy="798.4" r="10.0"/>
<circle class="B" cx="546.3" cy="550.7" r="6.0"/>
<circle class="B" cx="494.1" cy="616.0" r="11.0"/>
<circle class="B" cx="479.6" cy="596.8" r="8.0"/>
<circle class="B" cx="471.9" cy="802.3" r="9.0"/>
<circle class="B" cx="536.3" cy="616.5" r="6.0"/>
<circle class="B" cx="566.9" cy="535.1" r="10.0"/>
<circle class="B" cx="628.8" cy="766.9" r="4.0"/>
<circle class="B" cx="501.2" cy="548.3" r="8.0"/>
<circle class="B" cx="587.0" cy="873.7" r="3.0"/>
<circle class="B" cx="561.1" cy="525.6" r="14.0"/>
<circle class="B" cx="608.1" cy="605.9" r="6.0"/>
<circle class="B" cx="619.7" cy="675.6" r="7.0"/>
<circle class="B" cx="636.0" cy="831.5" r="5.0"/>
<circle class="B" cx="515.5" cy="536.9" r="8.0"/>
<circle class="B" cx="453.7" cy="805.4" r="11.0"/>
<circle class="B" cx="623.3" cy="854.6" r="6.0"/>
<circle class="B" cx="538.5" cy="877.4" r="3.0"/>
<circle class="B" cx="563.6" cy="701.3" r="8.0"/>
<circle class="B" cx="460.1" cy="662.1" r="14.0"/>
<circle class="B" cx="628.7" cy="751.7" r="8.0"/>
<circle class="B" cx="608.9" cy="754.2" r="8.0"/>
<circle class="B" cx="504.2" cy="799.8" r="11.0"/>
<circle class="B" cx="482.3" cy="707.0" r="12.0"/>
<circle class="B" cx="515.9" cy="769.9" r="8.0"/>
<circle class="B" cx="586.0" cy="492.0" r="12.0"/>
<circle class="B" cx="502.3" cy="670.4" r="7.0"/>
<circle class="B" cx="623.5" cy="718.8" r="14.0"/>
<circle class="B" cx="575.0" cy="480.6" r="9.0"/>
<circle class="B" cx="624.9" cy="715.7" r="7.0"/>
<circle class="B" cx="512.1" cy="752.5" r="9.0"/>
<circle class="B" cx="462.9" cy="711.0" r="11.0"/>
<circle class="B" cx="534.7" cy="805.7" r="10.0"/>
<circle class="B" cx="606.5" cy="787.5" r="4.0"/>
<circle class="B" cx="557.1" cy="630.3" r="6.0"/>
<circle class="B" cx="617.4" cy="864.0" r="5.0"/>
<circle class="B" cx="591.7" cy="873.4" r="3.0"/>
<circle class="B" cx="622.6" cy="763.7" r="12.0"/>
<circle class="B" cx="610.2" cy="684.1" r="10.0"/>
<circle class="B" cx="490.3" cy="653.4" r="7.0"/>
<circle class="B" cx="603.5" cy="757.0" r="7.0"/>
<circle class="B" cx="577.1" cy="616.0" r="12.0"/>
<circle class="B" cx="455.9" cy="737.0" r="5.0"/>
<circle class="B" cx="495.2" cy="612.1" r="8.0"/>
<circle class="B" cx="604.2" cy="487.6" r="8.0"/>
<circle class="B" cx="503.2" cy="681.5" r="14.0"/>
<circle class="B" cx="601.3" cy="778.3" r="8.0"/>
<circle class="B" cx="520.5" cy="866.4" r="4.0"/>
<circle class="B" cx="617.1" cy="792.2" r="10.0"/>
<circle class="B" cx="583.1" cy="883.9" r="4.0"/>
<circle class="B" cx="539.5" cy="840.7" r="3.0"/>
<circle class="B" cx="507.6" cy="552.0" r="14.0"/>
<circle class="b" cx="545.1" cy="899.1" r="4.5"/>
<circle class="b" cx="610.4" cy="904.1" r="3.5"/>
<circle class="b" cx="629.9" cy="898.5" r="5.0"/>
<circle class="b" cx="588.7" cy="901.7" r="3.5"/>
<circle class="b" cx="486.9" cy="901.6" r="3.0"/>
<circle class="b" cx="580.7" cy="895.9" r="5.0"/>
<circle class="b" cx="641.2" cy="882.8" r="5.0"/>
<circle class="b" cx="588.2" cy="896.8" r="5.0"/>
<circle class="b" cx="569.5" cy="903.4" r="3.5"/>
<circle class="b" cx="622.2" cy="889.7" r="3.5"/>
<circle class="b" cx="578.9" cy="918.7" r="5.0"/>
<circle class="b" cx="615.5" cy="887.4" r="4.5"/>
<circle class="b" cx="621.2" cy="894.9" r="3.5"/>
<circle class="b" cx="610.7" cy="913.7" r="5.0"/>
<circle class="b" cx="630.4" cy="881.2" r="3.0"/>
<circle class="b" cx="512.5" cy="916.3" r="4.0"/>
<circle class="b" cx="553.1" cy="892.4" r="5.0"/>
<circle class="b" cx="576.9" cy="890.1" r="5.0"/>
<circle class="b" cx="517.0" cy="906.0" r="5.0"/>
<circle class="b" cx="631.6" cy="881.3" r="5.0"/>
<circle class="b" cx="557.1" cy="890.7" r="3.5"/>
<circle class="b" cx="605.8" cy="888.3" r="3.0"/>
<circle class="b" cx="519.3" cy="888.8" r="5.0"/>
<circle class="b" cx="584.0" cy="903.2" r="3.5"/>
<circle class="b" cx="647.0" cy="890.0" r="5.0"/>
<circle class="b" cx="538.1" cy="894.9" r="4.5"/>
<circle class="b" cx="535.8" cy="929.2" r="5.0"/>
<circle class="b" cx="544.0" cy="891.7" r="4.5"/>
<circle class="b" cx="615.1" cy="906.2" r="3.0"/>
<circle class="b" cx="625.2" cy="890.3" r="3.0"/>
<circle class="b" cx="515.1" cy="906.4" r="5.0"/>
<circle class="b" cx="542.3" cy="895.7" r="4.0"/>
<circle class="b" cx="506.6" cy="880.8" r="3.0"/>
<circle class="b" cx="545.1" cy="932.0" r="3.5"/>
<circle class="b" cx="489.2" cy="885.1" r="5.0"/>
<circle class="b" cx="592.8" cy="889.5" r="4.5"/>
<circle class="b" cx="514.5" cy="901.6" r="4.5"/>
<circle class="b" cx="593.3" cy="901.6" r="3.5"/>
<circle class="b" cx="569.8" cy="898.6" r="3.0"/>
<circle class="b" cx="585.4" cy="904.1" r="4.0"/>
<circle class="b" cx="632.8" cy="881.0" r="3.5"/>
<circle class="b" cx="563.1" cy="902.7" r="4.5"/>
<circle class="b" cx="618.4" cy="894.1" r="3.5"/>
<circle class="b" cx="587.7" cy="896.2" r="5.0"/>
<circle class="b" cx="619.3" cy="896.6" r="4.5"/>
<circle class="b" cx="619.5" cy="888.7" r="5.0"/>
<circle class="b" cx="534.2" cy="896.6" r="5.0"/>
<circle class="b" cx="588.0" cy="887.8" r="3.0"/>
<circle class="b" cx="516.4" cy="895.4" r="4.5"/>
<circle class="b" cx="566.4" cy="887.2" r="3.0"/>
<circle class="b" cx="571.1" cy="892.0" r="3.5"/>
<circle class="b" cx="632.1" cy="892.7" r="4.5"/>
<circle class="b" cx="528.6" cy="896.9" r="3.0"/>
<circle class="b" cx="531.4" cy="886.7" r="4.0"/>
<circle class="b" cx="531.3" cy="903.3" r="5.0"/>
<circle class="b" cx="519.8" cy="888.8" r="4.0"/>
<circle class="b" cx="547.4" cy="893.1" r="4.5"/>
<circle class="b" cx="513.5" cy="895.5" r="5.0"/>
<circle class="b" cx="640.0" cy="898.0" r="5.0"/>
<circle class="b" cx="591.8" cy="895.6" r="4.0"/>
<circle class="b" cx="520.1" cy="910.0" r="3.0"/>
<circle class="b" cx="505.3" cy="884.0" r="3.0"/>
<circle class="b" cx="630.9" cy="880.1" r="5.0"/>
<circle class="b" cx="527.7" cy="907.4" r="5.0"/>
<circle class="b" cx="590.9" cy="895.7" r="4.0"/>
<circle class="b" cx="540.1" cy="914.6" r="5.0"/>
<circle class="b" cx="563.0" cy="910.8" r="3.5"/>
<circle class="b" cx="519.4" cy="920.4" r="3.5"/>
<circle class="b" cx="521.0" cy="916.4" r="3.0"/>
<circle class="b" cx="517.8" cy="917.9" r="5.0"/>
<circle class="b" cx="595.1" cy="927.7" r="3.5"/>
<circle class="b" cx="600.5" cy="930.4" r="4.0"/>
<circle class="b" cx="506.3" cy="908.4" r="3.0"/>
<circle class="b" cx="518.5" cy="913.3" r="3.5"/>
<circle class="b" cx="619.7" cy="921.0" r="3.5"/>
<circle class="b" cx="622.8" cy="931.5" r="3.0"/>
<circle class="b" cx="527.7" cy="936.7" r="3.0"/>
<circle class="b" cx="594.5" cy="915.4" r="4.0"/>
<circle class="b" cx="542.4" cy="912.9" r="3.0"/>
<circle class="b" cx="511.9" cy="919.5" r="3.0"/>
<circle class="b" cx="517.2" cy="1013.8" r="3.0"/>
<circle class="b" cx="531.4" cy="1013.8" r="3.5"/>
<circle class="b" cx="558.3" cy="1013.8" r="2.5"/>
<circle class="b" cx="570.9" cy="1013.8" r="3.0"/>
<circle class="b" cx="597.1" cy="1013.8" r="3.5"/>
<circle class="b" cx="540.0" cy="1013.8" r="3.5"/>
<circle class="b" cx="504.8" cy="1013.8" r="3.0"/>
<circle class="y" cx="462.0" cy="1013.8" r="3.0"/>
<circle class="y" cx="467.0" cy="1013.8" r="3.0"/>
<circle class="y" cx="587.0" cy="1013.8" r="3.0"/>
<circle class="y" cx="470.0" cy="1013.8" r="3.0"/>
<circle class="b" cx="554.0" cy="467.3" r="5.0"/>
<circle class="b" cx="569.3" cy="420.6" r="7.0"/>
<circle class="b" cx="542.8" cy="477.6" r="7.0"/>
<circle class="b" cx="568.7" cy="448.3" r="6.0"/>
<circle class="b" cx="519.2" cy="474.7" r="4.0"/>
<circle class="b" cx="520.9" cy="458.9" r="8.0"/>
<circle class="b" cx="535.7" cy="465.5" r="7.0"/>
<circle class="b" cx="558.3" cy="457.9" r="4.0"/>
<circle class="b" cx="575.2" cy="441.3" r="5.0"/>
<circle class="b" cx="538.2" cy="422.9" r="8.0"/>
<circle class="b" cx="546.5" cy="459.3" r="5.0"/>
<circle class="b" cx="562.3" cy="422.5" r="6.0"/>
<circle class="b" cx="552.2" cy="421.0" r="7.0"/>
<circle class="b" cx="531.3" cy="454.4" r="5.0"/>
<circle class="b" cx="566.5" cy="427.5" r="4.0"/>
<circle class="b" cx="572.2" cy="420.1" r="5.0"/>
<circle class="b" cx="536.5" cy="442.8" r="5.0"/>
<circle class="b" cx="528.7" cy="453.3" r="6.0"/>
<circle class="b" cx="565.3" cy="471.0" r="5.0"/>
<circle class="b" cx="549.2" cy="449.3" r="4.0"/>
<circle class="b" cx="573.5" cy="448.3" r="4.0"/>
<circle class="b" cx="533.7" cy="431.1" r="5.0"/>
<circle class="b" cx="576.1" cy="470.8" r="4.0"/>
<circle class="b" cx="530.2" cy="426.6" r="7.0"/>
<circle class="b" cx="531.6" cy="465.8" r="5.0"/>
<circle class="b" cx="558.8" cy="471.0" r="6.0"/>
<circle class="b" cx="559.9" cy="446.5" r="5.0"/>
<circle class="b" cx="588.8" cy="427.6" r="5.0"/>
<circle class="b" cx="574.7" cy="470.0" r="4.0"/>
<circle class="b" cx="559.5" cy="454.3" r="6.0"/>
<circle class="b" cx="551.0" cy="463.1" r="4.0"/>
<circle class="b" cx="590.8" cy="427.3" r="4.0"/>
<circle class="b" cx="526.9" cy="437.1" r="6.0"/>
<circle class="b" cx="524.2" cy="453.1" r="5.0"/>
<circle class="b" cx="542.0" cy="464.1" r="7.0"/>
<circle class="b" cx="569.7" cy="464.9" r="8.0"/>
<circle class="b" cx="569.3" cy="447.0" r="7.0"/>
<circle class="b" cx="515.6" cy="435.4" r="5.0"/>
<circle class="b" cx="556.5" cy="468.6" r="5.0"/>
<circle class="b" cx="535.8" cy="432.2" r="5.0"/>
<circle class="b" cx="543.7" cy="441.2" r="6.0"/>
<circle class="b" cx="572.8" cy="424.3" r="5.0"/>
<circle class="b" cx="540.5" cy="463.1" r="5.0"/>
<circle class="b" cx="541.7" cy="445.0" r="8.0"/>
<circle class="b" cx="567.7" cy="457.1" r="6.0"/>
<circle class="b" cx="573.5" cy="453.4" r="5.0"/>
<circle class="b" cx="545.9" cy="451.9" r="5.0"/>
<circle class="b" cx="564.3" cy="454.2" r="4.0"/>
<circle class="b" cx="507.6" cy="470.1" r="7.0"/>
<circle class="b" cx="551.9" cy="445.5" r="5.0"/>
<circle class="b" cx="542.5" cy="451.2" r="4.0"/>
<circle class="b" cx="546.9" cy="430.6" r="8.0"/>
<circle class="b" cx="541.2" cy="434.8" r="4.0"/>
<circle class="b" cx="517.2" cy="464.5" r="8.0"/>
<circle class="b" cx="565.7" cy="445.7" r="8.0"/>
<circle class="b" cx="537.3" cy="450.2" r="5.0"/>
<circle class="b" cx="545.0" cy="465.9" r="7.0"/>
<circle class="b" cx="553.7" cy="439.5" r="5.0"/>
<circle class="b" cx="573.9" cy="427.5" r="6.0"/>
<circle class="b" cx="546.3" cy="474.2" r="8.0"/>
<circle class="b" cx="563.5" cy="432.9" r="5.0"/>
<circle class="b" cx="572.9" cy="460.0" r="7.0"/>
<circle class="b" cx="551.5" cy="435.7" r="6.0"/>
<circle class="b" cx="557.5" cy="430.0" r="5.0"/>
<circle class="b" cx="491.0" cy="461.8" r="5.0"/>
<circle class="b" cx="513.6" cy="429.0" r="8.0"/>
<circle class="b" cx="508.5" cy="463.2" r="7.0"/>
<circle class="b" cx="526.5" cy="420.9" r="7.0"/>
<circle class="b" cx="567.4" cy="477.3" r="6.0"/>
<circle class="b" cx="531.8" cy="459.5" r="5.0"/>
<circle class="b" cx="608.7" cy="481.3" r="5.0"/>
<circle class="b" cx="611.2" cy="487.6" r="9.0"/>
<circle class="b" cx="598.9" cy="490.3" r="5.0"/>
<circle class="b" cx="592.5" cy="488.4" r="7.0"/>
<circle class="b" cx="605.3" cy="472.0" r="6.0"/>
<circle class="b" cx="608.8" cy="485.1" r="8.0"/>
<circle class="b" cx="610.8" cy="476.0" r="6.0"/>
<circle class="b" cx="595.9" cy="497.3" r="7.0"/>
<circle class="b" cx="594.4" cy="476.4" r="6.0"/>
<circle class="b" cx="596.1" cy="497.8" r="6.0"/>
<circle class="b" cx="581.5" cy="482.1" r="9.0"/>
<circle class="b" cx="604.0" cy="498.7" r="5.0"/>
<circle class="b" cx="611.7" cy="457.2" r="6.0"/>
<circle class="b" cx="603.4" cy="458.1" r="6.0"/>
<circle class="b" cx="596.0" cy="468.9" r="6.0"/>
<circle class="b" cx="591.9" cy="494.1" r="8.0"/>
<circle class="b" cx="597.1" cy="460.9" r="6.0"/>
<circle class="b" cx="599.1" cy="499.7" r="6.0"/>
<circle class="b" cx="587.7" cy="498.2" r="8.0"/>
<circle class="b" cx="613.7" cy="463.5" r="8.0"/>
<circle class="b" cx="593.9" cy="488.4" r="5.0"/>
<circle class="b" cx="588.7" cy="488.8" r="6.0"/>
<circle class="b" cx="588.5" cy="483.1" r="8.0"/>
<circle class="b" cx="569.0" cy="480.3" r="5.0"/>
<circle class="b" cx="596.8" cy="465.5" r="7.0"/>
<circle class="b" cx="624.3" cy="370.8" r="6.3"/>
<circle class="b" cx="517.6" cy="383.6" r="4.9"/>
<circle class="b" cx="541.3" cy="379.7" r="5.3"/>
<circle class="b" cx="538.3" cy="389.6" r="7.5"/>
<circle class="b" cx="550.2" cy="392.5" r="4.3"/>
<circle class="b" cx="539.3" cy="398.5" r="6.9"/>
<circle class="b" cx="594.6" cy="384.6" r="7.9"/>
<circle class="b" cx="603.5" cy="393.5" r="5.9"/>
<circle class="b" cx="599.6" cy="397.5" r="5.5"/>
<circle class="b" cx="603.1" cy="404.4" r="5.5"/>
<circle class="b" cx="585.7" cy="404.4" r="5.9"/>
<circle class="b" cx="575.5" cy="409.3" r="4.3"/>
<circle class="b" cx="553.1" cy="404.4" r="4.9"/>
<circle class="b" cx="565.0" cy="400.4" r="5.5"/>
<circle class="b" cx="553.1" cy="414.3" r="4.9"/>
<circle class="b" cx="437.5" cy="406.4" r="6.5"/>
<circle class="b" cx="457.3" cy="423.2" r="4.0"/>
<circle class="b" cx="478.0" cy="432.6" r="4.9"/>
<circle class="b" cx="501.2" cy="443.9" r="5.9"/>
<circle class="b" cx="580.8" cy="428.7" r="5.3"/>
<circle class="b" cx="441.5" cy="468.6" r="15.4"/>
<circle class="b" cx="442.5" cy="486.4" r="15.8"/>
<circle class="b" cx="441.5" cy="504.2" r="13.8"/>
<circle class="b" cx="439.5" cy="520.0" r="10.9"/>
<circle class="b" cx="439.5" cy="532.8" r="10.9"/>
<circle class="b" cx="402.0" cy="468.6" r="5.9"/>
<circle class="b" cx="410.9" cy="514.0" r="4.0"/>
<circle class="b" cx="607.5" cy="453.8" r="7.9"/>
<circle class="b" cx="597.6" cy="474.5" r="14.8"/>
<circle class="b" cx="606.5" cy="465.6" r="8.9"/>
<circle class="b" cx="625.3" cy="473.0" r="3.6"/>
<circle class="b" cx="622.3" cy="486.8" r="4.0"/>
<circle class="b" cx="666.0" cy="645.0" r="19.0"/>
<circle class="b" cx="414.0" cy="571.0" r="5.0"/>
<circle class="b" cx="420.0" cy="595.0" r="5.0"/>
<circle class="b" cx="625.0" cy="582.0" r="14.0"/>
<circle class="b" cx="657.0" cy="628.0" r="8.0"/>
<circle class="b" cx="645.0" cy="620.0" r="7.0"/>
<circle class="b" cx="650.0" cy="603.0" r="6.0"/>
<circle class="b" cx="672.0" cy="597.0" r="5.0"/>
<circle class="b" cx="665.0" cy="688.0" r="7.0"/>
<circle class="b" cx="668.0" cy="670.0" r="6.0"/>
<circle class="b" cx="690.0" cy="787.0" r="6.0"/>
<circle class="b" cx="586.0" cy="944.0" r="6.0"/>
<circle class="b" cx="578.0" cy="928.0" r="4.0"/>
<circle class="b" cx="530.0" cy="918.0" r="4.0"/>
<circle class="b" cx="620.0" cy="935.0" r="4.0"/>
<circle class="b" cx="458.0" cy="930.0" r="4.0"/>
<circle class="b" cx="722.0" cy="880.0" r="5.0"/>
<circle class="m" cx="553.1" cy="439.0" r="7.5"/>
<circle class="m" cx="574.9" cy="440.9" r="6.9"/>
<circle class="m" cx="554.0" cy="459.0" r="5.0"/>
<circle class="m" cx="551.0" cy="492.0" r="4.5"/>
<circle class="m" cx="573.0" cy="452.0" r="4.0"/>
</g>
<clipPath id="clipM"><rect x="198.8" y="354.6" width="780.60" height="781.00"/></clipPath>
<rect x="465.5" y="1095.9" width="247.7" height="34.5" rx="3" fill="#fff" fill-opacity="0.85" stroke="#dddddd" stroke-width="1"/>
<circle cx="482.6" cy="1112.2" r="6.3" fill="#d3d3d3"/>
<text x="497.91" y="1116.00" font-size="11.20" textLength="39.70" lengthAdjust="spacingAndGlyphs" fill="#000">1,000nt</text>
<circle cx="564.0" cy="1112.2" r="9.0" fill="#d3d3d3"/>
<text x="579.19" y="1116.00" font-size="11.20" textLength="40.42" lengthAdjust="spacingAndGlyphs" fill="#000">2,000nt</text>
<circle cx="645.0" cy="1112.2" r="13.9" fill="#d3d3d3"/>
<text x="661.23" y="1116.00" font-size="11.20" textLength="39.38" lengthAdjust="spacingAndGlyphs" fill="#000">5,000nt</text>
<rect x="198.8" y="354.6" width="780.60" height="781.00" fill="none" stroke="#a8a8a8" stroke-width="1.3"/>
<line x1="194.80" x2="198.8" y1="1136.30" y2="1136.30" stroke="#555" stroke-width="1"/>
<line x1="196.80" x2="198.8" y1="1099.42" y2="1099.42" stroke="#777" stroke-width="0.8"/>
<line x1="196.80" x2="198.8" y1="1077.85" y2="1077.85" stroke="#777" stroke-width="0.8"/>
<line x1="196.80" x2="198.8" y1="1062.55" y2="1062.55" stroke="#777" stroke-width="0.8"/>
<line x1="196.80" x2="198.8" y1="1050.68" y2="1050.68" stroke="#777" stroke-width="0.8"/>
<line x1="196.80" x2="198.8" y1="1040.98" y2="1040.98" stroke="#777" stroke-width="0.8"/>
<line x1="196.80" x2="198.8" y1="1032.78" y2="1032.78" stroke="#777" stroke-width="0.8"/>
<line x1="196.80" x2="198.8" y1="1025.67" y2="1025.67" stroke="#777" stroke-width="0.8"/>
<line x1="196.80" x2="198.8" y1="1019.41" y2="1019.41" stroke="#777" stroke-width="0.8"/>
<line x1="194.80" x2="198.8" y1="1013.80" y2="1013.80" stroke="#555" stroke-width="1"/>
<line x1="196.80" x2="198.8" y1="976.92" y2="976.92" stroke="#777" stroke-width="0.8"/>
<line x1="196.80" x2="198.8" y1="955.35" y2="955.35" stroke="#777" stroke-width="0.8"/>
<line x1="196.80" x2="198.8" y1="940.05" y2="940.05" stroke="#777" stroke-width="0.8"/>
<line x1="196.80" x2="198.8" y1="928.18" y2="928.18" stroke="#777" stroke-width="0.8"/>
<line x1="196.80" x2="198.8" y1="918.48" y2="918.48" stroke="#777" stroke-width="0.8"/>
<line x1="196.80" x2="198.8" y1="910.28" y2="910.28" stroke="#777" stroke-width="0.8"/>
<line x1="196.80" x2="198.8" y1="903.17" y2="903.17" stroke="#777" stroke-width="0.8"/>
<line x1="196.80" x2="198.8" y1="896.91" y2="896.91" stroke="#777" stroke-width="0.8"/>
<line x1="194.80" x2="198.8" y1="891.30" y2="891.30" stroke="#555" stroke-width="1"/>
<line x1="196.80" x2="198.8" y1="854.42" y2="854.42" stroke="#777" stroke-width="0.8"/>
<line x1="196.80" x2="198.8" y1="832.85" y2="832.85" stroke="#777" stroke-width="0.8"/>
<line x1="196.80" x2="198.8" y1="817.55" y2="817.55" stroke="#777" stroke-width="0.8"/>
<line x1="196.80" x2="198.8" y1="805.68" y2="805.68" stroke="#777" stroke-width="0.8"/>
<line x1="196.80" x2="198.8" y1="795.98" y2="795.98" stroke="#777" stroke-width="0.8"/>
<line x1="196.80" x2="198.8" y1="787.78" y2="787.78" stroke="#777" stroke-width="0.8"/>
<line x1="196.80" x2="198.8" y1="780.67" y2="780.67" stroke="#777" stroke-width="0.8"/>
<line x1="196.80" x2="198.8" y1="774.41" y2="774.41" stroke="#777" stroke-width="0.8"/>
<line x1="194.80" x2="198.8" y1="768.80" y2="768.80" stroke="#555" stroke-width="1"/>
<line x1="196.80" x2="198.8" y1="731.92" y2="731.92" stroke="#777" stroke-width="0.8"/>
<line x1="196.80" x2="198.8" y1="710.35" y2="710.35" stroke="#777" stroke-width="0.8"/>
<line x1="196.80" x2="198.8" y1="695.05" y2="695.05" stroke="#777" stroke-width="0.8"/>
<line x1="196.80" x2="198.8" y1="683.18" y2="683.18" stroke="#777" stroke-width="0.8"/>
<line x1="196.80" x2="198.8" y1="673.48" y2="673.48" stroke="#777" stroke-width="0.8"/>
<line x1="196.80" x2="198.8" y1="665.28" y2="665.28" stroke="#777" stroke-width="0.8"/>
<line x1="196.80" x2="198.8" y1="658.17" y2="658.17" stroke="#777" stroke-width="0.8"/>
<line x1="196.80" x2="198.8" y1="651.91" y2="651.91" stroke="#777" stroke-width="0.8"/>
<line x1="194.80" x2="198.8" y1="646.30" y2="646.30" stroke="#555" stroke-width="1"/>
<line x1="196.80" x2="198.8" y1="609.42" y2="609.42" stroke="#777" stroke-width="0.8"/>
<line x1="196.80" x2="198.8" y1="587.85" y2="587.85" stroke="#777" stroke-width="0.8"/>
<line x1="196.80" x2="198.8" y1="572.55" y2="572.55" stroke="#777" stroke-width="0.8"/>
<line x1="196.80" x2="198.8" y1="560.68" y2="560.68" stroke="#777" stroke-width="0.8"/>
<line x1="196.80" x2="198.8" y1="550.98" y2="550.98" stroke="#777" stroke-width="0.8"/>
<line x1="196.80" x2="198.8" y1="542.78" y2="542.78" stroke="#777" stroke-width="0.8"/>
<line x1="196.80" x2="198.8" y1="535.67" y2="535.67" stroke="#777" stroke-width="0.8"/>
<line x1="196.80" x2="198.8" y1="529.41" y2="529.41" stroke="#777" stroke-width="0.8"/>
<line x1="194.80" x2="198.8" y1="523.80" y2="523.80" stroke="#555" stroke-width="1"/>
<line x1="196.80" x2="198.8" y1="486.92" y2="486.92" stroke="#777" stroke-width="0.8"/>
<line x1="196.80" x2="198.8" y1="465.35" y2="465.35" stroke="#777" stroke-width="0.8"/>
<line x1="196.80" x2="198.8" y1="450.05" y2="450.05" stroke="#777" stroke-width="0.8"/>
<line x1="196.80" x2="198.8" y1="438.18" y2="438.18" stroke="#777" stroke-width="0.8"/>
<line x1="196.80" x2="198.8" y1="428.48" y2="428.48" stroke="#777" stroke-width="0.8"/>
<line x1="196.80" x2="198.8" y1="420.28" y2="420.28" stroke="#777" stroke-width="0.8"/>
<line x1="196.80" x2="198.8" y1="413.17" y2="413.17" stroke="#777" stroke-width="0.8"/>
<line x1="196.80" x2="198.8" y1="406.91" y2="406.91" stroke="#777" stroke-width="0.8"/>
<line x1="194.80" x2="198.8" y1="401.30" y2="401.30" stroke="#555" stroke-width="1"/>
<line x1="196.80" x2="198.8" y1="364.42" y2="364.42" stroke="#777" stroke-width="0.8"/>
<text x="177.17" y="1135.70" font-size="13.20" textLength="16.14" lengthAdjust="spacingAndGlyphs" fill="#000">−2</text>
<text x="154.34" y="1143.00" font-size="19.20" textLength="22.86" lengthAdjust="spacingAndGlyphs" fill="#000">10</text>
<text x="177.07" y="1013.20" font-size="13.20" textLength="16.21" lengthAdjust="spacingAndGlyphs" fill="#000">−1</text>
<text x="154.24" y="1020.50" font-size="19.20" textLength="22.86" lengthAdjust="spacingAndGlyphs" fill="#000">10</text>
<text x="185.38" y="890.70" font-size="13.20" textLength="7.76" lengthAdjust="spacingAndGlyphs" fill="#000">0</text>
<text x="163.30" y="898.00" font-size="19.20" textLength="22.86" lengthAdjust="spacingAndGlyphs" fill="#000">10</text>
<text x="185.86" y="768.20" font-size="13.20" textLength="7.38" lengthAdjust="spacingAndGlyphs" fill="#000">1</text>
<text x="164.22" y="775.50" font-size="19.20" textLength="22.86" lengthAdjust="spacingAndGlyphs" fill="#000">10</text>
<text x="185.79" y="645.70" font-size="13.20" textLength="7.51" lengthAdjust="spacingAndGlyphs" fill="#000">2</text>
<text x="163.82" y="653.00" font-size="19.20" textLength="22.86" lengthAdjust="spacingAndGlyphs" fill="#000">10</text>
<text x="185.73" y="523.20" font-size="13.20" textLength="7.46" lengthAdjust="spacingAndGlyphs" fill="#000">3</text>
<text x="163.59" y="530.50" font-size="19.20" textLength="22.86" lengthAdjust="spacingAndGlyphs" fill="#000">10</text>
<text x="185.26" y="400.70" font-size="13.20" textLength="7.74" lengthAdjust="spacingAndGlyphs" fill="#000">4</text>
<text x="162.93" y="408.00" font-size="19.20" textLength="22.86" lengthAdjust="spacingAndGlyphs" fill="#000">10</text>
<line x1="198.80" x2="198.80" y1="1135.6" y2="1137.6" stroke="#777" stroke-width="0.8"/>
<line x1="206.61" x2="206.61" y1="1135.6" y2="1137.6" stroke="#777" stroke-width="0.8"/>
<line x1="214.41" x2="214.41" y1="1135.6" y2="1137.6" stroke="#777" stroke-width="0.8"/>
<line x1="222.22" x2="222.22" y1="1135.6" y2="1137.6" stroke="#777" stroke-width="0.8"/>
<line x1="230.02" x2="230.02" y1="1135.6" y2="1137.6" stroke="#777" stroke-width="0.8"/>
<line x1="237.83" x2="237.83" y1="1135.6" y2="1137.6" stroke="#777" stroke-width="0.8"/>
<line x1="245.64" x2="245.64" y1="1135.6" y2="1137.6" stroke="#777" stroke-width="0.8"/>
<line x1="253.44" x2="253.44" y1="1135.6" y2="1137.6" stroke="#777" stroke-width="0.8"/>
<line x1="261.25" x2="261.25" y1="1135.6" y2="1137.6" stroke="#777" stroke-width="0.8"/>
<line x1="269.05" x2="269.05" y1="1135.6" y2="1137.6" stroke="#777" stroke-width="0.8"/>
<line x1="276.86" x2="276.86" y1="1135.6" y2="1137.6" stroke="#777" stroke-width="0.8"/>
<line x1="284.67" x2="284.67" y1="1135.6" y2="1137.6" stroke="#777" stroke-width="0.8"/>
<line x1="292.47" x2="292.47" y1="1135.6" y2="1137.6" stroke="#777" stroke-width="0.8"/>
<line x1="300.28" x2="300.28" y1="1135.6" y2="1137.6" stroke="#777" stroke-width="0.8"/>
<line x1="308.08" x2="308.08" y1="1135.6" y2="1137.6" stroke="#777" stroke-width="0.8"/>
<line x1="315.89" x2="315.89" y1="1135.6" y2="1137.6" stroke="#777" stroke-width="0.8"/>
<line x1="323.70" x2="323.70" y1="1135.6" y2="1137.6" stroke="#777" stroke-width="0.8"/>
<line x1="331.50" x2="331.50" y1="1135.6" y2="1137.6" stroke="#777" stroke-width="0.8"/>
<line x1="339.31" x2="339.31" y1="1135.6" y2="1137.6" stroke="#777" stroke-width="0.8"/>
<line x1="347.11" x2="347.11" y1="1135.6" y2="1137.6" stroke="#777" stroke-width="0.8"/>
<line x1="354.92" x2="354.92" y1="1135.6" y2="1137.6" stroke="#777" stroke-width="0.8"/>
<line x1="362.73" x2="362.73" y1="1135.6" y2="1137.6" stroke="#777" stroke-width="0.8"/>
<line x1="370.53" x2="370.53" y1="1135.6" y2="1137.6" stroke="#777" stroke-width="0.8"/>
<line x1="378.34" x2="378.34" y1="1135.6" y2="1137.6" stroke="#777" stroke-width="0.8"/>
<line x1="386.14" x2="386.14" y1="1135.6" y2="1137.6" stroke="#777" stroke-width="0.8"/>
<line x1="393.95" x2="393.95" y1="1135.6" y2="1137.6" stroke="#777" stroke-width="0.8"/>
<line x1="401.76" x2="401.76" y1="1135.6" y2="1137.6" stroke="#777" stroke-width="0.8"/>
<line x1="409.56" x2="409.56" y1="1135.6" y2="1137.6" stroke="#777" stroke-width="0.8"/>
<line x1="417.37" x2="417.37" y1="1135.6" y2="1137.6" stroke="#777" stroke-width="0.8"/>
<line x1="425.17" x2="425.17" y1="1135.6" y2="1137.6" stroke="#777" stroke-width="0.8"/>
<line x1="432.98" x2="432.98" y1="1135.6" y2="1137.6" stroke="#777" stroke-width="0.8"/>
<line x1="440.79" x2="440.79" y1="1135.6" y2="1137.6" stroke="#777" stroke-width="0.8"/>
<line x1="448.59" x2="448.59" y1="1135.6" y2="1137.6" stroke="#777" stroke-width="0.8"/>
<line x1="456.40" x2="456.40" y1="1135.6" y2="1137.6" stroke="#777" stroke-width="0.8"/>
<line x1="464.20" x2="464.20" y1="1135.6" y2="1137.6" stroke="#777" stroke-width="0.8"/>
<line x1="472.01" x2="472.01" y1="1135.6" y2="1137.6" stroke="#777" stroke-width="0.8"/>
<line x1="479.82" x2="479.82" y1="1135.6" y2="1137.6" stroke="#777" stroke-width="0.8"/>
<line x1="487.62" x2="487.62" y1="1135.6" y2="1137.6" stroke="#777" stroke-width="0.8"/>
<line x1="495.43" x2="495.43" y1="1135.6" y2="1137.6" stroke="#777" stroke-width="0.8"/>
<line x1="503.23" x2="503.23" y1="1135.6" y2="1137.6" stroke="#777" stroke-width="0.8"/>
<line x1="511.04" x2="511.04" y1="1135.6" y2="1137.6" stroke="#777" stroke-width="0.8"/>
<line x1="518.85" x2="518.85" y1="1135.6" y2="1137.6" stroke="#777" stroke-width="0.8"/>
<line x1="526.65" x2="526.65" y1="1135.6" y2="1137.6" stroke="#777" stroke-width="0.8"/>
<line x1="534.46" x2="534.46" y1="1135.6" y2="1137.6" stroke="#777" stroke-width="0.8"/>
<line x1="542.26" x2="542.26" y1="1135.6" y2="1137.6" stroke="#777" stroke-width="0.8"/>
<line x1="550.07" x2="550.07" y1="1135.6" y2="1137.6" stroke="#777" stroke-width="0.8"/>
<line x1="557.88" x2="557.88" y1="1135.6" y2="1137.6" stroke="#777" stroke-width="0.8"/>
<line x1="565.68" x2="565.68" y1="1135.6" y2="1137.6" stroke="#777" stroke-width="0.8"/>
<line x1="573.49" x2="573.49" y1="1135.6" y2="1137.6" stroke="#777" stroke-width="0.8"/>
<line x1="581.29" x2="581.29" y1="1135.6" y2="1137.6" stroke="#777" stroke-width="0.8"/>
<line x1="589.10" x2="589.10" y1="1135.6" y2="1137.6" stroke="#777" stroke-width="0.8"/>
<line x1="596.91" x2="596.91" y1="1135.6" y2="1137.6" stroke="#777" stroke-width="0.8"/>
<line x1="604.71" x2="604.71" y1="1135.6" y2="1137.6" stroke="#777" stroke-width="0.8"/>
<line x1="612.52" x2="612.52" y1="1135.6" y2="1137.6" stroke="#777" stroke-width="0.8"/>
<line x1="620.32" x2="620.32" y1="1135.6" y2="1137.6" stroke="#777" stroke-width="0.8"/>
<line x1="628.13" x2="628.13" y1="1135.6" y2="1137.6" stroke="#777" stroke-width="0.8"/>
<line x1="635.94" x2="635.94" y1="1135.6" y2="1137.6" stroke="#777" stroke-width="0.8"/>
<line x1="643.74" x2="643.74" y1="1135.6" y2="1137.6" stroke="#777" stroke-width="0.8"/>
<line x1="651.55" x2="651.55" y1="1135.6" y2="1137.6" stroke="#777" stroke-width="0.8"/>
<line x1="659.35" x2="659.35" y1="1135.6" y2="1137.6" stroke="#777" stroke-width="0.8"/>
<line x1="667.16" x2="667.16" y1="1135.6" y2="1137.6" stroke="#777" stroke-width="0.8"/>
<line x1="674.97" x2="674.97" y1="1135.6" y2="1137.6" stroke="#777" stroke-width="0.8"/>
<line x1="682.77" x2="682.77" y1="1135.6" y2="1137.6" stroke="#777" stroke-width="0.8"/>
<line x1="690.58" x2="690.58" y1="1135.6" y2="1137.6" stroke="#777" stroke-width="0.8"/>
<line x1="698.38" x2="698.38" y1="1135.6" y2="1137.6" stroke="#777" stroke-width="0.8"/>
<line x1="706.19" x2="706.19" y1="1135.6" y2="1137.6" stroke="#777" stroke-width="0.8"/>
<line x1="714.00" x2="714.00" y1="1135.6" y2="1137.6" stroke="#777" stroke-width="0.8"/>
<line x1="721.80" x2="721.80" y1="1135.6" y2="1137.6" stroke="#777" stroke-width="0.8"/>
<line x1="729.61" x2="729.61" y1="1135.6" y2="1137.6" stroke="#777" stroke-width="0.8"/>
<line x1="737.41" x2="737.41" y1="1135.6" y2="1137.6" stroke="#777" stroke-width="0.8"/>
<line x1="745.22" x2="745.22" y1="1135.6" y2="1137.6" stroke="#777" stroke-width="0.8"/>
<line x1="753.03" x2="753.03" y1="1135.6" y2="1137.6" stroke="#777" stroke-width="0.8"/>
<line x1="760.83" x2="760.83" y1="1135.6" y2="1137.6" stroke="#777" stroke-width="0.8"/>
<line x1="768.64" x2="768.64" y1="1135.6" y2="1137.6" stroke="#777" stroke-width="0.8"/>
<line x1="776.44" x2="776.44" y1="1135.6" y2="1137.6" stroke="#777" stroke-width="0.8"/>
<line x1="784.25" x2="784.25" y1="1135.6" y2="1137.6" stroke="#777" stroke-width="0.8"/>
<line x1="792.06" x2="792.06" y1="1135.6" y2="1137.6" stroke="#777" stroke-width="0.8"/>
<line x1="799.86" x2="799.86" y1="1135.6" y2="1137.6" stroke="#777" stroke-width="0.8"/>
<line x1="807.67" x2="807.67" y1="1135.6" y2="1137.6" stroke="#777" stroke-width="0.8"/>
<line x1="815.47" x2="815.47" y1="1135.6" y2="1137.6" stroke="#777" stroke-width="0.8"/>
<line x1="823.28" x2="823.28" y1="1135.6" y2="1137.6" stroke="#777" stroke-width="0.8"/>
<line x1="831.09" x2="831.09" y1="1135.6" y2="1137.6" stroke="#777" stroke-width="0.8"/>
<line x1="838.89" x2="838.89" y1="1135.6" y2="1137.6" stroke="#777" stroke-width="0.8"/>
<line x1="846.70" x2="846.70" y1="1135.6" y2="1137.6" stroke="#777" stroke-width="0.8"/>
<line x1="854.50" x2="854.50" y1="1135.6" y2="1137.6" stroke="#777" stroke-width="0.8"/>
<line x1="862.31" x2="862.31" y1="1135.6" y2="1137.6" stroke="#777" stroke-width="0.8"/>
<line x1="870.12" x2="870.12" y1="1135.6" y2="1137.6" stroke="#777" stroke-width="0.8"/>
<line x1="877.92" x2="877.92" y1="1135.6" y2="1137.6" stroke="#777" stroke-width="0.8"/>
<line x1="885.73" x2="885.73" y1="1135.6" y2="1137.6" stroke="#777" stroke-width="0.8"/>
<line x1="893.53" x2="893.53" y1="1135.6" y2="1137.6" stroke="#777" stroke-width="0.8"/>
<line x1="901.34" x2="901.34" y1="1135.6" y2="1137.6" stroke="#777" stroke-width="0.8"/>
<line x1="909.15" x2="909.15" y1="1135.6" y2="1137.6" stroke="#777" stroke-width="0.8"/>
<line x1="916.95" x2="916.95" y1="1135.6" y2="1137.6" stroke="#777" stroke-width="0.8"/>
<line x1="924.76" x2="924.76" y1="1135.6" y2="1137.6" stroke="#777" stroke-width="0.8"/>
<line x1="932.56" x2="932.56" y1="1135.6" y2="1137.6" stroke="#777" stroke-width="0.8"/>
<line x1="940.37" x2="940.37" y1="1135.6" y2="1137.6" stroke="#777" stroke-width="0.8"/>
<line x1="948.18" x2="948.18" y1="1135.6" y2="1137.6" stroke="#777" stroke-width="0.8"/>
<line x1="955.98" x2="955.98" y1="1135.6" y2="1137.6" stroke="#777" stroke-width="0.8"/>
<line x1="963.79" x2="963.79" y1="1135.6" y2="1137.6" stroke="#777" stroke-width="0.8"/>
<line x1="971.59" x2="971.59" y1="1135.6" y2="1137.6" stroke="#777" stroke-width="0.8"/>
<line x1="979.40" x2="979.40" y1="1135.6" y2="1137.6" stroke="#777" stroke-width="0.8"/>
<line x1="198.80" x2="198.80" y1="1135.6" y2="1139.6" stroke="#555" stroke-width="1"/>
<text x="184.32" y="1155.80" font-size="19.00" textLength="28.92" lengthAdjust="spacingAndGlyphs" fill="#000">0.0</text>
<line x1="354.92" x2="354.92" y1="1135.6" y2="1139.6" stroke="#555" stroke-width="1"/>
<text x="340.45" y="1155.80" font-size="19.00" textLength="28.54" lengthAdjust="spacingAndGlyphs" fill="#000">0.2</text>
<line x1="511.04" x2="511.04" y1="1135.6" y2="1139.6" stroke="#555" stroke-width="1"/>
<text x="496.56" y="1155.80" font-size="19.00" textLength="28.89" lengthAdjust="spacingAndGlyphs" fill="#000">0.4</text>
<line x1="667.16" x2="667.16" y1="1135.6" y2="1139.6" stroke="#555" stroke-width="1"/>
<text x="652.67" y="1155.80" font-size="19.00" textLength="29.07" lengthAdjust="spacingAndGlyphs" fill="#000">0.6</text>
<line x1="823.28" x2="823.28" y1="1135.6" y2="1139.6" stroke="#555" stroke-width="1"/>
<text x="808.80" y="1155.80" font-size="19.00" textLength="28.97" lengthAdjust="spacingAndGlyphs" fill="#000">0.8</text>
<line x1="979.40" x2="979.40" y1="1135.6" y2="1139.6" stroke="#555" stroke-width="1"/>
<text x="965.04" y="1155.80" font-size="19.00" textLength="28.79" lengthAdjust="spacingAndGlyphs" fill="#000">1.0</text>
<text x="523.76" y="1183.90" font-size="18.60" textLength="131.07" lengthAdjust="spacingAndGlyphs" fill="#000">GC proportion</text>
<g transform="translate(137.60,0) rotate(-90)"><text x="-791.03" y="0.00" font-size="19.50" textLength="89.23" lengthAdjust="spacingAndGlyphs" fill="#000">Coverage</text></g>
<rect x="1005.4" y="354.6" width="260.80" height="781.00" fill="#f8f8f8"/>
<line x1="1005.4" x2="1266.2" y1="1013.80" y2="1013.80" stroke="#eeeef3" stroke-width="1.2"/>
<line x1="1005.4" x2="1266.2" y1="891.30" y2="891.30" stroke="#eeeef3" stroke-width="1.2"/>
<line x1="1005.4" x2="1266.2" y1="768.80" y2="768.80" stroke="#eeeef3" stroke-width="1.2"/>
<line x1="1005.4" x2="1266.2" y1="646.30" y2="646.30" stroke="#eeeef3" stroke-width="1.2"/>
<line x1="1005.4" x2="1266.2" y1="523.80" y2="523.80" stroke="#eeeef3" stroke-width="1.2"/>
<line x1="1005.4" x2="1266.2" y1="401.30" y2="401.30" stroke="#eeeef3" stroke-width="1.2"/>
<line x1="1089.70" x2="1089.70" y1="354.6" y2="1135.6" stroke="#eeeef3" stroke-width="1.2"/>
<line x1="1174.00" x2="1174.00" y1="354.6" y2="1135.6" stroke="#eeeef3" stroke-width="1.2"/>
<line x1="1258.30" x2="1258.30" y1="354.6" y2="1135.6" stroke="#eeeef3" stroke-width="1.2"/>
<clipPath id="clipR"><rect x="1005.4" y="354.6" width="260.80" height="781.00"/></clipPath>
<rect x="1005.4" y="354.6" width="260.80" height="781.00" fill="none" stroke="#a8a8a8" stroke-width="1.3"/>
<g clip-path="url(#clipR)">
<path d="M1005.40,1012.60 L1005.61,1012.60 L1005.61,1005.23 L1005.40,1005.23 L1005.40,997.86 L1005.40,997.86 L1005.40,990.49 L1005.40,990.49 L1005.40,983.12 L1005.40,983.12 L1005.40,975.75 L1005.40,975.75 L1005.40,968.38 L1005.40,968.38 L1005.40,961.01 L1005.40,961.01 L1005.40,953.64 L1005.40,953.64 L1005.40,946.27 L1005.40,946.27 L1005.40,938.90 L1005.40,938.90 L1005.40,931.53 L1005.40,931.53 L1005.40,924.16 L1005.40,924.16 L1005.40,916.79 L1005.40,916.79 L1005.40,909.42 L1005.61,909.42 L1005.61,902.05 L1005.82,902.05 L1005.82,894.68 L1006.66,894.68 L1006.66,887.31 L1009.62,887.31 L1009.62,879.94 L1019.98,879.94 L1019.98,872.57 L1035.28,872.57 L1035.28,865.20 L1045.70,865.20 L1045.70,857.83 L1063.57,857.83 L1063.57,850.46 L1064.79,850.46 L1064.79,843.09 L1062.89,843.09 L1062.89,835.72 L1056.99,835.72 L1056.99,828.35 L1053.87,828.35 L1053.87,820.98 L1051.39,820.98 L1051.39,813.61 L1046.71,813.61 L1046.71,806.24 L1040.01,806.24 L1040.01,798.87 L1037.43,798.87 L1037.43,791.50 L1034.90,791.50 L1034.90,784.13 L1032.42,784.13 L1032.42,776.76 L1026.47,776.76 L1026.47,769.39 L1022.26,769.39 L1022.26,762.02 L1020.15,762.02 L1020.15,754.65 L1018.04,754.65 L1018.04,747.28 L1015.94,747.28 L1015.94,739.91 L1013.83,739.91 L1013.83,732.54 L1012.57,732.54 L1012.57,725.17 L1011.30,725.17 L1011.30,717.80 L1010.04,717.80 L1010.04,710.43 L1009.19,710.43 L1009.19,703.06 L1008.35,703.06 L1008.35,695.69 L1007.51,695.69 L1007.51,688.32 L1006.88,688.32 L1006.88,680.95 L1006.45,680.95 L1006.45,673.58 L1006.03,673.58 L1006.03,666.21 L1005.82,666.21 L1005.82,658.84 L1005.40,658.84 L1005.40,651.47 L1005.40,651.47 L1005.40,644.10 L1005.40,644.10 L1005.40,636.73 L1005.40,636.73 L1005.40,629.36 L1005.40,629.36 L1005.40,621.99 L1005.40,621.99 L1005.40,614.62 L1005.40,614.62 L1005.40,607.25 L1005.40,607.25 L1005.40,599.88 L1005.40,599.88 L1005.40,592.51 L1005.40,592.51 L1005.40,585.14 L1005.40,585.14 L1005.40,577.77 L1005.40,577.77 L1005.40,570.40 L1005.40,570.40 L1005.40,563.03 L1005.40,563.03 L1005.40,555.66 L1005.40,555.66 L1005.40,548.29 L1005.40,548.29 L1005.40,540.92 L1005.40,540.92 L1005.40,533.55 L1005.40,533.55 L1005.40,526.18 L1005.40,526.18 L1005.40,518.81 L1005.40,518.81 L1005.40,511.44 L1005.40,511.44 L1005.40,504.07 L1005.40,504.07 L1005.40,496.70 L1005.40,496.70 L1005.40,489.33 L1005.40,489.33 L1005.40,481.96 L1005.40,481.96 L1005.40,474.59 L1005.40,474.59 L1005.40,467.22 L1005.40,467.22 L1005.40,459.85 L1005.40,459.85 L1005.40,452.48 L1005.40,452.48 L1005.40,445.11 L1005.40,445.11 L1005.40,437.74 L1005.40,437.74 L1005.40,430.37 L1005.40,430.37 L1005.40,423.00 L1005.40,423.00 L1005.40,415.63 L1005.40,415.63 L1005.40,408.26 L1005.40,408.26 L1005.40,400.89 L1005.40,400.89 L1005.40,393.52 L1005.40,393.52 L1005.40,386.15 L1005.40,386.15 L1005.40,378.78 L1005.40,378.78 L1005.40,371.41 L1005.40,371.41 L1005.40,364.04 L1005.40,364.04 L1005.40,356.67 L1005.40,356.67 L1005.40,349.30 L1005.40,349.30 L1005.40,341.93 L1005.40,341.93 L1005.40,334.56 L1005.40,334.56 L1005.40,327.19 L1005.40,327.19 L1005.40,319.82 L1005.40,319.82 L1005.40,312.45 L1005.40,312.45 L1005.40,305.08 L1005.40,305.08 L1005.40,297.71 L1005.40,297.71 L1005.40,290.34 L1005.40,290.34 L1005.40,282.97 L1005.40,282.97 L1005.40,275.60 L1005.40,275.60" fill="none" stroke="#ffffff" stroke-width="2"/>
<path d="M1005.40,1012.60 L1006.66,1012.60 L1006.66,1005.23 L1005.53,1005.23 L1005.53,997.86 L1005.57,997.86 L1005.57,990.49 L1005.61,990.49 L1005.61,983.12 L1005.65,983.12 L1005.65,975.75 L1005.65,975.75 L1005.65,968.38 L1005.70,968.38 L1005.70,961.01 L1005.74,961.01 L1005.74,953.64 L1005.74,953.64 L1005.74,946.27 L1005.74,946.27 L1005.74,938.90 L1005.74,938.90 L1005.74,931.53 L1005.74,931.53 L1005.74,924.16 L1005.82,924.16 L1005.82,916.79 L1005.91,916.79 L1005.91,909.42 L1006.03,909.42 L1006.03,902.05 L1006.71,902.05 L1006.71,894.68 L1010.50,894.68 L1010.50,887.31 L1020.62,887.31 L1020.62,879.94 L1073.39,879.94 L1073.39,872.57 L1156.80,872.57 L1156.80,865.20 L1171.47,865.20 L1171.47,857.83 L1245.78,857.83 L1245.78,850.46 L1253.41,850.46 L1253.41,843.09 L1217.79,843.09 L1217.79,835.72 L1191.11,835.72 L1191.11,828.35 L1153.98,828.35 L1153.98,820.98 L1130.08,820.98 L1130.08,813.61 L1112.38,813.61 L1112.38,806.24 L1094.29,806.24 L1094.29,798.87 L1083.46,798.87 L1083.46,791.50 L1070.90,791.50 L1070.90,784.13 L1067.61,784.13 L1067.61,776.76 L1062.89,776.76 L1062.89,769.39 L1057.20,769.39 L1057.20,762.02 L1052.40,762.02 L1052.40,754.65 L1046.71,754.65 L1046.71,747.28 L1041.90,747.28 L1041.90,739.91 L1037.43,739.91 L1037.43,732.54 L1034.06,732.54 L1034.06,725.17 L1030.69,725.17 L1030.69,717.80 L1027.74,717.80 L1027.74,710.43 L1025.63,710.43 L1025.63,703.06 L1023.95,703.06 L1023.95,695.69 L1022.26,695.69 L1022.26,688.32 L1019.01,688.32 L1019.01,680.95 L1018.04,680.95 L1018.04,673.58 L1015.90,673.58 L1015.90,666.21 L1012.69,666.21 L1012.69,658.84 L1011.72,658.84 L1011.72,651.47 L1010.46,651.47 L1010.46,644.10 L1008.77,644.10 L1008.77,636.73 L1007.51,636.73 L1007.51,629.36 L1006.66,629.36 L1006.66,621.99 L1006.24,621.99 L1006.24,614.62 L1005.82,614.62 L1005.82,607.25 L1005.61,607.25 L1005.61,599.88 L1005.40,599.88 L1005.40,592.51 L1005.40,592.51 L1005.40,585.14 L1005.40,585.14 L1005.40,577.77 L1005.40,577.77 L1005.40,570.40 L1005.40,570.40 L1005.40,563.03 L1005.40,563.03 L1005.40,555.66 L1005.40,555.66 L1005.40,548.29 L1005.40,548.29 L1005.40,540.92 L1005.40,540.92 L1005.40,533.55 L1005.40,533.55 L1005.40,526.18 L1005.40,526.18 L1005.40,518.81 L1005.40,518.81 L1005.40,511.44 L1005.40,511.44 L1005.40,504.07 L1005.40,504.07 L1005.40,496.70 L1005.40,496.70 L1005.40,489.33 L1005.40,489.33 L1005.40,481.96 L1005.40,481.96 L1005.40,474.59 L1005.40,474.59 L1005.40,467.22 L1005.40,467.22 L1005.40,459.85 L1005.40,459.85 L1005.40,452.48 L1005.40,452.48 L1005.40,445.11 L1005.40,445.11 L1005.40,437.74 L1005.40,437.74 L1005.40,430.37 L1005.40,430.37 L1005.40,423.00 L1005.40,423.00 L1005.40,415.63 L1005.40,415.63 L1005.40,408.26 L1005.40,408.26 L1005.40,400.89 L1005.40,400.89 L1005.40,393.52 L1005.40,393.52 L1005.40,386.15 L1005.40,386.15 L1005.40,378.78 L1005.40,378.78 L1005.40,371.41 L1005.40,371.41 L1005.40,364.04 L1005.40,364.04 L1005.40,356.67 L1005.40,356.67 L1005.40,349.30 L1005.40,349.30 L1005.40,341.93 L1005.40,341.93 L1005.40,334.56 L1005.40,334.56 L1005.40,327.19 L1005.40,327.19 L1005.40,319.82 L1005.40,319.82 L1005.40,312.45 L1005.40,312.45 L1005.40,305.08 L1005.40,305.08 L1005.40,297.71 L1005.40,297.71 L1005.40,290.34 L1005.40,290.34 L1005.40,282.97 L1005.40,282.97 L1005.40,275.60 L1005.40,275.60" fill="none" stroke="#d3d3d3" stroke-width="2"/>
<path d="M1005.40,1012.60 L1005.40,1012.60 L1005.40,1005.23 L1005.40,1005.23 L1005.40,997.86 L1005.40,997.86 L1005.40,990.49 L1005.40,990.49 L1005.40,983.12 L1005.40,983.12 L1005.40,975.75 L1005.40,975.75 L1005.40,968.38 L1005.40,968.38 L1005.40,961.01 L1005.40,961.01 L1005.40,953.64 L1005.40,953.64 L1005.40,946.27 L1005.40,946.27 L1005.40,938.90 L1005.40,938.90 L1005.40,931.53 L1005.40,931.53 L1005.40,924.16 L1005.40,924.16 L1005.40,916.79 L1005.40,916.79 L1005.40,909.42 L1005.40,909.42 L1005.40,902.05 L1005.40,902.05 L1005.40,894.68 L1005.40,894.68 L1005.40,887.31 L1005.82,887.31 L1005.82,879.94 L1007.09,879.94 L1007.09,872.57 L1008.35,872.57 L1008.35,865.20 L1009.19,865.20 L1009.19,857.83 L1009.62,857.83 L1009.62,850.46 L1010.04,850.46 L1010.04,843.09 L1010.04,843.09 L1010.04,835.72 L1009.62,835.72 L1009.62,828.35 L1009.62,828.35 L1009.62,820.98 L1009.19,820.98 L1009.19,813.61 L1009.19,813.61 L1009.19,806.24 L1008.77,806.24 L1008.77,798.87 L1008.77,798.87 L1008.77,791.50 L1008.35,791.50 L1008.35,784.13 L1007.93,784.13 L1007.93,776.76 L1007.51,776.76 L1007.51,769.39 L1007.09,769.39 L1007.09,762.02 L1006.66,762.02 L1006.66,754.65 L1006.24,754.65 L1006.24,747.28 L1005.82,747.28 L1005.82,739.91 L1005.40,739.91 L1005.40,732.54 L1005.40,732.54 L1005.40,725.17 L1005.40,725.17 L1005.40,717.80 L1005.40,717.80 L1005.40,710.43 L1005.40,710.43 L1005.40,703.06 L1005.40,703.06 L1005.40,695.69 L1005.40,695.69 L1005.40,688.32 L1005.40,688.32 L1005.40,680.95 L1005.40,680.95 L1005.40,673.58 L1005.40,673.58 L1005.40,666.21 L1005.40,666.21 L1005.40,658.84 L1005.40,658.84 L1005.40,651.47 L1005.40,651.47 L1005.40,644.10 L1005.40,644.10 L1005.40,636.73 L1005.40,636.73 L1005.40,629.36 L1005.40,629.36 L1005.40,621.99 L1005.40,621.99 L1005.40,614.62 L1005.40,614.62 L1005.40,607.25 L1005.40,607.25 L1005.40,599.88 L1005.40,599.88 L1005.40,592.51 L1005.40,592.51 L1005.40,585.14 L1005.40,585.14 L1005.40,577.77 L1005.40,577.77 L1005.40,570.40 L1005.40,570.40 L1005.40,563.03 L1005.40,563.03 L1005.40,555.66 L1005.40,555.66 L1005.40,548.29 L1005.40,548.29 L1005.40,540.92 L1005.40,540.92 L1005.40,533.55 L1005.40,533.55 L1005.40,526.18 L1005.40,526.18 L1005.40,518.81 L1005.40,518.81 L1005.40,511.44 L1005.40,511.44 L1005.40,504.07 L1005.40,504.07 L1005.40,496.70 L1005.40,496.70 L1005.40,489.33 L1005.40,489.33 L1005.40,481.96 L1005.40,481.96 L1005.40,474.59 L1005.40,474.59 L1005.40,467.22 L1005.40,467.22 L1005.40,459.85 L1005.40,459.85 L1005.40,452.48 L1005.40,452.48 L1005.40,445.11 L1005.40,445.11 L1005.40,437.74 L1005.40,437.74 L1005.40,430.37 L1005.40,430.37 L1005.40,423.00 L1005.40,423.00 L1005.40,415.63 L1005.40,415.63 L1005.40,408.26 L1005.40,408.26 L1005.40,400.89 L1005.40,400.89 L1005.40,393.52 L1005.40,393.52 L1005.40,386.15 L1005.40,386.15 L1005.40,378.78 L1005.40,378.78 L1005.40,371.41 L1005.40,371.41 L1005.40,364.04 L1005.40,364.04 L1005.40,356.67 L1005.40,356.67 L1005.40,349.30 L1005.40,349.30 L1005.40,341.93 L1005.40,341.93 L1005.40,334.56 L1005.40,334.56 L1005.40,327.19 L1005.40,327.19 L1005.40,319.82 L1005.40,319.82 L1005.40,312.45 L1005.40,312.45 L1005.40,305.08 L1005.40,305.08 L1005.40,297.71 L1005.40,297.71 L1005.40,290.34 L1005.40,290.34 L1005.40,282.97 L1005.40,282.97 L1005.40,275.60 L1005.40,275.60" fill="none" stroke="#7f7f7f" stroke-width="2"/>
<path d="M1005.40,1012.60 L1005.40,1012.60 L1005.40,1005.23 L1005.40,1005.23 L1005.40,997.86 L1005.40,997.86 L1005.40,990.49 L1005.40,990.49 L1005.40,983.12 L1005.40,983.12 L1005.40,975.75 L1005.40,975.75 L1005.40,968.38 L1005.40,968.38 L1005.40,961.01 L1005.40,961.01 L1005.40,953.64 L1005.40,953.64 L1005.40,946.27 L1005.40,946.27 L1005.40,938.90 L1005.40,938.90 L1005.40,931.53 L1005.40,931.53 L1005.40,924.16 L1005.40,924.16 L1005.40,916.79 L1005.40,916.79 L1005.40,909.42 L1005.40,909.42 L1005.40,902.05 L1005.40,902.05 L1005.40,894.68 L1005.40,894.68 L1005.40,887.31 L1005.82,887.31 L1005.82,879.94 L1007.09,879.94 L1007.09,872.57 L1008.35,872.57 L1008.35,865.20 L1009.19,865.20 L1009.19,857.83 L1009.62,857.83 L1009.62,850.46 L1009.62,850.46 L1009.62,843.09 L1009.19,843.09 L1009.19,835.72 L1009.19,835.72 L1009.19,828.35 L1008.77,828.35 L1008.77,820.98 L1008.77,820.98 L1008.77,813.61 L1008.77,813.61 L1008.77,806.24 L1008.35,806.24 L1008.35,798.87 L1008.35,798.87 L1008.35,791.50 L1007.93,791.50 L1007.93,784.13 L1007.93,784.13 L1007.93,776.76 L1007.51,776.76 L1007.51,769.39 L1007.51,769.39 L1007.51,762.02 L1007.09,762.02 L1007.09,754.65 L1007.09,754.65 L1007.09,747.28 L1006.66,747.28 L1006.66,739.91 L1006.24,739.91 L1006.24,732.54 L1005.82,732.54 L1005.82,725.17 L1005.40,725.17 L1005.40,717.80 L1005.40,717.80 L1005.40,710.43 L1005.40,710.43 L1005.40,703.06 L1005.40,703.06 L1005.40,695.69 L1005.40,695.69 L1005.40,688.32 L1005.40,688.32 L1005.40,680.95 L1005.40,680.95 L1005.40,673.58 L1005.40,673.58 L1005.40,666.21 L1005.40,666.21 L1005.40,658.84 L1005.40,658.84 L1005.40,651.47 L1005.40,651.47 L1005.40,644.10 L1005.40,644.10 L1005.40,636.73 L1005.40,636.73 L1005.40,629.36 L1005.40,629.36 L1005.40,621.99 L1005.40,621.99 L1005.40,614.62 L1005.40,614.62 L1005.40,607.25 L1005.40,607.25 L1005.40,599.88 L1005.40,599.88 L1005.40,592.51 L1005.40,592.51 L1005.40,585.14 L1005.40,585.14 L1005.40,577.77 L1005.40,577.77 L1005.40,570.40 L1005.40,570.40 L1005.40,563.03 L1005.40,563.03 L1005.40,555.66 L1005.40,555.66 L1005.40,548.29 L1005.40,548.29 L1005.40,540.92 L1005.40,540.92 L1005.40,533.55 L1005.40,533.55 L1005.40,526.18 L1005.40,526.18 L1005.40,518.81 L1005.40,518.81 L1005.40,511.44 L1005.40,511.44 L1005.40,504.07 L1005.40,504.07 L1005.40,496.70 L1005.40,496.70 L1005.40,489.33 L1005.40,489.33 L1005.40,481.96 L1005.40,481.96 L1005.40,474.59 L1005.40,474.59 L1005.40,467.22 L1005.40,467.22 L1005.40,459.85 L1005.40,459.85 L1005.40,452.48 L1005.40,452.48 L1005.40,445.11 L1005.40,445.11 L1005.40,437.74 L1005.40,437.74 L1005.40,430.37 L1005.40,430.37 L1005.40,423.00 L1005.40,423.00 L1005.40,415.63 L1005.40,415.63 L1005.40,408.26 L1005.40,408.26 L1005.40,400.89 L1005.40,400.89 L1005.40,393.52 L1005.40,393.52 L1005.40,386.15 L1005.40,386.15 L1005.40,378.78 L1005.40,378.78 L1005.40,371.41 L1005.40,371.41 L1005.40,364.04 L1005.40,364.04 L1005.40,356.67 L1005.40,356.67 L1005.40,349.30 L1005.40,349.30 L1005.40,341.93 L1005.40,341.93 L1005.40,334.56 L1005.40,334.56 L1005.40,327.19 L1005.40,327.19 L1005.40,319.82 L1005.40,319.82 L1005.40,312.45 L1005.40,312.45 L1005.40,305.08 L1005.40,305.08 L1005.40,297.71 L1005.40,297.71 L1005.40,290.34 L1005.40,290.34 L1005.40,282.97 L1005.40,282.97 L1005.40,275.60 L1005.40,275.60" fill="none" stroke="#bcbd22" stroke-width="2"/>
<path d="M1005.40,1012.60 L1005.40,1012.60 L1005.40,1005.23 L1005.40,1005.23 L1005.40,997.86 L1005.40,997.86 L1005.40,990.49 L1005.40,990.49 L1005.40,983.12 L1005.40,983.12 L1005.40,975.75 L1005.40,975.75 L1005.40,968.38 L1005.40,968.38 L1005.40,961.01 L1005.40,961.01 L1005.40,953.64 L1005.40,953.64 L1005.40,946.27 L1005.40,946.27 L1005.40,938.90 L1005.40,938.90 L1005.40,931.53 L1005.40,931.53 L1005.40,924.16 L1005.40,924.16 L1005.40,916.79 L1005.40,916.79 L1005.40,909.42 L1005.40,909.42 L1005.40,902.05 L1005.40,902.05 L1005.40,894.68 L1006.24,894.68 L1006.24,887.31 L1007.93,887.31 L1007.93,879.94 L1011.72,879.94 L1011.72,872.57 L1015.94,872.57 L1015.94,865.20 L1018.04,865.20 L1018.04,857.83 L1018.89,857.83 L1018.89,850.46 L1018.47,850.46 L1018.47,843.09 L1018.04,843.09 L1018.04,835.72 L1015.94,835.72 L1015.94,828.35 L1013.83,828.35 L1013.83,820.98 L1012.14,820.98 L1012.14,813.61 L1011.72,813.61 L1011.72,806.24 L1011.30,806.24 L1011.30,798.87 L1011.72,798.87 L1011.72,791.50 L1011.30,791.50 L1011.30,784.13 L1010.88,784.13 L1010.88,776.76 L1010.46,776.76 L1010.46,769.39 L1010.04,769.39 L1010.04,762.02 L1009.62,762.02 L1009.62,754.65 L1009.19,754.65 L1009.19,747.28 L1008.77,747.28 L1008.77,739.91 L1008.77,739.91 L1008.77,732.54 L1008.35,732.54 L1008.35,725.17 L1007.93,725.17 L1007.93,717.80 L1007.51,717.80 L1007.51,710.43 L1007.09,710.43 L1007.09,703.06 L1006.66,703.06 L1006.66,695.69 L1006.24,695.69 L1006.24,688.32 L1006.03,688.32 L1006.03,680.95 L1005.82,680.95 L1005.82,673.58 L1005.40,673.58 L1005.40,666.21 L1005.40,666.21 L1005.40,658.84 L1005.40,658.84 L1005.40,651.47 L1005.40,651.47 L1005.40,644.10 L1005.40,644.10 L1005.40,636.73 L1005.40,636.73 L1005.40,629.36 L1005.40,629.36 L1005.40,621.99 L1005.40,621.99 L1005.40,614.62 L1005.40,614.62 L1005.40,607.25 L1005.40,607.25 L1005.40,599.88 L1005.40,599.88 L1005.40,592.51 L1005.40,592.51 L1005.40,585.14 L1005.40,585.14 L1005.40,577.77 L1005.40,577.77 L1005.40,570.40 L1005.40,570.40 L1005.40,563.03 L1005.40,563.03 L1005.40,555.66 L1005.40,555.66 L1005.40,548.29 L1005.40,548.29 L1005.40,540.92 L1005.40,540.92 L1005.40,533.55 L1005.40,533.55 L1005.40,526.18 L1005.40,526.18 L1005.40,518.81 L1005.40,518.81 L1005.40,511.44 L1005.40,511.44 L1005.40,504.07 L1005.40,504.07 L1005.40,496.70 L1005.40,496.70 L1005.40,489.33 L1005.40,489.33 L1005.40,481.96 L1005.40,481.96 L1005.40,474.59 L1005.40,474.59 L1005.40,467.22 L1005.40,467.22 L1005.40,459.85 L1005.40,459.85 L1005.40,452.48 L1005.40,452.48 L1005.40,445.11 L1005.40,445.11 L1005.40,437.74 L1005.40,437.74 L1005.40,430.37 L1005.40,430.37 L1005.40,423.00 L1005.40,423.00 L1005.40,415.63 L1005.40,415.63 L1005.40,408.26 L1005.40,408.26 L1005.40,400.89 L1005.40,400.89 L1005.40,393.52 L1005.40,393.52 L1005.40,386.15 L1005.40,386.15 L1005.40,378.78 L1005.40,378.78 L1005.40,371.41 L1005.40,371.41 L1005.40,364.04 L1005.40,364.04 L1005.40,356.67 L1005.40,356.67 L1005.40,349.30 L1005.40,349.30 L1005.40,341.93 L1005.40,341.93 L1005.40,334.56 L1005.40,334.56 L1005.40,327.19 L1005.40,327.19 L1005.40,319.82 L1005.40,319.82 L1005.40,312.45 L1005.40,312.45 L1005.40,305.08 L1005.40,305.08 L1005.40,297.71 L1005.40,297.71 L1005.40,290.34 L1005.40,290.34 L1005.40,282.97 L1005.40,282.97 L1005.40,275.60 L1005.40,275.60" fill="none" stroke="#ff7f0e" stroke-width="2"/>
<path d="M1005.40,1012.60 L1005.40,1012.60 L1005.40,1005.23 L1005.40,1005.23 L1005.40,997.86 L1005.40,997.86 L1005.40,990.49 L1005.40,990.49 L1005.40,983.12 L1005.40,983.12 L1005.40,975.75 L1005.40,975.75 L1005.40,968.38 L1005.40,968.38 L1005.40,961.01 L1005.40,961.01 L1005.40,953.64 L1005.40,953.64 L1005.40,946.27 L1005.40,946.27 L1005.40,938.90 L1005.40,938.90 L1005.40,931.53 L1005.40,931.53 L1005.40,924.16 L1005.40,924.16 L1005.40,916.79 L1005.40,916.79 L1005.40,909.42 L1005.40,909.42 L1005.40,902.05 L1005.40,902.05 L1005.40,894.68 L1005.40,894.68 L1005.40,887.31 L1005.40,887.31 L1005.40,879.94 L1006.24,879.94 L1006.24,872.57 L1006.66,872.57 L1006.66,865.20 L1007.09,865.20 L1007.09,857.83 L1007.51,857.83 L1007.51,850.46 L1007.93,850.46 L1007.93,843.09 L1008.35,843.09 L1008.35,835.72 L1008.77,835.72 L1008.77,828.35 L1009.19,828.35 L1009.19,820.98 L1009.62,820.98 L1009.62,813.61 L1010.04,813.61 L1010.04,806.24 L1010.46,806.24 L1010.46,798.87 L1011.30,798.87 L1011.30,791.50 L1011.72,791.50 L1011.72,784.13 L1012.99,784.13 L1012.99,776.76 L1013.83,776.76 L1013.83,769.39 L1015.52,769.39 L1015.52,762.02 L1012.99,762.02 L1012.99,754.65 L1011.72,754.65 L1011.72,747.28 L1010.46,747.28 L1010.46,739.91 L1014.46,739.91 L1014.46,732.54 L1012.99,732.54 L1012.99,725.17 L1011.72,725.17 L1011.72,717.80 L1011.30,717.80 L1011.30,710.43 L1010.42,710.43 L1010.42,703.06 L1010.04,703.06 L1010.04,695.69 L1009.62,695.69 L1009.62,688.32 L1009.40,688.32 L1009.40,680.95 L1008.35,680.95 L1008.35,673.58 L1007.51,673.58 L1007.51,666.21 L1006.66,666.21 L1006.66,658.84 L1006.03,658.84 L1006.03,651.47 L1005.40,651.47 L1005.40,644.10 L1005.40,644.10 L1005.40,636.73 L1005.40,636.73 L1005.40,629.36 L1005.40,629.36 L1005.40,621.99 L1005.40,621.99 L1005.40,614.62 L1005.40,614.62 L1005.40,607.25 L1005.40,607.25 L1005.40,599.88 L1005.40,599.88 L1005.40,592.51 L1005.40,592.51 L1005.40,585.14 L1005.40,585.14 L1005.40,577.77 L1005.40,577.77 L1005.40,570.40 L1005.40,570.40 L1005.40,563.03 L1005.40,563.03 L1005.40,555.66 L1005.40,555.66 L1005.40,548.29 L1005.40,548.29 L1005.40,540.92 L1005.40,540.92 L1005.40,533.55 L1005.40,533.55 L1005.40,526.18 L1005.40,526.18 L1005.40,518.81 L1005.40,518.81 L1005.40,511.44 L1005.40,511.44 L1005.40,504.07 L1005.40,504.07 L1005.40,496.70 L1005.40,496.70 L1005.40,489.33 L1005.40,489.33 L1005.40,481.96 L1005.40,481.96 L1005.40,474.59 L1005.40,474.59 L1005.40,467.22 L1005.40,467.22 L1005.40,459.85 L1005.40,459.85 L1005.40,452.48 L1005.40,452.48 L1005.40,445.11 L1005.40,445.11 L1005.40,437.74 L1005.40,437.74 L1005.40,430.37 L1005.40,430.37 L1005.40,423.00 L1005.40,423.00 L1005.40,415.63 L1005.40,415.63 L1005.40,408.26 L1005.40,408.26 L1005.40,400.89 L1005.40,400.89 L1005.40,393.52 L1005.40,393.52 L1005.40,386.15 L1005.40,386.15 L1005.40,378.78 L1005.40,378.78 L1005.40,371.41 L1005.40,371.41 L1005.40,364.04 L1005.40,364.04 L1005.40,356.67 L1005.40,356.67 L1005.40,349.30 L1005.40,349.30 L1005.40,341.93 L1005.40,341.93 L1005.40,334.56 L1005.40,334.56 L1005.40,327.19 L1005.40,327.19 L1005.40,319.82 L1005.40,319.82 L1005.40,312.45 L1005.40,312.45 L1005.40,305.08 L1005.40,305.08 L1005.40,297.71 L1005.40,297.71 L1005.40,290.34 L1005.40,290.34 L1005.40,282.97 L1005.40,282.97 L1005.40,275.60 L1005.40,275.60" fill="none" stroke="#9467bd" stroke-width="2"/>
<path d="M1005.40,1012.60 L1005.40,1012.60 L1005.40,1005.23 L1005.40,1005.23 L1005.40,997.86 L1005.40,997.86 L1005.40,990.49 L1005.40,990.49 L1005.40,983.12 L1005.40,983.12 L1005.40,975.75 L1005.40,975.75 L1005.40,968.38 L1005.40,968.38 L1005.40,961.01 L1005.40,961.01 L1005.40,953.64 L1005.40,953.64 L1005.40,946.27 L1005.40,946.27 L1005.40,938.90 L1005.40,938.90 L1005.40,931.53 L1005.40,931.53 L1005.40,924.16 L1005.40,924.16 L1005.40,916.79 L1005.40,916.79 L1005.40,909.42 L1005.40,909.42 L1005.40,902.05 L1005.40,902.05 L1005.40,894.68 L1005.40,894.68 L1005.40,887.31 L1005.40,887.31 L1005.40,879.94 L1006.24,879.94 L1006.24,872.57 L1006.66,872.57 L1006.66,865.20 L1007.09,865.20 L1007.09,857.83 L1007.30,857.83 L1007.30,850.46 L1007.51,850.46 L1007.51,843.09 L1007.72,843.09 L1007.72,835.72 L1007.93,835.72 L1007.93,828.35 L1007.93,828.35 L1007.93,820.98 L1008.77,820.98 L1008.77,813.61 L1009.19,813.61 L1009.19,806.24 L1009.62,806.24 L1009.62,798.87 L1011.30,798.87 L1011.30,791.50 L1014.67,791.50 L1014.67,784.13 L1016.36,784.13 L1016.36,776.76 L1017.62,776.76 L1017.62,769.39 L1021.42,769.39 L1021.42,762.02 L1023.74,762.02 L1023.74,754.65 L1022.26,754.65 L1022.26,747.28 L1018.04,747.28 L1018.04,739.91 L1016.70,739.91 L1016.70,732.54 L1015.52,732.54 L1015.52,725.17 L1014.67,725.17 L1014.67,717.80 L1013.83,717.80 L1013.83,710.43 L1012.99,710.43 L1012.99,703.06 L1012.48,703.06 L1012.48,695.69 L1011.30,695.69 L1011.30,688.32 L1010.04,688.32 L1010.04,680.95 L1009.19,680.95 L1009.19,673.58 L1008.35,673.58 L1008.35,666.21 L1007.51,666.21 L1007.51,658.84 L1006.66,658.84 L1006.66,651.47 L1005.40,651.47 L1005.40,644.10 L1005.40,644.10 L1005.40,636.73 L1005.40,636.73 L1005.40,629.36 L1005.40,629.36 L1005.40,621.99 L1005.40,621.99 L1005.40,614.62 L1005.40,614.62 L1005.40,607.25 L1005.40,607.25 L1005.40,599.88 L1005.40,599.88 L1005.40,592.51 L1005.40,592.51 L1005.40,585.14 L1005.40,585.14 L1005.40,577.77 L1005.40,577.77 L1005.40,570.40 L1005.40,570.40 L1005.40,563.03 L1005.40,563.03 L1005.40,555.66 L1005.40,555.66 L1005.40,548.29 L1005.40,548.29 L1005.40,540.92 L1005.40,540.92 L1005.40,533.55 L1005.40,533.55 L1005.40,526.18 L1005.40,526.18 L1005.40,518.81 L1005.40,518.81 L1005.40,511.44 L1005.40,511.44 L1005.40,504.07 L1005.40,504.07 L1005.40,496.70 L1005.40,496.70 L1005.40,489.33 L1005.40,489.33 L1005.40,481.96 L1005.40,481.96 L1005.40,474.59 L1005.40,474.59 L1005.40,467.22 L1005.40,467.22 L1005.40,459.85 L1005.40,459.85 L1005.40,452.48 L1005.40,452.48 L1005.40,445.11 L1005.40,445.11 L1005.40,437.74 L1005.40,437.74 L1005.40,430.37 L1005.40,430.37 L1005.40,423.00 L1005.40,423.00 L1005.40,415.63 L1005.40,415.63 L1005.40,408.26 L1005.40,408.26 L1005.40,400.89 L1005.40,400.89 L1005.40,393.52 L1005.40,393.52 L1005.40,386.15 L1005.40,386.15 L1005.40,378.78 L1005.40,378.78 L1005.40,371.41 L1005.40,371.41 L1005.40,364.04 L1005.40,364.04 L1005.40,356.67 L1005.40,356.67 L1005.40,349.30 L1005.40,349.30 L1005.40,341.93 L1005.40,341.93 L1005.40,334.56 L1005.40,334.56 L1005.40,327.19 L1005.40,327.19 L1005.40,319.82 L1005.40,319.82 L1005.40,312.45 L1005.40,312.45 L1005.40,305.08 L1005.40,305.08 L1005.40,297.71 L1005.40,297.71 L1005.40,290.34 L1005.40,290.34 L1005.40,282.97 L1005.40,282.97 L1005.40,275.60 L1005.40,275.60" fill="none" stroke="#e377c2" stroke-width="2"/>
<path d="M1005.40,1012.60 L1005.40,1012.60 L1005.40,1005.23 L1005.40,1005.23 L1005.40,997.86 L1005.40,997.86 L1005.40,990.49 L1005.40,990.49 L1005.40,983.12 L1005.40,983.12 L1005.40,975.75 L1005.40,975.75 L1005.40,968.38 L1005.40,968.38 L1005.40,961.01 L1005.40,961.01 L1005.40,953.64 L1005.40,953.64 L1005.40,946.27 L1005.40,946.27 L1005.40,938.90 L1005.40,938.90 L1005.40,931.53 L1005.40,931.53 L1005.40,924.16 L1005.40,924.16 L1005.40,916.79 L1005.40,916.79 L1005.40,909.42 L1005.40,909.42 L1005.40,902.05 L1005.61,902.05 L1005.61,894.68 L1005.82,894.68 L1005.82,887.31 L1006.24,887.31 L1006.24,879.94 L1007.51,879.94 L1007.51,872.57 L1009.19,872.57 L1009.19,865.20 L1010.04,865.20 L1010.04,857.83 L1010.88,857.83 L1010.88,850.46 L1011.72,850.46 L1011.72,843.09 L1012.14,843.09 L1012.14,835.72 L1012.57,835.72 L1012.57,828.35 L1012.99,828.35 L1012.99,820.98 L1013.41,820.98 L1013.41,813.61 L1013.28,813.61 L1013.28,806.24 L1017.12,806.24 L1017.12,798.87 L1013.28,798.87 L1013.28,791.50 L1023.10,791.50 L1023.10,784.13 L1024.37,784.13 L1024.37,776.76 L1025.72,776.76 L1025.72,769.39 L1024.79,769.39 L1024.79,762.02 L1022.26,762.02 L1022.26,754.65 L1022.89,754.65 L1022.89,747.28 L1019.98,747.28 L1019.98,739.91 L1019.69,739.91 L1019.69,732.54 L1019.69,732.54 L1019.69,725.17 L1019.69,725.17 L1019.69,717.80 L1015.90,717.80 L1015.90,710.43 L1015.90,710.43 L1015.90,703.06 L1014.00,703.06 L1014.00,695.69 L1012.02,695.69 L1012.02,688.32 L1011.01,688.32 L1011.01,680.95 L1009.62,680.95 L1009.62,673.58 L1009.62,673.58 L1009.62,666.21 L1009.62,666.21 L1009.62,658.84 L1010.21,658.84 L1010.21,651.47 L1007.93,651.47 L1007.93,644.10 L1007.51,644.10 L1007.51,636.73 L1007.09,636.73 L1007.09,629.36 L1006.66,629.36 L1006.66,621.99 L1006.45,621.99 L1006.45,614.62 L1006.24,614.62 L1006.24,607.25 L1006.03,607.25 L1006.03,599.88 L1005.82,599.88 L1005.82,592.51 L1005.40,592.51 L1005.40,585.14 L1005.40,585.14 L1005.40,577.77 L1005.40,577.77 L1005.40,570.40 L1005.40,570.40 L1005.40,563.03 L1005.40,563.03 L1005.40,555.66 L1005.40,555.66 L1005.40,548.29 L1005.40,548.29 L1005.40,540.92 L1005.40,540.92 L1005.40,533.55 L1005.40,533.55 L1005.40,526.18 L1005.40,526.18 L1005.40,518.81 L1005.40,518.81 L1005.40,511.44 L1005.40,511.44 L1005.40,504.07 L1005.40,504.07 L1005.40,496.70 L1005.40,496.70 L1005.40,489.33 L1005.40,489.33 L1005.40,481.96 L1005.40,481.96 L1005.40,474.59 L1005.40,474.59 L1005.40,467.22 L1005.40,467.22 L1005.40,459.85 L1005.40,459.85 L1005.40,452.48 L1005.40,452.48 L1005.40,445.11 L1005.40,445.11 L1005.40,437.74 L1005.40,437.74 L1005.40,430.37 L1005.40,430.37 L1005.40,423.00 L1005.40,423.00 L1005.40,415.63 L1005.40,415.63 L1005.40,408.26 L1005.40,408.26 L1005.40,400.89 L1005.40,400.89 L1005.40,393.52 L1005.40,393.52 L1005.40,386.15 L1005.40,386.15 L1005.40,378.78 L1005.40,378.78 L1005.40,371.41 L1005.40,371.41 L1005.40,364.04 L1005.40,364.04 L1005.40,356.67 L1005.40,356.67 L1005.40,349.30 L1005.40,349.30 L1005.40,341.93 L1005.40,341.93 L1005.40,334.56 L1005.40,334.56 L1005.40,327.19 L1005.40,327.19 L1005.40,319.82 L1005.40,319.82 L1005.40,312.45 L1005.40,312.45 L1005.40,305.08 L1005.40,305.08 L1005.40,297.71 L1005.40,297.71 L1005.40,290.34 L1005.40,290.34 L1005.40,282.97 L1005.40,282.97 L1005.40,275.60 L1005.40,275.60" fill="none" stroke="#d62728" stroke-width="2"/>
<path d="M1005.40,1012.60 L1005.65,1012.60 L1005.65,1005.23 L1005.48,1005.23 L1005.48,997.86 L1005.48,997.86 L1005.48,990.49 L1005.48,990.49 L1005.48,983.12 L1005.48,983.12 L1005.48,975.75 L1005.48,975.75 L1005.48,968.38 L1005.48,968.38 L1005.48,961.01 L1005.48,961.01 L1005.48,953.64 L1005.48,953.64 L1005.48,946.27 L1005.48,946.27 L1005.48,938.90 L1005.48,938.90 L1005.48,931.53 L1005.48,931.53 L1005.48,924.16 L1005.48,924.16 L1005.48,916.79 L1005.48,916.79 L1005.48,909.42 L1005.53,909.42 L1005.53,902.05 L1005.57,902.05 L1005.57,894.68 L1005.61,894.68 L1005.61,887.31 L1005.70,887.31 L1005.70,879.94 L1006.71,879.94 L1006.71,872.57 L1011.39,872.57 L1011.39,865.20 L1019.10,865.20 L1019.10,857.83 L1023.82,857.83 L1023.82,850.46 L1031.41,850.46 L1031.41,843.09 L1033.30,843.09 L1033.30,835.72 L1036.21,835.72 L1036.21,828.35 L1040.01,828.35 L1040.01,820.98 L1048.60,820.98 L1048.60,813.61 L1056.78,813.61 L1056.78,806.24 L1069.00,806.24 L1069.00,798.87 L1098.09,798.87 L1098.09,791.50 L1111.49,791.50 L1111.49,784.13 L1136.78,784.13 L1136.78,776.76 L1146.69,776.76 L1146.69,769.39 L1167.30,769.39 L1167.30,762.02 L1159.12,762.02 L1159.12,754.65 L1172.40,754.65 L1172.40,747.28 L1161.02,747.28 L1161.02,739.91 L1155.58,739.91 L1155.58,732.54 L1141.59,732.54 L1141.59,725.17 L1127.00,725.17 L1127.00,717.80 L1108.58,717.80 L1108.58,710.43 L1090.80,710.43 L1090.80,703.06 L1080.30,703.06 L1080.30,695.69 L1069.59,695.69 L1069.59,688.32 L1058.38,688.32 L1058.38,680.95 L1058.38,680.95 L1058.38,673.58 L1042.62,673.58 L1042.62,666.21 L1036.80,666.21 L1036.80,658.84 L1033.68,658.84 L1033.68,651.47 L1028.58,651.47 L1028.58,644.10 L1024.41,644.10 L1024.41,636.73 L1026.01,636.73 L1026.01,629.36 L1019.31,629.36 L1019.31,621.99 L1015.90,621.99 L1015.90,614.62 L1019.31,614.62 L1019.31,607.25 L1013.28,607.25 L1013.28,599.88 L1012.69,599.88 L1012.69,592.51 L1014.21,592.51 L1014.21,585.14 L1012.10,585.14 L1012.10,577.77 L1010.21,577.77 L1010.21,570.40 L1008.27,570.40 L1008.27,563.03 L1007.30,563.03 L1007.30,555.66 L1006.66,555.66 L1006.66,548.29 L1006.24,548.29 L1006.24,540.92 L1005.91,540.92 L1005.91,533.55 L1005.74,533.55 L1005.74,526.18 L1005.61,526.18 L1005.61,518.81 L1005.53,518.81 L1005.53,511.44 L1005.48,511.44 L1005.48,504.07 L1005.44,504.07 L1005.44,496.70 L1005.44,496.70 L1005.44,489.33 L1005.40,489.33 L1005.40,481.96 L1005.40,481.96 L1005.40,474.59 L1005.40,474.59 L1005.40,467.22 L1005.40,467.22 L1005.40,459.85 L1005.40,459.85 L1005.40,452.48 L1005.40,452.48 L1005.40,445.11 L1005.40,445.11 L1005.40,437.74 L1005.40,437.74 L1005.40,430.37 L1005.40,430.37 L1005.40,423.00 L1005.40,423.00 L1005.40,415.63 L1005.40,415.63 L1005.40,408.26 L1005.40,408.26 L1005.40,400.89 L1005.40,400.89 L1005.40,393.52 L1005.40,393.52 L1005.40,386.15 L1005.40,386.15 L1005.40,378.78 L1005.40,378.78 L1005.40,371.41 L1005.40,371.41 L1005.40,364.04 L1005.40,364.04 L1005.40,356.67 L1005.40,356.67 L1005.40,349.30 L1005.40,349.30 L1005.40,341.93 L1005.40,341.93 L1005.40,334.56 L1005.40,334.56 L1005.40,327.19 L1005.40,327.19 L1005.40,319.82 L1005.40,319.82 L1005.40,312.45 L1005.40,312.45 L1005.40,305.08 L1005.40,305.08 L1005.40,297.71 L1005.40,297.71 L1005.40,290.34 L1005.40,290.34 L1005.40,282.97 L1005.40,282.97 L1005.40,275.60 L1005.40,275.60" fill="none" stroke="#1f77b4" stroke-width="2"/>
</g>
<line x1="1002.90" x2="1005.4" y1="1136.30" y2="1136.30" stroke="#555" stroke-width="1"/>
<line x1="1003.40" x2="1005.4" y1="1099.42" y2="1099.42" stroke="#777" stroke-width="0.8"/>
<line x1="1003.40" x2="1005.4" y1="1077.85" y2="1077.85" stroke="#777" stroke-width="0.8"/>
<line x1="1003.40" x2="1005.4" y1="1062.55" y2="1062.55" stroke="#777" stroke-width="0.8"/>
<line x1="1003.40" x2="1005.4" y1="1050.68" y2="1050.68" stroke="#777" stroke-width="0.8"/>
<line x1="1003.40" x2="1005.4" y1="1040.98" y2="1040.98" stroke="#777" stroke-width="0.8"/>
<line x1="1003.40" x2="1005.4" y1="1032.78" y2="1032.78" stroke="#777" stroke-width="0.8"/>
<line x1="1003.40" x2="1005.4" y1="1025.67" y2="1025.67" stroke="#777" stroke-width="0.8"/>
<line x1="1003.40" x2="1005.4" y1="1019.41" y2="1019.41" stroke="#777" stroke-width="0.8"/>
<line x1="1002.90" x2="1005.4" y1="1013.80" y2="1013.80" stroke="#555" stroke-width="1"/>
<line x1="1003.40" x2="1005.4" y1="976.92" y2="976.92" stroke="#777" stroke-width="0.8"/>
<line x1="1003.40" x2="1005.4" y1="955.35" y2="955.35" stroke="#777" stroke-width="0.8"/>
<line x1="1003.40" x2="1005.4" y1="940.05" y2="940.05" stroke="#777" stroke-width="0.8"/>
<line x1="1003.40" x2="1005.4" y1="928.18" y2="928.18" stroke="#777" stroke-width="0.8"/>
<line x1="1003.40" x2="1005.4" y1="918.48" y2="918.48" stroke="#777" stroke-width="0.8"/>
<line x1="1003.40" x2="1005.4" y1="910.28" y2="910.28" stroke="#777" stroke-width="0.8"/>
<line x1="1003.40" x2="1005.4" y1="903.17" y2="903.17" stroke="#777" stroke-width="0.8"/>
<line x1="1003.40" x2="1005.4" y1="896.91" y2="896.91" stroke="#777" stroke-width="0.8"/>
<line x1="1002.90" x2="1005.4" y1="891.30" y2="891.30" stroke="#555" stroke-width="1"/>
<line x1="1003.40" x2="1005.4" y1="854.42" y2="854.42" stroke="#777" stroke-width="0.8"/>
<line x1="1003.40" x2="1005.4" y1="832.85" y2="832.85" stroke="#777" stroke-width="0.8"/>
<line x1="1003.40" x2="1005.4" y1="817.55" y2="817.55" stroke="#777" stroke-width="0.8"/>
<line x1="1003.40" x2="1005.4" y1="805.68" y2="805.68" stroke="#777" stroke-width="0.8"/>
<line x1="1003.40" x2="1005.4" y1="795.98" y2="795.98" stroke="#777" stroke-width="0.8"/>
<line x1="1003.40" x2="1005.4" y1="787.78" y2="787.78" stroke="#777" stroke-width="0.8"/>
<line x1="1003.40" x2="1005.4" y1="780.67" y2="780.67" stroke="#777" stroke-width="0.8"/>
<line x1="1003.40" x2="1005.4" y1="774.41" y2="774.41" stroke="#777" stroke-width="0.8"/>
<line x1="1002.90" x2="1005.4" y1="768.80" y2="768.80" stroke="#555" stroke-width="1"/>
<line x1="1003.40" x2="1005.4" y1="731.92" y2="731.92" stroke="#777" stroke-width="0.8"/>
<line x1="1003.40" x2="1005.4" y1="710.35" y2="710.35" stroke="#777" stroke-width="0.8"/>
<line x1="1003.40" x2="1005.4" y1="695.05" y2="695.05" stroke="#777" stroke-width="0.8"/>
<line x1="1003.40" x2="1005.4" y1="683.18" y2="683.18" stroke="#777" stroke-width="0.8"/>
<line x1="1003.40" x2="1005.4" y1="673.48" y2="673.48" stroke="#777" stroke-width="0.8"/>
<line x1="1003.40" x2="1005.4" y1="665.28" y2="665.28" stroke="#777" stroke-width="0.8"/>
<line x1="1003.40" x2="1005.4" y1="658.17" y2="658.17" stroke="#777" stroke-width="0.8"/>
<line x1="1003.40" x2="1005.4" y1="651.91" y2="651.91" stroke="#777" stroke-width="0.8"/>
<line x1="1002.90" x2="1005.4" y1="646.30" y2="646.30" stroke="#555" stroke-width="1"/>
<line x1="1003.40" x2="1005.4" y1="609.42" y2="609.42" stroke="#777" stroke-width="0.8"/>
<line x1="1003.40" x2="1005.4" y1="587.85" y2="587.85" stroke="#777" stroke-width="0.8"/>
<line x1="1003.40" x2="1005.4" y1="572.55" y2="572.55" stroke="#777" stroke-width="0.8"/>
<line x1="1003.40" x2="1005.4" y1="560.68" y2="560.68" stroke="#777" stroke-width="0.8"/>
<line x1="1003.40" x2="1005.4" y1="550.98" y2="550.98" stroke="#777" stroke-width="0.8"/>
<line x1="1003.40" x2="1005.4" y1="542.78" y2="542.78" stroke="#777" stroke-width="0.8"/>
<line x1="1003.40" x2="1005.4" y1="535.67" y2="535.67" stroke="#777" stroke-width="0.8"/>
<line x1="1003.40" x2="1005.4" y1="529.41" y2="529.41" stroke="#777" stroke-width="0.8"/>
<line x1="1002.90" x2="1005.4" y1="523.80" y2="523.80" stroke="#555" stroke-width="1"/>
<line x1="1003.40" x2="1005.4" y1="486.92" y2="486.92" stroke="#777" stroke-width="0.8"/>
<line x1="1003.40" x2="1005.4" y1="465.35" y2="465.35" stroke="#777" stroke-width="0.8"/>
<line x1="1003.40" x2="1005.4" y1="450.05" y2="450.05" stroke="#777" stroke-width="0.8"/>
<line x1="1003.40" x2="1005.4" y1="438.18" y2="438.18" stroke="#777" stroke-width="0.8"/>
<line x1="1003.40" x2="1005.4" y1="428.48" y2="428.48" stroke="#777" stroke-width="0.8"/>
<line x1="1003.40" x2="1005.4" y1="420.28" y2="420.28" stroke="#777" stroke-width="0.8"/>
<line x1="1003.40" x2="1005.4" y1="413.17" y2="413.17" stroke="#777" stroke-width="0.8"/>
<line x1="1003.40" x2="1005.4" y1="406.91" y2="406.91" stroke="#777" stroke-width="0.8"/>
<line x1="1002.90" x2="1005.4" y1="401.30" y2="401.30" stroke="#555" stroke-width="1"/>
<line x1="1003.40" x2="1005.4" y1="364.42" y2="364.42" stroke="#777" stroke-width="0.8"/>
<line x1="1005.40" x2="1005.40" y1="1135.6" y2="1139.6" stroke="#555" stroke-width="1"/>
<g transform="translate(1001.10,0) rotate(90)"><text x="1141.11" y="0.00" font-size="19.40" textLength="11.00" lengthAdjust="spacingAndGlyphs" fill="#000">0</text></g>
<line x1="1089.70" x2="1089.70" y1="1135.6" y2="1139.6" stroke="#555" stroke-width="1"/>
<g transform="translate(1085.40,0) rotate(90)"><text x="1140.85" y="0.00" font-size="19.40" textLength="46.91" lengthAdjust="spacingAndGlyphs" fill="#000">2000</text></g>
<line x1="1174.00" x2="1174.00" y1="1135.6" y2="1139.6" stroke="#555" stroke-width="1"/>
<g transform="translate(1169.70,0) rotate(90)"><text x="1141.43" y="0.00" font-size="19.40" textLength="46.80" lengthAdjust="spacingAndGlyphs" fill="#000">4000</text></g>
<line x1="1258.30" x2="1258.30" y1="1135.6" y2="1139.6" stroke="#555" stroke-width="1"/>
<g transform="translate(1254.00,0) rotate(90)"><text x="1140.84" y="0.00" font-size="19.40" textLength="46.96" lengthAdjust="spacingAndGlyphs" fill="#000">6000</text></g>
<text x="1090.67" y="1213.60" font-size="18.80" textLength="89.99" lengthAdjust="spacingAndGlyphs" fill="#000">Span (kb)</text>
<text x="0.11" y="1283.50" font-size="27.50" font-weight="bold" textLength="21.31" lengthAdjust="spacingAndGlyphs" fill="#000">B</text>
<text x="75.64" y="1284.90" font-size="30.00" textLength="97.60" lengthAdjust="spacingAndGlyphs" fill="#000">BUSCO</text>
<rect x="80" y="1315.2" width="25.50" height="25.90" fill="#28a024" stroke="#000" stroke-width="2"/>
<rect x="80" y="1354.3" width="25.50" height="25.50" fill="#1a5e1a" stroke="#000" stroke-width="2"/>
<rect x="302.1" y="1314.4" width="26.40" height="25.90" fill="#7fff00" stroke="#000" stroke-width="2"/>
<rect x="302.1" y="1354.2" width="26.40" height="25.50" fill="#f7f7f7" stroke="#000" stroke-width="2"/>
<text x="114.36" y="1333.60" font-size="21.60" textLength="168.08" lengthAdjust="spacingAndGlyphs" fill="#000">Complete (91.3%)</text>
<text x="114.27" y="1374.90" font-size="21.60" textLength="178.79" lengthAdjust="spacingAndGlyphs" fill="#000">Duplicated (34.5%)</text>
<text x="337.39" y="1333.90" font-size="21.60" textLength="178.76" lengthAdjust="spacingAndGlyphs" fill="#000">Fragmented (1.8%)</text>
<text x="338.49" y="1375.20" font-size="21.60" textLength="136.86" lengthAdjust="spacingAndGlyphs" fill="#000">Missing (6.9%)</text>
<circle cx="293.4" cy="1577.8" r="85.5" fill="none" stroke="#28a024" stroke-width="59.0"/>
<path d="M293.40,1462.50 A115.3,115.3 0 0 1 388.76,1642.61 L339.47,1609.11 A55.7,55.7 0 0 0 293.40,1522.10 Z" fill="#006400"/>
<path d="M388.51,1642.44 A115.0,115.0 0 0 1 387.69,1643.63 L339.32,1609.86 A56.0,56.0 0 0 0 339.72,1609.28 Z" fill="#1a6a1a"/>
<path d="M233.47,1479.30 A115.3,115.3 0 0 1 244.96,1473.17 L270.00,1527.25 A55.7,55.7 0 0 0 264.45,1530.22 Z" fill="#7fff00"/>
<path d="M245.09,1473.44 A115.0,115.0 0 0 1 293.39,1462.80 L293.40,1522.80 A55.0,55.0 0 0 0 270.30,1527.89 Z" fill="#ffffff"/>
<circle cx="293.4" cy="1577.8" r="115.0" fill="none" stroke="#000" stroke-width="1.5"/>
<line x1="294.9" x2="294.9" y1="1455" y2="1580.5" stroke="#000" stroke-width="2"/>
<text x="279.93" y="1452.60" font-size="24.50" textLength="34.92" lengthAdjust="spacingAndGlyphs" fill="#000">0%</text>
<text x="417.49" y="1583.00" font-size="24.50" textLength="29.23" lengthAdjust="spacingAndGlyphs" fill="#000">25</text>
<text x="139.19" y="1583.00" font-size="24.50" textLength="29.23" lengthAdjust="spacingAndGlyphs" fill="#000">75</text>
<text x="281.42" y="1718.10" font-size="24.50" textLength="30.17" lengthAdjust="spacingAndGlyphs" fill="#000">50</text>
<text x="604.39" y="1283.30" font-size="28.00" font-weight="bold" textLength="21.83" lengthAdjust="spacingAndGlyphs" fill="#000">C</text>
<text x="688.17" y="1279.10" font-size="30.00" textLength="302.02" lengthAdjust="spacingAndGlyphs" fill="#000">Transcript annotation</text>
<rect x="984.6" y="1314.3" width="25.9" height="25.9" fill="#aeeeee" stroke="#000" stroke-width="2"/>
<rect x="1101.7" y="1314.3" width="25.9" height="25.9" fill="#ff6a6a" stroke="#000" stroke-width="2"/>
<text x="1019.33" y="1333.80" font-size="21.00" textLength="59.76" lengthAdjust="spacingAndGlyphs" fill="#000">No Hit</text>
<text x="1137.06" y="1333.80" font-size="21.00" textLength="27.20" lengthAdjust="spacingAndGlyphs" fill="#000">Hit</text>
<text x="643.11" y="1372.00" font-size="25.80" textLength="46.46" lengthAdjust="spacingAndGlyphs" fill="#000">100</text>
<text x="658.71" y="1492.17" font-size="25.80" textLength="30.97" lengthAdjust="spacingAndGlyphs" fill="#000">75</text>
<text x="659.00" y="1612.35" font-size="25.80" textLength="30.60" lengthAdjust="spacingAndGlyphs" fill="#000">50</text>
<text x="658.71" y="1732.53" font-size="25.80" textLength="30.97" lengthAdjust="spacingAndGlyphs" fill="#000">25</text>
<text x="674.09" y="1852.70" font-size="25.80" textLength="15.49" lengthAdjust="spacingAndGlyphs" fill="#000">0</text>
<rect x="709.50" y="1361.00" width="57.60" height="256.21" fill="#aeeeee"/>
<rect x="709.50" y="1616.21" width="57.60" height="223.49" fill="#ff6a6a"/>
<line x1="709.50" x2="767.10" y1="1616.21" y2="1616.21" stroke="#000" stroke-width="2"/>
<rect x="709.50" y="1361.00" width="57.60" height="478.70" fill="none" stroke="#000" stroke-width="2"/>
<g transform="translate(757.80,1861.30) rotate(-45)"><text x="-100.71" y="0.00" font-size="27.80" textLength="101.96" lengthAdjust="spacingAndGlyphs" fill="#000">193-499</text></g>
<rect x="773.42" y="1361.00" width="57.60" height="163.92" fill="#aeeeee"/>
<rect x="773.42" y="1523.92" width="57.60" height="315.78" fill="#ff6a6a"/>
<line x1="773.42" x2="831.02" y1="1523.92" y2="1523.92" stroke="#000" stroke-width="2"/>
<rect x="773.42" y="1361.00" width="57.60" height="478.70" fill="none" stroke="#000" stroke-width="2"/>
<g transform="translate(821.72,1861.30) rotate(-45)"><text x="-101.04" y="0.00" font-size="27.80" textLength="102.29" lengthAdjust="spacingAndGlyphs" fill="#000">500-999</text></g>
<rect x="837.34" y="1361.00" width="57.60" height="72.59" fill="#aeeeee"/>
<rect x="837.34" y="1432.59" width="57.60" height="407.11" fill="#ff6a6a"/>
<line x1="837.34" x2="894.94" y1="1432.59" y2="1432.59" stroke="#000" stroke-width="2"/>
<rect x="837.34" y="1361.00" width="57.60" height="478.70" fill="none" stroke="#000" stroke-width="2"/>
<g transform="translate(885.64,1861.30) rotate(-45)"><text x="-131.74" y="0.00" font-size="27.80" textLength="133.06" lengthAdjust="spacingAndGlyphs" fill="#000">1000-1499</text></g>
<rect x="901.26" y="1361.00" width="57.60" height="23.55" fill="#aeeeee"/>
<rect x="901.26" y="1383.55" width="57.60" height="456.15" fill="#ff6a6a"/>
<line x1="901.26" x2="958.86" y1="1383.55" y2="1383.55" stroke="#000" stroke-width="2"/>
<rect x="901.26" y="1361.00" width="57.60" height="478.70" fill="none" stroke="#000" stroke-width="2"/>
<g transform="translate(949.56,1861.30) rotate(-45)"><text x="-131.74" y="0.00" font-size="27.80" textLength="133.06" lengthAdjust="spacingAndGlyphs" fill="#000">1500-1999</text></g>
<rect x="965.18" y="1361.00" width="57.60" height="11.54" fill="#aeeeee"/>
<rect x="965.18" y="1371.54" width="57.60" height="468.16" fill="#ff6a6a"/>
<line x1="965.18" x2="1022.78" y1="1371.54" y2="1371.54" stroke="#000" stroke-width="2"/>
<rect x="965.18" y="1361.00" width="57.60" height="478.70" fill="none" stroke="#000" stroke-width="2"/>
<g transform="translate(1013.48,1861.30) rotate(-45)"><text x="-132.35" y="0.00" font-size="27.80" textLength="133.68" lengthAdjust="spacingAndGlyphs" fill="#000">2000-2499</text></g>
<rect x="1029.10" y="1361.00" width="57.60" height="4.33" fill="#aeeeee"/>
<rect x="1029.10" y="1364.33" width="57.60" height="475.37" fill="#ff6a6a"/>
<line x1="1029.10" x2="1086.70" y1="1364.33" y2="1364.33" stroke="#000" stroke-width="2"/>
<rect x="1029.10" y="1361.00" width="57.60" height="478.70" fill="none" stroke="#000" stroke-width="2"/>
<g transform="translate(1077.40,1861.30) rotate(-45)"><text x="-132.35" y="0.00" font-size="27.80" textLength="133.68" lengthAdjust="spacingAndGlyphs" fill="#000">2500-2999</text></g>
<rect x="1093.02" y="1361.00" width="57.60" height="3.36" fill="#aeeeee"/>
<rect x="1093.02" y="1363.36" width="57.60" height="476.34" fill="#ff6a6a"/>
<line x1="1093.02" x2="1150.62" y1="1363.36" y2="1363.36" stroke="#000" stroke-width="2"/>
<rect x="1093.02" y="1361.00" width="57.60" height="478.70" fill="none" stroke="#000" stroke-width="2"/>
<g transform="translate(1141.32,1861.30) rotate(-45)"><text x="-131.92" y="0.00" font-size="27.80" textLength="133.24" lengthAdjust="spacingAndGlyphs" fill="#000">3000-3499</text></g>
<rect x="1156.94" y="1361.00" width="57.60" height="0.96" fill="#aeeeee"/>
<rect x="1156.94" y="1360.96" width="57.60" height="478.74" fill="#ff6a6a"/>
<line x1="1156.94" x2="1214.54" y1="1360.96" y2="1360.96" stroke="#000" stroke-width="2"/>
<rect x="1156.94" y="1361.00" width="57.60" height="478.70" fill="none" stroke="#000" stroke-width="2"/>
<g transform="translate(1205.24,1861.30) rotate(-45)"><text x="-131.92" y="0.00" font-size="27.80" textLength="133.24" lengthAdjust="spacingAndGlyphs" fill="#000">3500-3999</text></g>
<rect x="1220.86" y="1361.00" width="57.60" height="0.96" fill="#aeeeee"/>
<rect x="1220.86" y="1360.96" width="57.60" height="478.74" fill="#ff6a6a"/>
<line x1="1220.86" x2="1278.46" y1="1360.96" y2="1360.96" stroke="#000" stroke-width="2"/>
<rect x="1220.86" y="1361.00" width="57.60" height="478.70" fill="none" stroke="#000" stroke-width="2"/>
<g transform="translate(1269.16,1861.30) rotate(-45)"><text x="-132.42" y="0.00" font-size="27.80" textLength="133.75" lengthAdjust="spacingAndGlyphs" fill="#000">4000-4499</text></g>
<rect x="1284.78" y="1361.00" width="57.60" height="0.00" fill="#aeeeee"/>
<rect x="1284.78" y="1360.00" width="57.60" height="479.70" fill="#ff6a6a"/>
<rect x="1284.78" y="1361.00" width="57.60" height="478.70" fill="none" stroke="#000" stroke-width="2"/>
<g transform="translate(1333.08,1861.30) rotate(-45)"><text x="-132.42" y="0.00" font-size="27.80" textLength="133.75" lengthAdjust="spacingAndGlyphs" fill="#000">4500-4999</text></g>
<rect x="1348.70" y="1361.00" width="57.60" height="0.00" fill="#aeeeee"/>
<rect x="1348.70" y="1360.00" width="57.60" height="479.70" fill="#ff6a6a"/>
<rect x="1348.70" y="1361.00" width="57.60" height="478.70" fill="none" stroke="#000" stroke-width="2"/>
<g transform="translate(1397.00,1861.30) rotate(-45)"><text x="-76.26" y="0.00" font-size="27.80" textLength="77.60" lengthAdjust="spacingAndGlyphs" fill="#000">5000+</text></g>
<text x="938.80" y="2001.50" font-size="23.00" textLength="174.49" lengthAdjust="spacingAndGlyphs" fill="#000">Transcripts length</text>
<g transform="translate(629.80,0) rotate(-90)"><text x="-1684.47" y="0.00" font-size="23.00" textLength="150.91" lengthAdjust="spacingAndGlyphs" fill="#000">% of transcripts</text></g>
</svg></body></html>
